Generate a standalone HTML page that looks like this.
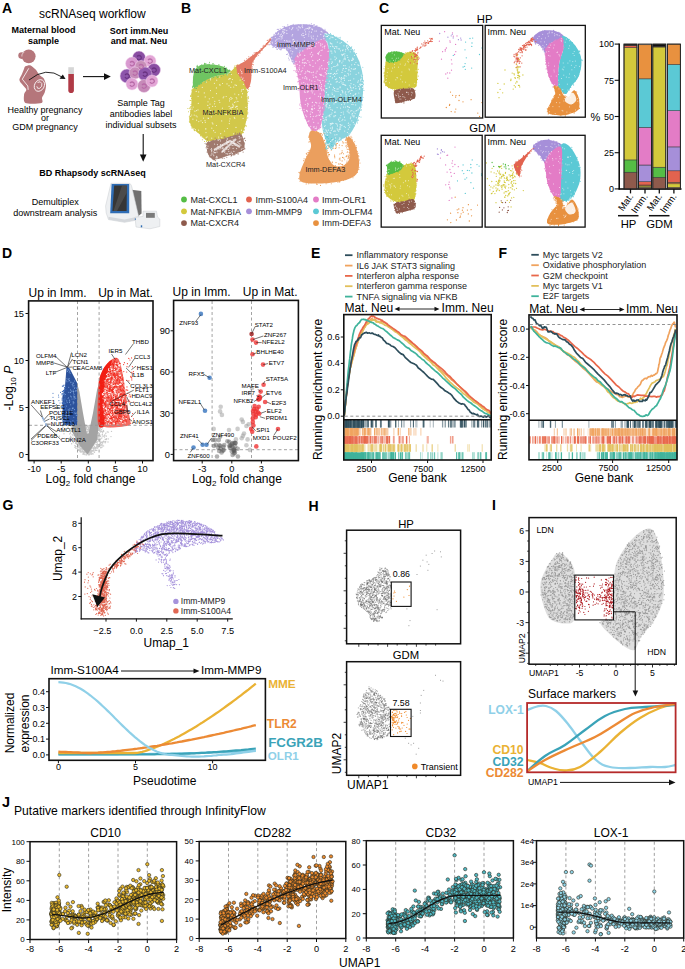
<!DOCTYPE html>
<html><head><meta charset="utf-8"><style>
html,body{margin:0;padding:0;background:#fff;}
svg{display:block;font-family:"Liberation Sans",sans-serif;}
.jc circle{r:1.7px;}
</style></head><body>
<svg width="685" height="969" viewBox="0 0 685 969">
<rect width="685" height="969" fill="#fff"/>

<text x="2" y="13" font-size="14" font-weight="bold" fill="#000">A</text>
<text x="39" y="17.5" font-size="12">scRNAseq workflow</text>
<text x="43.5" y="33" font-size="9" font-weight="bold" text-anchor="middle">Maternal blood</text>
<text x="43.5" y="44" font-size="9" font-weight="bold" text-anchor="middle">sample</text>
<text x="139" y="33.5" font-size="9" font-weight="bold" text-anchor="middle">Sort imm.Neu</text>
<text x="139" y="44" font-size="9" font-weight="bold" text-anchor="middle">and mat. Neu</text>
<circle cx="28.7" cy="56.3" r="6.9" fill="#b5767b"/>
<circle cx="21.6" cy="55.6" r="3.3" fill="#b5767b"/>
<path d="M21.9 56.5 C21.6 54 22.8 52.8 24.2 52.5" stroke="#fff" stroke-width="0.6" fill="none"/>
<path d="M25.4 66.3C26.3 65.8 29.2 64.9 30.6 65.4C32 65.9 34.7 68.5 35.9 69.8C37.1 71.1 38.3 73.8 39.4 75C40.5 76.2 42.9 77.1 43.8 78.5C44.7 79.9 45.9 83.6 46 85.5C46.1 87.4 45.2 90.9 44.7 92.5C44.2 94.1 42.4 96.4 42 97.8C41.6 99.2 43.8 102.3 41.6 103C39.4 103.7 27.7 104.2 25.4 103C23.1 101.8 24 96.1 24.1 94.3C24.2 92.5 26.7 91 26.3 89.5C25.9 88 21.9 84.3 21 83C20.1 81.7 19.3 80.5 19.4 79.4C19.5 78.3 20.9 76.4 21.5 75C22.1 73.6 23.5 70.2 24 69C24.5 67.8 24.5 66.8 25.4 66.3Z" fill="#b5767b"/>
<path d="M28.8 68.3 L22.3 79.2 L27.8 86 L28.2 89.8" stroke="#fff" stroke-width="0.8" fill="none" stroke-linejoin="round"/>
<ellipse cx="39.4" cy="85.5" rx="4.8" ry="6.1" fill="none" stroke="#fff" stroke-width="0.8" transform="rotate(30 39.4 85.5)"/>
<path d="M37.6 82.5 q3 -2 4.2 1 q0.8 3 -2 4.8 q-2.8 1 -3 -2" fill="none" stroke="#fff" stroke-width="0.8"/>
<path d="M29 80 Q46 66 62 77" stroke="#111" stroke-width="0.9" fill="none"/>
<path d="M65.5 79 L59.5 78.8 L62.8 74.4 Z" fill="#111"/>
<rect x="68.3" y="67.2" width="5.6" height="7" fill="#d6d6d6"/>
<path d="M68.3 74 h5.6 v16.3 a2.8 2.8 0 0 1 -5.6 0 Z" fill="#b03a46"/>
<line x1="83" y1="76.6" x2="106" y2="76.6" stroke="#111" stroke-width="1.1"/>
<path d="M110.8 76.6 L104 73.3 L104 79.9 Z" fill="#111"/>
<circle cx="139" cy="57.5" r="6.5" fill="#8a4ea3" stroke="#f3d7ee" stroke-width="0.5"/>
<circle cx="132" cy="63.5" r="6.5" fill="#d99ad0" stroke="#f3d7ee" stroke-width="0.5"/>
<circle cx="150" cy="61" r="6" fill="#e3a6d6" stroke="#f3d7ee" stroke-width="0.5"/>
<circle cx="141" cy="66.5" r="6" fill="#c890b8" stroke="#f3d7ee" stroke-width="0.5"/>
<circle cx="127" cy="76" r="7" fill="#8d55ab" stroke="#f3d7ee" stroke-width="0.5"/>
<circle cx="154" cy="70" r="6.5" fill="#8a4ea3" stroke="#f3d7ee" stroke-width="0.5"/>
<circle cx="135" cy="73" r="6" fill="#c78cb9" stroke="#f3d7ee" stroke-width="0.5"/>
<circle cx="145" cy="74" r="7" fill="#8d55ab" stroke="#f3d7ee" stroke-width="0.5"/>
<circle cx="132" cy="84" r="6" fill="#e0a1d4" stroke="#f3d7ee" stroke-width="0.5"/>
<circle cx="144" cy="86" r="6.5" fill="#c68ab8" stroke="#f3d7ee" stroke-width="0.5"/>
<circle cx="152" cy="81" r="6" fill="#e3a6d6" stroke="#f3d7ee" stroke-width="0.5"/>
<path d="M137 56.5 q2 -2 4 0 q1 2 -1 3 q-2 1 -3 -1" fill="none" stroke="#6b3382" stroke-width="1.2"/>
<path d="M130 62.5 q2 -2 4 0 q1 2 -1 3 q-2 1 -3 -1" fill="none" stroke="#b86aa8" stroke-width="1.2"/>
<path d="M148 60 q2 -2 4 0 q1 2 -1 3 q-2 1 -3 -1" fill="none" stroke="#b86aa8" stroke-width="1.2"/>
<path d="M139 65.5 q2 -2 4 0 q1 2 -1 3 q-2 1 -3 -1" fill="none" stroke="#b86aa8" stroke-width="1.2"/>
<path d="M125 75 q2 -2 4 0 q1 2 -1 3 q-2 1 -3 -1" fill="none" stroke="#6b3382" stroke-width="1.2"/>
<path d="M152 69 q2 -2 4 0 q1 2 -1 3 q-2 1 -3 -1" fill="none" stroke="#6b3382" stroke-width="1.2"/>
<path d="M133 72 q2 -2 4 0 q1 2 -1 3 q-2 1 -3 -1" fill="none" stroke="#b86aa8" stroke-width="1.2"/>
<path d="M143 73 q2 -2 4 0 q1 2 -1 3 q-2 1 -3 -1" fill="none" stroke="#6b3382" stroke-width="1.2"/>
<path d="M130 83 q2 -2 4 0 q1 2 -1 3 q-2 1 -3 -1" fill="none" stroke="#b86aa8" stroke-width="1.2"/>
<path d="M142 85 q2 -2 4 0 q1 2 -1 3 q-2 1 -3 -1" fill="none" stroke="#b86aa8" stroke-width="1.2"/>
<path d="M150 80 q2 -2 4 0 q1 2 -1 3 q-2 1 -3 -1" fill="none" stroke="#b86aa8" stroke-width="1.2"/>
<text x="141" y="106" font-size="9" text-anchor="middle">Sample Tag</text>
<text x="141" y="116.8" font-size="9" text-anchor="middle">antibodies label</text>
<text x="141" y="127.6" font-size="9" text-anchor="middle">individual subsets</text>
<text x="45" y="113" font-size="9" text-anchor="middle">Healthy pregnancy</text>
<text x="45" y="120.8" font-size="9" text-anchor="middle">or</text>
<text x="45" y="129.8" font-size="9" text-anchor="middle">GDM pregnancy</text>
<line x1="143.2" y1="134" x2="143.2" y2="156" stroke="#111" stroke-width="1.1"/>
<path d="M143.2 161.8 L139.9 154.5 L146.5 154.5 Z" fill="#111"/>
<text x="92.5" y="176" font-size="9" font-weight="bold" text-anchor="middle">BD Rhapsody scRNAseq</text>
<text x="55.2" y="205" font-size="9" text-anchor="middle">Demultiplex</text>
<text x="55.2" y="215.5" font-size="9" text-anchor="middle">downstream analysis</text>
<path d="M131.5 189.8 L141.3 191 L141.6 213.5 L137.5 216.8 Z" fill="#707070"/>
<path d="M111 183.3 L129.3 183.3 Q131 183.8 131.6 186 L138.6 216.2 L138.6 219.8 L124.5 222.3 L108.5 219.6 L106.2 213 L105.6 206 Z" fill="#eef0f2" stroke="#c9ccd0" stroke-width="0.5"/>
<path d="M111.6 184 L129.2 184 L129.2 213.3 L110.2 213.3 Z" fill="#2f6db5"/>
<path d="M114.2 185.6 L126.9 185.6 L126.6 211 L112.4 211 Z" fill="#363636"/>
<path d="M122 185.6 L126.9 185.6 L126.6 193 L117 211 L113.5 211 Z" fill="#5a5a5a" opacity="0.6"/>
<path d="M108.5 216.8 L124.5 219.5 L138.6 216.6 L138.6 219.8 L124.5 222.3 L108.5 219.6 Z" fill="#d5d8dc"/>
<path d="M135 217.2 L143 216.5 L143 211.2 L156.5 211.2 L157.5 217 L159.8 219 L159.8 226.5 L150 228.8 L136 227 Z" fill="#eef0f2" stroke="#c9ccd0" stroke-width="0.5"/>
<rect x="146" y="212.9" width="8.8" height="4.9" fill="#7a7a7a"/>
<rect x="140.8" y="225.3" width="1.4" height="2" fill="#2f6db5"/>
<rect x="134.8" y="218.5" width="1.2" height="1.2" fill="#2f6db5"/>
<text x="181" y="12.5" font-size="14" font-weight="bold" fill="#000">B</text>
<path d="M229.5 72.3C232.2 70.8 235.6 65.9 238 66C240.4 66.1 242.6 70 244 73C245.4 76 245.9 79.7 246.5 84C247.1 88.3 247.3 94.3 247.5 99C247.7 103.7 247.9 107.5 247.5 112C247.1 116.5 246.2 121.9 245 126C243.8 130.1 242.8 134.4 240 136.5C237.2 138.6 231.8 138 228 138.5C224.2 139 220.2 139 217 139.5C213.8 140 211.2 142.3 208.5 141.6C205.8 140.9 203.8 137.8 201 135.4C198.2 133 193.9 129.9 192 127C190.1 124.1 189.5 121 189.3 118.1C189.2 115.2 190.7 112.5 191.1 109.4C191.5 106.3 191.3 102.8 191.5 99.5C191.7 96.2 190.7 92.5 192.4 89.6C194.2 86.7 198.7 84.3 202 82.2C205.3 80.1 208.7 78.4 212 77.2C215.3 76 219.1 75.6 222 74.8C224.9 74 226.8 73.8 229.5 72.3Z" fill="#d2c84a" fill-opacity="1"/>
<path d="M201.1 135.9h0M201 80.6h0M244.5 126.5h0M246.6 79.5h0M232.1 137.6h0M216.3 76.2h0M247.8 103.2h0M212 140.3h0M217.5 76.6h0M244.6 78.4h0M205.8 81.3h0M191.3 106.4h0M238.7 137.8h0M202.4 139.8h0M247.5 92.5h0M192.3 95.2h0M208.3 78.7h0M194.7 129.9h0M244.9 83.6h0M241.9 72.3h0M190.1 107.6h0M236.7 67.5h0M191.6 98.4h0M236.2 136.7h0M244.4 117.7h0M190.7 111.6h0M194.3 130.2h0M244.5 75.7h0M192.6 92h0M246.6 105.4h0M246.1 107.8h0M242.4 67.4h0M205.5 80.5h0M192.5 126.7h0M246.9 113.3h0M214.3 77.4h0M230.4 72.8h0M216.6 138.8h0M248.5 96.7h0M192.8 97.7h0M222.3 137.9h0M239.7 135.9h0M211.2 76.8h0M245.7 81.6h0M246.8 118.2h0M195.9 89h0M241.7 133h0M236 137h0M235.6 67.4h0M227 73.2h0M191.9 127.9h0M233.8 138.4h0M226.9 72.9h0M246.8 82.9h0M243.4 132.6h0M209.4 140.5h0M192.8 104.9h0M246.3 126.1h0M192.6 102.9h0M191.3 94h0M248 97.7h0M248 91.5h0M241.1 135.4h0M212.8 139.7h0M207.7 81.7h0M192 126.3h0M197.5 85.9h0M201.5 81.3h0M246.1 120h0M247.3 103.9h0M202.3 137.1h0M248 97.5h0M241.4 71.3h0M244.2 77.1h0M194.1 89.3h0M192 95.7h0M218.4 139h0M191.9 108.8h0M245.1 80.7h0M210.8 140.8h0M201.7 132.4h0M232.8 139.2h0M245.3 125.3h0M190.2 110h0M198.1 132.5h0M206.3 79h0M198 85h0M229 138.9h0M244.1 73.9h0M189.7 108.5h0M192.7 125h0M209.3 141.6h0M190.9 110.5h0M247.7 82.8h0M244.8 76h0M207.4 79.4h0M241.2 70.2h0M247.8 117.8h0M212.8 141.7h0M247.9 112.7h0M238 64.8h0M242.5 132.5h0M188.5 111.8h0M195.5 88h0M240.5 133.4h0M191.2 118h0M230.1 71.1h0M246.9 111.9h0M198.7 85.4h0M216.9 140.3h0M234.3 70h0M207.3 81h0M244.2 129.8h0M191.3 96.1h0M230.5 71.2h0M213.3 77.2h0M240.9 136.2h0M247.1 105.5h0M189.7 119h0M210.7 140.8h0M198.2 83.1h0M247.5 109.5h0M234.7 66h0M240.4 137h0M246.6 89.7h0M234.3 67.3h0M235.5 70.4h0M201.3 81.5h0M192.4 97.4h0M243.2 127.5h0M192.5 125.9h0M241.5 70h0M246.6 102.1h0M226.6 73.4h0M217.9 139.9h0M190.6 96.5h0M192.7 101.8h0M208.9 141.5h0M187.9 108.5h0M225.7 137.7h0M246.2 80.3h0M200.3 133.2h0M247.5 96.7h0M193.2 97.7h0M191.1 104.4h0M191.2 124.1h0M203.9 138h0M236.9 67.6h0M191.2 123.2h0M191.2 110.9h0M242.5 74.1h0M227.5 138.8h0M193.7 128.9h0M190.7 118.4h0M244 72.5h0M247.4 107.7h0M202.4 81.7h0M214.7 138.6h0M189.8 122.4h0M191.4 125.6h0M200.4 82.9h0M200.5 135.6h0M244.4 129.7h0M206.6 141.4h0M235 68.1h0M194.2 89.7h0M192.3 96.6h0M198 83.8h0M244.7 77h0M190.6 106.8h0M229.1 72.3h0M192 89.9h0M201.4 83.1h0M248.3 89.5h0M247.2 96.7h0M191.1 108.5h0M248.8 101.3h0M208 140.6h0M190.8 112.3h0M201.7 83.3h0M218.7 74h0M216.2 137.8h0M191.7 94.2h0M190.5 112.2h0M192 90.4h0M232.6 137.5h0M242 69.9h0M191.9 123.7h0M192.4 89.1h0M244.1 130.1h0M215.1 138.8h0M234.5 137.3h0M222.6 74.9h0M223.4 74.6h0M190.6 122.2h0M248.3 98.6h0M244.8 121h0M210.7 141.6h0M205.5 139.1h0M245.4 76.7h0M243.2 129.1h0M189.3 116.7h0M211.5 78.5h0M190 100.2h0M192.2 126.7h0M239.5 65.7h0M204.5 141.5h0M239.4 67h0M224.5 137.5h0M244.2 74.4h0M190.9 100.5h0M191.6 111.9h0M236.2 65.4h0M247.1 107.7h0M193 128.1h0M190 120.7h0M240.3 69.2h0M191.7 110.4h0M241.9 76.7h0M191.9 108.5h0M231.9 136.8h0M247.1 96.5h0M223.8 138.2h0M237.8 137.7h0M214.6 77h0M234.1 139.3h0M192.4 100.3h0M230.2 138h0M216.3 140.4h0M215 77.3h0M246.3 120h0M229.3 70.8h0M244.7 126.6h0M227.3 136.3h0M235.6 67.7h0M224.9 75.7h0M205.3 80.8h0M202.1 81.1h0M189.4 121.2h0M215 140.9h0M199 132.1h0M194.4 130.6h0M233.5 70h0M245.8 76.7h0M247.7 114h0M191.1 125.5h0M193.7 88.8h0M246.1 125.7h0M243.6 128.9h0M190.7 95.5h0" stroke="#d2c84a" stroke-width="1.1" stroke-linecap="round" fill="none"/>
<path d="M193.6 87.2C192.2 85.5 193.1 75.5 194 72C194.9 68.5 196.8 67.2 199 66C201.2 64.8 203.6 64.6 207 64.5C210.4 64.4 216 64.6 219.6 65.5C223.2 66.4 226.7 68.7 228.3 69.8C230 70.9 230.6 71.5 229.5 72.3C228.4 73.1 224.9 74 222 74.8C219.1 75.6 215.5 76 212.2 77.2C208.9 78.4 205.4 80.5 202.3 82.2C199.2 83.9 195 88.9 193.6 87.2Z" fill="#6fc462" fill-opacity="1"/>
<path d="M197.2 65.3h0M205 63.9h0M195.2 85.9h0M208.1 64.3h0M228.5 71.7h0M206 63.9h0M193.4 77.9h0M216 75.5h0M227.2 74.1h0M228.6 71h0M192.7 87.4h0M194.9 86.3h0M218.9 76.1h0M227.3 70.5h0M195.2 88.2h0M228.9 71.7h0M202.3 80.2h0M195.6 74.1h0M196.1 70.7h0M204.4 64.3h0M229 72.2h0M200.1 83.1h0M201.3 82.2h0M197.8 85h0M201.7 64.8h0M230.2 73.6h0M199.7 68h0M214.7 75.1h0M193.3 70h0M229.9 70.4h0M229.3 71h0M197.6 86.5h0M224.3 66.4h0M229.2 70.9h0M223.9 68.6h0M193.9 86.6h0M192.8 86h0M208.9 80.3h0M199.9 84.3h0M200.8 65.5h0M203.1 65.5h0M223.1 67.4h0M202.3 80.9h0M194.1 86.1h0M192.6 86.3h0M209.4 64.4h0M198 84.8h0M212.6 63.9h0M223.8 75.1h0M226.7 68.1h0M216.9 76.6h0M220.9 74.5h0M195 70h0M225.7 69.8h0M226.7 72.7h0M225.9 68.1h0M212 78h0M218.9 64.6h0M227.2 75.3h0M208.4 78.2h0M193.6 79.3h0M225.4 69.7h0M194.5 86.9h0M198.6 70.6h0M194.5 87.8h0M193.8 76.2h0M196.5 88.4h0M205.2 82.5h0M228.8 73h0M195.4 71.9h0M197.6 66.4h0M195 69.8h0M222.2 67h0M229.3 70h0M228.3 71h0M226 68.4h0M226.5 74.2h0M194.2 81h0M196.6 69.6h0M210.4 75.5h0M195 82.8h0M204.6 63.2h0M210.4 78.2h0M218.9 66h0M197.7 69h0M196.5 69h0M222.8 73.5h0M193.4 82.5h0M205.7 81.1h0M219.8 66.4h0M196.2 86.2h0M204.7 65.1h0M226.9 70.9h0M199.6 84.6h0M213.2 66.7h0M201.4 83.6h0M228.6 71.9h0M213.4 63.9h0M207.5 65.1h0M205.2 63.7h0M209.1 64.2h0M228 73.6h0M222.9 74h0M221.7 76.5h0M194.8 75.4h0M196 83.6h0M194.3 85.2h0M217.7 77.4h0M226.4 73.8h0M200 66.1h0M193.4 86.3h0M206.1 64.8h0M213.7 77.5h0M209.5 62.3h0M209.4 78h0M214.6 65.1h0M226.9 72.4h0M220 66.6h0M196.6 66.7h0M221.9 66.8h0" stroke="#6fc462" stroke-width="1.1" stroke-linecap="round" fill="none"/>
<path d="M208.5 141.6C211.1 140.3 216.8 140.2 222 139C227.2 137.8 235.8 134 239.4 134.2C243 134.4 242.7 137.5 243.5 140C244.3 142.5 245.2 146.8 244 149C242.8 151.2 238.4 152.4 236 153.5C233.6 154.6 233.1 154.3 229.5 155.3C225.9 156.3 218.2 159.6 214.7 159.5C211.2 159.4 209.8 157.2 208.5 155C207.2 152.8 206.6 148.8 206.6 146.6C206.6 144.4 205.9 142.9 208.5 141.6Z" fill="#a07a6e" fill-opacity="1"/>
<path d="M214.9 158.1h0M207.4 146.9h0M209.2 146.7h0M214.6 159.8h0M243.1 144h0M239.7 134.8h0M222.2 158.5h0M240.9 139.1h0M243.1 142.9h0M217.7 158.4h0M240.6 149.9h0M211.1 156.5h0M234.7 154.7h0M237.9 134h0M240.8 138.4h0M212.1 141.4h0M207.2 146.7h0M213.8 159.7h0M209.2 152.7h0M235 134.7h0M242 148.7h0M210.9 156.8h0M226.8 157.2h0M216.3 139.5h0M241.8 144h0M210 142.6h0M211.1 155.7h0M214.4 158.9h0M233.2 154.9h0M231.7 155.6h0M239.3 133h0M234.9 152.9h0M208.1 149.9h0M231.5 153.6h0M240.3 150.6h0M236.6 153.5h0M209.4 156.7h0M243.4 149.5h0M212.9 140.2h0M206.7 146.5h0M242.2 147.7h0M220.3 138.8h0M206.2 144.5h0M225.1 137h0M239.9 135h0M237.4 133.8h0M241.9 138.5h0M242.7 149.9h0M208.1 143.3h0M208.4 142.5h0M221.9 157.2h0M215.1 138.1h0M241 137.2h0M213.5 158.7h0M207.2 139h0M226.6 138.7h0M238.3 153.9h0M242.1 140.8h0M243.6 139.1h0M212.5 157.1h0M218.4 139.7h0M206.1 147.7h0M244 138.6h0M232.7 153.7h0M240.3 134.1h0M241.1 138.3h0M209.1 154h0M240.7 149.3h0M205.1 143.2h0M241.5 138.7h0M243.1 142.1h0M243.9 147.3h0M243.1 152.1h0M213.7 142.5h0M208.6 145.6h0M208 148.8h0M230.4 136.5h0M244.6 143.1h0M243.8 148.3h0M224.2 158.2h0M224.2 136.9h0M207.2 152.3h0M244.3 143.1h0M231.1 155.9h0M241.4 135.1h0M228.1 137.3h0M231.4 155.6h0M210.3 143.3h0M206.8 143.8h0M242.2 150.4h0M208.4 142.1h0M243.8 149.1h0M216.8 139.3h0M235.6 133.1h0M225.2 137.2h0M207.2 151.9h0M244 149.2h0M237.7 153.7h0M221.5 139.9h0M215.4 160.6h0M243.4 147.4h0M229.5 137.5h0M233.2 155h0M244 138.8h0M244.9 148.8h0M239.7 133h0M244.8 138.1h0M216.3 158h0M234 154.6h0M235.1 154.1h0M212.5 158.6h0M240.7 151.1h0M207.9 142.9h0M212.9 159.3h0M245.4 140.6h0M244 144.6h0M243.3 149.1h0M244.6 148.8h0M239.5 133.7h0M213.3 140.4h0" stroke="#a07a6e" stroke-width="1.1" stroke-linecap="round" fill="none"/>
<path d="M237 66.5C238 64.3 241.7 63.4 244.4 61.5C247.1 59.6 250.5 56.8 253 55C255.5 53.2 257.7 52 259.5 50.5C261.3 49 262.2 47.8 264 46C265.8 44.2 268.6 40.8 270 39.5C271.4 38.2 273.3 37.2 272.5 38.5C271.7 39.8 267.8 43.9 265 47C262.2 50.1 258.2 54 256 57C253.8 60 252.8 60.9 252 64.9C251.2 68.9 251.8 77 251 81C250.2 85 248.8 89 247.5 89C246.2 89 244.7 83.4 243.2 81C241.7 78.6 239.5 77.2 238.5 74.8C237.5 72.4 236 68.7 237 66.5Z" fill="#e37a66" fill-opacity="1"/>
<path d="M265.5 46.2h0M256.1 53.6h0M267.8 42.7h0M242.6 80.5h0M237.6 73.5h0M265.8 45.8h0M247.7 87.2h0M248.8 56.8h0M240.5 64.4h0M247.8 87.9h0M241.4 77.6h0M256.9 52.4h0M245.8 86h0M252.6 64.3h0M272.4 37.3h0M272.7 37.9h0M240.2 65.9h0M259.4 51.9h0M239.7 65.9h0M253.7 56h0M238.3 65.8h0M263.3 45.3h0M254.3 59.1h0M251 57h0M259.8 52.5h0M248.6 59.7h0M237.7 72.1h0M272.1 38.2h0M266.4 43.8h0M241.2 64h0M271.7 38h0M237.6 65h0M237.2 71.2h0M259.8 50.4h0M267.9 44.2h0M252.6 55.1h0M238 65.8h0M259.9 51.8h0M236.9 65.8h0M247.8 84.9h0M241.6 64.4h0M271.1 40.6h0M272.4 39.6h0M253.3 64.7h0M254.2 52.9h0M268 44.7h0M245.7 83.7h0M251 69.1h0M270.1 38.7h0M258.3 55.3h0M261 48.9h0M244.9 63.6h0M270.7 39h0M260.9 48.7h0M248.9 58.5h0M253.2 60.5h0M250.1 58h0M255.5 52.7h0M263.1 46.5h0M256.7 56.3h0M261.8 48.9h0M247 87.9h0M241.2 78.1h0M252.2 66.8h0M250.8 75.3h0M262 50.5h0M253.3 61.9h0M240.5 76.3h0M265 45.2h0M251.8 72.4h0M271.7 37.9h0M268.9 40.1h0M237.1 68.1h0M269.7 39h0M267.4 42.8h0M270.2 42.8h0M256 55.6h0M246.8 58.8h0M252.2 68.2h0M267.3 40.4h0M271.7 38.5h0M272.3 39h0M254.9 57.8h0M273.7 38.6h0M266.3 43.6h0M262 48.7h0M249.8 86.2h0M249.6 86.3h0M242.9 80h0M266.5 43.5h0M237.4 65.5h0M270 39.8h0M256.4 52.6h0M256.2 52.7h0M244.4 60.2h0M251.9 70.7h0M247.7 88.3h0M271.8 39.5h0M236.5 66.9h0M259.9 53.3h0" stroke="#e37a66" stroke-width="1.1" stroke-linecap="round" fill="none"/>
<path d="M271.7 37.8C273.3 35.2 277.4 31.2 281.3 29C285.2 26.8 290.1 25.3 295.4 24.6C300.7 23.9 307.9 24 312.9 25C317.9 26 322.3 28.4 325.2 30.5C328.1 32.6 331 36 330.4 37.8C329.8 39.6 325.5 39.2 321.7 41.3C317.9 43.3 311.7 47.8 307.6 50.1C303.5 52.5 299.4 53.1 297.1 55.4C294.8 57.7 295.4 65 293.6 64.1C291.9 63.2 289.2 52.7 286.6 50.1C284 47.5 280.3 49.2 277.8 48.3C275.3 47.4 272.7 46.5 271.7 44.8C270.7 43 270.1 40.4 271.7 37.8Z" fill="#b3a4e0" fill-opacity="1"/>
<path d="M314.7 46.1h0M292.1 61.5h0M286.6 54.5h0M302 49.9h0M299 56h0M280.5 49.8h0M275.1 45.7h0M298.3 24.8h0M326.6 34.2h0M315.2 41.8h0M309.5 49.3h0M317.9 28.6h0M328.3 35.9h0M277.5 49.3h0M269.6 44.7h0M271.1 43.7h0M317.2 44.4h0M302.5 54.1h0M313.5 25h0M300.8 53.9h0M291.4 58.4h0M281.2 48.9h0M273.6 39.8h0M300.4 25h0M309.1 25.7h0M284.1 27.6h0M272.6 43.1h0M316.9 25.5h0M328.6 38.1h0M279.7 49.3h0M275.8 32.8h0M321 40.2h0M316.2 43.8h0M284.5 27.3h0M286.9 50.2h0M323.3 30.8h0M295.5 57.5h0M319.7 27.2h0M309.7 45.9h0M293.2 24.4h0M278.5 29.2h0M322.3 29h0M271.7 37.9h0M274.9 45.7h0M318.8 28.1h0M314.7 46.4h0M271.8 44.4h0M278.7 33.6h0M271.7 43.5h0M272.1 45.1h0M311.4 23.8h0M325.3 31.3h0M283.9 28.7h0M273 46.8h0M274 34.2h0M325.6 41.6h0M288.6 58.1h0M297.3 58.4h0M303.9 25.3h0M314 26.7h0M314.2 24.6h0M290.6 26.1h0M325.6 38.9h0M300.6 56.3h0M271.7 40.3h0M275.4 47.2h0M315 44.6h0M321.4 39.7h0M273.8 46.9h0M309.7 25.1h0M301.3 26.3h0M285.6 47.6h0M272.8 47.3h0M326.6 40h0M323.1 41.1h0M287.8 24.9h0M276.1 47.2h0M315.2 46.5h0M289.8 56h0M303.7 24.7h0M279 30.4h0M331.7 35.8h0M272 41.6h0M275.7 33.8h0M308.2 49.9h0M276.4 49h0M287.6 54.1h0M292.9 59h0M282 48.1h0M293.7 61.2h0M324.6 41.4h0M325.6 38.7h0M324.2 37.9h0M320.8 28.9h0M278.8 48.1h0M324.7 39.2h0M285.3 27.8h0M277.7 47.2h0M283 26.5h0M319.9 29.6h0M293 24.9h0M312.3 46.7h0M294.7 58.2h0M291.5 25.9h0M298.3 55h0M319.9 27.5h0M271.4 40.7h0M271.2 37.2h0M327.6 33.4h0M291.1 25.2h0M273.5 47h0M323.4 40.4h0M324.5 32.8h0M325.7 40.8h0M285.6 28.9h0M280.2 28.8h0M325 29.3h0M307 50.8h0M273.3 45.2h0M281.5 47.5h0M327.2 32.4h0M307.1 50.7h0M297.6 60.1h0M284.6 26.6h0M311.6 48.3h0M304.6 51h0M285.4 27.2h0M306.4 25h0M323.4 41.5h0M327 40.1h0M309.7 26h0M277.7 31.6h0M316.9 43.7h0M289 55.7h0M275.7 47.4h0M321.3 28h0M323.7 39.7h0M271.3 37.3h0M270.2 44.2h0M316 26.5h0M277.3 29.4h0M271.1 42.1h0M325.6 31.1h0M281.1 49.8h0M329.5 36.9h0M275.7 45.7h0M330.8 40.6h0M289.2 59.9h0M321.3 39.4h0M292.8 26h0" stroke="#b3a4e0" stroke-width="1.1" stroke-linecap="round" fill="none"/>
<path d="M325.2 34.3C326.7 32.2 332.8 35.2 337.5 37.8C342.2 40.4 349.1 44.6 353.2 50.1C357.3 55.6 360.4 63.8 362 71.1C363.6 78.4 363.5 86.3 362.9 93.9C362.3 101.5 360.7 110.1 358.5 116.8C356.3 123.5 353.2 130.2 349.7 134.3C346.2 138.4 340.7 139 337.5 141.3C334.3 143.6 332.8 149.8 330.4 148.3C328 146.8 324.8 138.3 323.4 132.5C321.9 126.7 321.5 121.1 321.7 113.2C321.9 105.3 323.1 95.7 324.3 85.2C325.5 74.7 328.6 58.6 328.7 50.1C328.8 41.6 323.7 36.3 325.2 34.3Z" fill="#8ad3de" fill-opacity="1"/>
<path d="M360.6 104.7h0M362.9 88.3h0M362.5 92.8h0M340.3 37.2h0M325.3 132.5h0M323.3 126.5h0M327 138.2h0M326.9 36.8h0M321.3 98.2h0M353.4 51.5h0M323.9 92.5h0M346.4 136.1h0M353.9 126.6h0M322.5 118.2h0M328.4 36.4h0M342.4 43h0M321.6 96.1h0M322.6 123.1h0M328.1 68.8h0M325 91.4h0M360.4 102h0M361.1 94.4h0M326.3 36h0M340.7 139.7h0M353.5 52.4h0M329.1 46.8h0M362.8 67.3h0M330.2 47.9h0M362.9 80.5h0M349.9 133.1h0M327.1 37h0M351.7 46.8h0M356.8 117.4h0M337.6 140.3h0M362.6 93.5h0M356.8 118.6h0M355.6 114.1h0M329.7 45.8h0M359.4 116.5h0M340.2 42.1h0M353.7 54.9h0M363.1 83.8h0M326.3 70.2h0M358.8 61.4h0M324.2 114.6h0M326.4 36.1h0M358.5 120.1h0M342.9 41.5h0M339.2 140.4h0M362 75.5h0M357.8 62h0M351.4 47.5h0M352.3 49.6h0M358.7 61.1h0M329.3 144.6h0M347.4 41.8h0M343.7 45.2h0M362.6 88.5h0M362.5 99.9h0M329.2 35.3h0M330.5 35.8h0M359.2 103.3h0M326.6 60.6h0M346.2 138.6h0M341.3 138.9h0M363.4 84.5h0M324.4 118.3h0M323.2 108.2h0M324.2 82.5h0M322.2 99.7h0M323.3 130.1h0M326.9 142.6h0M324.5 90.2h0M342 42.4h0M325.8 91h0M321.6 106.3h0M330.5 148.6h0M324.7 130.4h0M328.1 143.2h0M357.4 122.9h0M338.5 141.8h0M325.1 89.2h0M348.7 135.9h0M342.5 41h0M361.9 104.9h0M331.3 146.6h0M328 47.3h0M355.6 57.7h0M354.2 125.1h0M328.6 144.9h0M353.3 55.8h0M362.1 99h0M323.5 99.7h0M328.2 42.9h0M325 71.1h0M357.1 116.8h0M360.2 103h0M324.9 128.5h0M358.6 120.2h0M348.3 48.1h0M329.5 146.2h0M345.5 45.4h0M342.1 137.6h0M336 145.6h0M333.4 35.4h0M336.3 38.6h0M340.9 140.3h0M347.9 45h0M325.8 47.3h0M362.2 87.4h0M328 58.4h0M340.2 139.5h0M357.6 120h0M328.4 145h0M359.6 110.3h0M341.1 139.9h0M340.5 139.2h0M362.6 75.8h0M332.7 145.3h0M325.7 45.2h0M321.3 113.1h0M338.2 140.7h0M362.2 91.1h0M324.4 33.9h0M326.6 69.3h0M339.7 140.8h0M350.1 47.8h0M327.2 64.2h0M323.6 90.9h0M326.2 137.2h0M361.7 83h0M350.9 50.4h0M358.6 110.5h0M337 38.1h0M335.6 144.9h0M352.1 128.2h0M361.8 100.8h0M326.8 42.8h0M354.6 122.8h0M325.8 138h0M356.7 58.6h0M361 117.1h0M326.4 141.1h0M328 36.1h0M363.5 80.9h0M325.5 137.6h0M326.1 35.3h0M360.2 92.8h0M357.4 121h0M355.3 57.4h0M327.7 73.9h0M328 48.8h0M330.2 147.5h0M325.1 34.4h0M321.5 94.9h0M343 41.8h0M359.1 64.1h0M323.3 88.8h0M339.2 39.8h0M361.5 107.1h0M359.1 62.3h0M358.9 76.3h0M361.8 87.5h0M339 37.5h0M326.7 40.9h0M349.8 47.8h0M330 35.4h0M323.2 116.1h0M362.4 75.2h0M336.3 37.7h0M336.8 37.1h0M361.9 100.5h0M354.4 49.9h0M349.5 133.9h0M326.3 138.5h0M356.6 53.5h0M330.7 50.9h0M336.2 141.4h0M348.8 46.4h0M321 112.7h0M323.1 93.7h0M332.7 145.4h0M330.1 51.2h0M324.8 36.7h0M324.4 90.5h0M323.1 122h0M325.9 39.9h0M360.9 75.8h0M335.7 144.3h0M330.5 33.6h0M323.1 92.5h0M340.1 38.7h0M324.3 94.7h0M326.6 33.6h0M326.2 43.1h0M356.4 58.2h0M333 146.1h0M363 97.4h0M326.1 136.8h0M330.8 34.9h0M349.5 134.2h0M322.9 115.2h0M346.5 133.4h0M363.9 90.4h0M326.5 36.9h0M332.4 143.6h0M319.7 109.6h0M327.1 139.3h0M361.5 109.9h0M335.3 144.1h0M326 64h0M321.1 110.4h0M330.7 51.7h0M321.3 110.6h0M323.9 132.2h0M336.7 37.6h0M360.9 96.4h0M338.2 39.2h0M360.2 110.3h0M332.1 35.5h0" stroke="#8ad3de" stroke-width="1.1" stroke-linecap="round" fill="none"/>
<path d="M297.1 55.4C301.5 51.3 316.4 40.5 321.7 39.6C327 38.7 327.7 45.4 328.7 50.1C329.7 54.8 328.4 61.7 327.8 67.6C327.2 73.4 325.9 77.9 325.2 85.2C324.5 92.5 324.3 104.5 323.4 111.5C322.5 118.5 321.6 124.1 319.9 127.3C318.1 130.5 315.2 132 312.9 130.8C310.6 129.6 307.9 125 305.9 120.3C303.8 115.6 301.8 109.1 300.6 102.7C299.4 96.3 299.8 88.1 298.9 81.7C298 75.3 295.7 68.5 295.4 64.1C295.1 59.7 292.7 59.5 297.1 55.4Z" fill="#e58ed0" fill-opacity="1"/>
<path d="M294 70.6h0M320.9 123h0M300.9 92.7h0M328.6 53.3h0M324.3 105.4h0M313.3 45.8h0M320.4 127.5h0M311.1 129.7h0M325.9 47.4h0M311.7 130.1h0M308.9 125.9h0M323 113.4h0M296.1 70.4h0M324.3 94.5h0M324.5 108.3h0M298.7 53.6h0M319.5 123.2h0M328.9 49.6h0M313.5 128h0M329.5 61.1h0M294 64.2h0M295.9 57.5h0M323 118.9h0M300 108.5h0M324.8 89h0M320.7 127.6h0M325.2 78.5h0M322.9 104.1h0M327.8 51.3h0M305.2 118.4h0M297.2 76.4h0M297.3 59.8h0M298.2 89.9h0M326.2 74h0M324.1 43h0M321 115.4h0M312 128.3h0M304 110.1h0M312.4 131h0M319.3 126.6h0M302.2 108.2h0M301.4 91.8h0M316.9 43.6h0M298.4 77.1h0M315.7 128.7h0M317.8 42.5h0M324.5 87.2h0M307.1 119.7h0M327.3 74.6h0M325.7 106.2h0M308.4 49.9h0M326.3 82.8h0M326 104.1h0M297.4 58.9h0M320.9 126.1h0M295.7 71.7h0M300.4 89.4h0M314.9 42.7h0M316.4 42.8h0M326.3 50.2h0M307.5 119.5h0M308.5 121.1h0M302.2 110.3h0M324.6 102.2h0M324.6 109.9h0M297.8 59.6h0M319.7 127.8h0M301.5 91.9h0M327 45h0M301.6 103.5h0M299.8 104.9h0M328 68.6h0M324.1 39h0M308.5 125.3h0M297 54.9h0M294.5 63.8h0M297.5 66.4h0M307.5 123.6h0M309.4 124.8h0M326.3 67h0M326.1 78.5h0M328.1 49.2h0M312.7 132.6h0M327 81.6h0M299 84h0M310.5 47.4h0M296.3 64.2h0M301.1 93h0M315.4 130.5h0M303.6 109.5h0M299.7 89.8h0M312.5 44.2h0M298.9 81.3h0M301.1 106.1h0M295 66.2h0M298 81.9h0M322.5 42.6h0M322.2 41.4h0M322.8 87.4h0M328.2 67.9h0M296.9 58.4h0M312.8 130.2h0M296.9 57.7h0M316.2 44.4h0M315.6 130.6h0M324.2 96.1h0M324.6 107.6h0M329.7 57.7h0M309.2 120h0M322.4 116.9h0M304.6 49.8h0M323.5 110.8h0M320.2 124h0M321.7 118.5h0M329.1 50.8h0M296.6 72.3h0M302.7 108.1h0M327.3 69.4h0M295.2 58.9h0M327.7 60.4h0M295.2 62.2h0M300.3 52.9h0M298.1 81.4h0M299.6 80.9h0M322.3 40.3h0M321.6 112.1h0M295.2 63.9h0M312.3 129.4h0M316.4 132.4h0M326.9 48.9h0M328.1 67.5h0M325.3 81h0M318.3 42.2h0M296.3 70.8h0M303 54.8h0M319.2 128.9h0M300.6 54.6h0M327.1 67.5h0M328.8 51.8h0M321.8 112.4h0M327.2 56.3h0M327.4 77.9h0M323.2 114.8h0M297.4 53h0M325.9 72.8h0M324.8 44h0M327 43.7h0M317.1 129.1h0M321.9 119.4h0M299.1 55.9h0M301.9 89.9h0M320.3 127.3h0M325.6 76.7h0M322.1 42.7h0M308.6 123.9h0M298.2 77.5h0M322.8 111.5h0M326.3 90h0M300.2 103.2h0M310.4 48.1h0" stroke="#e58ed0" stroke-width="1.1" stroke-linecap="round" fill="none"/>
<path d="M311 131C312.8 130.4 317.7 131.3 320 133.5C322.3 135.7 323.7 140.1 325 144C326.3 147.9 326.5 153.4 328 157C329.5 160.6 331.3 164.1 334 165.5C336.7 166.9 341.3 166.9 344 165.5C346.7 164.1 349.3 160.2 350 157C350.7 153.8 348.6 149 348 146C347.4 143 346.2 140.4 346.5 139C346.8 137.6 348.5 136.3 350 137.5C351.5 138.7 354 142.1 355.5 146C357 149.9 358.8 156.3 359 161C359.2 165.7 359 170.8 356.5 174C354 177.2 349.8 178.9 344 180.5C338.2 182.1 329 183.2 322 183.5C315 183.8 305.7 183.6 302 182C298.3 180.4 299.2 177.7 299.7 174C300.2 170.3 303.1 164.5 305 160C306.9 155.5 310.3 150.8 311 147C311.7 143.2 309 139.7 309 137C309 134.3 309.2 131.6 311 131Z" fill="#eb9f5e" fill-opacity="1"/>
<path d="M308.5 137.1h0M358.8 156.2h0M349.5 159.7h0M326.9 149h0M342 166.5h0M346.6 147.7h0M313.8 131.9h0M359 167.2h0M349.2 152.4h0M349.6 152.7h0M356.2 147.6h0M316.2 131.5h0M313 129.9h0M300.6 176.9h0M347 143.3h0M344.7 166.3h0M320.4 135.5h0M306.2 183.9h0M347.6 139.7h0M339.9 181.7h0M320.9 134.1h0M347.9 158.8h0M353.6 143.2h0M329.2 160.8h0M357.5 172.5h0M326.8 152.9h0M346.2 139.6h0M350.6 138.9h0M310.6 133.9h0M313.9 133.8h0M345.4 164.4h0M343.5 180.5h0M345.2 179.7h0M356.9 166h0M347.5 141.1h0M299.4 172.8h0M325.4 150.4h0M306.8 154.1h0M348.2 156.9h0M347.6 163.3h0M353.5 143.3h0M309.7 139.3h0M353.8 143.4h0M306.1 181.1h0M347.2 146.4h0M306.7 156.5h0M344.5 165.5h0M344.7 159.8h0M311.7 131.3h0M349 156.6h0M356.5 147.9h0M356.3 147.2h0M328.3 145.9h0M341.8 164.4h0M298.8 178.6h0M324.4 140.3h0M354.2 145.7h0M301.1 180.8h0M306.1 181.5h0M326.2 154.9h0M312.2 131.2h0M317.1 184.4h0M307.8 156h0M312.6 133.2h0M310.4 182.1h0M356 145.6h0M321.4 133.6h0M351.2 140.7h0M309.3 136.1h0M350 143.9h0M320.5 185.4h0M303.8 160.6h0M354.6 144.4h0M353 177.7h0M300.3 172.1h0M326.1 183.8h0M358.7 156.1h0M348.8 136.6h0M304.1 158.7h0M354.7 141.7h0M358.1 153.2h0M332.3 162.8h0M339 164.5h0M307.9 152.6h0M346 179.5h0M331.9 165h0M325.6 144.8h0M352.2 176.6h0M353.5 144.5h0M342.7 164.8h0M301.5 170.2h0M299 172.4h0M310.6 136.8h0M357.7 155.9h0M318.6 133.1h0M351 136.3h0M355.3 151.7h0M357.4 164.1h0M351 141h0M327.6 181.2h0M346.5 140h0M348.9 158.2h0M357.2 151.2h0M309.1 150.4h0M349.6 157.8h0M311.2 152.2h0M312.2 146.8h0M306.9 181.7h0M357.3 151.6h0M320.3 133.4h0M309.1 135.8h0M308.7 183.8h0M350.9 174.1h0M300 181.3h0M358.8 169.4h0M299.9 173.1h0M346.9 145.4h0M330.7 162h0M309.9 141.4h0M325.2 147.8h0M359.2 160.7h0M323.9 133.3h0M340.2 180.6h0M339.2 182.1h0M347 161.1h0M338.4 167.1h0M346.4 163.1h0M331.5 166.5h0M350.9 150.1h0M350.4 150.7h0M335.3 165.6h0M340 166.5h0M339 180.9h0M318.8 132.6h0M347.4 144.4h0M347.8 141.3h0M310.6 140.6h0M310.1 135h0M301.2 172.8h0M328.8 154.4h0M339.2 181.4h0M307.1 154.7h0M350.3 153.7h0M337.8 182.1h0M324.9 145.5h0M349.7 139.2h0M311.3 141.7h0M347.6 151.7h0M346.9 142.5h0M355.1 173.6h0M346.2 178.7h0M306.2 158.3h0M357.3 165.9h0M331.3 183.8h0M320.2 134.3h0M345.1 178.2h0M359.1 159.3h0M347.4 165h0M317 131.3h0M348.7 137.8h0M308.5 152.2h0M328.7 160.9h0M346.7 138.5h0M305.8 159.2h0M301.5 180.5h0M349.5 154h0M352.1 139.8h0M331.1 164.2h0M328.7 155.9h0M324.5 140.4h0M326.7 151.5h0M344.2 165.6h0M327.4 159h0M345.1 165.2h0M310.5 134.6h0M332.8 165.8h0M347.8 138.4h0M346.7 162.8h0M320.4 136.4h0M311.2 182.5h0M303.5 181.5h0M350.3 177.6h0M306.3 153.3h0M350.3 159.7h0M305.3 159.9h0M348.7 149.5h0M301.3 173.6h0M360 163h0M348.9 146.1h0M308.8 142h0M348.5 139.1h0M307.5 156.3h0M326.7 150.1h0M324.9 181.6h0M310 141.8h0M310.2 139.8h0M329.4 163.1h0M345.7 139.2h0M322.3 137.9h0M345.6 140.5h0M303.6 160.7h0M348.9 137.4h0M302 175h0M351.8 137.8h0M338.9 163.6h0M350.7 138.1h0M325.9 142.7h0M347.2 152.3h0M352.6 140.1h0M340.5 163.8h0M302.4 172.6h0M347.5 141.8h0M322.5 134.9h0M324.6 151.7h0M316.6 183.9h0M357.9 155.4h0M311.6 182.6h0M346.4 137.4h0M347.6 178.5h0M300.7 179.2h0" stroke="#eb9f5e" stroke-width="1.1" stroke-linecap="round" fill="none"/>
<path d="M339.3 159h0M347.3 149.2h0M329.4 154.6h0M339.1 147.8h0M329 147.1h0M348.8 157.1h0M341.2 153.6h0M334.6 155.1h0M339.3 145.1h0M346.1 156.7h0M327.2 150.7h0M336 162.6h0M332.4 162h0M342.7 141.7h0M334.7 156.5h0M349.8 155.6h0M343.4 153.8h0M340.1 160h0M339.8 154h0M336.1 145.9h0M345.8 146h0M335.3 148.4h0M342.1 160.9h0M348.2 155.1h0M328 148.3h0M336.2 147.7h0M333.3 148.1h0M336.3 144.1h0M346.3 156.2h0M327.4 152.7h0M343.8 157.9h0M342.1 150.8h0M331.3 150h0M342.5 164.8h0M342.1 145.6h0M336.3 143.9h0M328.4 152.6h0M342.1 152.4h0M337.4 143.5h0M342.5 157.4h0M345.2 142.8h0M340 158.1h0M334.8 157.8h0M346.8 155.9h0M343.2 142.9h0" stroke="#e8913f" stroke-width="1.1" stroke-linecap="round" fill="none"/>
<path d="M327.6 148.2h0M325.6 143.3h0M327.9 143.1h0M326.6 143h0M331.6 138.6h0M333 145.9h0M326.2 149h0M326.8 141.6h0M329.3 146.2h0M327.7 140.3h0M332.5 138.9h0M331.5 145.5h0M326.5 136.9h0M331.7 149.5h0M327.4 137.5h0M329.3 141.2h0M332.3 148.5h0M328.7 141.9h0M325.4 138.2h0M334.1 140.6h0M328.6 138.7h0M328.7 141.6h0M327.9 136.2h0M327.3 145.5h0M330.9 140.1h0M334.8 139.3h0M327.2 136.5h0M330.8 143.1h0M327 141.8h0M326.1 148h0M327.9 136.5h0M326.5 146.9h0M326 144.7h0M330.1 141.4h0M326.4 146.5h0M325.8 136h0M327.8 142.1h0M332.1 143.2h0M329.6 142.9h0M325.7 148.3h0M331 143.9h0M329.9 140.6h0M327.4 141.8h0M328.2 138.3h0M328.8 141.7h0" stroke="#5bc9d5" stroke-width="1.1" stroke-linecap="round" fill="none"/>
<path d="M214 150 L230 141 L240 147 M222 152 L236 139" stroke="#fff" stroke-width="2.2" stroke-opacity="0.7" fill="none"/>
<path d="M340.5 129.1h0M349.5 91h0M328.8 107.9h0M348.3 49.8h0M342.7 70.1h0M341.6 104.6h0M349.7 96.6h0M345.2 59.6h0M345 120.2h0M351.7 64.8h0M355.8 93.7h0M339.8 128.9h0M358.7 72.9h0M347.4 48.1h0M333.2 139.2h0M362.5 84.5h0M351.9 60.3h0M344.4 104.1h0M350.5 87.2h0M329.8 143.3h0M355.9 62.5h0M330.9 59.1h0M342.7 91.4h0M336.4 58.2h0M348.8 80.6h0M359.5 88.1h0M329.9 116.7h0M347.9 89.3h0M330.7 84.2h0M332.2 129h0M347.5 48.6h0M349.6 127.2h0M325.8 81.3h0M330.8 133.1h0M329.2 100.1h0M343.9 84.4h0M329.9 38.7h0M343.9 59.1h0M351.6 60.3h0M337 89h0M350.2 51.8h0M325.9 129.9h0M331.9 43.9h0M341.9 62.8h0M337 124.2h0M335.3 46.6h0M323.2 120.6h0M337.9 69.9h0M342.8 84.5h0M355.9 88.6h0M358.4 80.8h0M340.7 99.8h0M336.9 134.7h0M347.5 106.4h0M327.1 68.5h0M330.1 107.6h0M335.1 102.4h0M349.3 67h0M344.2 126.4h0M322.7 116.8h0M338 91.5h0M343.2 68.5h0M339.6 60.3h0M348.3 129.2h0M333.2 46.8h0M339.8 121.3h0M343.1 82.8h0M331.5 98.2h0M340 138.7h0M334.1 115.9h0M326.9 88.3h0M330.9 43.6h0M343 49.9h0M332.1 61.8h0M360.6 80.8h0M350.3 101.3h0M342.2 55.6h0M345.8 68.4h0M325.2 125.6h0M326.4 92.3h0M337.1 81.3h0M332.3 127.1h0M355.1 97.9h0M328.9 63.8h0M340.8 115.6h0M326 88.5h0M361.3 78.9h0M350.4 118.7h0M345.2 93.1h0M362.6 87.4h0M352.3 115.8h0M357.9 64.8h0M334.6 76.3h0M356.5 110.6h0M345.1 58.5h0M328.1 116h0M335.3 131.1h0M339.6 77.6h0M332.1 37.1h0M345.7 91.8h0M361.7 76.7h0M326.8 131h0M355.1 113.6h0M328.1 95.8h0M329.6 115h0M347.6 102.6h0M345.1 71.5h0M348.3 109.8h0M340.1 86.9h0M326.2 104.9h0M342 72.4h0M340.1 124.7h0M324.8 85.9h0M338.7 131.2h0M331.5 69.1h0M348.3 91.9h0M339.1 129.7h0M356.2 101.1h0M337.5 64.1h0M344 77.1h0M325.9 117.7h0M326.5 102.6h0M357.9 110.1h0M331.9 100.1h0M353.1 104.6h0M359.9 98.9h0M340.7 97.3h0M347.4 88.8h0M348.4 125.5h0M331 114.6h0M335.1 101.2h0M343 78.3h0M328.9 98h0M328.4 130.2h0M335.3 52.1h0M350.6 100.5h0M342.6 50.6h0M330.6 141.4h0M353.3 122.4h0M334.6 112.2h0M345.1 65.7h0M327.3 132.3h0M350.4 111h0M353.3 69.2h0M353.5 87.5h0M326.1 74.1h0M324.7 120.1h0M349 133.9h0M331.7 124.2h0M343.6 114h0M333.8 66.5h0M335.1 66.5h0M341.5 77.6h0M340.2 98.9h0M332.4 46.1h0M328.1 83.6h0M337.5 130h0M326.8 106.9h0M348.9 69.4h0M340.1 87.7h0M359.9 88.8h0M359.6 107.3h0M337.1 128.8h0M341 81.2h0M337.2 81.6h0M336.8 46.5h0M345.7 85.3h0M336.2 82h0M346 96.2h0M334.7 90.6h0M344.9 57.9h0M335.9 123.5h0M353.8 84.6h0M349.2 112.9h0M355.5 68.7h0M348.7 59.9h0M323.1 118.3h0M340.1 60.9h0M355.3 86h0M354.9 102.2h0M344.8 56h0M343.6 107.1h0M331.2 130.4h0M351.3 68.7h0M334 116.7h0M345.3 127.3h0M344.2 78.6h0M330.3 123.7h0M353.5 59.2h0M332.4 110.2h0M340 117.8h0M343.7 102.5h0M334.5 73.4h0M351.8 100.1h0M326.5 119.9h0M332.1 93h0M352.6 113.6h0M334.9 56.9h0M358.8 65.3h0M336.8 47.9h0M345.5 85.2h0M353.6 116.8h0M354.3 98.3h0M327.2 135.3h0M323.1 114.2h0M356.1 74.3h0M329.6 105.7h0M329.4 115.4h0M343.5 54.2h0M347.4 132.5h0M353.2 87.9h0M326.5 131.1h0M346.5 45.7h0M354 116.7h0M338.6 119.9h0M337.5 125.9h0M334.1 96.4h0M325 132.3h0M350.7 117.2h0M359.8 84.3h0M333 37.6h0M330.3 51h0M345.7 49.3h0M356.4 117.7h0M342 90.3h0M357.8 82.2h0M340.6 108.1h0M342.8 92.7h0M334.6 48.4h0M359.6 89.5h0M351.8 120.8h0M330.2 97.6h0M328.6 73.5h0M330.4 46.5h0M348.4 123.2h0M359.6 108.2h0M342 120.6h0M339.2 82.3h0M336.6 78.9h0M322.4 116.5h0M346.1 76.1h0M333.5 87.3h0M331.6 63.3h0M341 78.5h0M326.4 102h0M340.6 50.8h0M324.5 126.5h0M347.1 45.7h0M332 140.2h0M331.1 73.4h0M339.8 127h0M335.3 142h0M346.7 46.9h0M348 73.4h0M344.8 53.8h0M358.8 93h0M333.1 123.5h0M339.8 137.8h0M335.4 79.3h0M341.3 79.5h0M339.2 139.3h0M343.3 112h0M327.3 135.2h0M340.7 94.3h0M335.6 112h0M351 83.7h0M330.4 128.1h0M331.9 67.5h0M354.3 124.2h0M348.6 47.2h0M332.3 94.5h0M339.4 61.9h0M335.8 39.5h0M348.6 74.9h0M348.2 112h0M323.5 104.1h0M331.9 53.1h0M342.7 54.8h0M328.9 61.9h0M344.5 117.2h0M323.4 129h0M327.6 103h0M333.8 131.3h0M350 124.8h0M348.9 70.7h0M338.3 48.8h0M344.4 80.3h0M335.3 140.7h0M353.2 95.4h0M325.7 134.1h0M343.9 45.8h0M334.8 50.9h0M337 73.4h0M340.7 126.9h0M342.8 119.3h0M350.3 80.3h0M344.6 75.6h0M354.7 69.1h0M355.1 94.6h0M338.6 97.8h0M349.4 107.4h0M353.8 51.7h0M328.1 94.4h0M338.1 88.9h0M353.9 111.9h0M341.8 125.3h0M349.9 85.7h0M351.1 90.1h0M335.6 115.7h0M324.8 99.3h0M340.1 43.2h0M344.7 85h0M326.8 73.7h0M330.8 37h0M343.5 68.6h0M346.3 68.5h0M351.1 88h0M347.1 55.5h0M341.8 54.3h0M336.1 102.4h0M335.6 137.9h0M328.9 144.4h0M324.3 96.2h0M332.1 37.2h0M344.8 75.4h0M332.3 127.9h0M336.8 100.6h0M350.4 74h0M340.6 124.9h0M343.6 65.6h0M351.8 110.7h0M344.7 131.1h0M345.4 51h0M329.3 81.2h0M351.1 49.3h0M352.8 102.6h0M339.5 61.3h0M330.3 42.9h0M330.9 84.4h0M334.7 88.5h0M350.6 71.2h0M325.9 105.8h0M326 119.4h0M327 104.1h0M341.2 112.5h0M329.4 87.2h0M335.2 59.7h0M331.9 113h0M360.4 84.1h0M330.1 73.7h0M334.3 88.6h0M347.8 57.4h0M361.2 75.1h0M332.5 123.2h0M334.9 134.9h0M334 103.8h0M353.8 78.8h0M352 114.1h0M355.9 111h0M332.7 139.3h0M335.7 74.1h0M326.3 117h0M343 61h0M362.2 81.6h0M352.6 60.1h0M339.6 48.9h0M350.6 93.6h0M338.7 119.2h0M334.4 131h0M338.5 98.9h0M334.5 48.4h0M351.8 104.5h0M355.7 104.9h0M338 65h0M328.8 64.4h0M334.2 95.9h0M345.5 107h0M330.9 109.3h0M332.4 77.9h0M332.4 62.1h0M336.5 71.2h0M352.1 90.5h0M358.8 86.4h0M342.3 98.3h0M347.2 111.1h0M337.3 42.1h0M324.8 122h0M330 132.3h0M337.4 141h0M349.4 60.9h0M354.5 55.3h0M348.1 106.9h0M352.7 58.2h0M331.7 51.1h0M358.2 109.1h0M346.1 94.7h0M345 102.8h0M331.6 101.5h0M360.7 79.4h0M353.4 95.7h0M353 59h0M331.2 123.4h0M341.9 83h0M354.7 64.4h0M360.4 85.3h0M341.1 95h0M341.6 42.3h0M336 91.3h0M327.2 36.4h0M333.3 74.4h0M342 125h0M330.2 76.4h0M361.5 84.4h0M348.1 102.1h0M343.7 100.7h0M337.1 107.6h0M336.9 65.7h0M332.9 89.8h0M330.4 125h0M354 115.5h0" stroke="#fff" stroke-width="1.2" stroke-linecap="round" fill="none" stroke-opacity="0.75"/>
<path d="M323.9 38.7h0M286.8 30.6h0M280.6 43.6h0M314.2 44.7h0M281.4 34.1h0M305.9 42.8h0M313.9 45.8h0M294.5 42.4h0M277.8 42.6h0M282.6 35.6h0M307.6 28.4h0M326 33.4h0M276.2 40h0M313.8 26h0M277.5 47.5h0M274.8 35h0M316.4 43.3h0M278.6 33.1h0M307.3 48.8h0M278.4 33.4h0M278 34.5h0M305.8 34h0M293.3 41.8h0M309.2 31.8h0M299.5 52.8h0M290.1 48.3h0M308.7 36h0M303 33.4h0M292.6 34.6h0M326.8 34.4h0M311.6 37.9h0M281.1 39h0M306.1 28.7h0M299.2 45h0M271.8 38.6h0M301.6 43.4h0M310 44.4h0M276.8 42.9h0M275.4 46.6h0M305.5 31.8h0M298.9 26.4h0M300.6 27.8h0M290.9 50.8h0M287.9 41.2h0M281 43.7h0M289.6 28h0M300 50.9h0M312.5 29.7h0M305.1 44.8h0M294.2 46.4h0M309.9 48.5h0M286.6 40.8h0M300.5 46.1h0M292.7 51.7h0M286.9 33.4h0M328.7 35.5h0M292.8 27.5h0M316.5 39h0M294.5 41.4h0M310.1 27.5h0M293.1 43.3h0M309 27h0M313.8 46.2h0M282.2 38h0M317.6 36.1h0M275.3 37.5h0M292.8 39.9h0M308.7 42h0M288 45.4h0M280.3 44.6h0M280.3 34.9h0M297.2 41.1h0M282.9 29.8h0M314 26.2h0M326.1 36.5h0M303 35.7h0M313.3 36.1h0M296.9 28h0M282.5 31.8h0M325 33.8h0M305.7 34.5h0M296.9 48.6h0M277.1 39h0M309.2 28.1h0M293.6 39.3h0M284 29.7h0M308.1 41.8h0M303.9 35.5h0M289 47.4h0M304.3 37.5h0M283.6 31.9h0M285.3 49.6h0M313.3 44.2h0M304.4 41.2h0M292.1 35.8h0M321.1 39.5h0M314.9 31h0M302.3 25.1h0M284.4 40.6h0M327.5 36.3h0M291.6 57.1h0M318.8 42.6h0M310.1 45.9h0M272.5 43h0M284.9 29.9h0M295.8 48.2h0M301.5 45.9h0M312.2 29h0M292.4 28.5h0M322.1 32h0M314.4 42.3h0M294.7 41.2h0M313.2 38.9h0M288.6 46.2h0M302.1 26.3h0M281.9 36.7h0M285.4 48.2h0M309.7 28.1h0M282.4 31.9h0M275.4 41.1h0M288 49h0M302.8 50.9h0M281.2 37h0M293.2 62.2h0M316.4 31h0M279 38.7h0M292 53.8h0M321.2 31.4h0M304.9 45.4h0M284.6 32.3h0M308.8 34h0M279.9 36.5h0M308.8 46.1h0M299.7 43.4h0M301.6 34.9h0M283.8 33.7h0M287.5 46.5h0M308.7 29h0M311.1 36h0M323.6 36.6h0M320.8 34.4h0M295.2 44.3h0M312.1 44.7h0M272.1 42.1h0M299.1 27.7h0M293.5 42.4h0M311.7 29h0M311.5 32.2h0M302.6 27.6h0M291.7 29.6h0M304.8 29.9h0M298.1 29.9h0M290.2 46h0M289.9 41.2h0M314.1 44.6h0M275.4 43.5h0M295 42.6h0M324 35.7h0M292.8 60.3h0M275.6 34.5h0" stroke="#fff" stroke-width="1.2" stroke-linecap="round" fill="none" stroke-opacity="0.75"/>
<path d="M303.8 82.7h0M299.5 69.7h0M322.2 116.5h0M322.7 47h0M320.5 43.9h0M317.8 60.7h0M318.4 96.3h0M321.4 86.6h0M320.6 88.2h0M312.7 119h0M312.3 92.8h0M312.4 102.4h0M321.5 101.6h0M305.8 71.9h0M307.8 103.4h0M316.4 127h0M322.2 68.8h0M309.2 71.5h0M320.9 55.6h0M302.1 70.6h0M309.1 62.1h0M320.5 119.7h0M318.6 52.9h0M304.8 78.2h0M315.1 46.7h0M322.5 107.9h0M298.1 56.8h0M321.7 65.7h0M300.1 74.4h0M321.7 89.2h0M319.5 85.8h0M304.7 58.9h0M304 109.3h0M316.7 102.9h0M325.3 72.6h0M312.6 109.7h0M313.6 77.3h0M302.8 68h0M310.6 116.7h0M320.2 110.8h0M317.1 71.2h0M308.9 120.8h0M314.4 108.3h0M314.7 94.1h0M318.9 105.8h0M311.6 109.6h0M313.2 46.4h0M324.3 46.6h0M326.7 70.8h0M302.7 77.8h0M314 126.5h0M322.3 50h0M308.9 48h0M313.8 127.2h0M313.4 72.2h0M315.5 63h0M308 91.1h0M312.2 108.3h0M308.1 104.5h0M301.2 71.7h0M324.6 48h0M315.9 116.3h0M321.4 98.7h0M315.6 102.3h0M327.7 62.7h0M317.8 79.8h0M304.7 55.4h0M324.6 91h0M319.1 80.5h0M305.8 115.2h0M306.7 77.9h0M312.9 91h0M311.6 109.1h0M318.5 89.7h0M297.5 56.1h0M299.9 79.3h0M303 59.4h0M314.8 84h0M307.1 87.3h0M306.7 116.7h0M311.8 85.1h0M311.8 80.9h0M308.9 84.8h0M312.7 54.9h0M301.8 83.1h0M304.3 111.8h0M296 61.3h0M322.2 44.2h0M299.5 61.8h0M299.7 65.7h0M320.5 82.7h0M302.3 62.8h0M315.2 86.9h0M305.9 100.6h0M311.6 52.3h0M323.3 100.7h0M315.2 128.5h0M320.2 93.9h0M320.1 80.8h0M304.2 63.5h0M320.3 114.1h0M309.8 72.2h0M305.3 104.5h0M318.2 110.4h0M319.3 68.9h0M309.9 64.6h0M313 66.4h0M319.3 103h0M312.8 60.4h0M324.9 45.9h0M313.3 116.3h0M318.1 123.1h0M320.6 75.2h0M314.3 105.1h0M319.9 74.4h0M307.7 87.6h0M304.4 65.7h0M312.2 106.2h0M308.2 91.7h0M314.9 81.5h0M306.6 98.8h0M304.4 91.1h0M320.4 96.4h0M311.5 108.8h0M323.7 60.6h0M322.9 80.3h0M307.8 60.6h0M297.2 64.3h0M305.2 92.3h0M328.1 51.4h0M310.2 65.5h0M299.1 67.9h0M307.5 105.9h0M309.4 98.3h0M300.1 54.7h0M320.8 45.7h0M319.9 112.1h0M316.1 73h0M309.6 79.9h0M323.9 76.1h0M318.9 115h0M313.1 75h0M307.4 111.1h0M311.7 47.9h0M311.3 90.9h0M311.2 83.8h0M306.5 110.4h0M308 121.6h0M308.1 71.6h0M319.3 108.3h0M319.4 59.4h0M307.5 84.2h0M316.3 128.6h0M321.1 74.4h0M320 67h0M321.5 84.6h0M316.9 115.3h0M319.6 115.5h0M307.6 70.8h0M321.7 90.6h0M320.9 119.3h0M302.7 62.5h0M310.3 98h0M307.3 92.1h0M306.2 63.5h0M320.1 108h0M323.5 89.9h0M313.7 122.3h0M315.9 76.7h0M316.2 77.2h0M305.7 62.5h0M304.3 87.8h0M305 73.6h0M317.7 53.3h0M319.5 51.8h0M318.4 54.2h0M298.3 71.7h0M320.5 97.7h0M317.2 84.9h0M305.4 76.6h0M306.9 79.1h0M307.2 111.6h0M304.9 92.3h0M311.6 56.7h0M302.8 60.6h0M321.8 75.5h0M310.7 126.3h0M305.4 84h0M312.5 112.6h0M304.2 62.5h0M311.8 72.6h0M321.1 50.3h0M311 111.8h0M324.5 68.9h0M310.4 114.2h0M303.8 85.6h0M310.3 54.1h0M320.1 107.1h0M297.3 70h0M299.9 55.5h0" stroke="#fff" stroke-width="1.2" stroke-linecap="round" fill="none" stroke-opacity="0.75"/>
<path d="M220 85.2h0M198.1 96.3h0M198.8 121.6h0M194.2 115.1h0M241.2 77.1h0M241.5 130.2h0M238.7 94.7h0M243.4 89.4h0M229.5 98.8h0M206.2 137.7h0M241.6 71.7h0M205.8 129.1h0M221.8 137.4h0M229.5 121h0M229.3 123.6h0M193.2 107.1h0M232 98.4h0M224.6 131.1h0M190.7 116.3h0M236 127.4h0M228.1 73.1h0M207.1 136.8h0M218.6 137.1h0M231.4 109h0M232.9 107.2h0M227.2 74.8h0M211.8 128.2h0M215.3 106.5h0M196.1 115.8h0M229.3 78.5h0M235.9 101.8h0M229.8 72.3h0M210.6 78.6h0M231.6 82.1h0M226 114.6h0M221.3 112.5h0M238 112.7h0M240.5 70h0M195.5 129.7h0M194 128.7h0M207.8 105.4h0M197.1 116.8h0M247.3 96.7h0M196.2 91.4h0M234.8 118.5h0M242.6 79.2h0M229.5 100.9h0M194.9 111.2h0M230.9 97.4h0M230.1 108.6h0M203.5 118.1h0M241.9 89.7h0M234.8 94h0M236.2 97.5h0M219.6 77h0M192.1 109.1h0M235.7 107.3h0M198.6 130.2h0M211.3 116.8h0M233.7 87h0M238.5 73.5h0M223.8 96.8h0M231 99.5h0M244.1 80.6h0M214.2 111.3h0M206 132.6h0M212.8 97.5h0M210 104.1h0M232.8 104.1h0M222.5 83.5h0M210.5 79.8h0M242 73.2h0M213.1 113.3h0M240.4 111.3h0M208.1 118.2h0M198.7 91.9h0M216.5 125.5h0M208.5 118.4h0M205 120.7h0M236.4 85.4h0M202.5 122.6h0M236.3 106.4h0M212.6 106.3h0M198 109.9h0M216.4 87.9h0M202.3 87.3h0M241.9 73.6h0M204.3 92.9h0M234.5 102.3h0M236.8 98.8h0M191.7 115h0M213.6 130.7h0M209.4 107.8h0M243.1 118.4h0M216.5 93.6h0M228.9 79.4h0M242.5 93.7h0M209.2 107.7h0M237.3 108.8h0M237.7 114.4h0M233.7 105.9h0M234.3 117.3h0M211.7 138.2h0M214.6 103.8h0M237.7 111h0M203.9 112h0M241.5 97h0M237.9 101.4h0M208 101.8h0M226.9 114.3h0M206.2 82.1h0M205.3 122.3h0M238.8 113.8h0M237.2 106.3h0M216.7 80.2h0M212.9 123.9h0M229.1 106.4h0M230.3 78.6h0M231.4 74.5h0M240.1 80h0M230 118.8h0M214.8 101.3h0M241.4 91.1h0M196.5 110.6h0M201 120.8h0M231 107.4h0M227.4 128.5h0M192.9 119.2h0M219.1 100.4h0M233.6 133.8h0M198.3 103.3h0M235.1 84.9h0M205.8 128.7h0M205.2 96.9h0M243.1 78h0M232.4 107.4h0M229 85.7h0M212.2 122.8h0M220.7 133.7h0M214.4 83.3h0M215.1 132.3h0M246.4 89.2h0M208.8 113.6h0M221.7 120.9h0M210.5 90.6h0M219.8 102.3h0M196.6 120.2h0M218.9 139.1h0M209.3 98.8h0M232.9 104.8h0M223.1 97.8h0M222.4 108.2h0M243.4 84.3h0M230.8 87.3h0M219.8 84.5h0M232.4 79.5h0M226.2 96.5h0M210.7 110.6h0M227 83.9h0M245.9 107.4h0" stroke="#fff" stroke-width="1.2" stroke-linecap="round" fill="none" stroke-opacity="0.75"/>
<path d="M214.6 152.7h0M232.5 153.4h0M215.5 152.7h0M221.9 152.2h0M238.9 143.5h0M220.4 147.9h0M211.5 150.7h0M233.2 139.8h0M211.8 153.8h0M235.1 145.3h0M211.8 151.8h0M220.4 140.9h0M239.3 138.1h0M227.5 153.9h0M222.4 145.3h0M239.2 141.4h0M241 137.8h0M218.2 140.4h0M227.2 139.6h0M213.1 154.1h0M211.5 148.6h0M233.1 148.4h0M219.8 149h0M228.3 141.9h0M227 149.2h0M229.3 153.7h0M241.4 149.2h0M224.6 152.2h0M222.5 147.9h0M213.8 155.7h0M226.1 153.7h0M228.8 151.3h0M226.7 143.1h0M239.6 141.4h0M217.2 157.3h0M213.8 151.9h0M211 149.3h0M239.1 136.4h0M237.7 142h0M240.4 141.1h0M214.6 144.1h0M240.9 145.2h0M216.9 156.3h0M236.6 148.6h0M211 155.2h0M217.1 157.9h0M232 141.4h0M228 142.2h0M207.7 148.3h0M229.7 147.9h0M220.4 148h0M223.5 148h0M239.4 136.6h0M238 142.5h0M243 148.5h0M233.9 151.4h0M233.4 143.1h0M227.3 138.5h0M220.5 144.7h0M227.1 144.3h0M226.1 147.2h0M222.1 148.7h0M223.5 150h0M232 137.3h0M234.5 143.6h0M216 157.8h0M222.8 151.4h0M216.7 149.9h0M216.6 156.7h0M214.7 149.8h0M217.4 144.7h0M232 145.2h0M226.4 149h0M225 151h0M218 146.7h0M227.3 141.9h0M222.5 145.1h0M231.2 152.2h0M208 146.1h0M228.6 149.5h0M233 145.5h0M230.8 153.5h0M217 152.1h0M239.8 144.1h0M209.8 141.4h0M226.5 140.9h0M218.2 148.9h0M231.5 141.8h0M212 150.1h0M220.9 147h0" stroke="#fff" stroke-width="1.2" stroke-linecap="round" fill="none" stroke-opacity="0.75"/>
<text x="189" y="73" font-size="7.3" fill="#222">Mat-CXCL1</text>
<text x="202.5" y="115" font-size="7.3" fill="#222">Mat-NFKBIA</text>
<text x="206" y="167" font-size="7.3" fill="#222">Mat-CXCR4</text>
<text x="244" y="73" font-size="7.3" fill="#222">Imm-S100A4</text>
<text x="277" y="46.5" font-size="7.3" fill="#222">Imm-MMP9</text>
<text x="283" y="90" font-size="7.3" fill="#222">Imm-OLR1</text>
<text x="321" y="101.5" font-size="7.3" fill="#222">Imm-OLFM4</text>
<text x="305.5" y="172" font-size="7.3" fill="#222">Imm-DEFA3</text>
<circle cx="184" cy="199.5" r="2.9" fill="#55bd45"/>
<text x="190.5" y="202.7" font-size="9" fill="#222">Mat-CXCL1</text>
<circle cx="184" cy="211.3" r="2.9" fill="#d3c93c"/>
<text x="190.5" y="214.5" font-size="9" fill="#222">Mat-NFKBIA</text>
<circle cx="184" cy="223.1" r="2.9" fill="#8e5a4c"/>
<text x="190.5" y="226.3" font-size="9" fill="#222">Mat-CXCR4</text>
<circle cx="249" cy="199.5" r="2.9" fill="#e2634f"/>
<text x="255.5" y="202.7" font-size="9" fill="#222">Imm-S100A4</text>
<circle cx="249" cy="211.3" r="2.9" fill="#a68fd9"/>
<text x="255.5" y="214.5" font-size="9" fill="#222">Imm-MMP9</text>
<circle cx="316" cy="199.5" r="2.9" fill="#e37cc6"/>
<text x="322" y="202.7" font-size="9" fill="#222">Imm-OLR1</text>
<circle cx="316" cy="211.3" r="2.9" fill="#5bc9d5"/>
<text x="322" y="214.5" font-size="9" fill="#222">Imm-OLFM4</text>
<circle cx="316" cy="223.1" r="2.9" fill="#e8913f"/>
<text x="322" y="226.3" font-size="9" fill="#222">Imm-DEFA3</text>
<text x="379" y="12.5" font-size="14" font-weight="bold" fill="#000">C</text>
<text x="484.6" y="23.3" font-size="11.3" text-anchor="middle">HP</text>
<text x="482.5" y="131.8" font-size="11.3" text-anchor="middle">GDM</text>
<clipPath id="cc1"><rect x="382" y="26" width="100" height="91"/></clipPath><clipPath id="cc3"><rect x="382" y="136" width="100" height="90.5"/></clipPath>
<g clip-path="url(#cc1)">
<path d="M403.5 54.3C405.6 53 410 51.4 412.3 51.7C414.6 52 416.6 53 417.5 56C418.4 59 417.6 65.3 417.5 70C417.4 74.7 417.3 81.1 416.7 84C416.1 86.9 417.6 86.7 414 87.6C410.4 88.5 399.5 89.6 394.8 89.3C390.1 89 387.8 87.5 386 85.8C384.2 84 384.4 82 384.3 78.8C384.2 75.6 384.7 69.4 385.1 66.5C385.5 63.6 385.6 62 386.9 61.3C388.2 60.6 390.8 62.5 393 62.2C395.2 61.9 398.2 60.8 400 59.5C401.8 58.2 401.4 55.6 403.5 54.3Z" fill="#d3c93c" fill-opacity="1"/>
<path d="M387.6 85.9h0M384.1 82.2h0M417.2 55.2h0M396.5 89.2h0M401.7 59.3h0M384 68.7h0M391.3 62.1h0M409 88.5h0M389.1 62.1h0M387.5 62h0M417.5 72.8h0M412.7 52.8h0M407.3 53.5h0M384 73h0M410.4 88.1h0M415.7 84.4h0M395.4 62.6h0M415.8 83.5h0M398.7 59.3h0M397.8 60.7h0M414.5 86.2h0M388.7 87.7h0M385.2 66.4h0M384 81.1h0M387.3 62.8h0M385.8 68.5h0M384.8 72.9h0M416.7 82.6h0M414.7 87h0M407.6 53.5h0M405.9 52.6h0M389.4 61.9h0M386.2 63h0M416.4 82.3h0M390.3 62.4h0M385.7 81.2h0M415.8 81.3h0M389.3 62h0M394.3 62.5h0M390.3 61.7h0M388.5 87.2h0M392.5 87.9h0M417.5 79.4h0M417 63.7h0M415.9 55.4h0M415.1 53.4h0M389.1 61.2h0M405.5 87.7h0M389 60.9h0M391.2 87.9h0M392.6 88.9h0M397.3 60.8h0M386.3 64.3h0M410.6 52.3h0M406.1 88.7h0M401.8 57.9h0M391.4 88.4h0M384.3 75.9h0M415.7 85.5h0M402.8 56.8h0M408.4 53.3h0M418.2 76.1h0M417.6 72.1h0M384.6 75.5h0M414 87.8h0M390.7 61h0M416.7 69.3h0M385.9 82.7h0M403.3 54h0M393 61h0M407.4 88.2h0M401.8 60h0M386.6 60.6h0M416.1 70h0M394.1 90.6h0M416.1 85.3h0M391.2 62.6h0M409.9 51.8h0M394.7 89.1h0M417.7 60.4h0M415.1 86.5h0M384.7 75.4h0M387.2 60.5h0M390.2 88h0M414.2 87.6h0M386.1 61.6h0M404.6 88.1h0M407.8 53.2h0M385.4 83.3h0M415.4 83.9h0M417.5 55.9h0M386.4 60.8h0M394.8 89.6h0M386.8 64.6h0M398.8 88h0M417.6 59.5h0M410.9 52.8h0M415.6 85h0M397.8 59.8h0M385.6 85.6h0M385.7 62.8h0M389.4 61.1h0M389.1 87h0M384.9 81.8h0M413.1 52.5h0M418.5 57.7h0M415.9 84.6h0M416.7 79.8h0M386.4 63.4h0M389.4 62.4h0M400 59.9h0M385.5 83.5h0M415.9 54.8h0M417.2 63.9h0M407.5 52.8h0M418.2 56.3h0M418.3 69.2h0M416 59.7h0M385.4 81.9h0M396.4 60.7h0" stroke="#d3c93c" stroke-width="1.1" stroke-linecap="round" fill="none"/>
<path d="M409 69h0M402.3 81.9h0M386.4 81.2h0M392.5 68.1h0M407.6 61.2h0M404.9 65.3h0M400.2 64.1h0M401.1 75.6h0M394.5 64.3h0M396.9 77.6h0M394.6 67.2h0M415.8 58.9h0M414.6 60.9h0M395.8 79.8h0M413.8 63.8h0M405.7 82.2h0M415.8 62.2h0M389.4 82.8h0M400.7 79.2h0M416.1 70.8h0M401.9 72h0M385.5 81.7h0M387.3 72.4h0M416.2 60.4h0M387 75.9h0M412.8 56.2h0M398.6 67.2h0M388.1 68.6h0M408.5 62h0M391.7 71.2h0M412.5 52.2h0M408.4 59.4h0M409.6 69.9h0M415.1 57.8h0M405.5 64h0M414.8 83.4h0M395.2 61.5h0M386.3 78.5h0M397.6 77.9h0M409.2 85h0" stroke="#fff" stroke-width="1" stroke-linecap="round" fill="none" stroke-opacity="0.7"/>
<path d="M386 56C386.4 54.5 387.4 53.2 389.5 52.5C391.6 51.8 396 51.4 398.3 51.7C400.6 52 403.2 53 403.5 54.3C403.8 55.6 401.8 58.2 400 59.5C398.2 60.8 395.2 61.9 393 62.2C390.8 62.5 388.1 62.3 386.9 61.3C385.7 60.3 385.6 57.5 386 56Z" fill="#55bd45" fill-opacity="1"/>
<path d="M395.4 53.2h0M401.2 52.8h0M396.3 60.8h0M387.1 54.5h0M388.9 52.5h0M388.3 53.4h0M398.9 52.6h0M399.1 52.6h0M388.1 61h0M396.4 51.7h0M399 60.2h0M387 55.5h0M388.4 53h0M404.1 53.9h0M386.3 59h0M386.8 55.6h0M402.3 53.6h0M388 53.8h0M395.9 52.7h0M393.7 61.9h0M393.4 62.6h0M386.9 60.4h0M389.1 62.4h0M402.2 53.6h0M386.9 60.9h0M385.5 57.7h0M386.8 55.2h0M401.9 52.8h0M398.7 52.5h0M394.1 51.6h0M386.3 60h0M389.7 62.2h0M402.1 53.5h0M391.8 51.9h0M397.1 61.2h0M386.9 59h0M399 52h0M387.2 54.4h0M403.8 53.5h0M386.5 58h0M392.4 52.8h0M399.8 59.8h0M391.8 61.9h0M396.3 61.5h0M396.4 60.1h0M397 52.3h0M386.1 56.4h0M402.8 53.7h0M401.3 56.9h0M395.1 60.9h0" stroke="#55bd45" stroke-width="1.1" stroke-linecap="round" fill="none"/>
<path d="M392.2 53.1h0M395.7 60.1h0M389.9 61.1h0M393.4 60.4h0M394.4 54.9h0M392.1 58.3h0M398.3 58.1h0M396.3 58.3h0" stroke="#fff" stroke-width="1" stroke-linecap="round" fill="none" stroke-opacity="0.7"/>
<path d="M394.8 90.2C397.1 88.3 405.6 88.6 408.8 88.4C412 88.2 413 87.7 414 89.3C415 90.9 416.6 96 414.9 98C413.1 100 406.6 100.7 403.5 101.6C400.4 102.5 397.9 103.6 396.5 103.3C395.1 103 395.1 102 394.8 99.8C394.5 97.6 392.5 92.1 394.8 90.2Z" fill="#8e5a4c" fill-opacity="1"/>
<path d="M394.8 91.7h0M394.5 92.1h0M398.6 90h0M415 90.2h0M412.4 89.2h0M410.6 88.3h0M413.7 90.4h0M402.1 101.6h0M411 89.2h0M413.6 96.6h0M403.4 88.4h0M403.9 102.9h0M410.5 100.5h0M400.7 102h0M404 101.6h0M400 89.1h0M395.5 91.3h0M394.7 94.4h0M395.3 100.5h0M395.8 102.6h0M399.4 90.6h0M395.1 90.6h0M394.9 91h0M409.6 89h0M395.2 95.5h0M402 102.1h0M408.4 100h0M408.8 100.1h0M414.6 96.9h0M394.8 94.1h0M398.9 102.2h0M403.2 101.3h0M406.2 100.6h0M413.8 98.3h0M402 89.2h0M395.5 100.6h0M401.2 102h0M414.5 95.4h0M412.6 89h0M408.9 87.7h0M410.4 88.4h0M410.7 88.7h0M411.4 88.6h0M414.2 98.2h0M411.6 99.1h0M399 89.7h0M413 89.9h0M398.5 102.3h0M401.5 102.2h0M411.1 89.1h0" stroke="#8e5a4c" stroke-width="1.1" stroke-linecap="round" fill="none"/>
<path d="M396.6 95.6h0M406.5 92.5h0M398 93.8h0M398.8 97.3h0M395.7 95h0M410.6 88.9h0M400.3 89.7h0M408 92.6h0M399 96.4h0M410.8 98.4h0M406.8 92.1h0M411.5 95h0M405.7 99.7h0M398.4 95.2h0M399.2 91.7h0M400.9 99.1h0M404.9 97.7h0M399.8 99h0M408.7 94.2h0M400.3 96.5h0M411.3 92.3h0M402.4 94.4h0M412.7 92.9h0M402.8 96.7h0M403.9 96.8h0" stroke="#fff" stroke-width="1" stroke-linecap="round" fill="none" stroke-opacity="0.7"/>
<path d="M415.5 50.5h0M412.2 51.4h0M431.8 39.1h0M429.5 41.5h0M420.3 47.7h0M425.5 43.5h0M430 38.4h0M429 41.8h0M430.6 39.9h0M414.3 50.5h0M424.8 41h0M432.3 41.5h0M426.2 45h0M426.7 42.7h0M428.6 42.3h0M432.1 38.3h0M420.5 47h0M431.2 41.6h0M415.3 51.6h0M417.3 47.2h0M415.5 48.9h0M417 48.1h0M429.7 41.5h0M416.3 50.4h0M425.1 44.8h0M425.8 42.6h0M412.4 50.7h0M432.4 39.1h0M424.1 43.1h0M427.7 40.8h0M419.8 48.3h0M431.1 41.2h0M421.2 47h0M424 42.6h0M428.4 43.5h0M423.2 44.8h0M421.8 43.9h0M422.9 45.9h0M428.6 43.3h0M416.8 49.4h0M425.2 45.8h0M430.4 41.3h0M417.6 49.9h0M415.9 49.2h0M431.5 38.5h0M424.6 46h0M417.3 49.7h0M417.7 49h0M413.7 53.4h0M427.2 42.9h0" stroke="#e2634f" stroke-width="1.2" stroke-linecap="round" fill="none"/>
<path d="M417.9 52.3h0M415 62h0M414.8 54.7h0M414.6 56.5h0M419.1 58.1h0M414.2 53.1h0M417.7 53.8h0M413.8 59.7h0M410.4 62.9h0M418.2 59.3h0M417.5 57.8h0M416.4 54.8h0M410.5 52.4h0M411.8 58.1h0M411.6 56.7h0M416 55.8h0M417.2 63.7h0M414.6 57.1h0M415.5 56.4h0M415.9 56.6h0M416.1 59.9h0M414.9 59.6h0M416 54.5h0M417 55.4h0M415.8 55.3h0" stroke="#e2634f" stroke-width="1.3" stroke-linecap="round" fill="none"/>
<path d="M455.6 44.4h0M445.3 49.5h0M452.5 32.9h0M450.2 42.2h0M444.6 31.7h0M439.4 41.2h0M455.8 51.7h0M454.6 54.5h0M442.6 51.7h0M457 35.9h0M449.9 40.8h0M446.4 48h0M453.3 36.2h0M441.5 59.2h0" stroke="#e37cc6" stroke-width="1.3" stroke-linecap="round" fill="none"/>
<path d="M465.6 42.1h0M470 38.5h0M471.7 68.1h0M493.3 65.6h0M465.3 69.3h0M471.8 46.4h0M463.1 67h0M453.3 55.4h0M472 43h0M464.6 66.3h0M472.7 38.1h0M483.4 47.3h0M479.5 54.5h0M465 49.8h0M482 48h0M465.1 63.6h0M485.3 58.1h0M466.3 57.8h0" stroke="#5bc9d5" stroke-width="1.3" stroke-linecap="round" fill="none"/>
<path d="M451.4 59.8h0M447.8 78.2h0M451.5 70.2h0M445.8 74h0M449.8 73h0M445.2 51h0M447.4 72.8h0M451.9 63.9h0" stroke="#e37cc6" stroke-width="1.3" stroke-linecap="round" fill="none"/>
<path d="M459.3 95.5h0M455.8 109.1h0M463 101.8h0M446.3 107.5h0M456 95.6h0M449.7 104.5h0M451.2 111.6h0M459 100.5h0M452.6 95.3h0M449.5 105.4h0M455.6 97.1h0M459.8 119.3h0M450.5 92.1h0M455 112h0" stroke="#e8913f" stroke-width="1.3" stroke-linecap="round" fill="none"/>
<path d="M481.9 102.6h0M471.1 99.7h0M473.1 118.4h0M488.3 108.3h0M479.6 116.5h0M477.8 113.1h0" stroke="#e8913f" stroke-width="1.3" stroke-linecap="round" fill="none"/>
<path d="M447.9 37.2h0M452.2 34.3h0M460.7 38.1h0M451.2 35.8h0M461.1 40h0M458.4 39.7h0M453.2 37.9h0M439.7 33.5h0" stroke="#a68fd9" stroke-width="1.3" stroke-linecap="round" fill="none"/>
</g>
<path d="M533 37.8C533.6 36 536.6 33.2 538.9 32C541.2 30.8 544.1 30.4 547 30.3C549.9 30.2 553.7 30.5 556.4 31.4C559.1 32.3 562.6 34 563.4 35.5C564.2 37 563 39 561 40.2C559 41.4 554 41.1 551.7 42.5C549.4 43.9 548.1 46.6 547 48.4C545.9 50.1 546.3 53.4 545.3 53C544.3 52.6 542.9 47.8 541.2 46C539.6 44.2 536.8 43.9 535.4 42.5C534 41.1 532.4 39.5 533 37.8Z" fill="#a68fd9" fill-opacity="1"/>
<path d="M542.8 48.4h0M534.8 42.2h0M544.7 30.5h0M555.9 42h0M534 40.6h0M534.2 41.5h0M539.2 33h0M562.2 38.6h0M549 45.7h0M553.7 30.7h0M559.5 34.6h0M547 47.6h0M544.3 50.2h0M553.5 30.4h0M534.3 39.3h0M533.6 39.5h0M542.5 49.7h0M545.3 52.9h0M538.8 45.5h0M539.9 32.4h0M551.6 31.7h0M547.7 48.2h0M561.8 39.5h0M536.2 35.3h0M540.8 45.6h0M535.7 44.1h0M556.3 41.7h0M542.7 31.2h0M546.5 51.1h0M534.9 41.9h0M546.4 31.8h0M558.3 32.3h0M534.1 39.3h0M544.7 30.8h0M546.5 49.8h0M541.7 47.2h0M532.3 37.3h0M549.8 43.4h0M541.3 46.7h0M535.4 42.8h0M545.9 30.9h0M544.8 30.5h0M548.1 45.6h0M541.1 46h0M548.2 46.9h0M535.3 43.2h0M535.7 35.1h0M558 40.3h0M563 37.3h0M544.2 51.8h0M535 35.5h0M539.8 44.4h0M559.8 32.7h0M542.9 30.8h0M546.7 48.6h0M537 42.4h0M552.5 31.2h0M550.8 44h0M556.9 32.3h0M533.8 39.3h0" stroke="#a68fd9" stroke-width="1.1" stroke-linecap="round" fill="none"/>
<path d="M552.1 32.8h0M548.3 36.2h0M540.9 41.8h0M545.6 38h0M547.8 33.8h0M544.1 47.1h0M556.2 34.7h0M541.7 38.7h0M547.1 48h0M559.2 35.7h0M554.4 33.8h0M554.7 35.7h0M542.9 45.4h0M557.6 34.9h0M549.1 33h0M555.2 40.7h0M546.6 44.6h0M539.1 36.4h0M542.7 34.4h0M543 48.6h0M537.7 38.5h0M549.3 32h0M560.6 39.7h0M552.1 32.3h0M544.5 41.9h0" stroke="#fff" stroke-width="1" stroke-linecap="round" fill="none" stroke-opacity="0.7"/>
<path d="M562.2 36.1C563.4 34.7 567.7 37.8 570.4 40.2C573.1 42.6 576.8 47 578.6 50.7C580.5 54.4 581.5 58.1 581.5 62.4C581.5 66.7 580.2 72.5 578.6 76.4C577 80.3 573.8 82.8 571.6 85.7C569.5 88.6 567.5 93.1 565.7 93.9C564 94.7 562.5 91.8 561.1 90.4C559.8 89 558.1 88.8 557.6 85.7C557.1 82.6 557.8 76 558.2 71.7C558.6 67.4 559 63.9 559.9 60C560.8 56.1 563 52.4 563.4 48.4C563.8 44.4 561 37.5 562.2 36.1Z" fill="#5bc9d5" fill-opacity="1"/>
<path d="M560.5 90.5h0M562.4 41.2h0M556.5 73.8h0M582.1 60.6h0M580.1 63.6h0M578.9 51.1h0M562.2 41.7h0M579.8 51.1h0M574.9 81h0M563.1 92.7h0M569.1 39.3h0M578.7 75.1h0M579.8 69h0M563.6 92.5h0M567.8 90.6h0M581.8 59.9h0M565.2 92.8h0M573.6 84.9h0M578.2 71.8h0M564.9 92.7h0M578.3 55.4h0M579.4 58.6h0M559 87.8h0M562.5 40.1h0M579.1 51.6h0M560.8 89.6h0M563.1 49.6h0M580.2 68.9h0M561.2 89.2h0M558.2 87.6h0M566.5 93.1h0M562.7 37.8h0M575.3 46.2h0M567.2 91h0M570.7 87.4h0M579.8 56.8h0M557.7 76h0M569.3 88.8h0M566.9 92.1h0M577.7 75.6h0M557.8 72.8h0M559.5 89.8h0M580.4 66.1h0M569.4 40.2h0M556.9 72.3h0M566.1 38.2h0M575.1 81.5h0M557.9 69h0M567.6 39.6h0M573.4 44.5h0M563.3 47.7h0M557.4 84.2h0M569.3 90h0M562.7 91.8h0M571.4 44.2h0M572.6 83.4h0M579.1 54.9h0M578 76.3h0M562.3 91.2h0M566.9 38.7h0M561.9 54.6h0M558.6 76.5h0M576.2 78.9h0M574.1 81.8h0M558.2 84.9h0M560.4 67.6h0M575.5 80.3h0M563.6 48h0M572.5 44.3h0M578.1 73h0M562.6 38.7h0M566.4 37.9h0M557.7 81.4h0M578.8 74.3h0M557.8 79.6h0M558.3 75.6h0M560.6 57.1h0M572.5 42.6h0M558.2 76.2h0M562.8 46.4h0" stroke="#5bc9d5" stroke-width="1.1" stroke-linecap="round" fill="none"/>
<path d="M571.9 69.8h0M569.5 40.7h0M566.3 77.1h0M574.7 67.4h0M558.1 80.2h0M575.3 61.1h0M579.2 53.3h0M575.2 76.9h0M569.4 45.8h0M574.5 75.6h0M576 65.7h0M562.3 69.1h0M563.3 69.8h0M567.3 84.2h0M571.3 65.3h0M562.8 89.6h0M572.8 61.6h0M565.2 42.2h0M558.6 74.5h0M573 53.5h0M574.2 55.5h0M561.5 78.5h0M567.9 63.1h0M569 77.6h0M579.6 66.4h0M563.2 63h0M563.8 75.2h0M559.2 84.3h0M566.3 39.1h0M567.9 90.1h0M564 67.1h0M569.9 60.9h0M574.2 51.5h0M568.8 48.4h0M569.4 74h0" stroke="#fff" stroke-width="1" stroke-linecap="round" fill="none" stroke-opacity="0.7"/>
<path d="M545.3 53C545.6 49.5 546.4 47 548.2 44.9C550.1 42.8 554.1 41.4 556.4 40.2C558.7 39 561 36.4 562.2 37.8C563.4 39.2 563.8 44.7 563.4 48.4C563 52.1 560.8 56.1 559.9 60C559 63.9 558.6 67.4 558.2 71.7C557.8 76 558.3 83.4 557.6 85.7C556.9 88 555.4 86.9 554 85.7C552.6 84.5 550.6 82 549.4 78.7C548.1 75.4 547.2 70.2 546.5 65.9C545.8 61.6 545 56.5 545.3 53Z" fill="#e37cc6" fill-opacity="1"/>
<path d="M559.5 39.1h0M546.2 54h0M562.3 50.6h0M545.8 47.9h0M558.2 72.9h0M547.2 66.4h0M562.4 45.8h0M560.6 58.4h0M557.4 84.4h0M562.3 47.1h0M549.1 76.6h0M554.2 86.1h0M556.2 86.7h0M549.3 43.8h0M563.7 40.9h0M563.1 44.2h0M557.9 39.7h0M545.8 49.7h0M555.9 39.6h0M557 84h0M547.2 52.1h0M546.2 68.9h0M547.2 67.9h0M545.8 61.3h0M546.7 54.9h0M545.2 50.4h0M557.4 76.4h0M545.6 64.1h0M549.9 43.4h0M559 66.8h0M557 82.1h0M546.3 57.6h0M556.7 86.5h0M547.7 72.6h0M555.6 40h0M554.3 41.1h0M548.9 75.6h0M563.4 44.2h0M562.4 40.2h0M558.7 82.8h0M545 53.9h0M561 38.1h0M564.3 47.2h0M553.1 86.5h0M546 52.5h0M548.1 46.6h0M546 59.3h0M552 83.2h0M549.8 44.2h0M545.3 55.1h0M547 63.7h0M563.3 49.7h0M553.8 41.4h0M555.2 40.5h0M547.6 50.9h0M551.4 81.5h0M557.9 75.2h0M557.5 67.6h0M562.7 38.4h0M545.6 49.3h0" stroke="#e37cc6" stroke-width="1.1" stroke-linecap="round" fill="none"/>
<path d="M556.3 76.1h0M557.4 52.1h0M554.7 84.7h0M554 70.1h0M548.5 55.4h0M548.2 47.3h0M561.3 38.7h0M559 54.7h0M548.8 51.5h0M557 52.6h0M559.7 55.9h0M554.2 45h0M548.7 63.1h0M561.1 40.6h0M546.3 52h0M550 56h0M553.4 48h0M549.6 78.6h0M549.7 47.5h0M551.1 76.2h0M554.6 66.1h0M554.2 71.9h0M550.7 45.1h0M548.7 65.7h0M561.6 41.2h0" stroke="#fff" stroke-width="1" stroke-linecap="round" fill="none" stroke-opacity="0.7"/>
<path d="M554 85.7C554.8 84.7 558.3 86.5 559.9 88.1C561.5 89.7 562 93.5 563.4 95.1C564.8 96.6 566.4 98.2 568.1 97.4C569.9 96.6 572.1 90.4 573.9 90.4C575.6 90.4 577.8 94.3 578.6 97.4C579.4 100.5 580 106.4 578.6 109.1C577.2 111.8 573.3 112.7 570.4 113.8C567.5 114.9 564.6 115.5 561.1 115.5C557.6 115.5 551.6 114.9 549.4 113.8C547.1 112.7 547.2 111.2 547.6 109.1C548 106.9 550.4 103.4 551.7 100.9C553 98.4 554.8 96.4 555.2 93.9C555.6 91.4 553.2 86.7 554 85.7Z" fill="#e8913f" fill-opacity="1"/>
<path d="M552.1 99.9h0M548.4 109.7h0M570.3 94.3h0M578.4 106.1h0M554.6 88.5h0M579.4 108.4h0M578.8 99.3h0M560.8 114.6h0M578.4 108.9h0M548.5 110.9h0M573.5 91.4h0M563 117.6h0M576.7 92.1h0M552.7 98.7h0M555.7 86.6h0M566.3 96.6h0M556 114.3h0M563.6 93.1h0M547.3 111.7h0M554.3 96.9h0M567.5 97.5h0M565.2 116.3h0M555.2 90.9h0M578.8 107.4h0M554.4 95.4h0M551.7 100.6h0M557 114.4h0M565.6 115h0M549.3 111.6h0M547.9 109.2h0M548.2 113.9h0M568 96.8h0M574.9 91.8h0M548.7 113.3h0M578 99h0M554.5 86.7h0M560.1 89h0M578.9 104h0M554.9 86.7h0M551.2 103.5h0M561.5 93.5h0M553.2 87.2h0M570.8 112.6h0M578.1 102.1h0M560.9 115.8h0M574.7 111.8h0M565 114.7h0M552.6 113.9h0M568 97.1h0M563.5 96.7h0M547.3 108.8h0M552.4 100.9h0M577.8 101.4h0M575.8 91.7h0M555.1 90.7h0M573.6 111.1h0M554.5 86.7h0M551.7 101.2h0M560.1 88.7h0M574.1 113.1h0M558.2 88.1h0M553.7 96.7h0M567.1 97.1h0M558.1 86.3h0M568.3 97.3h0M574.2 111.6h0M565 95.9h0M574.4 90.8h0M574.8 91.3h0M572.3 92.3h0" stroke="#e8913f" stroke-width="1.1" stroke-linecap="round" fill="none"/>
<path d="M556.5 102.6h0M570.2 97.4h0M564.8 98.5h0M555.2 113.6h0M567.7 98.8h0M560 95h0M549.6 111.8h0M559.2 106.7h0M577.6 98.6h0M562.1 110.4h0M572.4 103.3h0M577.8 101.3h0M558.3 97.4h0M559 88.9h0M559.5 94.7h0M563.9 101h0M556.2 86.8h0M562.9 111h0M566.9 112.1h0M549.2 106.6h0M575.4 110h0M559.8 102.8h0M552.9 106.6h0M570.1 113h0M569.6 106.9h0" stroke="#fff" stroke-width="1" stroke-linecap="round" fill="none" stroke-opacity="0.7"/>
<path d="M565.7 97.4C566.9 95.9 571 92.4 572.8 92.8C574.6 93.2 576.5 97.9 576.3 99.8C576.1 101.7 573.4 104 571.6 104.4C569.8 104.8 566.7 103.3 565.7 102.1C564.7 100.9 564.5 99 565.7 97.4Z" fill="#fff" fill-opacity="0.85"/>
<path d="M522.2 52.7h0M531.5 44.5h0M524.8 47.1h0M528.8 41.4h0M532.6 37.9h0M526.9 42.7h0M521.5 48.2h0M523.1 49.4h0M528.3 41.9h0M526.7 44.7h0M531.9 40.9h0M526.7 44.4h0M529.6 42.4h0M523.2 49.6h0M527.5 42.8h0M525.4 45.4h0M521.6 49.2h0M532.3 39.7h0M527 47.1h0M522.2 48.3h0M526.3 45.3h0M528.5 44.1h0M530.5 44.3h0M530.8 39.2h0M524.3 46.4h0M525.6 43.3h0M521 50.1h0M521.9 52.1h0M530.3 40.7h0M532.3 41.4h0M530.2 40.8h0M520.2 52.6h0M528.8 42.3h0M522.5 45.6h0M530.8 40.9h0M532.8 39.9h0M521.4 50.4h0M522.2 51.8h0M523.6 45.1h0M529 41.3h0M520.1 48.3h0M518.8 49.7h0M525.9 50.1h0M520.4 48.9h0M532 38.9h0M528.3 44.9h0M520.8 50h0M522.1 51.4h0M531.6 45.6h0M529.3 44.2h0M527.1 44.5h0M529.6 44.9h0M525.3 47.6h0M524 46.2h0M531.4 40.2h0M523.6 47.9h0M520.2 47.7h0M524.5 44.8h0M525.4 50h0M518.8 49.3h0M535.8 41.6h0M530.5 43.1h0M526 50h0M524.8 45.7h0M521.6 48.7h0M524.9 46.7h0M531.6 38.4h0M519.7 50.1h0M533.9 39.3h0M523.5 47h0" stroke="#e2634f" stroke-width="1.3" stroke-linecap="round" fill="none"/>
<path d="M514.1 54.3h0M518.2 59.6h0M516.7 54.9h0M519.4 61.8h0M513.9 56.2h0M518.9 60.3h0M515 61.3h0M517 61.4h0M518.4 58.2h0M516.3 64.1h0M517.2 58h0M516.6 67.7h0M517.7 54.6h0M516.1 55h0M518.6 51.8h0M517 62h0M520.3 57.8h0M516.1 53.5h0M518.4 59.6h0M515.9 54.7h0M517 57.7h0M520.2 66.8h0M519.3 63.3h0M524.1 48.9h0M520.1 61.6h0M514.9 56.9h0M517.6 60h0M518.7 51.7h0M517.4 53h0M522.1 55.8h0M517.2 66.2h0M516.1 59.9h0M516.8 55.9h0M521.8 63.1h0M517.4 59.5h0M514.3 62.7h0M518.1 61.6h0M518.1 58.7h0M517.7 61.2h0M516.2 58.5h0" stroke="#e2634f" stroke-width="1.3" stroke-linecap="round" fill="none"/>
<path d="M517.1 69.9h0M517.8 68.9h0M515.4 78.2h0M518.3 73.6h0M519.2 59.4h0M517.8 75.4h0M517.9 72.5h0M517 82h0M515.9 67.6h0M518.3 75.3h0M517.4 67.2h0M519.7 76.5h0M518.9 77.1h0M516.8 81.3h0M519.7 86.9h0M517.6 71h0M519.2 85.4h0M519.2 78.8h0M518.6 72.1h0M515.7 83.1h0M517.4 55.2h0M519.5 72.2h0M518.9 75.7h0M519.2 66.9h0M514.3 74.8h0M515.4 87h0M516.6 64.2h0M514 73.7h0M514.2 85.6h0M517.6 77.7h0" stroke="#d3c93c" stroke-width="1.3" stroke-linecap="round" fill="none"/>
<path d="M512.2 73.1h0M510.8 80.5h0M511 79.2h0M514.9 77.7h0M502.7 92.8h0M497.9 83.4h0M518.6 67h0M505 70h0M500.1 89.4h0M499 97.7h0M504.2 84h0M513.2 89.1h0M522.9 75h0M518.1 73h0M518.5 85.4h0M497.9 92.5h0" stroke="#d3c93c" stroke-width="1.3" stroke-linecap="round" fill="none"/>
<rect x="381.3" y="25.4" width="101.4" height="92.6" fill="none" stroke="#111" stroke-width="1.3"/>
<text x="384.3" y="34.7" font-size="8.9">Mat. Neu</text>
<rect x="485.2" y="25.4" width="100.1" height="91.8" fill="none" stroke="#111" stroke-width="1.3"/>
<text x="487.6" y="34.5" font-size="8.9">Imm. Neu</text>
<g clip-path="url(#cc3)">
<path d="M402.8 165.9C404.6 164.8 408.4 163.6 410.4 163.6C412.4 163.6 413.9 163.2 414.9 165.9C415.9 168.6 416.3 175.2 416.4 179.5C416.5 183.8 416.2 188.1 415.7 191.7C415.2 195.2 415.5 198.9 413.4 200.8C411.2 202.7 406.1 203.1 402.8 203.1C399.5 203.1 396.5 202.2 393.7 200.8C390.9 199.4 387.6 197.5 386.1 194.7C384.6 191.9 384.5 187.4 384.6 184.1C384.7 180.8 386.1 176.7 386.8 175C387.6 173.3 387 175 389.1 174.2C391.2 173.4 397.4 171.8 399.7 170.4C402 169 401 167 402.8 165.9Z" fill="#d3c93c" fill-opacity="1"/>
<path d="M412.5 164.1h0M386.5 195.9h0M405.1 165.3h0M412.5 198.8h0M387.4 175.3h0M392.6 200h0M393.4 201.5h0M397.3 170.4h0M414 165.2h0M386.7 175.8h0M408.6 202.1h0M416.3 171.6h0M390.4 198.7h0M403.9 203.5h0M415 175.1h0M392.7 173.1h0M413.6 164.8h0M385.9 181.7h0M415.7 171.3h0M387.4 173.7h0M406.9 164.8h0M404.8 202.7h0M415.4 188.3h0M387.1 196.3h0M413.7 199.5h0M402.2 167.7h0M414.5 196.3h0M399.3 169.5h0M387 176.8h0M385.9 180.8h0M401.5 167.8h0M415.7 174.3h0M406.5 163.9h0M415.9 193.8h0M385.6 193.7h0M411.2 162.7h0M383.6 186h0M414.1 198.5h0M383.7 184.8h0M384.8 192.5h0M402.1 165.3h0M385.7 186.4h0M398.8 203.1h0M399.7 169.6h0M416 175.8h0M386.7 174.6h0M415.8 190h0M416.2 181h0M415.1 195.9h0M408.9 200.7h0M416.7 183.7h0M416 190.7h0M397.3 171.8h0M384.3 189.9h0M415.2 165.3h0M394.5 172.9h0M415.3 169h0M410.6 164.4h0M388.1 175h0M415.6 180.9h0M405.6 202h0M408.7 164.6h0M414.7 167.5h0M416.1 171.6h0M388.8 174h0M390.3 173.6h0M389.3 174.1h0M387.4 175.1h0M412.2 200.7h0M400.3 168.4h0M398.8 169.9h0M410.2 201.9h0M413.7 196.4h0M416.2 178.9h0M385.1 176.2h0M387 189.5h0M392.9 172.1h0M410.8 163.9h0M399.1 170.5h0M385.6 181.5h0M400.3 169.7h0M409.5 201.8h0M411.2 201.6h0M407.1 203.2h0M395.4 171.7h0M385.4 191.7h0M389.7 174h0M399.4 170.4h0M396.8 201.8h0M410.8 164.2h0M386.7 174.9h0M416.2 186.9h0M414.8 196.2h0M414.5 189h0M415.2 194.5h0M415.9 187.3h0M416 185.1h0M406.2 201.7h0M403.2 165.4h0M387.5 174.2h0M415.2 193h0M416.2 185.5h0M385.7 188h0M401.2 169.1h0M415 191.8h0M405.4 165.2h0M407 164.9h0M417.2 179.7h0M391.5 174h0M404.6 203.3h0M415.3 182.4h0M391 172.6h0M402.5 202.6h0M385.7 180.9h0M407.1 203.1h0M390.9 200.9h0M395.2 172.3h0M410.1 200.8h0M385.1 190.5h0M414.3 165.8h0" stroke="#d3c93c" stroke-width="1.1" stroke-linecap="round" fill="none"/>
<path d="M399.5 198.2h0M390.9 186.3h0M387 175.3h0M406.5 193.6h0M408.6 195h0M402.9 196.2h0M388.2 181.2h0M412.8 176.6h0M403.3 182.7h0M390.6 185h0M391.5 194.8h0M394.4 178.3h0M400.2 188.3h0M394.3 186.2h0M386.9 186.2h0M415.2 192.5h0M409.1 197.2h0M393.3 178.4h0M391.8 183.7h0M402 195.3h0M407.6 185.7h0M405.8 180.9h0M408.5 180.7h0M394 185.8h0M389.3 184.7h0M386.6 177.7h0M397.1 200.8h0M406.5 166h0M390.5 187.9h0M389.3 194.8h0M395.5 187.3h0M405.5 181h0M385.6 189.3h0M399.7 174.6h0M386 180.5h0M387.6 191.4h0M410.2 165.4h0M399.9 177.5h0M409.7 186.8h0M400.5 186.1h0" stroke="#fff" stroke-width="1" stroke-linecap="round" fill="none" stroke-opacity="0.7"/>
<path d="M387.6 164.4C388.4 163 390.1 162.5 392.1 162.1C394.1 161.7 397.9 161.5 399.7 162.1C401.5 162.7 402.8 164.5 402.8 165.9C402.8 167.3 402 169 399.7 170.4C397.4 171.8 391.2 174.2 389.1 174.2C387 174.2 387.6 172 387.3 170.4C387.1 168.8 386.8 165.8 387.6 164.4Z" fill="#55bd45" fill-opacity="1"/>
<path d="M398.6 171.7h0M401 168.7h0M387.3 171.5h0M400.7 167.7h0M393.2 161.8h0M395.6 162.3h0M400.8 164.2h0M387.5 166.6h0M401.7 167.7h0M387.2 164.3h0M403.3 166.1h0M388.2 170.8h0M397.7 171.1h0M390.9 162.4h0M392.8 172.6h0M387.9 172.7h0M389.3 169.6h0M390.3 163h0M397.3 171.6h0M397.5 162.3h0M386.4 165.4h0M402.2 164.8h0M388.9 174.2h0M387.2 165.6h0M391.3 161.3h0M395.8 161.6h0M399.8 161.4h0M387.1 171.2h0M403.4 166.2h0M396.2 171.1h0M395 162.2h0M401.9 164.5h0M396.6 161.2h0M391.6 172.7h0M387.4 171.8h0M387.1 166.1h0M391 163.5h0M389.5 174.2h0M395.1 160.6h0M402.9 164.8h0M400 163.7h0M394.5 171.9h0M388.3 169.9h0M400.4 168.3h0M401.2 168.3h0M388.6 173h0M392.6 172.9h0M399.9 169.9h0M397 170.8h0M388.1 173.9h0" stroke="#55bd45" stroke-width="1.1" stroke-linecap="round" fill="none"/>
<path d="M395.7 168.9h0M398.7 168.3h0M388.4 172.4h0M400.8 167.9h0M395.6 167.9h0M397.3 169.2h0M389 169.5h0M395.4 170.2h0" stroke="#fff" stroke-width="1" stroke-linecap="round" fill="none" stroke-opacity="0.7"/>
<path d="M394.4 203.8C396.2 202.3 402.6 201.6 405.8 200.8C409 200.1 411.8 198.3 413.4 199.3C415 200.3 416.2 205.1 415.7 206.9C415.2 208.7 413.5 208.9 410.4 209.9C407.3 210.9 399.7 212.9 397.2 212.9C394.7 212.9 395.7 211.4 395.2 209.9C394.7 208.4 392.6 205.3 394.4 203.8Z" fill="#8e5a4c" fill-opacity="1"/>
<path d="M415.6 203.6h0M406.8 210h0M410.6 200.3h0M409.9 201h0M409.1 199.4h0M414.3 201.3h0M403.4 210.9h0M414.3 202.4h0M394.9 205.4h0M395.5 210.3h0M394.9 205.6h0M399.5 213.5h0M411.7 199.8h0M411 209.1h0M413.6 201.5h0M393.9 204.2h0M410.7 209.8h0M412.8 207.6h0M414.7 204.6h0M404.8 201.5h0M394.9 208.4h0M412.1 209.1h0M398.6 202.2h0M395 210.4h0M395.1 205.9h0M397 213.2h0M409.4 200.8h0M402.2 212.6h0M401.1 201.2h0M397.1 202.3h0M412.6 199.7h0M407.3 200.7h0M397.2 202.5h0M414 209h0M396.2 209.6h0M397.9 212.9h0M413.1 207.6h0M395.7 203.6h0M411.1 209h0M398.6 202.6h0M396.4 209.8h0M401.9 211.1h0M410.3 209.9h0M397.4 202.2h0M396.1 203.7h0M405.3 210.6h0M414.1 207.2h0M395.6 204.6h0M396.7 202.5h0M412.7 208.9h0" stroke="#8e5a4c" stroke-width="1.1" stroke-linecap="round" fill="none"/>
<path d="M409.1 201.4h0M395.6 205.9h0M404.2 201.6h0M411.4 201.2h0M402.1 204.5h0M396.6 207.8h0M399.9 202.4h0M414.3 206.3h0M407.5 207.5h0M408.6 204.6h0M414.3 202.5h0M399.6 209h0M408.8 208.6h0M404 207.3h0M397.1 210.4h0M409.3 202.3h0M395 206.5h0M397.8 210.1h0M403.9 203.5h0M397.1 208.3h0" stroke="#fff" stroke-width="1" stroke-linecap="round" fill="none" stroke-opacity="0.7"/>
<path d="M419.2 162.4h0M415.6 165.4h0M423.4 158.1h0M424.2 156.2h0M415.4 163.3h0M414.1 162.7h0M413.4 163.2h0M420.3 157.8h0M415.5 163.6h0M416.7 162.1h0M418 160.3h0M419.6 160.4h0M421.6 157.7h0M418.3 161.5h0M420.6 156.7h0M417.1 161.4h0M419.3 159h0M421.3 156.2h0M417.5 160.1h0M420.3 159.7h0M419.7 161.8h0M417.2 160.8h0M422.5 157.9h0M415.2 164.9h0M418.2 160.5h0M420.9 157.2h0M417.9 161.6h0M414.4 162.4h0M418.3 161.5h0M420.2 158.7h0" stroke="#e2634f" stroke-width="1.2" stroke-linecap="round" fill="none"/>
<path d="M413.9 165.3h0M416 163.9h0M415.9 166.4h0M411.9 170.3h0M412.6 177.6h0M412.8 172.3h0M417.4 171.5h0M412.5 169.2h0M417 181h0M413.2 176.3h0M413.2 173.9h0M413 163.6h0M416.7 165.6h0M414.9 170.7h0M417.3 179.3h0M415.8 170.6h0M414.9 166.6h0M411.6 176.8h0M415.5 173.8h0M412.5 175.2h0" stroke="#e2634f" stroke-width="1.3" stroke-linecap="round" fill="none"/>
<path d="M447.1 172.1h0M447 155.4h0M450.8 172.5h0M452.9 166.6h0M455 147.1h0M449.9 169.5h0M451.4 176.2h0M445.6 164.9h0M452.5 160.8h0M447.7 155.1h0M454.9 164.5h0M452 163.2h0M440.4 158.1h0M454.3 173.4h0M458.3 166.7h0M449.2 182.1h0" stroke="#e37cc6" stroke-width="1.3" stroke-linecap="round" fill="none"/>
<path d="M465.3 193.4h0M471.9 173h0M481.5 174h0M463.8 173.6h0M462.3 170.7h0M481.7 175.6h0M473.5 188.2h0M465 179.2h0M467.4 170.4h0M477 164.6h0M479.1 166.1h0M457.5 180.9h0M469.3 170.6h0M470.9 167.7h0M490.4 175.6h0M472.2 159.9h0M470.9 182.7h0M463.1 164.9h0M466.7 177.8h0M470.8 164.5h0" stroke="#5bc9d5" stroke-width="1.3" stroke-linecap="round" fill="none"/>
<path d="M451.9 198h0M450 188.8h0M448.8 184.4h0M449.7 187.2h0M445.7 184.8h0M449.2 200.4h0" stroke="#e37cc6" stroke-width="1.3" stroke-linecap="round" fill="none"/>
<path d="M457.2 209.8h0M456.4 220h0M463.2 212.2h0M460.4 216.1h0M471.1 209.7h0M468.4 204.7h0M460 217.4h0M455.2 197.2h0M447.4 219.8h0M461.1 213.8h0M463 207.7h0M469.3 221h0M458.8 209h0M450.6 213.2h0M450.8 222.6h0M457.9 212.7h0" stroke="#e8913f" stroke-width="1.3" stroke-linecap="round" fill="none"/>
<path d="M467.4 210.1h0M468.3 213.9h0M462.4 210.2h0M471.6 215.8h0M477.5 205.1h0" stroke="#e8913f" stroke-width="1.3" stroke-linecap="round" fill="none"/>
<path d="M441.4 149.6h0M442.6 151.7h0M440.7 152.9h0M441.3 150.6h0M444.3 152.1h0M438.2 154.4h0M437.4 148.9h0M437.4 154.1h0" stroke="#a68fd9" stroke-width="1.3" stroke-linecap="round" fill="none"/>
</g>
<path d="M533.1 145.9C534.1 144.3 537.9 141.7 540.6 140.7C543.3 139.7 546 139.4 549.5 140C553 140.6 559.9 142.7 561.4 144.4C562.9 146.1 560.5 148.9 558.5 150.4C556.5 151.9 551.8 151.4 549.5 153.4C547.2 155.4 546.5 161.8 545 162.3C543.5 162.8 542.3 158.3 540.6 156.3C538.9 154.3 535.9 152.1 534.6 150.4C533.4 148.7 532.1 147.5 533.1 145.9Z" fill="#a68fd9" fill-opacity="1"/>
<path d="M556.4 142.3h0M549.1 139.7h0M538.7 154h0M559.6 143.6h0M557.5 149.4h0M533.8 149.4h0M548.9 140.2h0M541.4 140.9h0M533.8 148.3h0M538.7 154.9h0M560.9 145h0M539.2 155h0M534.1 146.2h0M558.6 143.6h0M547.5 155.5h0M534.3 147.9h0M544.5 162.5h0M542 158.5h0M540.8 158h0M547.4 156.2h0M556.7 143h0M535 151h0M541.1 157.4h0M545.7 160.3h0M558.7 148.2h0M542.4 157.9h0M540.2 141.2h0M533 149.6h0M550.4 153.7h0M533.7 145.1h0M551.5 152.3h0M536.2 143.7h0M551.9 151.3h0M552.9 152h0M548.3 139.3h0M553.2 151.9h0M540.8 141.1h0M551.1 154.3h0M533.6 148.6h0M551.9 151.5h0M538 141.2h0M556.8 141.6h0M560 149.7h0M537.7 153.8h0M542.6 159.3h0M534 146h0M558 149.4h0M560 144.8h0M533.7 146.6h0M545.2 141h0M557.8 150.8h0M552.3 150.5h0M534.3 147h0M553.8 140.8h0M555.1 141.9h0M550.5 152.2h0M542.1 160.3h0M551.8 152.4h0M537.8 153.5h0M535.9 143.7h0" stroke="#a68fd9" stroke-width="1.1" stroke-linecap="round" fill="none"/>
<path d="M545.4 159.6h0M552 143.9h0M545.8 146.6h0M552.1 147.6h0M546.2 156.9h0M546.9 146.6h0M558.7 147.3h0M556.2 146.9h0M545.5 160.9h0M550.9 146.5h0M535.2 145.3h0M548.7 151.8h0M544.4 159.6h0M541 150.8h0M545.9 151.7h0M540.2 145.3h0M554.9 144.1h0M549.2 153.5h0M558.6 144.9h0M542.6 152.7h0M543.3 151.4h0M551.6 151.5h0M538.6 148.3h0M545 159.8h0M559.9 145.4h0" stroke="#fff" stroke-width="1" stroke-linecap="round" fill="none" stroke-opacity="0.7"/>
<path d="M561.4 145.2C562.9 141.2 567.4 144.3 570.4 147.4C573.4 150.5 577.7 158.3 579.3 163.8C580.9 169.3 580.8 175.2 580 180.2C579.2 185.2 576.6 190.4 574.8 193.6C572.9 196.8 571.1 198.3 568.9 199.5C566.7 200.7 562.9 201.5 561.4 201C559.9 200.5 559.9 201.5 559.9 196.5C559.9 191.5 561.1 179.8 561.4 171.2C561.6 162.6 559.9 149.2 561.4 145.2Z" fill="#5bc9d5" fill-opacity="1"/>
<path d="M569.7 197h0M572.5 151.6h0M561 182.1h0M568.5 200.1h0M561.6 144.8h0M565.2 145.3h0M561.8 147.2h0M560.9 198.8h0M575.3 157.7h0M562.9 145h0M561.3 199.1h0M560.4 195.4h0M567.8 146.1h0M574.5 192.4h0M562.1 167.5h0M567.9 200.1h0M566.5 201.5h0M573.2 196.7h0M562.9 145h0M568.8 146.7h0M560.4 145.2h0M563.1 145.8h0M568 199.9h0M560.8 161.8h0M570 200.2h0M578.7 164.9h0M569.8 199h0M562.7 201.3h0M569.8 147.8h0M560.6 201.3h0M580.1 167.3h0M565.9 200h0M559.4 191.7h0M563.8 199.6h0M566.7 145.8h0M579.6 169.4h0M561.3 198.8h0M579.4 169.2h0M566 201.1h0M570.5 148.2h0M561 176.3h0M580.1 181.4h0M566.9 147.3h0M560.3 198.6h0M561.3 151.3h0M574.3 194.5h0M565.8 146.9h0M561 176.1h0M561.1 175.2h0M559.8 145.1h0M565.7 146.4h0M577.1 157.6h0M579.7 178.3h0M579.6 169.1h0M561.7 184.7h0M571 198.1h0M561.8 179.6h0M578 161.5h0M560.2 182.5h0M571.8 147.3h0M576.7 158h0M560.3 153.5h0M560.9 192.4h0M574.2 194.7h0M574.4 193.3h0M560.9 196.8h0M574.3 193.5h0M579.5 179.1h0M573.2 196h0M566.7 200.4h0M560.1 198.6h0M560.9 156.6h0M571.9 149.7h0M565.9 200.7h0M578.2 172.2h0M561.5 149.8h0M566.3 200.5h0M561.3 199.4h0M559.6 200.4h0M559.1 196.9h0" stroke="#5bc9d5" stroke-width="1.1" stroke-linecap="round" fill="none"/>
<path d="M571.1 194h0M568.6 157.2h0M572.7 171.5h0M573.3 182.6h0M562.7 147.8h0M570.6 197.1h0M561.1 193.9h0M565.9 182.1h0M573.7 170.6h0M563.9 193.8h0M565.8 164h0M569 164.8h0M560.8 194.6h0M578.9 166.4h0M578.9 175h0M566.2 170.5h0M574.7 192h0M561.9 163.1h0M563.8 189.9h0M562.8 188.4h0M567.7 157.3h0M577.2 160.7h0M571.7 162.8h0M567.2 164.9h0M569.8 198.3h0M567.9 157h0M569.7 172.5h0M567.9 188.1h0M572.8 173.5h0M570.3 156.5h0M564.3 148.8h0M570.4 190.7h0M566.6 170.3h0M579.3 166.7h0M562 159.6h0" stroke="#fff" stroke-width="1" stroke-linecap="round" fill="none" stroke-opacity="0.7"/>
<path d="M545 162.3C545.9 159.1 548.3 154.4 551 151.9C553.7 149.4 559.7 144.2 561.4 147.4C563.1 150.6 561.6 163 561.4 171.2C561.1 179.4 561.1 192.3 559.9 196.5C558.7 200.7 556 198.5 554 196.5C552 194.5 549.4 188.8 548 184.6C546.6 180.4 546.3 174.9 545.8 171.2C545.3 167.5 544.1 165.5 545 162.3Z" fill="#e37cc6" fill-opacity="1"/>
<path d="M556.8 148.6h0M555 197.4h0M546.7 169.2h0M544.8 163.3h0M560 147.8h0M550.1 189.1h0M560.2 189.9h0M556.8 195.9h0M560.6 187h0M560.1 188.6h0M561.8 175.2h0M556.9 150.1h0M554.8 196.2h0M547.6 183.1h0M561.9 166.7h0M546.2 167.3h0M548.5 185h0M560.6 197.1h0M550.8 191.6h0M554.4 197.4h0M553.5 151.6h0M560.7 151.1h0M547.8 158.3h0M544.4 168.8h0M552.7 151.6h0M551.6 191.9h0M561.9 159.8h0M547.9 181.4h0M550.6 191.7h0M544.8 162.1h0M555.3 149h0M546.4 173.7h0M562.7 165h0M558.4 148.2h0M562.1 178.6h0M561.8 171.5h0M545.8 171h0M559.2 188.4h0M547.4 183.4h0M547.9 178.1h0M548.4 185.2h0M557.3 196.2h0M546.5 177.4h0M553.6 195.8h0M546.4 175.9h0M559.6 196.6h0M560.3 185.2h0M561 168.7h0M559.6 194.8h0M545.9 170.4h0M550.4 152.3h0M544.8 162.6h0M546.9 176.5h0M557 196.4h0M546.5 169h0M560.8 157.1h0M545.5 170.9h0M550.6 153.1h0M560.3 192.4h0M559.4 191.7h0" stroke="#e37cc6" stroke-width="1.1" stroke-linecap="round" fill="none"/>
<path d="M553.2 192.8h0M556.1 194.1h0M551.5 151.8h0M553.3 165.4h0M560 158.8h0M552.5 158.5h0M553.6 184h0M559.7 156.4h0M552.9 160h0M550.8 173.7h0M558.4 151.7h0M548.4 158h0M548.9 179.3h0M559.7 172.4h0M559.7 173.1h0M558.8 194.6h0M559.9 162.9h0M556 158.8h0M549.4 173h0M550.2 154.1h0M559.3 170h0M559.6 187.5h0M549.6 166.7h0M558.5 161.4h0M546.8 162.1h0" stroke="#fff" stroke-width="1" stroke-linecap="round" fill="none" stroke-opacity="0.7"/>
<path d="M554 196.5C554.7 195.8 559.7 197.5 561.4 199.5C563.1 201.5 562.7 208.4 564.4 208.4C566.1 208.4 569.6 199.5 571.8 199.5C574 199.5 576.8 205.2 577.8 208.4C578.8 211.6 579.5 216.4 577.8 218.9C576.1 221.4 571.1 222.3 567.4 223.3C563.7 224.3 558.9 224.8 555.5 224.8C552.1 224.8 548.3 225 547.3 223.3C546.3 221.6 547.9 217.6 549.5 214.4C551.1 211.2 556.2 207 557 204C557.8 201 553.3 197.2 554 196.5Z" fill="#e8913f" fill-opacity="1"/>
<path d="M558.5 225.8h0M567.4 203h0M557.3 198h0M555.1 197.5h0M549.3 216.1h0M577.7 209.7h0M558.6 224.2h0M567.4 204.3h0M562.7 200.1h0M552 209.7h0M556 203h0M548.3 218.7h0M565.6 223.5h0M560.4 200.3h0M556 198.3h0M547.9 219.2h0M573.3 221.7h0M578.2 216.6h0M578.2 218h0M559.6 198.4h0M577.9 208.9h0M576.9 218.6h0M552.2 212.3h0M578.3 216.2h0M564.2 225h0M554.2 199.8h0M560.6 199.2h0M551.3 224.2h0M574.1 203.2h0M558.6 197.8h0M564.2 205.5h0M555.9 201.7h0M549.5 216.3h0M564.6 207.3h0M577.1 213.8h0M565.2 207.7h0M550 225.3h0M563.5 205.2h0M555 223.5h0M558.6 224.9h0M556.6 205.5h0M556.8 201.7h0M562.7 203.8h0M577.2 219.5h0M554.2 224.9h0M555.3 200.4h0M547.5 220.8h0M577.5 211.7h0M575.3 220.5h0M576.7 220.2h0M553.4 198h0M563 201.6h0M569.9 203h0M557.1 203.4h0M557.5 198.7h0M577.9 212.2h0M548.6 221.7h0M567.3 205.5h0M548 219.8h0M574.3 220.8h0M552.5 223.3h0M573.9 203.9h0M569.7 221.8h0M550.7 213.5h0M577 220h0M576.2 219h0M575.4 219.1h0M555.4 196.7h0M565.1 208.8h0M568.6 204.2h0" stroke="#e8913f" stroke-width="1.1" stroke-linecap="round" fill="none"/>
<path d="M562.6 208h0M573.7 213.2h0M557.9 218.3h0M577.3 209h0M556.4 209.3h0M556.6 218.4h0M566 215.2h0M562.5 207.1h0M563 208.4h0M555 197.2h0M557.9 204.9h0M565.4 216.6h0M564.3 217.4h0M574.9 210.3h0M555.9 201.2h0M554.8 213.6h0M572.5 209.3h0M556.1 206.4h0M550.1 221.1h0M556.4 200.1h0M563.8 215.3h0M573 202.8h0M551.2 219.4h0M565.1 216.2h0M561.1 199.7h0" stroke="#fff" stroke-width="1" stroke-linecap="round" fill="none" stroke-opacity="0.7"/>
<path d="M565.1 208.4C565.5 206.4 570 202 571.8 202.5C573.5 203 576 209.4 575.6 211.4C575.2 213.4 571.4 214.9 569.6 214.4C567.9 213.9 564.7 210.4 565.1 208.4Z" fill="#fff" fill-opacity="0.85"/>
<path d="M533.1 148.1C532.9 147.8 528.2 152.7 525.7 154.8C523.2 156.9 520.2 159.1 518.2 160.8C516.2 162.6 514 163.3 513.8 165.3C513.6 167.3 515.8 171 516.8 172.7C517.8 174.4 519 176.7 519.7 175.7C520.4 174.7 520 170 521.2 166.8C522.5 163.6 525.2 159.4 527.2 156.3C529.2 153.2 533.4 148.3 533.1 148.1Z" fill="#e2634f" fill-opacity="1"/>
<path d="M520.9 169.2h0M520 168.1h0M519.4 176.7h0M523.3 156.4h0M518.8 162.2h0M517.1 173.6h0M521.8 170.2h0M522.5 163.9h0M530 153h0M518.8 160.1h0M523.7 156.5h0M515.4 162.1h0M527.3 156.3h0M516.3 168.8h0M515.8 169.3h0M515.4 170.1h0M519 175.5h0M520.3 169h0M514.8 167h0M517.6 174h0M519.1 174.6h0M516.3 173.1h0M523.5 155.5h0M526.3 154.6h0M531.4 151h0M518.4 175.1h0M516.7 161.8h0M521 167.7h0M529.2 153.1h0M527.7 152.8h0M516.6 171.9h0M518.4 174h0M519.9 160.5h0M533.7 148.5h0M514.1 164.7h0M520 173.6h0M516.6 162.2h0M529.2 152.9h0M521.1 176h0M520.6 171.9h0" stroke="#e2634f" stroke-width="1.1" stroke-linecap="round" fill="none"/>
<path d="M512.1 175.4h0M498.5 183.7h0M498.6 180.3h0M497.6 183.1h0M500 174.7h0M510.3 176.7h0M499.8 178h0M508.5 194h0M498.7 185.6h0M510.5 170.6h0M492.1 168.3h0M496.3 181.4h0M502.1 189.2h0M502 176.5h0M490 189.8h0M508.7 187.8h0M497.5 171h0M498.6 166.3h0M511.8 181.4h0M512.3 184.7h0M515.7 183.5h0M508.9 194.8h0M492.9 187.9h0M490.9 186.9h0M501.2 186.2h0M499.1 184.8h0M501.2 178h0M496.4 191h0M511.1 175.3h0M513.3 172.3h0M504.3 182.1h0M513.1 186.1h0M501.3 185.6h0M509.2 174.9h0M506.8 177.4h0M487.4 178.7h0M505.9 186.1h0M505.2 182.6h0M491.1 171.9h0M499.4 182.1h0M498.8 180.9h0M503.1 185.2h0M517.7 166.6h0M512.8 173.7h0M489.4 185.3h0M500.7 174.1h0M516.8 174h0M509.5 202.3h0M498.9 173h0M507.7 195.9h0M516.5 188.3h0M515 180.6h0M504.4 178h0M501.6 176.5h0M515.1 176.8h0M509.5 193.6h0M511.2 183.3h0M513.4 172.1h0M495.9 184.9h0M504.7 187h0M511.8 170.9h0M512.2 186h0M500.6 166.5h0M507.5 179.5h0M505.4 173.3h0M504.6 184.9h0M504.9 197h0M513.8 183.2h0M507.1 177.4h0M504.8 197.4h0M504.1 193h0M504 175.5h0M523.3 190.6h0M498.3 182h0M507.2 200.4h0M513.5 180.6h0M505.5 188h0M497.4 185.1h0M494 186.2h0M497.8 189h0M506.7 180.3h0M514.3 189.8h0M513.8 197.3h0M512.3 189h0M505.7 195.4h0M501.8 187.5h0M514.5 176.1h0M510.8 175.3h0M501.6 202.4h0M511.1 206.9h0M506.3 178.5h0M503.8 184.9h0M512.4 175.9h0M512.8 175h0M510.2 179.6h0M506.7 191.7h0M496.9 190.1h0M507.1 178.1h0M492.2 193.1h0M494.1 172.8h0M496 202.7h0M502.8 186h0M500.1 180.8h0M499.3 190.5h0M486.5 162.9h0M508.3 190.7h0M512.1 165.8h0M510 192.4h0M499.6 167.5h0M504.2 180.8h0M499.2 180h0M491.8 181.5h0M510.8 187.7h0M511.2 182.3h0M511.6 197.9h0M504.9 197h0M501.7 168.3h0M496 188h0M507.4 180h0M512.7 168.8h0M507 177h0M505.3 191.7h0M505.5 172.4h0M508.8 184.5h0M503.2 184.6h0M504.5 182.3h0M493.3 191.4h0M501.6 165.8h0M513.3 177.7h0M503.1 174.4h0M494.9 193.6h0M496.3 176.3h0M503 174.9h0M499.4 171.1h0M503.3 175.8h0M499.6 173.1h0M491.4 193.7h0M512.4 178h0M508.8 180.7h0M496.2 173.8h0" stroke="#d3c93c" stroke-width="1.3" stroke-linecap="round" fill="none"/>
<path d="M499.7 166.7h0M504.2 166.8h0M506 168.7h0M505.8 166.9h0M498.7 166.7h0M509 169h0M503.3 163.9h0M493.7 166.4h0M505.5 165h0M508.3 165.6h0M505.4 164.5h0M492.1 162.5h0" stroke="#55bd45" stroke-width="1.3" stroke-linecap="round" fill="none"/>
<path d="M501.2 200.8h0M503.9 207.8h0M502.4 209.9h0M507.3 212.5h0M505.5 202.5h0M502.6 202.6h0M507.8 210.6h0M508.2 206.8h0M510.7 200.3h0M508.4 210.4h0M499.6 207.4h0M499.2 212.2h0" stroke="#8e5a4c" stroke-width="1.3" stroke-linecap="round" fill="none"/>
<rect x="381.2" y="135.3" width="101" height="91.8" fill="none" stroke="#111" stroke-width="1.3"/>
<text x="384.3" y="144.5" font-size="8.9">Mat. Neu</text>
<rect x="485.1" y="135.3" width="100" height="91.8" fill="none" stroke="#111" stroke-width="1.3"/>
<text x="487.6" y="144.5" font-size="8.9">Imm. Neu</text>
<line x1="619.2" y1="43.6" x2="619.2" y2="189.5" stroke="#000" stroke-width="1.5"/>
<line x1="618.6" y1="188.9" x2="681.5" y2="188.9" stroke="#000" stroke-width="1.5"/>
<line x1="614.7" y1="188.9" x2="619.2" y2="188.9" stroke="#111" stroke-width="1.1"/>
<text x="614" y="192.1" font-size="9" text-anchor="end">0</text>
<line x1="614.7" y1="152.7" x2="619.2" y2="152.7" stroke="#111" stroke-width="1.1"/>
<text x="614" y="155.9" font-size="9" text-anchor="end">25</text>
<line x1="614.7" y1="116.5" x2="619.2" y2="116.5" stroke="#111" stroke-width="1.1"/>
<text x="614" y="119.7" font-size="9" text-anchor="end">50</text>
<line x1="614.7" y1="80.3" x2="619.2" y2="80.3" stroke="#111" stroke-width="1.1"/>
<text x="614" y="83.5" font-size="9" text-anchor="end">75</text>
<line x1="614.7" y1="44.1" x2="619.2" y2="44.1" stroke="#111" stroke-width="1.1"/>
<text x="614" y="47.3" font-size="9" text-anchor="end">100</text>
<text x="595.5" y="121" font-size="11" text-anchor="middle">%</text>
<rect x="624" y="172.2" width="13" height="16.7" fill="#8e5a4c" stroke="#333" stroke-width="0.5"/>
<rect x="624" y="159.9" width="13" height="12.3" fill="#55bd45" stroke="#333" stroke-width="0.5"/>
<rect x="624" y="47.7" width="13" height="112.2" fill="#d3c93c" stroke="#333" stroke-width="0.5"/>
<rect x="624" y="45.5" width="13" height="2.2" fill="#e2634f" stroke="#333" stroke-width="0.5"/>
<rect x="624" y="44.1" width="13" height="1.4" fill="#111" stroke="#333" stroke-width="0.5"/>
<rect x="624" y="44.1" width="13" height="144.8" fill="none" stroke="#222" stroke-width="1"/>
<rect x="638.5" y="187.5" width="13" height="1.4" fill="#8e5a4c" stroke="#333" stroke-width="0.5"/>
<rect x="638.5" y="186" width="13" height="1.4" fill="#d3c93c" stroke="#333" stroke-width="0.5"/>
<rect x="638.5" y="185" width="13" height="1" fill="#e8913f" stroke="#333" stroke-width="0.5"/>
<rect x="638.5" y="181.7" width="13" height="3.3" fill="#e2634f" stroke="#333" stroke-width="0.5"/>
<rect x="638.5" y="165" width="13" height="16.7" fill="#a68fd9" stroke="#333" stroke-width="0.5"/>
<rect x="638.5" y="127.4" width="13" height="37.6" fill="#e37cc6" stroke="#333" stroke-width="0.5"/>
<rect x="638.5" y="78.9" width="13" height="48.5" fill="#5bc9d5" stroke="#333" stroke-width="0.5"/>
<rect x="638.5" y="44.8" width="13" height="34" fill="#e8913f" stroke="#333" stroke-width="0.5"/>
<rect x="638.5" y="44.1" width="13" height="144.8" fill="none" stroke="#222" stroke-width="1"/>
<rect x="652.8" y="177.3" width="13" height="11.6" fill="#8e5a4c" stroke="#333" stroke-width="0.5"/>
<rect x="652.8" y="167.2" width="13" height="10.1" fill="#55bd45" stroke="#333" stroke-width="0.5"/>
<rect x="652.8" y="47" width="13" height="120.2" fill="#d3c93c" stroke="#333" stroke-width="0.5"/>
<rect x="652.8" y="46.4" width="13" height="0.6" fill="#e2634f" stroke="#333" stroke-width="0.5"/>
<rect x="652.8" y="44.1" width="13" height="2.3" fill="#111" stroke="#333" stroke-width="0.5"/>
<rect x="652.8" y="44.1" width="13" height="144.8" fill="none" stroke="#222" stroke-width="1"/>
<rect x="667.4" y="187.5" width="13" height="1.4" fill="#8e5a4c" stroke="#333" stroke-width="0.5"/>
<rect x="667.4" y="183.8" width="13" height="3.6" fill="#d3c93c" stroke="#333" stroke-width="0.5"/>
<rect x="667.4" y="182.4" width="13" height="1.4" fill="#e8913f" stroke="#333" stroke-width="0.5"/>
<rect x="667.4" y="170.8" width="13" height="11.6" fill="#e2634f" stroke="#333" stroke-width="0.5"/>
<rect x="667.4" y="146.9" width="13" height="23.9" fill="#a68fd9" stroke="#333" stroke-width="0.5"/>
<rect x="667.4" y="110.7" width="13" height="36.2" fill="#e37cc6" stroke="#333" stroke-width="0.5"/>
<rect x="667.4" y="64.4" width="13" height="46.3" fill="#5bc9d5" stroke="#333" stroke-width="0.5"/>
<rect x="667.4" y="44.1" width="13" height="20.3" fill="#e8913f" stroke="#333" stroke-width="0.5"/>
<rect x="667.4" y="44.1" width="13" height="144.8" fill="none" stroke="#222" stroke-width="1"/>
<line x1="630.5" y1="188.9" x2="630.5" y2="193.4" stroke="#111" stroke-width="1.3"/>
<text x="633.7" y="196.4" font-size="9.6" text-anchor="end" transform="rotate(-55 633.7 196.4)">Mat.</text>
<line x1="645" y1="188.9" x2="645" y2="193.4" stroke="#111" stroke-width="1.3"/>
<text x="648.2" y="196.4" font-size="9.6" text-anchor="end" transform="rotate(-55 648.2 196.4)">Imm.</text>
<line x1="659.3" y1="188.9" x2="659.3" y2="193.4" stroke="#111" stroke-width="1.3"/>
<text x="662.5" y="196.4" font-size="9.6" text-anchor="end" transform="rotate(-55 662.5 196.4)">Mat.</text>
<line x1="673.9" y1="188.9" x2="673.9" y2="193.4" stroke="#111" stroke-width="1.3"/>
<text x="677.1" y="196.4" font-size="9.6" text-anchor="end" transform="rotate(-55 677.1 196.4)">Imm.</text>
<line x1="618" y1="215.7" x2="638.5" y2="215.7" stroke="#111" stroke-width="1.5"/>
<line x1="649" y1="215.7" x2="669.5" y2="215.7" stroke="#111" stroke-width="1.5"/>
<text x="628.5" y="227.5" font-size="11.3" text-anchor="middle">HP</text>
<text x="659.5" y="227.5" font-size="11.3" text-anchor="middle">GDM</text>
<text x="2" y="257.5" font-size="14" font-weight="bold" fill="#000">D</text>
<text x="28.5" y="296.8" font-size="12">Up in Imm.</text>
<text x="98.2" y="296.8" font-size="12">Up in Mat.</text>
<clipPath id="cv1"><rect x="28.6" y="300.9" width="124" height="159.3"/></clipPath>
<g clip-path="url(#cv1)">
<path d="M103.6 445.9h0M72.8 431.3h0M78 425.7h0M87 445.7h0M72.7 440.1h0M86.3 443.8h0M77.1 444.1h0M77.6 427.6h0M84.8 432.8h0M91.1 436.4h0M92.8 451.1h0M75.8 431.4h0M80.2 434.4h0M77.8 444h0M85.2 444.6h0M84.6 451h0M87.9 438.8h0M97 437.1h0M87.3 444.1h0M77.1 435.3h0M102 427h0M88.2 450.8h0M73.3 442.6h0M96.1 432.7h0M93.8 432.4h0M78.1 436.2h0M79.6 426.6h0M85.1 426.8h0M71.3 437.6h0M90.2 448.7h0M91.4 438.8h0M79 444.7h0M82.2 449.2h0M89.6 427.1h0M83.8 440.1h0M98.7 432.5h0M83.9 453.8h0M78.2 449.4h0M86.9 446.4h0M85.6 427h0M91.9 441.7h0M94.1 429.7h0M95.9 442.3h0M88.5 430h0M85.3 435.7h0M77.8 445.7h0M82.2 450.1h0M92.2 446h0M83.6 453.4h0M85.2 450.3h0M90.8 451.3h0M93.2 428.7h0M89.5 425.9h0M76.2 443.4h0M59.5 436.1h0M80.6 446h0M93.9 438.3h0M94.3 437.2h0M97.7 444.7h0M93.7 448.2h0M90.1 439h0M84.4 450.6h0M96.7 446.3h0M91.7 427.7h0M93.9 446.9h0M91.3 451.6h0M87.9 435.3h0M97.4 445.2h0M86.5 454.9h0M96 450.2h0M82 426.2h0M104.2 435.5h0M85.9 454.8h0M92.8 439.8h0M90.4 444.6h0M80.7 446.1h0M100.2 430.5h0M87 450.6h0M73.6 428.4h0M81.8 448.6h0M98.6 426.7h0M90.1 451.7h0M89.9 451.3h0M77.1 438.9h0M85.7 437.9h0M88.4 431.1h0M90.5 426.5h0M88.9 442.9h0M90.2 428.1h0M73.3 440.4h0M88.6 430.7h0M78.2 444h0M90.7 452.2h0M86.9 429.8h0M72 431.4h0M91.4 447.6h0M84.7 452.6h0M91.1 447.6h0M81.5 438.4h0M74.5 432.5h0M93.6 439.3h0M97.9 437.3h0M85.6 431.4h0M95 447.6h0M102.6 443.9h0M99.1 437h0M82.2 433.8h0M78.3 450.3h0M75.1 429.8h0M86.1 425.5h0M83.7 453.2h0M74.3 425.4h0M106.2 436h0M76.8 437.1h0M79.4 442.9h0M92.3 453.9h0M89 446.3h0M87.9 449.7h0M78.6 436.4h0M90.8 441.5h0M88.7 445.2h0M98.3 439.2h0M92.2 450.9h0M90.4 448.2h0M91.8 442.3h0M96.8 445.1h0M86.1 443.6h0M88.9 442.6h0M85.8 444.6h0M94.2 452h0M87.9 434h0M92.1 440.2h0M97.2 433.5h0M102.5 432.8h0M83.2 431.6h0M95.8 429.9h0M91.8 433.4h0M92.9 453.7h0M84.2 426.9h0M93.7 436.2h0M84.6 432.6h0M91 452.6h0M97.1 432.7h0M84 430h0M97.5 429.2h0M80.2 430h0M93.7 445.4h0M86.5 433.8h0M93.7 425h0M86.8 438.8h0M70.8 436.3h0M91.4 447.8h0M87.7 451.2h0M76.6 434.2h0M102.6 427.7h0M98.3 430.2h0M89.9 452.3h0M94.4 442.1h0M83.2 428.7h0M93.3 443.3h0M86.7 436.3h0M92.9 453.6h0M77.1 446.6h0M69.7 433.9h0M97.1 442.3h0M92.9 431.3h0M95.5 448.2h0M88.9 429.2h0M97.5 426h0M87.1 452.1h0M92.2 446.5h0M81.1 452.3h0M80.3 451h0M87.2 442.7h0M92.3 442.3h0M99.9 439.4h0M83 454.2h0M88.7 428.5h0M108 442h0M71.6 443.7h0M102.1 447h0M95.4 447.5h0M96.8 450.4h0M98.2 444.7h0M99.7 427h0M93.2 442h0M102.3 436h0M93.3 436.1h0M79.2 445.6h0M85.2 434.3h0M88.9 446.2h0M94.1 446.9h0M101.4 431.4h0M87.8 426.2h0M92 441h0M87.1 426.4h0M103.5 430.4h0M86.8 439.4h0M89.8 429.8h0M100 431.2h0M91.7 450.2h0M92.1 428.2h0M86.1 436.5h0M88.8 440.5h0M74 426.9h0M82.2 431.4h0M87.6 431.1h0M94.6 432.1h0M82.2 447.8h0M80.6 427.2h0M96.8 438.7h0M85.7 431.6h0M106.4 439.6h0M75 432.4h0M83 433.7h0M106.6 438.8h0M91.5 426.8h0M82.4 442.6h0M73.7 439.4h0M85.9 448.4h0M98.1 430.3h0M96.5 444.8h0M64 433.7h0M95.7 441.4h0M85.1 433.6h0M97.7 448.6h0M96.5 425h0M87.2 445.6h0M83.8 444.1h0M97.8 444.8h0M96 431.3h0M83.4 443.8h0M90.9 444.9h0M83.7 444.2h0M90 453.3h0M90.3 433.6h0M83.4 451.7h0M102.8 431.4h0M107.3 431.9h0M82.8 437.6h0M79.6 432.3h0M73.5 431.7h0M100.3 436.5h0M75.9 448.2h0M82.2 447.7h0M95.3 435.1h0M86 440.4h0M74.6 434.6h0M102.3 434.4h0M89.8 430.7h0M88.6 438h0M91.1 429.6h0M99.2 441.5h0M81 425.4h0M102.1 445.5h0M88.2 452.4h0M78.3 443.1h0M77.2 428.4h0M74.9 447.3h0M80.2 444.1h0M97.7 430.1h0M90.7 444.3h0M85.5 426.9h0M83.8 448.6h0M77.1 425.9h0M85.6 425.6h0M101.6 429.8h0M92.2 443.5h0M95.8 426.3h0M85.5 439.3h0M91.3 447.9h0M85.9 428.8h0M88.8 425.8h0M105.5 441.5h0M101.9 437.9h0M84.4 432.9h0M91.9 446.4h0M91.8 428.5h0M88.4 437.4h0M85.9 452h0M85.9 443.3h0M93.2 430.9h0M74.8 431.8h0M83.9 449.2h0M84.9 430.6h0M103.2 441.5h0M99.1 440.5h0M81 446.5h0M79.5 442.8h0M83.8 449.2h0M81.5 439.2h0M86.3 428.4h0M85 449.3h0M94.4 446.7h0M83.6 452.3h0M75.3 441.6h0M91.9 435.7h0M78.8 445.5h0M76.1 429.5h0M110.8 425.1h0M85.2 451.2h0M87.1 448.6h0M89.1 436.1h0M88.5 447.9h0M93 426.3h0M85.1 449.1h0M79.7 447.3h0M100.4 445.8h0M85.5 444.2h0M86.4 447h0M81.6 428.3h0M80.3 450.8h0M95.2 429.3h0M92.3 443.7h0M94.3 425.4h0M80.4 440.5h0M78.2 447.2h0M99.8 446h0M99.6 444h0M89.6 429.4h0M105.7 441.8h0M83.3 446.9h0M82.5 426.2h0M83.3 443.8h0M82.3 431.2h0M80.8 450.1h0M86.6 438.7h0M78.1 439.5h0M89.8 444.4h0M72.1 425.1h0M90.4 431.7h0M93.8 437.1h0M102.5 442.3h0M93.8 450.1h0M90.1 444.6h0M81.7 436.2h0M92.2 425.9h0M97.7 438.8h0M85.7 452.7h0M85.4 439.8h0M95.5 448.6h0M82.9 449.9h0M87.1 443.9h0M101.2 425.5h0M93.1 427.1h0M86.4 437.7h0M97.5 443.9h0M84.9 430.1h0M87.5 453.4h0M74.4 425.9h0M96.2 430.9h0M83.2 443.9h0M103.8 441.2h0M87.6 426.9h0M88.6 427.4h0M85.9 449.6h0M95.3 450.1h0M85.5 442.6h0M88 442.1h0M76.5 439.2h0M78.4 445.1h0M75.7 442.9h0M87.9 453.3h0M78.5 434.4h0M83.7 434.5h0M79.5 438.6h0M80.3 433.6h0M90.6 437.5h0M105.6 426h0M98.6 426.1h0M89.1 437.4h0M86.5 427.9h0M91.6 425.6h0M87.2 443.8h0M95.2 450.6h0M104.9 434.9h0M89.1 449.7h0M83.5 443h0M83.9 451.5h0M98.4 447h0M92.3 440.6h0M83 448.1h0M78.8 443.9h0M72.5 439.5h0M93.9 433.8h0M94.4 441.7h0M72.2 434.6h0M62.9 427.5h0M89.2 434.5h0M83.7 426.2h0M75.5 443.3h0M78 447.8h0M94.3 430.3h0M84.2 452.1h0M93.7 441.1h0M82.6 437h0M85.8 434.8h0M96.3 428.5h0M84.9 442.3h0M83.3 453.2h0M80.2 451.8h0M90.8 429.3h0M76.6 443.1h0M60.7 429.3h0M86.5 436.4h0M88.7 429.3h0M100.6 443.2h0M87.3 425.4h0M105.2 442.7h0M88.4 454.7h0M98.7 435.3h0M79.5 434.6h0M94.2 438.5h0M79.9 447.5h0M94 442.8h0M96.7 435.8h0M82.7 446.9h0M83.5 444.8h0M89.4 439.2h0M82.1 442.3h0M70.6 431.6h0M76.6 427.2h0M86.5 435.2h0M93.1 440.4h0M71.1 426.6h0M91.6 454h0M78.9 431.8h0M91 451.2h0M79.6 450.1h0M89.6 454.5h0M91.9 425.6h0M90.2 430.1h0M97 433.3h0M74.8 427.6h0M89.9 448h0M79.4 450.8h0M70.5 430.7h0M82.3 436.2h0M92.4 450.8h0M99.4 439.2h0M91.4 430.3h0M97.1 435.7h0M69.9 438.8h0M94.9 448.7h0M79.8 444.5h0M92 448.1h0M88.9 430.1h0M82.9 432.5h0M87.8 444h0M87.5 438.7h0M78.7 439.3h0M81 427.8h0M75.3 435.3h0M85.2 436.8h0M99.9 430.4h0M99.5 426.6h0M83 438.6h0M84.5 449.3h0M81.8 443.1h0M92.9 427.5h0M82 440.3h0M97.6 439.5h0M91.5 450.8h0M93.7 428h0M94.2 444.1h0M84.4 440.1h0M101.2 444.2h0M88.1 444.5h0M91.4 453.9h0M94.3 441h0M62.1 428.8h0M95 449h0M95.5 440.7h0M95.4 442.6h0M88.4 442.8h0M77.9 433.3h0M90.4 427.6h0M92.8 432.1h0M100.6 428.8h0M70.2 437.4h0M82.4 451.2h0M88.9 453.3h0M76.1 441.6h0M81 425.6h0M99.6 441.1h0M86.6 431.7h0M80.1 429h0M86.2 447.6h0M86.4 445.6h0M100.3 439.7h0M92.5 442.5h0M88.7 429.7h0M92 427.8h0M100.6 442.8h0M96.1 448.3h0M94.2 441.6h0M92.7 426.8h0M101.2 444.9h0M97.9 446.4h0M100.9 438.8h0M82.9 438.1h0M80.2 434.4h0M80.9 434.7h0M100.8 442h0M79.7 436.8h0M88.5 454.5h0M82.6 447.8h0M97.4 446.2h0M93.7 425.5h0M87.7 434.4h0M80.7 427.9h0M91.1 446.5h0M84.1 430.4h0M88.9 436h0M93.5 436.9h0M89.8 435.2h0M78.3 428.9h0M87.5 434.3h0M93.7 431.7h0M81.1 451.5h0M85.5 437.3h0M89.9 427.8h0M84.4 454.6h0M87 444.8h0M87.5 442.2h0M62.8 425.7h0M81.3 443.9h0M90.8 448.8h0M94.5 432.2h0M86.4 427.6h0M79.8 449h0M73.9 429.3h0M87.2 451.3h0M96.7 438.5h0M97.7 428.4h0M96.4 426.1h0M68 427.3h0M82.4 449h0M76.8 441.4h0M97.7 433.2h0M80.9 428.6h0M87 443.2h0M87.7 429.3h0M97 442.6h0M87.2 448.1h0M90 445.3h0M93.2 453.9h0M81.2 442.2h0M85.3 428.1h0M88.7 446.6h0M79.9 446.7h0M96.4 439.7h0M88 451.4h0M87.4 434h0M88.8 446.1h0M84.2 450.1h0M79.5 433.6h0M92.6 447.8h0M87.1 451.7h0M91.7 452h0M84.2 425.4h0M84.6 438.2h0M96.8 427.2h0M79.4 439.9h0M106.2 436.3h0M89 433.8h0M91.4 426.5h0M96.2 447.4h0M81 430.9h0M85 448.7h0M104.1 441.7h0M80.9 439.1h0M85.4 426.6h0M77.1 436.6h0M91.8 446.5h0M100.9 444.6h0M84.4 448.5h0M84.5 450.3h0M83.8 439.7h0M87.4 441.3h0M86.9 453h0M88.6 451.5h0M85.5 436.8h0M100 426.3h0M85.7 425.3h0M81.6 425.1h0M108.3 438.9h0M95.5 436.2h0M74.9 433.6h0M93.4 434.4h0M91.1 448h0M77.2 437.5h0M77.2 448.1h0M93.3 425.3h0M62.8 438.4h0M73.2 438h0M94.8 430.6h0M95.7 437.9h0M87.3 436.3h0M91.1 454.3h0M95.4 435.4h0M83.2 426.9h0M81.9 434.4h0M92.2 447.7h0M82.8 442.4h0M89.1 444.3h0M85.1 425.5h0M103.4 426.2h0M84.9 429.8h0M86.8 433.2h0M89.4 444.3h0M103.7 431.6h0M75.9 440.5h0M81.4 436.4h0M88.1 438.1h0M95.2 431.2h0M70.7 433h0M82.9 447.8h0M77.3 444.6h0M97.3 435.1h0M102.7 442.5h0M86.7 453.2h0M83.9 425.5h0M83.4 433.9h0M94.5 446.9h0M98.2 436h0M68.4 441.3h0M87.8 441.4h0M76.7 444h0M99.7 441h0M75.6 446.4h0M87 445.5h0M85.3 439.9h0M100.4 447.8h0M90.7 437.8h0M95.5 439.9h0M97.7 445.6h0M110.3 426.8h0M75.9 434h0M108.3 432.1h0M105.8 433.2h0M85.8 428h0M111 436.6h0M81.5 448.9h0M80.5 435.4h0M88.1 440.6h0M81 438.2h0M85.5 450h0M87.5 448h0M79.4 427.9h0M87.4 436.2h0M89.5 440.3h0M98 445.1h0M83.5 433.1h0M88.1 441.4h0M87.4 451h0M84 436.7h0M85.6 443.1h0M94.2 440.7h0M90.7 429.5h0M75.2 431.9h0M92.7 440.2h0M84.3 445.7h0M87.4 448.3h0M79 450.1h0M77.4 426h0M82 429.9h0M84.3 439.1h0M89.6 440.9h0M96.1 438h0M106.6 426.5h0M92.4 439.6h0M90.8 442.1h0M95.1 441.3h0M110.8 425.3h0M87 427h0M82.9 452.8h0M80.5 433.4h0M89.1 425.4h0M100.1 435.3h0M88.4 450.7h0M90.2 446.3h0M88.4 449.2h0M81.6 445.1h0M94.5 439h0M87.2 453.6h0M89.3 452.4h0M85.9 432.6h0M87.3 453.8h0M81.7 448.8h0M90.8 442.7h0M97.2 447.6h0M85.6 425.5h0M77.9 450.1h0M83.7 442.8h0M91.3 450.2h0M94.8 432.9h0M103.9 436.4h0M91.5 445.4h0M90.2 446.3h0M85.6 442.9h0M78.3 441.1h0M111.5 431.4h0M97.2 441.4h0M85.3 441.8h0M89.4 437.1h0M99.1 436.6h0M93.4 448.9h0M78.3 446.1h0M95.9 444.1h0M101.8 442.2h0M93.6 431.4h0M79.3 450.6h0M93.2 428h0M95 433.6h0M105.2 439.4h0M100.7 432.1h0M94.3 434h0M96.7 429.8h0M90.4 449.8h0M89.5 448.4h0M89.6 441.1h0M78.8 433.6h0M90.8 452.7h0M86.2 445.2h0M92.8 428.5h0M93.4 434.2h0M92.9 430.7h0M79.5 445.8h0M90.3 447.6h0M86.3 445.9h0M80.7 448.7h0M73 435.7h0M91.5 429.3h0M86.9 451.3h0M89.4 429.3h0M91.9 430.3h0M93.4 450.8h0M71.9 427.7h0M88 431.6h0M84.3 432h0M82.8 437.2h0M79.9 430.8h0M91.2 440.5h0M82 439.1h0M82.9 425.3h0M89.7 431.1h0M78.4 441.5h0M105.2 439.1h0M89.8 451.4h0M79.8 428.2h0M104.5 437.1h0M83.6 446.5h0M90.1 440.7h0M92.9 443.4h0M84.2 439h0M77.3 442h0M81.9 433h0M83.4 431.9h0M99.4 441.8h0M85.7 431.2h0M90.7 450.7h0M95.2 430.2h0M86.6 445.4h0M91.7 435h0M85.8 452.6h0M94.9 438.9h0M84.2 445.9h0M95.3 430.8h0M94.5 426.6h0M71.5 429.6h0M94.2 432.2h0M87.7 432h0M81.7 448.5h0M77.4 438.6h0M91.5 451h0M84.8 445.2h0M89.4 454.8h0M91.7 450.5h0M80.8 433.3h0M77.7 428.1h0M76.7 441.7h0M94.5 452.2h0M86.2 450.1h0M87.1 440.5h0M85.8 428.9h0M74.9 445.4h0M87.9 438.3h0M77.3 437.7h0M91.6 448.3h0M92.7 438.1h0M93.8 439.3h0M101.5 447.6h0" stroke="#c9c9c9" stroke-width="1.4" stroke-linecap="round" fill="none"/>
<path d="M77.1 383.2 L74.5 405 L71.8 431.6 L80.3 446.3 L87.6 454.3 L97.1 440 L98.7 425.3 L98.7 384.2 L97.1 389.5 L93 413 L88.5 433.7 L86.8 433.7 L83 413 L79.4 391.6Z" fill="#a3a3a3"/>
<path d="M66.6 366.5 L69.7 368.4 L77.3 383.2 L77.3 425.3 L62.9 425.3 L62.4 396.8 L65 386.3Z" fill="#2c529c"/>
<path d="M64.3 398.8h0M62.2 393.5h0M64.2 400.8h0M64.2 394.6h0M64 385.2h0M62.2 398.2h0M62.6 403.2h0M63.9 394.5h0M63.2 386.1h0M65.9 389.4h0M62.4 386.1h0M63.3 403.6h0M65.6 408h0M65.2 424.2h0M65.1 398.7h0M64.9 405.4h0M65.6 387.4h0M64.4 403.4h0M63.2 424.9h0M65.6 386.5h0M63.9 391.6h0M64.7 396h0M62.3 416h0M62.9 421h0M63.9 399.5h0M64.9 422.3h0M64.2 402.2h0M65.6 403.4h0M62.1 394.7h0M62.4 403.5h0M64.5 399.1h0M62.7 413.5h0M65.6 409.2h0M64.3 391.3h0M64.6 387.7h0M63.6 390.4h0M63.1 420.8h0M66 399.8h0M65.1 397.1h0M65.8 418.1h0M62.6 414.9h0M62.3 402.7h0M62.6 407.4h0M64.6 406.6h0M64 423h0M62.5 417.3h0M64.1 399.9h0M62.4 391.4h0M62.5 407.1h0M64.1 390.7h0M64.7 393.5h0M63 424.6h0M65 405.4h0M63.8 405.3h0M63.7 402.5h0M65.9 416.9h0M64.7 390.8h0M62.1 400h0M64.8 423.9h0M65.5 423.2h0" stroke="#3d69b5" stroke-width="1.3" stroke-linecap="round" fill="none"/>
<path d="M53.7 417.1h0M59.7 422.8h0M53 397.3h0M58.9 400.6h0M60.5 392.4h0M56.9 420.4h0M54.6 419.4h0M54.4 417.7h0M60 403h0M62 419h0M58.5 395.1h0M60.7 411.4h0M53 393.3h0M60.7 419.5h0M62.2 417h0M52.5 406.2h0M52.4 418.3h0M56.8 408.3h0M58.7 397.1h0M55 411.8h0M56.4 404.6h0M57 407.7h0" stroke="#5a85c8" stroke-width="1.2" stroke-linecap="round" fill="none"/>
<path d="M67.9 416.8h0M66.9 378.7h0M74.3 422.3h0M73.2 390h0M69.3 400.1h0M67 415.9h0M67.4 371.4h0M70.5 389.9h0M69.5 402.4h0M69.1 410.8h0M66.4 412.4h0M73.1 386.8h0M72.2 412.1h0M70.3 392.6h0M73.8 391.5h0M74.1 394.3h0M74.2 396.3h0M70.5 396h0M74.9 396.9h0M68.3 409.7h0M77.2 387.5h0M68.3 379.3h0M72.7 385.1h0M73.8 417.2h0M65.4 394.5h0M76.5 413h0M76.7 388.3h0M66.2 380.8h0M70.6 392.4h0M65.9 423.9h0M74 385.3h0M73.1 391.4h0M69.7 371.2h0M75.5 390.9h0M63 394.3h0M63 410.8h0M74.8 387.3h0M68.9 414.9h0M69.7 409h0M72.8 383.1h0M69.3 415.2h0M73.3 408.1h0M71.1 411.3h0M69.2 372.3h0M74.1 397.5h0M76.5 390.7h0M72.4 408h0M68.7 387.2h0M65.4 415.7h0M68.7 392.3h0M73.1 401.9h0M69.3 412.5h0M70.8 424.2h0M68.2 417.7h0M69.6 380.3h0M66.2 415.6h0M65.8 418.4h0M73.2 403.7h0M68.9 370h0M70.9 382.1h0M77.2 420.6h0M70.2 373.3h0M70.7 404.7h0M73.5 392.9h0M64.9 420.7h0M69.8 401h0M63.5 423.4h0M65 421.1h0M73.7 396.1h0M67.2 402.6h0M66.8 411.3h0M74 402.8h0M74.6 409.6h0M69.9 408.8h0M74.9 412.9h0M71.3 396.9h0M69.1 378.6h0M75.7 398.2h0M66.8 400.9h0M76.9 415.3h0M72.9 420.7h0M72.2 384.6h0M71.9 410.3h0M68.5 397.7h0M74.1 398.9h0M63.8 416.3h0M68.1 398.2h0M72 399h0M63 420.4h0M72.4 408.6h0M74.6 381h0M68 369.9h0M70.9 382.6h0M67 381.8h0M66.8 414.3h0M73.2 424.4h0M73.6 383.1h0M69 380.9h0M74.5 388.5h0M75.5 425.1h0M64 393.8h0M69.2 412.4h0M76.3 415.2h0M71.6 391.1h0M70.7 421.9h0M75.4 413.6h0M66.4 406.1h0M66.5 424.9h0M73.6 402h0M68.4 415.5h0" stroke="#7a9fd6" stroke-width="1.1" stroke-linecap="round" fill="none"/>
<path d="M98.7 425.3C95.6 421.2 98.5 389 98.7 384C98.9 379 100 377.1 100.5 375.5C101 373.9 103.2 369.4 104 368C104.8 366.6 107.9 362.5 109 361.5C110.1 360.5 114 358.1 115 357.8C116 357.6 117.9 358.2 118.5 359C119.1 359.8 120.5 364.1 121 366C121.5 367.9 123 375.1 123.5 378C124 380.9 125.5 391.8 126 395C126.5 398.2 127.7 407 128 410C128.3 413 132.4 423.8 129.5 425.3C126.6 426.8 101.8 429.4 98.7 425.3Z" fill="#f46a60"/>
<path d="M98.7 425.3C98.2 421.2 98.5 388.9 98.7 384C98.9 379.1 99.8 377.4 100.3 375.8C100.8 374.2 102.8 369.8 103.5 368.5C104.2 367.2 106.8 364.1 107.6 363.2C108.4 362.3 111.8 359.5 112 360C112.2 360.5 110.7 366 110 368C109.3 370 105.7 376.8 105 380C104.3 383.2 103.6 395.5 103.5 400C103.4 404.5 104.5 422.8 104 425.3C103.5 427.8 99.2 429.4 98.7 425.3Z" fill="#f21d12"/>
<path d="M114.7 384.9h0M114.1 411h0M113.1 380.2h0M115.3 366.1h0M107.9 373.5h0M112.6 395.7h0M119 393.4h0M109.9 413.9h0M116.8 423.8h0M111 386.5h0M122.4 380.9h0M106.5 377.9h0M109.4 385.9h0M105.2 419.1h0M118.3 407.7h0M127.2 413.8h0M108.6 386.4h0M121.2 403.8h0M106.7 411.3h0M117.1 419h0M105.2 417.1h0M120.2 401.6h0M105.7 400.1h0M119.3 413h0M104.5 405.1h0M107.9 382h0M120.6 397.2h0M105.7 407.2h0M118.4 365.1h0M116.9 376.8h0M115.3 407.4h0M113.5 407.3h0M102.3 394.8h0M106.9 390h0M105.2 390.1h0M110.8 403.2h0M121.2 407.1h0M106.4 406.7h0M114.3 398.1h0M105.2 399.8h0M107 391.3h0M114.7 411.1h0M115.1 414.8h0M109.6 416.8h0M120.2 402.8h0M117.6 402.4h0M104.1 400.1h0M118.2 369.2h0M110.3 391.3h0M126.3 404.2h0M124.4 390.3h0M108.6 409.3h0M122.7 399.9h0M115.1 395.6h0M110.3 423.9h0M121.1 417.5h0M115.4 391.9h0M116.9 388.4h0M107.2 420.3h0M121 392.7h0M106.7 374.4h0M108.4 415.8h0M113.1 385.5h0M117.8 395h0M112.2 369.6h0M122.1 382.7h0M116.5 409.9h0M116.8 370.2h0M108.9 381.4h0M108.6 368.9h0M107.6 402.7h0M117 367.8h0M112.3 381.5h0M120.7 413.2h0M104.2 414.2h0M120.1 407.5h0M113.5 409.3h0M106.1 396h0M111.6 388.6h0M109.4 374.2h0M112.2 394h0M125.1 410.2h0M125.5 413.6h0M123.8 408.2h0M122.5 388h0M124 390.9h0M111.7 382.7h0M123.3 416.4h0M121.1 384.6h0M120.4 384.4h0M125.1 409h0M119.5 398.8h0M103.6 394.6h0M105.1 383.3h0M122.3 395.7h0M117.4 402.9h0M109.2 423.3h0M114.5 390.8h0M111.5 369.1h0M108.8 386.1h0M113.5 418.9h0M122.2 398.7h0M121.3 412.6h0M103.7 392.5h0M116.6 401.5h0M116.7 409.8h0M115.3 412.2h0M108.3 415.5h0M118.9 375.5h0M107.7 402.2h0M107.3 402.1h0M116.8 363.7h0M107.8 411.3h0M111.1 392.7h0M102.5 394.4h0M108.6 392.4h0M108.3 376.9h0M116.6 390.9h0M114.3 371.6h0M103.5 409.9h0M123.3 384.2h0M120.8 422h0M116.4 368.9h0M114.8 365.5h0M106.7 389h0M114.4 406.6h0M114 423.9h0M114.5 369.4h0M124.4 411.9h0M121.4 377.5h0M113.3 418h0M116 392.8h0M116.8 384.8h0M118.5 403.9h0M119 371.8h0M109.6 380.7h0M104.9 413.5h0M107.6 394.1h0M103.2 406.1h0M108.5 418.5h0M118.9 393.8h0M111.5 412.4h0M103.9 407.7h0M117.3 385.3h0M121.1 401.9h0M115 414.2h0M120 399.8h0M107.2 417h0M115.2 421.5h0M121.1 379.4h0M114.1 390.9h0M118.8 395h0M109.8 407.6h0M116.2 403.2h0M118 423.7h0M119.3 375.4h0M119.5 398.6h0M109.1 419.2h0M112 394.1h0M115.1 393.2h0M110.6 366.9h0M117.2 417.2h0M110.4 414.1h0M126.4 404.6h0M102.4 394.2h0M105.2 391.2h0M121.3 407.5h0M120 381h0M117.1 414.8h0M114.1 378.4h0M123.9 396.7h0M118.8 406.7h0M126.2 412.9h0M110.1 405.6h0M122.9 415.2h0M120.4 375.3h0M104.6 381.1h0M109.1 408.1h0M124.9 414.3h0M109.9 412h0M107.4 387.2h0M103.5 407.4h0M107.9 420.1h0M115.3 410h0M116.1 392.3h0M116.8 423.7h0M122.5 382.4h0M106.3 409.6h0M109.5 394.5h0M109.4 383.9h0M107.8 385.3h0M111.6 421.8h0M113.2 376h0M108.6 370.3h0M122.4 401.3h0M106.9 400.1h0M113.1 386.8h0M114 397.1h0M103 398.5h0M123.1 404.8h0M120.1 422.6h0M119.5 364.6h0M107.8 372.4h0M119.9 367.4h0M105.5 408.5h0M117.6 385.7h0M116 406.3h0M119.2 365.9h0M117.5 414.7h0M114.1 402.9h0M116.1 389.2h0M119.3 372.4h0M120.2 367.4h0M121.9 404.5h0M111.9 384h0M119.3 380.8h0M110.1 404h0M106.5 389.4h0M114.5 397.9h0M124.1 386h0M120.6 420.5h0M120.2 383.6h0M125.3 422.2h0M109.9 392.2h0M104.3 414h0M123.7 411.6h0M118.4 368h0M114.8 423.4h0M114.6 408.5h0M113.7 376h0M105.6 389.9h0M118.2 396h0M110.2 420.9h0M104.9 401.6h0M115.5 371.9h0M116.2 393.8h0M104.5 407.7h0M113.4 406.5h0M114.6 389.5h0M109.2 377.6h0M106.7 378.5h0M120 408.4h0M113.5 416h0M108.6 423.9h0M107.9 377.6h0M105 380.8h0M117.5 369.8h0M110.3 368h0M111.3 402.8h0M109.3 388.7h0M119.9 419.7h0M109 370.6h0M110 396.8h0M121.6 382.3h0M120.6 369.4h0M121.6 407.2h0M113.8 385.5h0M109.6 391.9h0M114.8 390.2h0M116.7 395.4h0M106.6 408.9h0M110.7 366.6h0M111.6 421.8h0M104.4 396.4h0M115 379.2h0M113.1 412.4h0M103.1 404.3h0M107.7 413.1h0M121.6 409h0M109.5 405.9h0M126 414.7h0M108.5 377.7h0M103.8 394.9h0M110.5 376.7h0M115.4 373.6h0M115.7 393.3h0M109.8 411.1h0M110.1 381.3h0M121 381.1h0M106 397.6h0M110.9 414.7h0M108.8 410.7h0M113 416.8h0M122.6 417.9h0M124.2 416.6h0M116 378.7h0M114.8 417.7h0M113.4 423h0M111.6 415h0M123.7 419.3h0M119.7 384.5h0M126.5 413.9h0M105.2 406.8h0M104.8 412.5h0M110.8 370h0M108.2 392.3h0M113 390.4h0M122.8 423.4h0M115.9 388.7h0M118.7 401.7h0M119 398.4h0M105.2 392.6h0M110.8 384.7h0M117.4 401.9h0M114.1 398.9h0M110.6 420.1h0M114.9 365.8h0M123.2 398.7h0M105 388.5h0M106.2 419.6h0M126.2 418.4h0M108.5 386.7h0M115.2 363.5h0M108.3 374.8h0M119.4 418.3h0M108.4 374.5h0M104.7 406.5h0M110.1 417.5h0M122.5 378.5h0M118.7 401.3h0M124 417.4h0M119.8 368.6h0M111.5 372.1h0M119.7 378.5h0M117.9 392.1h0M123.2 382h0M114.1 367.2h0M116.6 418.3h0M113.5 401.7h0M107.2 408.6h0M118.3 385.5h0M106 418.9h0M104 394.2h0M103.8 399.2h0M106.2 422.1h0M114.8 420.3h0M118.8 390.9h0M114.9 385.7h0M117.6 370.1h0M105.9 395h0M116.8 366.5h0M121.6 405.5h0M103.9 389.5h0M112.8 416.7h0M119.7 372.8h0M125.2 422.9h0M106.9 403.2h0M113.7 411.2h0M125.3 410.7h0M122.8 401.7h0M111.8 409.6h0M111.1 391.1h0M102.4 393.8h0M106.8 416.9h0M104.3 404.7h0M121.7 420.7h0M105.7 421.9h0M113.8 396.7h0M118.7 379.5h0M113.9 377.6h0M124.5 402.6h0M102.6 402.8h0M108.2 403.1h0M116.6 395.4h0M119.7 365.2h0M118.5 363.2h0M114 403.8h0M107.8 403.5h0M107.7 375.9h0M123.5 407.8h0M114.2 381.6h0M114.5 391.8h0M106.4 423.9h0M111.6 368.9h0M108.6 394.9h0M105.7 402.8h0M113.4 397.2h0M118.4 394.6h0M117.7 387.1h0M107.7 377.2h0" stroke="#fff" stroke-width="1.4" stroke-linecap="round" fill="none" stroke-opacity="0.9"/>
<path d="M117.9 376.7h0M120.4 421.9h0M124.2 406.8h0M109.9 404.6h0M113.8 399.7h0M113.7 366.2h0M116 409.9h0M113.2 391.7h0M100.4 407.6h0M102.8 381.4h0M107 381.2h0M110.7 388h0M111.4 422.4h0M117.4 387.9h0M121.6 408.9h0M108 364.2h0M118.6 375.8h0M119.3 382.8h0M101.9 388h0M102.8 403.4h0M114.4 401h0M122.2 378.3h0M115.2 399.7h0M101.1 421.3h0M106.4 376.4h0M102.8 421.1h0M113 375.1h0M113.8 381.3h0M113.5 417.6h0M111.6 377.3h0M103.3 387.7h0M104.3 423.7h0M113.4 365h0M103.8 395.5h0M123.1 390.1h0M105.4 402.9h0M101.7 397.7h0M114 362.4h0M120.7 377.6h0M110.5 399.8h0M105.7 375.7h0M116.3 407.8h0M104.6 383h0M100.1 412.1h0M115.7 405h0M106.2 419.9h0M104.8 416h0M120.6 389.8h0M115.7 423.7h0M105.3 376h0M121.6 412.4h0M116.9 362h0M118 399.7h0M100.2 398h0M104 385.5h0M118.2 402.4h0M112.2 408h0M116.3 423.7h0M116.3 369.7h0M113.7 373.9h0M119 414.7h0M113.1 421.9h0M118.2 379h0M104.1 382.9h0M102.5 418.2h0M116.4 402.6h0M112.5 412.6h0M107.4 372.3h0M125.9 414.1h0M121.6 403.3h0M108.9 384.4h0M108.9 408.7h0M109.6 363.2h0M123.1 404.3h0M106 418.4h0M117.8 421.3h0M119.4 399.8h0M106.8 376h0M119.3 415.7h0M105.7 410.5h0M109 388.6h0M104.5 417.4h0M124.2 393.7h0M107.6 394.3h0M105.9 370h0M113.6 397.4h0M116 412h0M122.9 380h0M111.1 416.9h0M122.1 410.1h0M111.6 390.9h0M117.8 411.3h0M123.7 383.6h0M122.5 396.7h0M104.5 403.3h0M119.4 413.3h0M126.3 420.8h0M110.7 378h0M104.3 394.1h0M113.7 416.3h0M112.6 364.5h0M104.1 404.4h0M111.8 406.5h0M123.7 410.8h0M118.8 389.9h0M100.1 392.7h0M115.8 384h0M115.5 378.2h0M122.4 379.1h0M115.5 412.8h0M100.7 384.7h0M108.3 382.5h0M111.9 410.4h0M112.7 363.4h0M106.3 403.1h0M123.4 386.9h0M124 408h0M112.8 412h0M122.9 415.2h0M111.3 397.5h0M124.2 394.5h0M107.6 388h0M126 421.5h0M118 423.4h0M122.8 421.8h0M103.8 388.9h0M107.8 401.7h0M120.8 409.4h0M112.4 392.2h0M105.8 416.9h0M108.9 374.2h0M116.5 364.3h0M109.8 418.7h0M117.5 407.8h0M121.9 390.9h0M107.4 386h0M121.1 383h0M115.2 405.8h0M115.5 403.4h0M107.6 386.5h0M108.7 421.8h0M117.5 419.9h0M111.5 401.3h0M108.1 367h0M116 368.4h0M114.5 417.8h0M120.4 419.1h0M108.9 376.1h0M121.8 405.5h0M106 422.9h0M113.3 407.6h0M124.1 390.7h0M123.6 390.5h0M114.8 412.2h0M110 390.9h0M114.2 368.3h0M116.3 368.5h0M100.9 409.8h0M120.8 370.3h0M119.1 379.4h0M101.6 396.8h0M123.6 390.9h0M117.7 366.9h0M109.6 367.1h0M121.5 397.4h0M117.8 398.4h0M110.2 408.8h0M101.4 390.7h0M100.8 423.2h0M123 395.3h0M112.8 405.9h0M109.8 384.4h0M119.3 380.4h0M103.6 416h0M111.9 391.1h0M105.7 401.6h0M120.9 400.3h0M110.5 371.4h0M115.2 361.1h0M101 401h0M115 383.8h0M110.7 381.2h0M103 389.6h0M116.7 380.8h0M115 379.2h0M110.9 373.4h0M118 378.4h0M116.9 379.6h0M125.3 419.9h0M122.7 407.5h0M107.4 379.6h0M114.3 363.1h0M116.7 421.5h0M121 408.9h0M111.5 390.4h0M118.4 417.6h0M105.8 383.3h0M120.3 389h0M120.4 396.7h0M124.8 417h0M113.7 416.8h0M104.2 379.8h0M113.6 384.3h0M123.2 387.3h0M125.5 405h0M108.4 397.9h0M121.2 370.3h0M105.2 404.2h0M115.5 422.8h0M106.3 370.6h0M113.4 395.5h0M110.3 381.8h0M102.4 402.9h0M109.2 413.3h0M103.9 398.6h0M101.2 394.7h0M106.5 400.1h0M107.7 414.4h0M112.1 403.1h0M124.7 405.3h0M116.7 391.1h0M114.4 377.2h0M110.9 373.2h0M119.4 418.4h0M105.9 377.4h0M108.9 374.6h0M125.3 402.7h0M112.8 412.5h0M115.4 409.9h0M104.9 405.6h0M115.2 383.7h0M115.9 412.6h0M124.3 391.5h0M119 417.9h0M109 391.4h0M115 417.7h0M100.7 386.9h0M102.8 401.4h0M120.4 394.5h0M115.2 407h0M121.3 394.8h0M102 381.8h0M105.3 409.8h0M102.7 409h0M111.1 399.8h0M124.2 411.8h0M118.8 416.6h0M105 389.5h0M123.9 420.3h0M102 420.5h0M117.9 369.1h0M105.1 411h0M123.2 394.4h0M100.4 420.5h0M111.7 378.8h0M105.9 420h0M104.7 377.8h0M120.1 368.2h0M123.9 417.3h0M116 395.6h0M119.7 371.7h0M119.9 387.2h0M121.8 401.8h0M123.2 410.6h0M112.3 388.8h0M116.7 387.8h0M102.1 411.8h0M104.6 407.9h0M123.7 401.3h0M113.6 367.3h0M116.5 405.9h0M122.9 410.2h0M120.2 416.4h0M103.8 421.5h0M105.2 406.2h0M117.5 365.4h0M111.2 397.9h0M104.2 418.4h0M109 411h0M115.8 396.5h0M122.8 422.6h0M115.3 373.8h0M121.1 412.5h0M107.8 397.7h0M118.3 404.5h0M123.6 410.7h0M109.8 388.5h0M112.2 404.5h0M116.3 400.1h0M113.3 400.4h0M121.6 400.9h0M115.9 413.8h0M120.2 414.4h0M112.6 390.4h0M104.9 422.6h0M113.8 375.4h0M122.7 410.2h0M114.3 386.7h0M118.2 392.2h0M116.8 373.9h0M120.2 413h0M114 387.7h0M111.2 390.8h0M113.9 404.7h0M118.8 371.7h0M101.6 410.8h0M114.9 386.4h0M121.5 413.4h0M101.8 401.8h0M100.2 390.4h0M110.7 401h0M109.5 369.6h0M113.8 395.7h0M111.9 403.2h0M107.6 394.1h0M109.5 369.6h0M119.1 367.5h0M117.2 374.1h0M103.6 399.9h0M119.5 382.9h0M100.6 415.7h0M117.9 386.5h0M102.3 408.9h0M104.6 413.2h0M112.5 410.1h0M102.5 384.3h0M115.1 375.8h0M110.9 400h0M115.1 416.1h0M114.3 361.5h0M100.6 394h0M114.9 374.7h0M105.9 405h0M115.3 386.6h0M117.7 374h0M103.6 383.4h0M111.6 418.5h0M117.8 380.2h0M114.4 406h0M108.4 414.3h0M116.6 403.1h0M107.3 400.3h0M112.3 413h0M110.2 391.1h0M111.1 373.2h0M108 411.4h0M121 417.4h0M107.3 390.8h0M105 416h0M111.3 423.6h0M111.2 373.6h0M112.6 415.4h0M106 387.1h0M123.9 409.6h0M110.3 400.2h0M113.3 389.5h0M118.8 400.6h0M113.7 365.6h0M103.5 379.6h0M125.1 414h0M114.3 421h0M107.4 379.3h0M117.6 406.3h0M108 381.6h0M120.2 414.8h0M112.6 370.3h0M121.9 380.2h0M109.5 389.7h0M111.4 418h0M121.2 393.3h0M122.3 395.1h0M110.9 396.3h0M120.1 378.7h0M113.4 365.8h0M110.5 423h0M117.2 395.5h0M124 415.8h0M109.4 372h0M109.6 389.6h0M102.7 389.8h0M101.1 406.1h0M120 369.7h0M122 398.9h0M107.8 408.4h0M117.8 419.2h0M126.5 417.2h0M102.7 410.7h0M108 403.8h0M123.2 382h0M103.4 400.6h0M122.6 388.8h0M116.5 362.3h0M104.6 418.9h0M100.3 409.3h0M110.1 391.3h0M119.9 377.4h0M121.8 416.9h0M106.1 406.4h0M114.1 406.1h0M117.6 400.5h0M109.5 388.7h0M112 398.8h0M109.7 382.1h0M100.5 392.8h0M112.3 378h0M102.5 421.5h0M121.6 409.4h0M116.3 418.6h0M119.3 408.9h0M112.6 415.7h0M110.1 369.6h0M121.1 416h0M120.3 403.4h0M121.1 390.4h0M107.3 387.5h0M120.2 399.5h0M119.3 381.6h0M109.4 386.9h0M104.5 377.5h0M119.4 363.6h0M117.2 375.3h0M107.7 385.5h0M105.9 414.3h0M110 410.8h0M107.2 414.2h0M110.9 389.7h0M105.9 377.5h0M111 379.8h0M114.1 365.2h0M116.7 403.4h0M101.8 413.7h0M120.4 377.6h0M103.9 377.3h0M107.1 392.4h0M119.4 380.7h0M120.2 404.3h0M116.2 397.9h0M110.2 412.5h0M103 416.5h0M118.5 398.7h0M109.6 409.6h0M108.8 396.2h0M112.6 390.3h0M112.6 419.1h0M124.1 408h0M116.4 400h0M101 393.5h0M103.6 402.2h0M109.5 366.2h0M115.6 421.5h0M106.6 369.6h0M100.1 389.2h0M115.6 397.9h0M121.8 379.1h0M100.4 402.8h0M100.1 411.3h0M115.7 403.1h0M101.4 395.3h0M104.1 381.6h0M116.2 358.5h0M106.7 380h0M122 385.3h0M102.5 402.2h0M103.4 410.1h0M114.5 373.3h0M109.2 397.5h0M111.8 407.3h0M103.5 416.9h0M118.9 416.6h0M119.7 418.8h0M100.4 423.4h0M112.7 417.5h0M110.4 369.9h0M111.2 382.7h0M120.5 409.4h0M110.9 418.2h0M105.4 402.1h0M106.5 390.2h0M116.3 417.2h0M109.8 423.3h0M116.4 364.2h0M102.2 421.7h0M105.6 407.1h0M101.9 392.3h0M122.6 382h0M111.5 418.3h0M101 408.6h0M111.3 364.5h0M116.8 382.9h0M114.2 360.8h0M113.7 374.8h0M106.3 397.5h0M108.1 376.2h0M115.6 422.5h0M124.5 417h0M116 412.8h0M121 393.8h0M108 374.5h0M115.6 369.6h0M120.2 369.5h0M113.3 387.1h0M112.5 390.2h0M113.9 399.5h0M124.4 404.2h0M102.6 400.3h0M110.7 412.2h0M111.2 387h0M116.9 380.9h0M122 385.6h0M100.8 392.9h0M103.5 380.4h0M117.3 380.1h0M109.6 414.6h0M118.2 412.1h0M107.1 421.5h0M117.7 367h0M119.4 420.9h0M116.7 386.5h0M116.3 392.7h0M104.5 386.4h0M102.5 397.9h0M103.1 421.5h0M117.3 407.4h0M100.9 421.3h0M120.8 386.6h0M110.2 386.7h0M112.1 392.6h0M115.5 398.4h0M110.3 367.8h0M105.8 407h0M105.8 417.9h0M124 394.9h0M115.6 396.3h0M112.2 389.9h0M123.7 391h0M109 365.4h0M116.3 418.2h0M108.4 371.4h0M120.5 367.8h0M119.9 414.3h0M100.6 405.4h0M114.8 420.2h0M100.3 423.6h0M113.4 364.3h0M108.4 379.2h0M110.8 418.4h0M107.2 366.5h0M114.1 376h0M122.6 384.5h0M110.1 385.3h0" stroke="#f2281d" stroke-width="1.2" stroke-linecap="round" fill="none"/>
<path d="M118.1 408.8h0M116.2 375.5h0M116.8 409.2h0M131.7 416.3h0M120.6 404h0M127.4 363.7h0M115.3 376.3h0M131.6 357.9h0M130.8 376.4h0M130.8 396.1h0M119.8 415.6h0M119.5 396.2h0M115.6 424.6h0M131.8 372.4h0M117.8 414.8h0M133.7 402h0M121 377.2h0M117.5 411.4h0M126.7 372h0M126.4 413h0M116.8 364.8h0M130.1 411.8h0M123.6 401h0M132.4 366.7h0M127 386.9h0M115.2 385.1h0M126 422h0M133.4 371.5h0M126.1 389.8h0M117.1 414h0M123.8 400.1h0M122.4 379h0M117.3 418.4h0M131.8 379.9h0M127.4 410.9h0M123.1 384.9h0M125.6 395.8h0M124.4 362.7h0M126.7 380.3h0M124.1 401.9h0M128.9 380.8h0M127 366.7h0M115.5 359.4h0M118.8 391.8h0M116.4 364.8h0M122.8 377.9h0M116.8 390.7h0M133.5 387.6h0M117.3 394.9h0M129.1 396h0M128.8 358.4h0M120.2 363.4h0M120.3 406.5h0M122.7 396.1h0M120 409.8h0M124.7 416.2h0M121.2 414.9h0M122.4 375.1h0M131.1 377.4h0M123.6 364.6h0M130.3 397h0M119.1 413h0M118.5 412.3h0M132.5 413.5h0M120.1 386.2h0M129.9 360h0M118.3 403.1h0M124.1 408.8h0M120.5 380.8h0M127.9 393.3h0M128.8 400.2h0M117.8 383.8h0M118.1 408.2h0M121.2 400.2h0M130.7 423.3h0M129.7 401.3h0M127.1 401.5h0M124.6 416.4h0M123.4 403.5h0M131.8 378.1h0M129.8 394.3h0M126.6 390h0M126.4 395.4h0M118.1 384h0M123.8 371.6h0M115.4 402.9h0M123.1 395.3h0M133.6 373.3h0M127.7 390.2h0M133.5 418.8h0" stroke="#f33a2e" stroke-width="1.2" stroke-linecap="round" fill="none"/>
</g>
<line x1="77.5" y1="301" x2="77.5" y2="460" stroke="#999" stroke-width="0.9" stroke-dasharray="3 2.5"/>
<line x1="99.1" y1="301" x2="99.1" y2="460" stroke="#999" stroke-width="0.9" stroke-dasharray="3 2.5"/>
<line x1="29" y1="425.3" x2="152" y2="425.3" stroke="#999" stroke-width="0.9" stroke-dasharray="3 2.5"/>
<rect x="28.6" y="300.9" width="124.4" height="159.7" fill="none" stroke="#111" stroke-width="1.6"/>
<line x1="25.5" y1="454.5" x2="28.6" y2="454.5" stroke="#111" stroke-width="1"/>
<text x="24" y="457.8" font-size="9.3" text-anchor="end">0</text>
<line x1="25.5" y1="407.5" x2="28.6" y2="407.5" stroke="#111" stroke-width="1"/>
<text x="24" y="410.8" font-size="9.3" text-anchor="end">5</text>
<line x1="25.5" y1="360.5" x2="28.6" y2="360.5" stroke="#111" stroke-width="1"/>
<text x="24" y="363.8" font-size="9.3" text-anchor="end">10</text>
<line x1="25.5" y1="313.5" x2="28.6" y2="313.5" stroke="#111" stroke-width="1"/>
<text x="24" y="316.8" font-size="9.3" text-anchor="end">15</text>
<line x1="34.1" y1="460.5" x2="34.1" y2="463.5" stroke="#111" stroke-width="1"/>
<text x="34.1" y="471.6" font-size="9.3" text-anchor="middle">-10</text>
<line x1="61.2" y1="460.5" x2="61.2" y2="463.5" stroke="#111" stroke-width="1"/>
<text x="61.2" y="471.6" font-size="9.3" text-anchor="middle">-5</text>
<line x1="88.3" y1="460.5" x2="88.3" y2="463.5" stroke="#111" stroke-width="1"/>
<text x="88.3" y="471.6" font-size="9.3" text-anchor="middle">0</text>
<line x1="115.4" y1="460.5" x2="115.4" y2="463.5" stroke="#111" stroke-width="1"/>
<text x="115.4" y="471.6" font-size="9.3" text-anchor="middle">5</text>
<line x1="142.5" y1="460.5" x2="142.5" y2="463.5" stroke="#111" stroke-width="1"/>
<text x="142.5" y="471.6" font-size="9.3" text-anchor="middle">10</text>
<text x="12.5" y="410.5" font-size="12.2" transform="rotate(-90 12.5 410.5)">-Log<tspan font-size="8" dy="3">10</tspan><tspan dy="-3"> </tspan><tspan font-style="italic">P</tspan></text>
<text x="45.6" y="483.3" font-size="12">Log<tspan font-size="8" dy="3">2</tspan><tspan dy="-3"> fold change</tspan></text>
<text x="35.9" y="358.2" font-size="6.2">OLFM4</text>
<text x="35.9" y="364.9" font-size="6.2">MMP8</text>
<text x="45.8" y="374.6" font-size="6.2">LTF</text>
<text x="71.2" y="357.2" font-size="6.2">LCN2</text>
<text x="72.4" y="363.8" font-size="6.2">TCN1</text>
<text x="72.4" y="369.7" font-size="6.2">CEACAM8</text>
<text x="31" y="404.3" font-size="6.2">ANKEF1</text>
<text x="40.2" y="409.3" font-size="6.2">EEFSEC</text>
<text x="48.9" y="415.4" font-size="6.2">POLR1E</text>
<text x="49.5" y="420.4" font-size="6.2">TUSC1</text>
<text x="50.8" y="426" font-size="6.2">NUDT13</text>
<text x="56.3" y="432.2" font-size="6.2">AMOTL1</text>
<text x="37.2" y="437.7" font-size="6.2">PDE6B</text>
<text x="31" y="444.5" font-size="6.2">C3ORF33</text>
<text x="60.7" y="441.5" font-size="6.2">CDKN2A</text>
<text x="132" y="343.8" font-size="6.2">THBD</text>
<text x="108.6" y="352.8" font-size="6.2">IER5</text>
<text x="134.3" y="358.6" font-size="6.2">CCL3</text>
<text x="136.7" y="369.7" font-size="6.2">HES1</text>
<text x="131.4" y="377.3" font-size="6.2">IL1B</text>
<text x="130.2" y="387.8" font-size="6.2">CCL3L3</text>
<text x="134.9" y="391.9" font-size="6.2">FLT1</text>
<text x="131.4" y="397.8" font-size="6.2">HDAC9</text>
<text x="109.2" y="405.9" font-size="6.2">CCL4</text>
<text x="129.6" y="405.9" font-size="6.2">CCL4L2</text>
<text x="113.9" y="414.1" font-size="6.2">GBP5</text>
<text x="136.7" y="414.1" font-size="6.2">IL1A</text>
<text x="132" y="423.5" font-size="6.2">ANOS1</text>
<line x1="55.7" y1="356.5" x2="66.9" y2="367" stroke="#1a1a1a" stroke-width="0.6"/>
<line x1="53.5" y1="362.8" x2="66.9" y2="367" stroke="#1a1a1a" stroke-width="0.6"/>
<line x1="54.5" y1="372.5" x2="66.9" y2="367.5" stroke="#1a1a1a" stroke-width="0.6"/>
<line x1="71.5" y1="352.5" x2="67.5" y2="367" stroke="#1a1a1a" stroke-width="0.6"/>
<line x1="72.5" y1="359" x2="67.5" y2="367" stroke="#1a1a1a" stroke-width="0.6"/>
<line x1="72.5" y1="367" x2="67.5" y2="367.3" stroke="#1a1a1a" stroke-width="0.6"/>
<line x1="31" y1="404.8" x2="42.7" y2="417.9" stroke="#1a1a1a" stroke-width="0.6"/>
<line x1="40.4" y1="410.5" x2="42.9" y2="418.5" stroke="#1a1a1a" stroke-width="0.6"/>
<line x1="48.9" y1="414.2" x2="43.3" y2="420.4" stroke="#1a1a1a" stroke-width="0.6"/>
<line x1="49.5" y1="419" x2="44" y2="421.6" stroke="#1a1a1a" stroke-width="0.6"/>
<line x1="50.5" y1="424.2" x2="45.8" y2="424.1" stroke="#1a1a1a" stroke-width="0.6"/>
<line x1="56.3" y1="431.5" x2="46.4" y2="425.4" stroke="#1a1a1a" stroke-width="0.6"/>
<line x1="31" y1="439" x2="45.8" y2="425.4" stroke="#1a1a1a" stroke-width="0.6"/>
<line x1="31" y1="440.5" x2="46" y2="425.8" stroke="#1a1a1a" stroke-width="0.6"/>
<line x1="60.7" y1="439.5" x2="46.4" y2="425.4" stroke="#1a1a1a" stroke-width="0.6"/>
<line x1="133.2" y1="344" x2="125.5" y2="354.5" stroke="#1a1a1a" stroke-width="0.6"/>
<line x1="111.5" y1="354" x2="115" y2="359.2" stroke="#1a1a1a" stroke-width="0.6"/>
<line x1="134.9" y1="358" x2="128.5" y2="367.4" stroke="#1a1a1a" stroke-width="0.6"/>
<line x1="136" y1="366.2" x2="131.4" y2="369.7" stroke="#1a1a1a" stroke-width="0.6"/>
<line x1="131.4" y1="373.2" x2="126.1" y2="368" stroke="#1a1a1a" stroke-width="0.6"/>
<line x1="130.2" y1="384.3" x2="126.7" y2="380.2" stroke="#1a1a1a" stroke-width="0.6"/>
<line x1="133.7" y1="390.2" x2="111.5" y2="401.3" stroke="#1a1a1a" stroke-width="0.6"/>
<line x1="129" y1="402.4" x2="126.7" y2="396.6" stroke="#1a1a1a" stroke-width="0.6"/>
<line x1="126.7" y1="404.8" x2="127.9" y2="414.1" stroke="#1a1a1a" stroke-width="0.6"/>
<line x1="136" y1="411.8" x2="131.4" y2="416.4" stroke="#1a1a1a" stroke-width="0.6"/>
<line x1="132" y1="421.1" x2="129" y2="418.8" stroke="#1a1a1a" stroke-width="0.6"/>
<path d="M42.7 418h0M43.5 419.5h0M44.5 421.5h0M45.8 424.1h0M46.4 425.5h0" stroke="#8fb0dc" stroke-width="1.8" stroke-linecap="round" fill="none"/>
<text x="172.6" y="295.6" font-size="12">Up in Imm.</text>
<text x="242.8" y="295.6" font-size="12">Up in Mat.</text>
<line x1="212.1" y1="301" x2="212.1" y2="460" stroke="#999" stroke-width="0.9" stroke-dasharray="3 2.5"/>
<line x1="251.5" y1="301" x2="251.5" y2="460" stroke="#999" stroke-width="0.9" stroke-dasharray="3 2.5"/>
<line x1="174" y1="449.7" x2="298" y2="449.7" stroke="#999" stroke-width="0.9" stroke-dasharray="3 2.5"/>
<circle cx="220.7" cy="406.7" r="2.3" fill="#9a9a9a" fill-opacity="0.5"/>
<circle cx="220.1" cy="411.4" r="2.3" fill="#9a9a9a" fill-opacity="0.5"/>
<circle cx="221.9" cy="414.9" r="2.3" fill="#9a9a9a" fill-opacity="0.5"/>
<circle cx="241.7" cy="419.5" r="2.3" fill="#9a9a9a" fill-opacity="0.5"/>
<circle cx="242.9" cy="421.9" r="2.3" fill="#9a9a9a" fill-opacity="0.5"/>
<circle cx="248.7" cy="424.2" r="2.3" fill="#9a9a9a" fill-opacity="0.5"/>
<circle cx="246.4" cy="426" r="2.3" fill="#9a9a9a" fill-opacity="0.5"/>
<circle cx="237.6" cy="428.9" r="2.3" fill="#9a9a9a" fill-opacity="0.5"/>
<circle cx="213.7" cy="428.9" r="2.3" fill="#9a9a9a" fill-opacity="0.5"/>
<circle cx="244" cy="433.5" r="2.3" fill="#9a9a9a" fill-opacity="0.5"/>
<circle cx="242.9" cy="435.9" r="2.3" fill="#9a9a9a" fill-opacity="0.5"/>
<circle cx="241.7" cy="438.2" r="2.3" fill="#9a9a9a" fill-opacity="0.5"/>
<circle cx="247.6" cy="439.4" r="2.3" fill="#9a9a9a" fill-opacity="0.5"/>
<circle cx="246.4" cy="445.2" r="2.3" fill="#9a9a9a" fill-opacity="0.5"/>
<circle cx="235.9" cy="439.4" r="2.3" fill="#9a9a9a" fill-opacity="0.5"/>
<circle cx="249.9" cy="449.9" r="2.3" fill="#9a9a9a" fill-opacity="0.5"/>
<circle cx="252" cy="388" r="2.3" fill="#9a9a9a" fill-opacity="0.5"/>
<circle cx="250" cy="393" r="2.3" fill="#9a9a9a" fill-opacity="0.5"/>
<circle cx="229" cy="430" r="2.3" fill="#9a9a9a" fill-opacity="0.5"/>
<circle cx="234.3" cy="442.7" r="2.3" fill="#555" fill-opacity="0.45"/>
<circle cx="220.3" cy="445.7" r="2.3" fill="#555" fill-opacity="0.45"/>
<circle cx="215.8" cy="444.7" r="2.3" fill="#555" fill-opacity="0.45"/>
<circle cx="230" cy="448" r="2.3" fill="#555" fill-opacity="0.45"/>
<circle cx="234" cy="450.1" r="2.3" fill="#555" fill-opacity="0.45"/>
<circle cx="229.5" cy="446.2" r="2.3" fill="#555" fill-opacity="0.45"/>
<circle cx="234.9" cy="452.6" r="2.3" fill="#555" fill-opacity="0.45"/>
<circle cx="231.1" cy="445.5" r="2.3" fill="#555" fill-opacity="0.45"/>
<circle cx="232.5" cy="443" r="2.3" fill="#555" fill-opacity="0.45"/>
<circle cx="214" cy="446" r="2.3" fill="#555" fill-opacity="0.45"/>
<circle cx="220.8" cy="448.5" r="2.3" fill="#555" fill-opacity="0.45"/>
<circle cx="217" cy="456.5" r="2.3" fill="#555" fill-opacity="0.45"/>
<circle cx="232.4" cy="446.7" r="2.3" fill="#555" fill-opacity="0.45"/>
<circle cx="229.2" cy="441.7" r="2.3" fill="#555" fill-opacity="0.45"/>
<circle cx="233.9" cy="448.8" r="2.3" fill="#555" fill-opacity="0.45"/>
<circle cx="235.1" cy="446.3" r="2.3" fill="#555" fill-opacity="0.45"/>
<circle cx="231.8" cy="451.5" r="2.3" fill="#555" fill-opacity="0.45"/>
<circle cx="218.8" cy="440.1" r="2.3" fill="#555" fill-opacity="0.45"/>
<circle cx="218.2" cy="447.8" r="2.3" fill="#555" fill-opacity="0.45"/>
<circle cx="219.1" cy="450.9" r="2.3" fill="#555" fill-opacity="0.45"/>
<circle cx="223.7" cy="450.1" r="2.3" fill="#555" fill-opacity="0.45"/>
<circle cx="215" cy="439.9" r="2.3" fill="#555" fill-opacity="0.45"/>
<circle cx="235.4" cy="443.1" r="2.3" fill="#555" fill-opacity="0.45"/>
<circle cx="221.6" cy="452.4" r="2.3" fill="#555" fill-opacity="0.45"/>
<circle cx="229.8" cy="445.3" r="2.3" fill="#555" fill-opacity="0.45"/>
<circle cx="232" cy="444.1" r="2.3" fill="#555" fill-opacity="0.45"/>
<circle cx="235.5" cy="443" r="2.3" fill="#555" fill-opacity="0.45"/>
<circle cx="237.9" cy="456.5" r="2.3" fill="#555" fill-opacity="0.45"/>
<circle cx="234.2" cy="453.4" r="2.3" fill="#555" fill-opacity="0.45"/>
<circle cx="233.5" cy="450.4" r="2.3" fill="#555" fill-opacity="0.45"/>
<circle cx="227.4" cy="441.2" r="2.3" fill="#555" fill-opacity="0.45"/>
<circle cx="237.7" cy="448.8" r="2.3" fill="#555" fill-opacity="0.45"/>
<circle cx="219.3" cy="445.2" r="2.3" fill="#555" fill-opacity="0.45"/>
<circle cx="222.7" cy="450.7" r="2.3" fill="#555" fill-opacity="0.45"/>
<circle cx="234.4" cy="450.9" r="2.3" fill="#555" fill-opacity="0.45"/>
<circle cx="232.6" cy="455" r="2.3" fill="#555" fill-opacity="0.45"/>
<circle cx="212.8" cy="439.9" r="2.3" fill="#555" fill-opacity="0.45"/>
<circle cx="224.2" cy="445.1" r="2.3" fill="#555" fill-opacity="0.45"/>
<circle cx="220.2" cy="436.5" r="2.3" fill="#555" fill-opacity="0.45"/>
<circle cx="223.4" cy="446.9" r="2.3" fill="#555" fill-opacity="0.45"/>
<circle cx="200.9" cy="313.9" r="2.3" fill="#5d8fcb"/>
<circle cx="209.6" cy="377.7" r="2.3" fill="#5d8fcb"/>
<circle cx="205" cy="410.7" r="2.3" fill="#5d8fcb"/>
<circle cx="202.6" cy="444.7" r="2.3" fill="#5d8fcb"/>
<circle cx="206.5" cy="444.7" r="2.3" fill="#5d8fcb"/>
<circle cx="193.5" cy="447.5" r="2.3" fill="#5d8fcb"/>
<circle cx="252.5" cy="339.6" r="2.3" fill="#ef3535" fill-opacity="0.8"/>
<circle cx="256" cy="342.6" r="2.3" fill="#ef3535" fill-opacity="0.8"/>
<circle cx="252.5" cy="354.3" r="2.3" fill="#ef3535" fill-opacity="0.8"/>
<circle cx="263" cy="364.6" r="2.3" fill="#ef3535" fill-opacity="0.8"/>
<circle cx="263.6" cy="384.8" r="2.3" fill="#ef3535" fill-opacity="0.8"/>
<circle cx="260.7" cy="391.6" r="2.3" fill="#ef3535" fill-opacity="0.8"/>
<circle cx="259.3" cy="396.5" r="2.3" fill="#ef3535" fill-opacity="0.8"/>
<circle cx="259.8" cy="398.5" r="2.3" fill="#ef3535" fill-opacity="0.8"/>
<circle cx="258.5" cy="399.5" r="2.3" fill="#ef3535" fill-opacity="0.8"/>
<circle cx="259.8" cy="397.3" r="2.3" fill="#ef3535" fill-opacity="0.8"/>
<circle cx="258.7" cy="399.1" r="2.3" fill="#ef3535" fill-opacity="0.8"/>
<circle cx="265.1" cy="402" r="2.3" fill="#ef3535" fill-opacity="0.8"/>
<circle cx="254.6" cy="406.1" r="2.3" fill="#ef3535" fill-opacity="0.8"/>
<circle cx="258.7" cy="406.7" r="2.3" fill="#ef3535" fill-opacity="0.8"/>
<circle cx="255.7" cy="411.4" r="2.3" fill="#ef3535" fill-opacity="0.8"/>
<circle cx="258" cy="412.5" r="2.3" fill="#ef3535" fill-opacity="0.8"/>
<circle cx="253.4" cy="414.3" r="2.3" fill="#ef3535" fill-opacity="0.8"/>
<circle cx="259.2" cy="413.7" r="2.3" fill="#ef3535" fill-opacity="0.8"/>
<circle cx="252.8" cy="418.4" r="2.3" fill="#ef3535" fill-opacity="0.8"/>
<circle cx="255.7" cy="417.2" r="2.3" fill="#ef3535" fill-opacity="0.8"/>
<circle cx="252.8" cy="421.9" r="2.3" fill="#ef3535" fill-opacity="0.8"/>
<circle cx="253.4" cy="425.4" r="2.3" fill="#ef3535" fill-opacity="0.8"/>
<circle cx="251.1" cy="428.9" r="2.3" fill="#ef3535" fill-opacity="0.8"/>
<circle cx="252.2" cy="431.8" r="2.3" fill="#ef3535" fill-opacity="0.8"/>
<circle cx="256.3" cy="446.4" r="2.3" fill="#ef3535" fill-opacity="0.8"/>
<circle cx="278" cy="429" r="2.3" fill="#ef3535" fill-opacity="0.8"/>
<circle cx="254" cy="409" r="2.3" fill="#ef3535" fill-opacity="0.8"/>
<circle cx="256" cy="415" r="2.3" fill="#ef3535" fill-opacity="0.8"/>
<circle cx="257" cy="409" r="2.3" fill="#ef3535" fill-opacity="0.8"/>
<circle cx="253" cy="411" r="2.3" fill="#ef3535" fill-opacity="0.8"/>
<circle cx="251.6" cy="334" r="2.3" fill="#b04040"/>
<rect x="173.6" y="300.4" width="124.8" height="160.2" fill="none" stroke="#111" stroke-width="1.6"/>
<line x1="170.6" y1="454.4" x2="173.6" y2="454.4" stroke="#111" stroke-width="1"/>
<text x="170" y="457.7" font-size="9.3" text-anchor="end">0</text>
<line x1="170.6" y1="413.2" x2="173.6" y2="413.2" stroke="#111" stroke-width="1"/>
<text x="170" y="416.5" font-size="9.3" text-anchor="end">30</text>
<line x1="170.6" y1="372" x2="173.6" y2="372" stroke="#111" stroke-width="1"/>
<text x="170" y="375.3" font-size="9.3" text-anchor="end">60</text>
<line x1="170.6" y1="330.8" x2="173.6" y2="330.8" stroke="#111" stroke-width="1"/>
<text x="170" y="334.1" font-size="9.3" text-anchor="end">90</text>
<line x1="202.2" y1="460.5" x2="202.2" y2="463.5" stroke="#111" stroke-width="1"/>
<text x="202.2" y="471.6" font-size="9.3" text-anchor="middle">-3</text>
<line x1="231.8" y1="460.5" x2="231.8" y2="463.5" stroke="#111" stroke-width="1"/>
<text x="231.8" y="471.6" font-size="9.3" text-anchor="middle">0</text>
<line x1="261.4" y1="460.5" x2="261.4" y2="463.5" stroke="#111" stroke-width="1"/>
<text x="261.4" y="471.6" font-size="9.3" text-anchor="middle">3</text>
<text x="192" y="482.8" font-size="12">Log<tspan font-size="8" dy="3">2</tspan><tspan dy="-3"> fold change</tspan></text>
<text x="179.2" y="324.9" font-size="6.2">ZNF93</text>
<text x="254.7" y="326.7" font-size="6.2">STAT2</text>
<text x="264" y="336.8" font-size="6.2">ZNF267</text>
<text x="262.1" y="344.3" font-size="6.2">NFE2L2</text>
<text x="256.3" y="353.6" font-size="6.2">BHLHE40</text>
<text x="268.7" y="364.6" font-size="6.2">ETV7</text>
<text x="188.6" y="375.8" font-size="6.2">RFX5</text>
<text x="265.7" y="380.5" font-size="6.2">STAT5A</text>
<text x="241.6" y="388.4" font-size="6.2">MAFE</text>
<text x="241.6" y="395" font-size="6.2">IRF7</text>
<text x="266.1" y="395.2" font-size="6.2">ETV6</text>
<text x="233.6" y="403.1" font-size="6.2">NFKB2</text>
<text x="271.5" y="404.5" font-size="6.2">E2F3</text>
<text x="178.5" y="404.3" font-size="6.2">NFE2L1</text>
<text x="266.8" y="412.7" font-size="6.2">ELF2</text>
<text x="265.7" y="419.5" font-size="6.2">PRDM1</text>
<text x="256.3" y="431.9" font-size="6.2">SPI1</text>
<text x="252.8" y="439.6" font-size="6.2">MXD1</text>
<text x="272.7" y="439.6" font-size="6.2">POU2F2</text>
<text x="179.9" y="437.9" font-size="6.2">ZNF41</text>
<text x="211.9" y="436.5" font-size="6.2">ZNF490</text>
<text x="187.4" y="457.6" font-size="6.2">ZNF600</text>
<line x1="195.6" y1="321.6" x2="200.9" y2="314.6" stroke="#1a1a1a" stroke-width="0.6"/>
<line x1="255.1" y1="326.7" x2="251.6" y2="333.7" stroke="#1a1a1a" stroke-width="0.6"/>
<line x1="263.3" y1="336" x2="252.8" y2="339.6" stroke="#1a1a1a" stroke-width="0.6"/>
<line x1="261.7" y1="342.6" x2="256.3" y2="342.6" stroke="#1a1a1a" stroke-width="0.6"/>
<line x1="256.3" y1="352.9" x2="252.8" y2="354.3" stroke="#1a1a1a" stroke-width="0.6"/>
<line x1="268" y1="363.6" x2="263.3" y2="364.6" stroke="#1a1a1a" stroke-width="0.6"/>
<line x1="204.2" y1="374.6" x2="209.6" y2="377.7" stroke="#1a1a1a" stroke-width="0.6"/>
<line x1="265" y1="381" x2="263.3" y2="384" stroke="#1a1a1a" stroke-width="0.6"/>
<line x1="258" y1="389.3" x2="260.3" y2="391.7" stroke="#1a1a1a" stroke-width="0.6"/>
<line x1="256.3" y1="395.7" x2="259.3" y2="396.8" stroke="#1a1a1a" stroke-width="0.6"/>
<line x1="265.7" y1="394.5" x2="261.7" y2="397.5" stroke="#1a1a1a" stroke-width="0.6"/>
<line x1="254" y1="401.5" x2="258.6" y2="398.7" stroke="#1a1a1a" stroke-width="0.6"/>
<line x1="271" y1="403.8" x2="266.8" y2="402" stroke="#1a1a1a" stroke-width="0.6"/>
<line x1="199.8" y1="402.7" x2="204.2" y2="409.7" stroke="#1a1a1a" stroke-width="0.6"/>
<line x1="266.1" y1="411.3" x2="261" y2="413.2" stroke="#1a1a1a" stroke-width="0.6"/>
<line x1="265" y1="418.3" x2="259.8" y2="416.7" stroke="#1a1a1a" stroke-width="0.6"/>
<line x1="255.6" y1="430.9" x2="252.1" y2="426.7" stroke="#1a1a1a" stroke-width="0.6"/>
<line x1="273.8" y1="435.4" x2="278" y2="429" stroke="#1a1a1a" stroke-width="0.6"/>
<line x1="197.9" y1="439.6" x2="202.6" y2="444.3" stroke="#1a1a1a" stroke-width="0.6"/>
<line x1="211.2" y1="438.4" x2="207.2" y2="444.3" stroke="#1a1a1a" stroke-width="0.6"/>
<line x1="190.2" y1="452.4" x2="193.2" y2="448.2" stroke="#1a1a1a" stroke-width="0.6"/>
<rect x="344.5" y="452.3" width="20" height="7.7" fill="#3fb39b"/>
<rect x="344.5" y="428.3" width="12" height="7.9" fill="#f0a35e" fill-opacity="0.7"/>
<rect x="344.5" y="436.3" width="14" height="7.9" fill="#e8674a" fill-opacity="0.7"/>
<rect x="344.5" y="444.3" width="18" height="7.9" fill="#e2c05c" fill-opacity="0.75"/>
<rect x="344.5" y="420.3" width="18" height="7.9" fill="#2d4d5b" fill-opacity="0.75"/>
<text x="311" y="257.5" font-size="14" font-weight="bold" fill="#000">E</text>
<line x1="345" y1="255.2" x2="352.5" y2="255.2" stroke="#2d4d5b" stroke-width="1.8"/>
<text x="356.4" y="258.4" font-size="9" fill="#222">Inflammatory response</text>
<line x1="345" y1="265.6" x2="352.5" y2="265.6" stroke="#f0a35e" stroke-width="1.8"/>
<text x="356.4" y="268.8" font-size="9" fill="#222">IL6 JAK STAT3 signaling</text>
<line x1="345" y1="275.9" x2="352.5" y2="275.9" stroke="#e8674a" stroke-width="1.8"/>
<text x="356.4" y="279.1" font-size="9" fill="#222">Interferon alpha response</text>
<line x1="345" y1="286.2" x2="352.5" y2="286.2" stroke="#e2c05c" stroke-width="1.8"/>
<text x="356.4" y="289.4" font-size="9" fill="#222">Interferon gamma response</text>
<line x1="345" y1="296.6" x2="352.5" y2="296.6" stroke="#3fb39b" stroke-width="1.8"/>
<text x="356.4" y="299.8" font-size="9" fill="#222">TNFA signaling via NFKB</text>
<path d="M344.2 415.5 L344.4 414.5 L344.7 411.9 L345 408.7 L345.3 405 L345.7 401.5 L346 397.5 L346.5 393.3 L346.9 389.7 L347.3 386.1 L347.8 382.8 L348.2 379.2 L348.7 376.4 L349.2 373.6 L349.7 370.5 L350.2 368.2 L350.8 365.9 L351.3 364.3 L351.9 362 L352.5 359.5 L353.1 357.7 L353.7 355.5 L354.3 353.6 L354.8 351.3 L355.4 349.4 L356 347.8 L356.5 346.2 L357 344.4 L357.6 342.4 L358.1 341 L358.6 339.5 L359.2 338.3 L359.7 337 L360.3 336 L360.9 334.6 L361.5 333.3 L362.1 332.2 L362.7 330.5 L363.4 329.1 L364.1 327.6 L364.8 327.1 L365.5 325.8 L366.2 324.8 L367 323.9 L367.7 322.7 L368.4 321.2 L369.2 320.8 L369.9 320 L370.6 319.7 L371.3 318.9 L372 318.7 L372.7 319.2 L373.4 319.8 L374.1 319.6 L374.8 319.4 L375.5 319.9 L376.1 320.6 L376.8 321.1 L377.5 321.6 L378.2 321.5 L378.9 322.1 L379.5 322.6 L380 322.5 L380.5 322 L381 321.8 L381.4 322.2 L381.9 321.7 L382.4 321.9 L383 321.8 L383.7 322.2 L384.5 322.6 L385.5 323.3 L386.7 324.7 L388 325.7 L389.6 327.3 L391.2 328.4 L393 329.5 L395 331.1 L396.9 331.6 L399 333.3 L401 335.1 L403.1 336.4 L405.1 338.3 L407.1 339.8 L409 340.6 L410.9 342.3 L412.7 343.7 L414.6 345.3 L416.5 347.1 L418.3 349.3 L420.2 351.1 L422 352.7 L423.9 354.6 L425.8 355.6 L427.6 357.8 L429.5 359.2 L431.3 361.1 L433.2 362.4 L435.1 363.9 L436.9 365.6 L438.8 368.1 L440.7 370.1 L442.5 371.6 L444.4 373.3 L446.2 374.7 L448.1 376.5 L450 378.1 L451.8 380.1 L453.7 381.4 L455.6 383.1 L457.5 384.7 L459.4 386.4 L461.4 388.5 L463.4 390.5 L465.3 392.5 L467.2 394.7 L469.1 396.7 L470.9 397.8 L472.7 399.5 L474.4 400.3 L476 401.8 L477.6 403.8 L479.1 404.9 L480.7 406 L482.2 407.2 L483.6 408.3 L485 409.4 L486.3 410.1 L487.5 411.4 L488.6 412.5 L489.6 413.1 L490.5 413.8 L491.2 413.9" stroke="#f0a35e" stroke-width="1.7" fill="none" stroke-linejoin="round"/>
<path d="M344.2 415.5 L344.4 414.1 L344.7 411.9 L345 409.1 L345.3 406.2 L345.7 402.2 L346 398.5 L346.5 394.6 L346.9 390.6 L347.3 386.9 L347.8 383.4 L348.2 380.2 L348.7 377.1 L349.2 374.7 L349.7 372 L350.2 368.4 L350.8 366.6 L351.3 364.1 L351.9 361.7 L352.5 359.6 L353.1 357.6 L353.7 355.5 L354.3 353.2 L354.8 351.4 L355.4 349 L356 347.9 L356.5 345.7 L357 344.1 L357.6 342.6 L358.1 341.3 L358.6 339.9 L359.2 338.7 L359.7 336.2 L360.3 335 L360.9 333.9 L361.5 332.7 L362.1 332.2 L362.8 330.7 L363.5 329.6 L364.2 327.9 L365 327 L365.7 325.6 L366.5 324.2 L367.3 324.4 L368.1 323.9 L368.8 323.2 L369.6 322.6 L370.3 321.6 L371 320.8 L371.7 320.8 L372.4 320 L373.1 320.2 L373.7 319.8 L374.4 320.2 L375 320.2 L375.7 321.2 L376.3 322 L376.9 322.1 L377.6 321.7 L378.2 321.8 L378.9 322.2 L379.5 322.1 L380 322.4 L380.5 322.9 L380.9 323 L381.4 322.9 L381.9 323.3 L382.4 323.3 L383 323.9 L383.7 324 L384.5 325 L385.5 325.4 L386.7 325.7 L388 326.7 L389.6 327.5 L391.2 328.5 L393 329.9 L395 331.7 L396.9 332.5 L399 334.3 L401 336 L403.1 337.7 L405.1 339.7 L407.1 340.9 L409 342.8 L410.9 344.2 L412.7 345.8 L414.6 347.3 L416.5 348.8 L418.3 350.2 L420.2 351.9 L422 354.3 L423.9 356.1 L425.8 357.9 L427.6 359.6 L429.5 360.9 L431.3 362.6 L433.2 365 L435.1 366 L436.9 368 L438.8 370 L440.7 371.7 L442.5 373.7 L444.4 375.8 L446.2 378.2 L448.1 380.2 L450 382.2 L451.8 383.7 L453.7 385.4 L455.6 386.9 L457.5 388.4 L459.4 389.7 L461.4 391.5 L463.4 393.6 L465.3 394.9 L467.2 396.5 L469.1 398.1 L470.9 399.5 L472.7 401.2 L474.4 402.5 L476 403.2 L477.6 404.1 L479.1 405.5 L480.7 406.9 L482.2 408.3 L483.6 409.4 L485 410.3 L486.3 410.6 L487.5 412 L488.6 412.4 L489.6 413.4 L490.5 413.6 L491.2 414.2" stroke="#e2c05c" stroke-width="1.7" fill="none" stroke-linejoin="round"/>
<path d="M344.2 415.5 L344.4 413.9 L344.7 411.1 L345 408.4 L345.3 404.9 L345.7 401.2 L346 397.9 L346.5 393.9 L346.9 389.9 L347.3 386.2 L347.8 382.8 L348.2 379.2 L348.7 376.3 L349.2 373.1 L349.7 370.2 L350.2 367.4 L350.8 364.5 L351.3 361.6 L351.9 358.9 L352.5 356.7 L353.1 354.6 L353.7 352.5 L354.3 350.6 L354.8 348.3 L355.4 346.5 L356 344.9 L356.5 343.5 L357.1 341.6 L357.6 340 L358.1 338 L358.7 336.6 L359.2 334.8 L359.8 333.3 L360.3 332.6 L360.9 330.9 L361.5 330.1 L362.1 329.2 L362.7 328 L363.3 327 L364 326 L364.6 325.2 L365.3 323.9 L365.9 322.7 L366.6 321.5 L367.3 320.3 L367.9 319.5 L368.6 318.5 L369.3 318.3 L369.9 317.3 L370.6 316.7 L371.2 316.3 L371.8 315.8 L372.5 316.6 L373.1 316.1 L373.8 316.4 L374.4 316.7 L375 317.7 L375.7 317.5 L376.4 318.3 L377 318.4 L377.7 318.7 L378.4 318.8 L379 319.3 L379.6 319.2 L380.1 319.4 L380.7 319.7 L381.3 320.6 L381.9 320.1 L382.7 320.9 L383.5 321.6 L384.4 322 L385.5 322.7 L386.7 323.4 L388.1 324.8 L389.6 326 L391.3 327.1 L393.1 328.4 L395 329.7 L397 331.2 L399 332.5 L401.1 334.8 L403.1 335.8 L405.1 336.4 L407.1 338.1 L409 339.8 L410.9 341.5 L412.7 343.1 L414.6 344.6 L416.5 346.3 L418.3 348.2 L420.2 349.6 L422 351.1 L423.9 353.3 L425.8 355 L427.6 356.2 L429.5 358.5 L431.3 360.3 L433.2 361.7 L435.1 363 L436.9 364.8 L438.8 366.3 L440.7 367.8 L442.5 369.3 L444.4 371.1 L446.2 373.3 L448.1 375.1 L450 376.5 L451.8 378.6 L453.7 380.4 L455.6 382.5 L457.5 384.7 L459.4 386.4 L461.4 388.1 L463.4 389.9 L465.3 391.4 L467.2 393.4 L469.1 395.5 L470.9 397.2 L472.7 398.7 L474.4 400.1 L476 401.2 L477.6 402.4 L479.1 403.6 L480.7 404.7 L482.2 405.9 L483.6 406.7 L485 408 L486.3 409.2 L487.5 409.9 L488.6 410.2 L489.6 411.2 L490.5 412.4 L491.2 413.6" stroke="#e8674a" stroke-width="1.7" fill="none" stroke-linejoin="round"/>
<path d="M344.2 415.5 L344.4 413.3 L344.7 410.1 L345 406.6 L345.4 402.9 L345.8 398.6 L346.2 394.4 L346.6 389.3 L347 384.5 L347.5 379.7 L347.9 375 L348.3 370.9 L348.7 367.4 L349.1 364.1 L349.4 361 L349.8 358.4 L350.1 355.4 L350.5 351.7 L350.9 348.8 L351.2 345.7 L351.6 342.9 L352 340.8 L352.4 338.4 L352.8 335.6 L353.2 333.8 L353.6 332.1 L354 330.3 L354.5 328.9 L354.9 327.7 L355.4 326.9 L355.9 326.1 L356.4 325.6 L356.8 325.6 L357.3 324.8 L357.8 324.1 L358.3 323.5 L358.8 323.3 L359.2 322.5 L359.6 322.5 L360.1 321.5 L360.5 320.8 L360.9 320.4 L361.3 319.8 L361.8 319.4 L362.2 319.4 L362.7 319.5 L363.2 319.4 L363.8 319.2 L364.3 319.6 L364.9 319.7 L365.6 319.7 L366.2 320.3 L366.9 320.2 L367.6 320.5 L368.3 321 L369.1 321.3 L369.8 321.6 L370.6 322.1 L371.5 322.4 L372.4 322.7 L373.3 322.9 L374.2 323.9 L375.1 324.2 L376.1 325.1 L377.1 325.7 L378.1 326.1 L379.1 326.9 L380.2 327.6 L381.4 328.2 L382.6 328.5 L383.9 329.4 L385.2 330.6 L386.7 331.7 L388.2 333.1 L389.9 334.7 L391.6 336 L393.5 337.8 L395.3 338.6 L397.3 339.9 L399.2 340.6 L401.2 342.5 L403.2 344.1 L405.2 346.2 L407.1 347.6 L409 348.4 L410.9 350.4 L412.7 351.5 L414.6 352.7 L416.5 354.2 L418.3 356.1 L420.2 357.5 L422 359.2 L423.9 360.2 L425.8 362.5 L427.6 364.1 L429.5 365.7 L431.3 367.5 L433.2 369.2 L435.1 370.9 L436.9 372.2 L438.8 373.9 L440.7 375.8 L442.5 377.8 L444.4 379.4 L446.2 381.1 L448.1 382.8 L450 384.6 L451.8 386.3 L453.7 387.7 L455.6 389.2 L457.5 391.2 L459.4 392.9 L461.4 394.5 L463.4 397.2 L465.3 398.9 L467.2 400.6 L469.1 402 L470.9 403 L472.7 404.6 L474.4 405.8 L476 406.9 L477.6 408.2 L479.1 409.5 L480.7 410.4 L482.2 411.2 L483.6 412.5 L485 413.3 L486.3 413.6 L487.5 414.3 L488.6 414.9 L489.6 415.3 L490.5 415.9 L491.2 415.5" stroke="#3fb39b" stroke-width="1.7" fill="none" stroke-linejoin="round"/>
<path d="M344.2 415.5 L344.4 412.8 L344.7 411 L345 407.5 L345.4 404.7 L345.7 400.8 L346.1 398.2 L346.5 395.1 L347 392.3 L347.4 388.7 L347.8 385.5 L348.3 382.2 L348.7 378.9 L349.1 376.1 L349.6 372.5 L350 369.4 L350.5 366.7 L350.9 363.7 L351.4 360.6 L351.9 358.7 L352.4 355.8 L352.9 352.8 L353.3 350.4 L353.8 347.9 L354.3 345.8 L354.7 344.1 L355.2 343.7 L355.6 342.5 L356.1 341.5 L356.5 341 L356.9 341.2 L357.4 340.3 L357.8 339.4 L358.3 339.9 L358.8 338.6 L359.3 337.8 L359.9 337.5 L360.4 337.8 L361 336.6 L361.6 334.8 L362.2 334.6 L362.9 333.9 L363.5 333.3 L364.2 333.1 L364.8 332.9 L365.5 332.7 L366.2 332.3 L367 332.7 L367.7 333.2 L368.4 333 L369.2 332.8 L370.1 333.2 L370.9 333.5 L371.8 333.1 L372.6 333.2 L373.5 334 L374.4 334.3 L375.3 334.4 L376.1 334.9 L376.9 335.2 L377.7 335.6 L378.5 335 L379.1 336.2 L379.7 336.5 L380.3 336.3 L380.9 337.1 L381.4 337.5 L382.1 337.8 L382.7 338.6 L383.5 340.1 L384.4 340.7 L385.5 341.9 L386.7 343.5 L388.1 343.7 L389.6 344.4 L391.3 346 L393.1 346.5 L395 347.8 L397 350 L399 352.1 L401.1 353.9 L403.1 354.6 L405.1 357.3 L407.1 359.1 L409 360.9 L410.9 362.5 L412.7 363.2 L414.6 364.1 L416.5 365.3 L418.3 368 L420.2 369.3 L422 370.9 L423.9 372.5 L425.8 374.5 L427.6 376.4 L429.5 378.1 L431.3 379.1 L433.2 379.4 L435.2 381.4 L437.1 383.4 L439.1 385.8 L441.1 387.5 L443.1 388.9 L445 390.8 L446.9 391.7 L448.7 392.9 L450.5 394 L452.1 395.7 L453.7 398.1 L455.1 399.6 L456.5 401.1 L457.8 402.1 L459 403 L460.1 403.5 L461.2 404.1 L462.3 403.7 L463.3 404 L464.3 404.3 L465.2 405.6 L466.2 406.8 L467.1 408 L468 409.4 L468.8 409.8 L469.6 410.9 L470.4 412.3 L471.1 412.6 L471.8 413.5 L472.5 413.7 L473.2 413.3 L473.9 413.8 L474.6 413.9 L475.3 414.3 L476 414.5 L476.8 415 L477.5 414.4 L478.3 415.7 L479.1 416.5 L479.9 416.4 L480.7 416.1 L481.4 416.2 L482.2 416.6 L482.9 416.9 L483.6 417.1 L484.3 416.3 L485 416 L485.6 416.8 L486.2 417.1 L486.9 416.6 L487.5 416.4 L488.1 416 L488.6 415.9 L489.2 416.8 L489.7 417 L490.1 417.7 L490.6 417.9 L490.9 417.3 L491.2 418.2" stroke="#2d4d5b" stroke-width="1.7" fill="none" stroke-linejoin="round"/>
<line x1="344.8" y1="416.2" x2="490.2" y2="416.2" stroke="#888" stroke-width="0.9" stroke-dasharray="3 2.5"/>
<path d="M358 420v7.5M355.2 420v7.5M345.9 420v7.5M364.2 420v7.5M489.1 420v7.5M348.1 420v7.5M487.5 420v7.5" stroke="#2d4d5b" stroke-width="0.6" stroke-opacity="0.95"/>
<path d="M350.6 420v7.5M348.9 420v7.5M483.6 420v7.5M346.6 420v7.5M361.5 420v7.5M423.8 420v7.5M363.2 420v7.5M474 420v7.5M460.9 420v7.5M388.5 420v7.5M371.3 420v7.5M375.9 420v7.5" stroke="#2d4d5b" stroke-width="1.3" stroke-opacity="0.95"/>
<path d="M353.5 420v7.5M381 420v7.5M460.3 420v7.5M445.2 420v7.5M478.3 420v7.5M367 420v7.5M372.2 420v7.5M478.8 420v7.5M401.7 420v7.5" stroke="#2d4d5b" stroke-width="0.8" stroke-opacity="0.95"/>
<path d="M354.8 420v7.5M442.6 420v7.5M361.3 420v7.5M451.1 420v7.5M348 420v7.5M358.5 420v7.5M481.6 420v7.5M367.5 420v7.5" stroke="#2d4d5b" stroke-width="1.3" stroke-opacity="0.55"/>
<path d="M344.2 420v7.5M380.4 420v7.5M362.7 420v7.5M390.1 420v7.5M356.6 420v7.5M465.5 420v7.5M415.9 420v7.5M390.9 420v7.5M451.2 420v7.5M433.3 420v7.5M463.4 420v7.5" stroke="#2d4d5b" stroke-width="0.6" stroke-opacity="0.75"/>
<path d="M346.3 420v7.5M430.2 420v7.5M389.8 420v7.5M358.7 420v7.5M363.2 420v7.5M359.2 420v7.5M417 420v7.5" stroke="#2d4d5b" stroke-width="0.6" stroke-opacity="0.55"/>
<path d="M461.7 420v7.5M359 420v7.5M471.9 420v7.5M365.3 420v7.5M410.6 420v7.5M423 420v7.5M347.6 420v7.5" stroke="#2d4d5b" stroke-width="0.8" stroke-opacity="0.75"/>
<path d="M490.2 420v7.5M359.6 420v7.5M404 420v7.5M395.5 420v7.5M351.7 420v7.5" stroke="#2d4d5b" stroke-width="1.0" stroke-opacity="0.55"/>
<path d="M355 420v7.5M354.1 420v7.5M353.7 420v7.5M398.5 420v7.5M491.1 420v7.5M376.4 420v7.5M475 420v7.5M372.1 420v7.5M346.2 420v7.5" stroke="#2d4d5b" stroke-width="0.8" stroke-opacity="0.55"/>
<path d="M454.9 420v7.5M358 420v7.5M485.6 420v7.5M395.8 420v7.5M354.2 420v7.5M462 420v7.5M448.6 420v7.5" stroke="#2d4d5b" stroke-width="1.3" stroke-opacity="0.75"/>
<path d="M381 420v7.5M453 420v7.5M345.3 420v7.5M357.2 420v7.5M368.5 420v7.5M372.9 420v7.5M450.8 420v7.5M345.9 420v7.5M350.1 420v7.5" stroke="#2d4d5b" stroke-width="1.0" stroke-opacity="0.75"/>
<path d="M462.2 420v7.5M389.2 420v7.5M487 420v7.5M413.4 420v7.5M477.4 420v7.5M361.7 420v7.5M464.5 420v7.5M363.3 420v7.5M466.1 420v7.5" stroke="#2d4d5b" stroke-width="1.0" stroke-opacity="0.95"/>
<path d="M345.9 428.1v7.5M347.8 428.1v7.5M374.5 428.1v7.5M347.5 428.1v7.5M351.9 428.1v7.5" stroke="#f0a35e" stroke-width="1.0" stroke-opacity="0.95"/>
<path d="M346.9 428.1v7.5M379.3 428.1v7.5M350.5 428.1v7.5M354.1 428.1v7.5M353.6 428.1v7.5M357.2 428.1v7.5M364.2 428.1v7.5M351.8 428.1v7.5" stroke="#f0a35e" stroke-width="0.8" stroke-opacity="0.55"/>
<path d="M356.8 428.1v7.5M364.3 428.1v7.5M383.2 428.1v7.5M346.3 428.1v7.5M408.7 428.1v7.5M381.6 428.1v7.5M362.5 428.1v7.5M358.7 428.1v7.5" stroke="#f0a35e" stroke-width="1.3" stroke-opacity="0.75"/>
<path d="M370.9 428.1v7.5M386 428.1v7.5M364.8 428.1v7.5M345.6 428.1v7.5M369.3 428.1v7.5M410.9 428.1v7.5M354.6 428.1v7.5" stroke="#f0a35e" stroke-width="1.3" stroke-opacity="0.55"/>
<path d="M384.9 428.1v7.5M420.9 428.1v7.5M348.7 428.1v7.5M352.9 428.1v7.5" stroke="#f0a35e" stroke-width="0.6" stroke-opacity="0.95"/>
<path d="M345.4 428.1v7.5M363.2 428.1v7.5M356 428.1v7.5M350 428.1v7.5M375.5 428.1v7.5M345.7 428.1v7.5" stroke="#f0a35e" stroke-width="0.6" stroke-opacity="0.75"/>
<path d="M351.2 428.1v7.5M398.3 428.1v7.5M351.7 428.1v7.5M367.8 428.1v7.5M355.9 428.1v7.5M376.9 428.1v7.5M365.8 428.1v7.5M368.6 428.1v7.5M350.8 428.1v7.5M357.4 428.1v7.5" stroke="#f0a35e" stroke-width="1.3" stroke-opacity="0.95"/>
<path d="M348.3 428.1v7.5M352 428.1v7.5M369.8 428.1v7.5M364.4 428.1v7.5M347.9 428.1v7.5" stroke="#f0a35e" stroke-width="1.0" stroke-opacity="0.75"/>
<path d="M346.6 428.1v7.5M356.5 428.1v7.5M385.2 428.1v7.5M370.5 428.1v7.5M386.4 428.1v7.5M344.7 428.1v7.5M409.7 428.1v7.5" stroke="#f0a35e" stroke-width="0.6" stroke-opacity="0.55"/>
<path d="M400.2 428.1v7.5M379.9 428.1v7.5M415.9 428.1v7.5M351.7 428.1v7.5M345.2 428.1v7.5M360.2 428.1v7.5" stroke="#f0a35e" stroke-width="1.0" stroke-opacity="0.55"/>
<path d="M357.5 428.1v7.5M387.8 428.1v7.5M378.2 428.1v7.5M384.6 428.1v7.5M357.1 428.1v7.5" stroke="#f0a35e" stroke-width="0.8" stroke-opacity="0.95"/>
<path d="M358.7 428.1v7.5M354.7 428.1v7.5M393.9 428.1v7.5M414 428.1v7.5" stroke="#f0a35e" stroke-width="0.8" stroke-opacity="0.75"/>
<path d="M382.4 436.1v7.5M378.2 436.1v7.5M406.8 436.1v7.5M362.7 436.1v7.5M375.7 436.1v7.5M370 436.1v7.5M347.2 436.1v7.5M356.7 436.1v7.5" stroke="#e8674a" stroke-width="0.8" stroke-opacity="0.95"/>
<path d="M387.5 436.1v7.5M368.8 436.1v7.5M344.9 436.1v7.5M366.4 436.1v7.5M368.9 436.1v7.5M363.6 436.1v7.5M427.1 436.1v7.5M354.5 436.1v7.5M367 436.1v7.5M345.3 436.1v7.5" stroke="#e8674a" stroke-width="0.6" stroke-opacity="0.75"/>
<path d="M383.1 436.1v7.5M393.5 436.1v7.5M383 436.1v7.5M352.6 436.1v7.5M359.8 436.1v7.5M372.2 436.1v7.5M428.1 436.1v7.5M406.7 436.1v7.5M364.8 436.1v7.5M386.5 436.1v7.5M350.1 436.1v7.5M367.1 436.1v7.5M388.6 436.1v7.5" stroke="#e8674a" stroke-width="1.3" stroke-opacity="0.55"/>
<path d="M361.6 436.1v7.5M374.2 436.1v7.5M364.5 436.1v7.5M406.4 436.1v7.5" stroke="#e8674a" stroke-width="1.0" stroke-opacity="0.95"/>
<path d="M387.5 436.1v7.5M399 436.1v7.5M381.7 436.1v7.5M386.7 436.1v7.5M349.2 436.1v7.5M402.8 436.1v7.5M344.8 436.1v7.5M380.8 436.1v7.5M359.2 436.1v7.5M347.3 436.1v7.5" stroke="#e8674a" stroke-width="1.0" stroke-opacity="0.75"/>
<path d="M363.8 436.1v7.5M376.6 436.1v7.5M367.5 436.1v7.5M359.2 436.1v7.5M452.8 436.1v7.5M399.8 436.1v7.5M348.3 436.1v7.5M350.7 436.1v7.5" stroke="#e8674a" stroke-width="1.3" stroke-opacity="0.75"/>
<path d="M344.4 436.1v7.5M387.6 436.1v7.5M349.7 436.1v7.5M356.9 436.1v7.5M386.9 436.1v7.5M363.8 436.1v7.5M353.1 436.1v7.5M367.7 436.1v7.5" stroke="#e8674a" stroke-width="0.6" stroke-opacity="0.55"/>
<path d="M365.3 436.1v7.5M375 436.1v7.5M370.7 436.1v7.5M389.5 436.1v7.5M350.2 436.1v7.5M350.6 436.1v7.5" stroke="#e8674a" stroke-width="1.3" stroke-opacity="0.95"/>
<path d="M349.5 436.1v7.5M365.8 436.1v7.5M344.8 436.1v7.5M403.2 436.1v7.5M450.9 436.1v7.5M355.6 436.1v7.5M409.4 436.1v7.5M355.7 436.1v7.5" stroke="#e8674a" stroke-width="0.8" stroke-opacity="0.75"/>
<path d="M366.2 436.1v7.5M366.4 436.1v7.5M352.2 436.1v7.5M351.2 436.1v7.5M346.8 436.1v7.5M362.3 436.1v7.5" stroke="#e8674a" stroke-width="1.0" stroke-opacity="0.55"/>
<path d="M372.9 436.1v7.5M380 436.1v7.5M394.2 436.1v7.5M345.8 436.1v7.5M360.7 436.1v7.5M344.4 436.1v7.5M346.4 436.1v7.5M384.7 436.1v7.5" stroke="#e8674a" stroke-width="0.6" stroke-opacity="0.95"/>
<path d="M401.2 436.1v7.5M356.1 436.1v7.5M352.2 436.1v7.5M385.9 436.1v7.5M353 436.1v7.5M450.4 436.1v7.5" stroke="#e8674a" stroke-width="0.8" stroke-opacity="0.55"/>
<path d="M359.9 444.2v7.5M352.2 444.2v7.5M398.5 444.2v7.5M482.2 444.2v7.5M388.5 444.2v7.5M371.6 444.2v7.5M392.7 444.2v7.5M391.4 444.2v7.5M370.7 444.2v7.5" stroke="#e2c05c" stroke-width="0.8" stroke-opacity="0.75"/>
<path d="M355.2 444.2v7.5M398.1 444.2v7.5M344.9 444.2v7.5M393.7 444.2v7.5" stroke="#e2c05c" stroke-width="1.3" stroke-opacity="0.95"/>
<path d="M368 444.2v7.5M345.9 444.2v7.5M344.6 444.2v7.5M391.9 444.2v7.5M347.2 444.2v7.5M362.3 444.2v7.5M345.8 444.2v7.5M354.5 444.2v7.5M398.2 444.2v7.5M386.1 444.2v7.5M401.7 444.2v7.5M387.6 444.2v7.5M410.5 444.2v7.5" stroke="#e2c05c" stroke-width="1.0" stroke-opacity="0.55"/>
<path d="M356.7 444.2v7.5M432.2 444.2v7.5M383.8 444.2v7.5M380.9 444.2v7.5M394.6 444.2v7.5M380.8 444.2v7.5M409.9 444.2v7.5M381.3 444.2v7.5M371.2 444.2v7.5M362.4 444.2v7.5M388.6 444.2v7.5M404.7 444.2v7.5M372 444.2v7.5" stroke="#e2c05c" stroke-width="1.3" stroke-opacity="0.75"/>
<path d="M385.6 444.2v7.5M381.8 444.2v7.5M401.3 444.2v7.5M349.9 444.2v7.5M368.5 444.2v7.5M359.8 444.2v7.5M389.3 444.2v7.5M401.3 444.2v7.5" stroke="#e2c05c" stroke-width="0.6" stroke-opacity="0.55"/>
<path d="M385.3 444.2v7.5M348.8 444.2v7.5M354.3 444.2v7.5M363.6 444.2v7.5M380.2 444.2v7.5M358 444.2v7.5M405 444.2v7.5M372.7 444.2v7.5" stroke="#e2c05c" stroke-width="0.8" stroke-opacity="0.95"/>
<path d="M404.8 444.2v7.5M409.4 444.2v7.5M405.8 444.2v7.5M469.4 444.2v7.5M409.2 444.2v7.5M362.4 444.2v7.5M344.6 444.2v7.5M375.1 444.2v7.5M426.8 444.2v7.5M437.9 444.2v7.5" stroke="#e2c05c" stroke-width="0.6" stroke-opacity="0.75"/>
<path d="M379.3 444.2v7.5M416.2 444.2v7.5M399.4 444.2v7.5M390.2 444.2v7.5M353.2 444.2v7.5M423 444.2v7.5M351.7 444.2v7.5M374 444.2v7.5M405.6 444.2v7.5M356.4 444.2v7.5M400.7 444.2v7.5" stroke="#e2c05c" stroke-width="1.3" stroke-opacity="0.55"/>
<path d="M347.4 444.2v7.5M380.9 444.2v7.5M401.5 444.2v7.5M351.1 444.2v7.5M348.4 444.2v7.5M389.5 444.2v7.5M380.6 444.2v7.5M408 444.2v7.5M455.2 444.2v7.5M410.3 444.2v7.5M407.6 444.2v7.5" stroke="#e2c05c" stroke-width="1.0" stroke-opacity="0.75"/>
<path d="M383 444.2v7.5M381.3 444.2v7.5M357.4 444.2v7.5M377 444.2v7.5M364.1 444.2v7.5M369.5 444.2v7.5M380 444.2v7.5M375.7 444.2v7.5M376.6 444.2v7.5M392.2 444.2v7.5M372.5 444.2v7.5M351.6 444.2v7.5M365.1 444.2v7.5M363.4 444.2v7.5" stroke="#e2c05c" stroke-width="0.8" stroke-opacity="0.55"/>
<path d="M390.4 444.2v7.5M346.8 444.2v7.5M402.9 444.2v7.5M406.8 444.2v7.5M352.6 444.2v7.5" stroke="#e2c05c" stroke-width="1.0" stroke-opacity="0.95"/>
<path d="M467.9 444.2v7.5M385.6 444.2v7.5M351.1 444.2v7.5M356 444.2v7.5" stroke="#e2c05c" stroke-width="0.6" stroke-opacity="0.95"/>
<path d="M486.4 452.2v7.5M353.8 452.2v7.5M422.2 452.2v7.5M428.4 452.2v7.5M364.4 452.2v7.5M366.7 452.2v7.5M486.7 452.2v7.5M369.1 452.2v7.5M346.5 452.2v7.5M391.2 452.2v7.5M376.4 452.2v7.5M370 452.2v7.5M390.8 452.2v7.5" stroke="#3fb39b" stroke-width="0.6" stroke-opacity="0.55"/>
<path d="M478.7 452.2v7.5M350.4 452.2v7.5M398.5 452.2v7.5M354 452.2v7.5M379.2 452.2v7.5M371.7 452.2v7.5" stroke="#3fb39b" stroke-width="0.6" stroke-opacity="0.95"/>
<path d="M366 452.2v7.5M480.3 452.2v7.5M486.1 452.2v7.5M368.4 452.2v7.5M360.9 452.2v7.5M378.7 452.2v7.5M409.1 452.2v7.5" stroke="#3fb39b" stroke-width="1.0" stroke-opacity="0.55"/>
<path d="M361.6 452.2v7.5M402.6 452.2v7.5M379 452.2v7.5M393.1 452.2v7.5M441.1 452.2v7.5M430.8 452.2v7.5M368.8 452.2v7.5M378.2 452.2v7.5" stroke="#3fb39b" stroke-width="1.0" stroke-opacity="0.75"/>
<path d="M402 452.2v7.5M391.2 452.2v7.5M409.7 452.2v7.5M389 452.2v7.5M442.2 452.2v7.5M405.7 452.2v7.5M362 452.2v7.5M346 452.2v7.5M376.6 452.2v7.5M351.7 452.2v7.5M427.8 452.2v7.5M383.4 452.2v7.5M364.5 452.2v7.5" stroke="#3fb39b" stroke-width="0.8" stroke-opacity="0.75"/>
<path d="M462 452.2v7.5M477.8 452.2v7.5M349 452.2v7.5M459.9 452.2v7.5M370.4 452.2v7.5M376.2 452.2v7.5M345.6 452.2v7.5M385.9 452.2v7.5M362.5 452.2v7.5M373.9 452.2v7.5M432.4 452.2v7.5M402.1 452.2v7.5M352.3 452.2v7.5" stroke="#3fb39b" stroke-width="1.3" stroke-opacity="0.55"/>
<path d="M390.9 452.2v7.5M384.6 452.2v7.5M367.8 452.2v7.5M434.5 452.2v7.5M368.9 452.2v7.5M392.1 452.2v7.5M458.5 452.2v7.5M377.2 452.2v7.5M379.8 452.2v7.5M384.7 452.2v7.5M480.8 452.2v7.5M407 452.2v7.5" stroke="#3fb39b" stroke-width="1.3" stroke-opacity="0.75"/>
<path d="M364.8 452.2v7.5M386.4 452.2v7.5M367.2 452.2v7.5M380.5 452.2v7.5M385.9 452.2v7.5M364.1 452.2v7.5M352.2 452.2v7.5M355.5 452.2v7.5M405.4 452.2v7.5M472.5 452.2v7.5M437.9 452.2v7.5" stroke="#3fb39b" stroke-width="0.6" stroke-opacity="0.75"/>
<path d="M486 452.2v7.5M344.9 452.2v7.5M393.9 452.2v7.5M348.9 452.2v7.5M393.1 452.2v7.5M400.6 452.2v7.5M391.6 452.2v7.5M382.9 452.2v7.5" stroke="#3fb39b" stroke-width="1.3" stroke-opacity="0.95"/>
<path d="M395.5 452.2v7.5M376 452.2v7.5M352.3 452.2v7.5M347.4 452.2v7.5M459.7 452.2v7.5M456.6 452.2v7.5M365.7 452.2v7.5M373.4 452.2v7.5M408.9 452.2v7.5M367.9 452.2v7.5M462.9 452.2v7.5" stroke="#3fb39b" stroke-width="1.0" stroke-opacity="0.95"/>
<path d="M371.7 452.2v7.5M393.2 452.2v7.5M420.5 452.2v7.5M387.9 452.2v7.5M390.6 452.2v7.5M389.2 452.2v7.5M345.4 452.2v7.5M399.1 452.2v7.5M345.2 452.2v7.5" stroke="#3fb39b" stroke-width="0.8" stroke-opacity="0.55"/>
<path d="M356.7 452.2v7.5M377.5 452.2v7.5M474 452.2v7.5M365.5 452.2v7.5M356.2 452.2v7.5M351.4 452.2v7.5M370 452.2v7.5M372.5 452.2v7.5M363.1 452.2v7.5" stroke="#3fb39b" stroke-width="0.8" stroke-opacity="0.95"/>
<rect x="343.8" y="314.6" width="147.4" height="145.4" fill="none" stroke="#111" stroke-width="1.6"/>
<line x1="343.8" y1="419.7" x2="491.2" y2="419.7" stroke="#111" stroke-width="1.4"/>
<line x1="340.8" y1="416.2" x2="343.8" y2="416.2" stroke="#111" stroke-width="1"/>
<text x="339.8" y="419.2" font-size="9" text-anchor="end">0.0</text>
<line x1="340.8" y1="389.8" x2="343.8" y2="389.8" stroke="#111" stroke-width="1"/>
<text x="339.8" y="392.8" font-size="9" text-anchor="end">0.2</text>
<line x1="340.8" y1="363.4" x2="343.8" y2="363.4" stroke="#111" stroke-width="1"/>
<text x="339.8" y="366.4" font-size="9" text-anchor="end">0.4</text>
<line x1="340.8" y1="337" x2="343.8" y2="337" stroke="#111" stroke-width="1"/>
<text x="339.8" y="340" font-size="9" text-anchor="end">0.6</text>
<text x="344.4" y="312" font-size="12">Mat. Neu</text>
<text x="441.6" y="312" font-size="12">Imm. Neu</text>
<line x1="398" y1="309" x2="436" y2="309" stroke="#111" stroke-width="0.9"/>
<path d="M394.5 309 L399.5 306.8 L399.5 311.2Z M439.5 309 L434.5 306.8 L434.5 311.2Z" fill="#111"/>
<line x1="371.5" y1="460" x2="371.5" y2="463" stroke="#111" stroke-width="1"/>
<text x="366.6" y="471.5" font-size="9" text-anchor="middle">2500</text>
<line x1="427.6" y1="460" x2="427.6" y2="463" stroke="#111" stroke-width="1"/>
<text x="423.2" y="471.5" font-size="9" text-anchor="middle">7500</text>
<line x1="483" y1="460" x2="483" y2="463" stroke="#111" stroke-width="1"/>
<text x="473" y="471.5" font-size="9" text-anchor="middle">12500</text>
<text x="417.5" y="481.6" font-size="12" text-anchor="middle">Gene bank</text>
<text x="322" y="389.3" font-size="12.1" text-anchor="middle" transform="rotate(-90 322 389.3)">Running enrichment score</text>
<rect x="600" y="428.3" width="76" height="7.9" fill="#f0a35e" fill-opacity="0.35"/>
<rect x="650" y="436.3" width="26" height="7.9" fill="#e8674a" fill-opacity="0.7"/>
<rect x="640" y="444.3" width="36" height="7.9" fill="#e2c05c" fill-opacity="0.6"/>
<rect x="658" y="452.3" width="18" height="7.9" fill="#3fb39b" fill-opacity="0.9"/>
<text x="498.5" y="257.5" font-size="14" font-weight="bold" fill="#000">F</text>
<line x1="531.3" y1="254.8" x2="538.8" y2="254.8" stroke="#2d4d5b" stroke-width="1.8"/>
<text x="542.7" y="258" font-size="9" fill="#222">Myc targets V2</text>
<line x1="531.3" y1="265.2" x2="538.8" y2="265.2" stroke="#f0a35e" stroke-width="1.8"/>
<text x="542.7" y="268.4" font-size="9" fill="#222">Oxidative phosphorylation</text>
<line x1="531.3" y1="275.5" x2="538.8" y2="275.5" stroke="#e8674a" stroke-width="1.8"/>
<text x="542.7" y="278.7" font-size="9" fill="#222">G2M checkpoint</text>
<line x1="531.3" y1="285.9" x2="538.8" y2="285.9" stroke="#e2c05c" stroke-width="1.8"/>
<text x="542.7" y="289.1" font-size="9" fill="#222">Myc targets V1</text>
<line x1="531.3" y1="296.2" x2="538.8" y2="296.2" stroke="#3fb39b" stroke-width="1.8"/>
<text x="542.7" y="299.4" font-size="9" fill="#222">E2F targets</text>
<path d="M530.4 326.8 L531.5 328.8 L533 329.3 L534.7 330 L536.6 331.6 L538.7 334.2 L540.9 335.9 L543.1 336.7 L545.3 337.8 L547.4 339.3 L549.3 341.3 L551.1 342.5 L552.8 343.4 L554.5 344.4 L556.1 345.6 L557.8 346.2 L559.5 347.4 L561.2 348.9 L563.1 351.2 L565.1 352.5 L567.2 354.7 L569.5 355.8 L572.1 358.4 L574.7 360.7 L577.5 362.8 L580.3 365.2 L583.2 368.3 L586 370.5 L588.8 373.5 L591.5 376.5 L594 379.3 L596.5 381.9 L598.9 382.7 L601.3 384.6 L603.7 385.8 L606 388 L608.3 389.5 L610.4 391 L612.5 392.5 L614.5 393.3 L616.3 394.3 L618.1 394.7 L619.7 396.7 L621.2 396.9 L622.6 397.4 L623.9 396.6 L625.1 396.1 L626.3 395.9 L627.5 396.6 L628.6 397 L629.7 396.9 L630.8 396 L631.8 396.3 L632.8 394.5 L633.6 392.8 L634.5 391.8 L635.3 389.9 L636.1 388.8 L637 388.1 L637.8 386.9 L638.7 386.1 L639.6 385.2 L640.5 384 L641.4 381.5 L642.3 380.4 L643.1 380.1 L644 378.9 L644.9 378.4 L645.8 378.3 L646.7 378.8 L647.6 377.5 L648.5 376.8 L649.5 376.6 L650.4 376.6 L651.4 375.4 L652.4 376.2 L653.3 375.2 L654.2 375.2 L655.1 374.4 L655.8 373.7 L656.6 373.6 L657.2 372.6 L657.7 371.2 L658.1 368.9 L658.6 366.9 L658.9 364.4 L659.3 364 L659.7 361.2 L660.1 358 L660.5 357.5 L661 356.5 L661.6 354.4 L662.2 353 L662.9 350.4 L663.6 348.1 L664.3 346.4 L665 344.6 L665.7 342.2 L666.4 341.2 L667.1 339.7 L667.7 337.8 L668.3 335.2 L669 333.5 L669.6 331.4 L670.2 329.6 L670.8 328.4 L671.4 326.4 L671.9 325.2 L672.4 324.4 L672.9 323.6 L673.3 324.2 L673.7 322.6 L674 322.5 L674.3 322.1 L674.5 322.7 L674.8 324.9 L675 324.6 L675.1 325.2 L675.3 326.3 L675.4 326.9 L675.5 326.8" stroke="#f0a35e" stroke-width="1.7" fill="none" stroke-linejoin="round"/>
<path d="M530.4 326.8 L532.2 328.2 L534.5 331.6 L537.2 333.5 L540.3 335.5 L543.6 337.8 L547.1 339.7 L550.7 341.7 L554.3 344.5 L557.8 346.7 L561.2 349.6 L564.4 351.8 L567.2 353 L569.8 354.5 L572.3 356.3 L574.7 357.6 L577.1 360 L579.3 362.2 L581.5 365 L583.7 366.8 L585.8 368.9 L587.9 371.4 L589.9 373.8 L592 375.3 L594 378.1 L596 379.6 L598.1 382.2 L600.1 383.9 L602 385.6 L604 386.8 L605.9 388.7 L607.7 391.8 L609.6 393.1 L611.3 395.4 L613.1 397.4 L614.7 398.2 L616.3 399.8 L617.9 401.2 L619.4 401.5 L620.8 401.7 L622.2 402.6 L623.6 403 L624.9 404.3 L626.1 404.4 L627.3 403.6 L628.5 403.5 L629.7 402.7 L630.9 403.1 L632 403.3 L633.1 402.9 L634.1 402.1 L635.1 402.4 L636.1 401.8 L637.1 402 L638 400.9 L638.9 400.2 L639.8 399.3 L640.6 398.2 L641.5 399.1 L642.3 399.1 L643.1 397.8 L644 397.2 L644.7 395.1 L645.5 394.6 L646.2 393.9 L646.9 392.3 L647.6 390.8 L648.3 389.6 L649 388.5 L649.7 387 L650.5 385.4 L651.3 384.2 L652.1 383.1 L653 382.9 L653.9 382.3 L654.8 382 L655.8 380.8 L656.8 380.4 L657.8 380 L658.8 379.5 L659.8 379.2 L660.7 378.7 L661.6 377.3 L662.5 377.1 L663.3 376.6 L664 374.9 L664.6 373.6 L665.3 371.3 L665.9 368.7 L666.4 366.6 L667 365.4 L667.5 363 L668 359.9 L668.5 357.9 L669 355.4 L669.4 353 L670 351.3 L670.5 348.4 L671 345.6 L671.6 342.9 L672.1 341.6 L672.6 339.7 L673.2 337.4 L673.7 335.2 L674.1 333.8 L674.6 332.8 L674.9 330.8 L675.3 329.6 L675.5 328.8" stroke="#e2c05c" stroke-width="1.7" fill="none" stroke-linejoin="round"/>
<path d="M530.4 326.8 L530.8 327.2 L531.4 327.4 L532.1 327.3 L532.8 327 L533.7 327 L534.5 327 L535.5 327.2 L536.4 327.6 L537.4 328.2 L538.4 328.5 L539.4 329.1 L540.4 329.5 L541.4 329.7 L542.4 329.8 L543.5 329.6 L544.6 329.3 L545.7 329.7 L546.9 330 L548 330.6 L549.2 331.2 L550.4 331.1 L551.5 331.4 L552.7 331.5 L553.8 332.5 L554.9 333.1 L555.9 333.6 L556.8 333.7 L557.8 333.7 L558.7 334.1 L559.7 334.7 L560.7 335.6 L561.7 335.7 L562.9 336.7 L564.2 337.4 L565.6 338.3 L567.2 339.5 L569 340.8 L570.8 342.7 L572.9 344.7 L575 346.6 L577.2 348.2 L579.5 350.3 L581.8 352.4 L584.2 354.8 L586.7 357 L589.1 358.4 L591.6 360.3 L594 362.4 L596.5 365.2 L599.2 367.7 L602 370.9 L604.9 373.8 L607.9 376.2 L610.8 379.2 L613.6 382.2 L616.3 385.1 L618.9 387 L621.3 389.5 L623.4 391.3 L625.3 392.1 L626.8 393.3 L627.9 393.6 L628.8 394 L629.4 395.3 L629.9 396.7 L630.3 397.2 L630.7 397.3 L631.1 397.9 L631.6 397.8 L632.2 397.1 L633.1 396.1 L634.2 396.6 L635.7 395.8 L637.3 394.9 L639.2 395.1 L641.2 395.4 L643.4 395.4 L645.5 396.1 L647.7 396.2 L649.8 396.4 L651.8 396.6 L653.6 396.3 L655.2 396.4 L656.6 397.2 L657.7 396.6 L658.6 396.6 L659.3 396.7 L659.9 396.4 L660.5 396.3 L660.9 395.5 L661.3 395.2 L661.6 394.9 L661.9 395 L662.3 394.7 L662.7 393.6 L663.3 392 L663.8 391.5 L664.4 390.3 L665 387.7 L665.5 385.7 L666.1 383.4 L666.7 381.1 L667.2 378.3 L667.8 376 L668.4 373.5 L668.9 371.1 L669.4 369.2 L670 366.8 L670.5 363.7 L671 360 L671.6 356.7 L672.1 353.9 L672.6 350.8 L673.2 347 L673.7 344.1 L674.1 341 L674.6 337.6 L674.9 335.1 L675.3 332.8 L675.5 331" stroke="#e8674a" stroke-width="1.7" fill="none" stroke-linejoin="round"/>
<path d="M530.4 326.8 L531.3 326.7 L532.4 328.5 L533.8 331.1 L535.3 332.5 L537 334.4 L538.7 336.3 L540.5 338 L542.4 339.7 L544.2 341.5 L546 342.6 L547.7 343 L549.3 343.3 L550.8 344.6 L552.3 345.6 L553.7 346.3 L555 346 L556.4 346.6 L557.8 347.3 L559.2 347.6 L560.6 348.1 L562.1 350 L563.7 351.6 L565.4 352.9 L567.2 354.2 L569.1 355.4 L571.2 356.8 L573.4 358.9 L575.6 360.3 L578 362.2 L580.3 365 L582.7 366.5 L585.1 368.3 L587.4 371.2 L589.7 373.4 L591.9 375.4 L594 376.9 L596.1 378.2 L598.1 380.8 L600.1 381.7 L602.1 384.1 L604.1 386 L606 388.1 L607.9 389.2 L609.7 391.7 L611.5 393.9 L613.2 395.8 L614.8 397.6 L616.3 398.4 L617.8 399.8 L619.1 401.1 L620.4 402 L621.5 401.5 L622.6 402.3 L623.7 403.2 L624.7 403.5 L625.7 404.3 L626.7 405.6 L627.7 406.2 L628.7 407.5 L629.7 407.9 L630.8 408.4 L631.9 409.5 L632.9 410 L634 410.3 L635.1 411.6 L636.1 412.7 L637.1 414 L638.1 414.4 L639.1 415 L640.1 415.9 L641.1 416.2 L642 416.3 L643 416.5 L643.8 416.1 L644.7 416.1 L645.6 415.1 L646.4 414.9 L647.3 415.6 L648.1 415.1 L648.9 414.1 L649.7 412.5 L650.5 411.2 L651.3 410.3 L652.1 409.2 L652.9 408.8 L653.6 408.1 L654.4 407.6 L655.1 406.6 L655.9 406 L656.6 405.5 L657.4 403.9 L658.1 402.7 L658.8 401.3 L659.5 399.9 L660.3 398.9 L661 397.1 L661.8 395 L662.5 392.6 L663.3 390.1 L664.1 388.2 L664.9 386.7 L665.7 384.6 L666.5 382.1 L667.2 379.7 L668 377 L668.7 375.1 L669.3 372.6 L670 370.6 L670.6 367.9 L671.1 364.9 L671.7 360.9 L672.3 357.4 L672.8 353.4 L673.3 349.4 L673.8 345.8 L674.2 343.1 L674.6 340 L675 337.9 L675.3 335.5 L675.5 332" stroke="#3fb39b" stroke-width="1.7" fill="none" stroke-linejoin="round"/>
<path d="M530.4 316.4 L531 317.1 L531.8 318 L532.8 318.3 L533.9 319.9 L535 319.9 L536.2 322.8 L537.4 324 L538.5 324.5 L539.5 325.7 L540.4 325.1 L541.1 326 L541.8 327.1 L542.3 328 L542.8 328.4 L543.3 327.4 L543.8 327.8 L544.3 326.8 L544.8 327.3 L545.4 327.1 L546 327 L546.7 328.2 L547.4 330.4 L548.1 332 L548.8 331.8 L549.5 331.8 L550.3 331.4 L551.1 331.5 L552 332.3 L552.9 333.3 L553.8 333.5 L554.8 334.1 L555.7 333.7 L556.7 333.9 L557.7 335.6 L558.8 337.2 L559.9 338.1 L561 338.6 L562.3 339.4 L563.6 339.6 L565 339.8 L566.4 341.6 L567.9 342.2 L569.5 344.3 L571.1 345.1 L572.8 347.1 L574.6 350.6 L576.4 353.1 L578.4 355.1 L580.6 357.5 L582.8 358.6 L585.4 362.1 L588.2 364.5 L591.3 367.2 L594.5 370.2 L597.8 373.9 L601 376.9 L604.1 379.9 L607 383.5 L609.6 386.3 L611.9 389.5 L613.7 391.6 L615.3 393.5 L616.6 393.1 L617.7 393.5 L618.7 394.1 L619.6 394.8 L620.4 394.4 L621.2 394.8 L622.1 395.7 L623 395.1 L624 394.8 L625 394.7 L625.9 395.6 L626.8 395.4 L627.7 396.2 L628.5 396.5 L629.4 396.5 L630.2 395.8 L631.1 398.6 L632 400.1 L632.9 401.2 L633.8 400.1 L634.7 401.1 L635.7 401 L636.6 400.2 L637.5 400 L638.4 399.9 L639.3 401.4 L640.1 401.5 L640.9 401.2 L641.6 401.4 L642.3 401.4 L642.9 400 L643.4 400.6 L644 400.3 L644.6 400.5 L645.2 400.9 L645.9 399.5 L646.7 400.1 L647.6 398.2 L648.7 396.3 L650 392.6 L651.4 392.1 L652.8 389.9 L654.3 387.3 L655.8 384.8 L657.3 383.3 L658.7 382 L659.9 380.4 L661 377.9 L662 375.3 L662.8 371.8 L663.5 369.5 L664.1 368.1 L664.7 366 L665.3 365.7 L665.8 364.3 L666.4 361.7 L667 359.8 L667.7 357.4 L668.5 354.1 L669.3 351 L670.2 346.7 L671.1 343.6 L672 341.5 L672.9 338.2 L673.7 336.8 L674.5 334 L675.1 332.5 L675.5 329.6" stroke="#2d4d5b" stroke-width="1.7" fill="none" stroke-linejoin="round"/>
<line x1="530" y1="324.5" x2="676" y2="324.5" stroke="#888" stroke-width="0.9" stroke-dasharray="3 2.5"/>
<path d="M627.7 420.5v7.3M676 420.5v7.3M649.4 420.5v7.3M656.1 420.5v7.3M668 420.5v7.3M612 420.5v7.3M634.6 420.5v7.3M661 420.5v7.3" stroke="#2d4d5b" stroke-width="1.3" stroke-opacity="0.95"/>
<path d="M543.4 420.5v7.3M635.8 420.5v7.3M673.1 420.5v7.3M550.6 420.5v7.3M656.8 420.5v7.3M658.5 420.5v7.3M634.5 420.5v7.3M659.4 420.5v7.3M670.9 420.5v7.3M635.6 420.5v7.3M669.3 420.5v7.3" stroke="#2d4d5b" stroke-width="1.3" stroke-opacity="0.75"/>
<path d="M670.7 420.5v7.3M640.4 420.5v7.3M550.3 420.5v7.3M628.2 420.5v7.3M662.3 420.5v7.3M639.1 420.5v7.3M648.2 420.5v7.3" stroke="#2d4d5b" stroke-width="1.0" stroke-opacity="0.55"/>
<path d="M650.7 420.5v7.3M652.6 420.5v7.3M661.1 420.5v7.3M668.8 420.5v7.3M650.4 420.5v7.3M671.5 420.5v7.3M613.4 420.5v7.3M627.2 420.5v7.3M667.6 420.5v7.3M670.1 420.5v7.3M622.1 420.5v7.3M651 420.5v7.3M638 420.5v7.3M666.4 420.5v7.3" stroke="#2d4d5b" stroke-width="1.0" stroke-opacity="0.75"/>
<path d="M653.5 420.5v7.3M657.4 420.5v7.3M650.4 420.5v7.3M632.7 420.5v7.3M643.1 420.5v7.3M621 420.5v7.3M658 420.5v7.3" stroke="#2d4d5b" stroke-width="0.8" stroke-opacity="0.55"/>
<path d="M628.6 420.5v7.3M646.2 420.5v7.3M645.4 420.5v7.3M660.1 420.5v7.3M543 420.5v7.3M672.6 420.5v7.3M660.1 420.5v7.3M659.9 420.5v7.3M639.7 420.5v7.3M634.1 420.5v7.3M664.3 420.5v7.3" stroke="#2d4d5b" stroke-width="1.0" stroke-opacity="0.95"/>
<path d="M653.5 420.5v7.3M588.9 420.5v7.3M626.7 420.5v7.3M655.4 420.5v7.3M538.9 420.5v7.3M642.9 420.5v7.3M675.3 420.5v7.3" stroke="#2d4d5b" stroke-width="0.6" stroke-opacity="0.75"/>
<path d="M656.1 420.5v7.3M650.1 420.5v7.3M659.5 420.5v7.3M650.3 420.5v7.3" stroke="#2d4d5b" stroke-width="1.3" stroke-opacity="0.55"/>
<path d="M675.1 420.5v7.3M649.6 420.5v7.3M671.8 420.5v7.3M642.9 420.5v7.3M660.8 420.5v7.3M636.2 420.5v7.3M638.4 420.5v7.3" stroke="#2d4d5b" stroke-width="0.6" stroke-opacity="0.55"/>
<path d="M555.4 420.5v7.3M660.5 420.5v7.3M630.5 420.5v7.3M656.2 420.5v7.3M668.8 420.5v7.3M670 420.5v7.3M664.1 420.5v7.3" stroke="#2d4d5b" stroke-width="0.6" stroke-opacity="0.95"/>
<path d="M669.5 420.5v7.3M661.7 420.5v7.3M646.5 420.5v7.3M658.2 420.5v7.3M666.1 420.5v7.3M643 420.5v7.3M676.8 420.5v7.3M562.3 420.5v7.3M647.2 420.5v7.3" stroke="#2d4d5b" stroke-width="0.8" stroke-opacity="0.95"/>
<path d="M637.8 420.5v7.3M651.9 420.5v7.3M660.3 420.5v7.3M625 420.5v7.3M671.5 420.5v7.3M541.3 420.5v7.3M615.4 420.5v7.3M630.5 420.5v7.3" stroke="#2d4d5b" stroke-width="0.8" stroke-opacity="0.75"/>
<path d="M602.7 428.4v7.3M653.8 428.4v7.3M665.8 428.4v7.3M629.6 428.4v7.3M583.9 428.4v7.3M664.2 428.4v7.3M655.7 428.4v7.3M654.5 428.4v7.3M622.8 428.4v7.3M590.2 428.4v7.3M606.1 428.4v7.3M625.9 428.4v7.3M627 428.4v7.3M602.2 428.4v7.3M628.2 428.4v7.3" stroke="#f0a35e" stroke-width="0.6" stroke-opacity="0.75"/>
<path d="M605 428.4v7.3M661.8 428.4v7.3M676.9 428.4v7.3M577.7 428.4v7.3M574.1 428.4v7.3M605.9 428.4v7.3M674.4 428.4v7.3M592.8 428.4v7.3M640.5 428.4v7.3M673.2 428.4v7.3" stroke="#f0a35e" stroke-width="1.3" stroke-opacity="0.75"/>
<path d="M618.4 428.4v7.3M602.2 428.4v7.3M615.3 428.4v7.3M635.2 428.4v7.3M649.4 428.4v7.3M655.7 428.4v7.3M670.2 428.4v7.3M619 428.4v7.3M623.3 428.4v7.3M591.3 428.4v7.3M644.1 428.4v7.3M664.5 428.4v7.3M632 428.4v7.3M656.3 428.4v7.3M625.5 428.4v7.3M648.8 428.4v7.3M610.1 428.4v7.3M669.5 428.4v7.3M619.8 428.4v7.3M608.5 428.4v7.3M571.2 428.4v7.3" stroke="#f0a35e" stroke-width="0.8" stroke-opacity="0.95"/>
<path d="M654.1 428.4v7.3M674.1 428.4v7.3M599.4 428.4v7.3M570.1 428.4v7.3M656.8 428.4v7.3M621.4 428.4v7.3M598.1 428.4v7.3M598.7 428.4v7.3M597.1 428.4v7.3M599.5 428.4v7.3M629.3 428.4v7.3M619.3 428.4v7.3M656.5 428.4v7.3M625.9 428.4v7.3M564 428.4v7.3M660.4 428.4v7.3" stroke="#f0a35e" stroke-width="0.8" stroke-opacity="0.75"/>
<path d="M667 428.4v7.3M674.5 428.4v7.3M597.9 428.4v7.3M627.6 428.4v7.3M661.3 428.4v7.3M577.6 428.4v7.3M668.6 428.4v7.3M642.5 428.4v7.3M597.1 428.4v7.3M619.2 428.4v7.3M607.9 428.4v7.3M672.3 428.4v7.3M603.2 428.4v7.3M653.6 428.4v7.3" stroke="#f0a35e" stroke-width="1.0" stroke-opacity="0.95"/>
<path d="M614.5 428.4v7.3M663.6 428.4v7.3M640.6 428.4v7.3M591.6 428.4v7.3M601.8 428.4v7.3M618.3 428.4v7.3M653.8 428.4v7.3M622.1 428.4v7.3M634.1 428.4v7.3M595.4 428.4v7.3M617.7 428.4v7.3M620.8 428.4v7.3M676.6 428.4v7.3M658.4 428.4v7.3M593 428.4v7.3M604.6 428.4v7.3M666.7 428.4v7.3M619.4 428.4v7.3M635.3 428.4v7.3M592.6 428.4v7.3M554.3 428.4v7.3M641.3 428.4v7.3" stroke="#f0a35e" stroke-width="0.6" stroke-opacity="0.95"/>
<path d="M657.3 428.4v7.3M630.8 428.4v7.3M593.7 428.4v7.3M675.2 428.4v7.3M630.7 428.4v7.3M638.5 428.4v7.3M633.5 428.4v7.3M668.7 428.4v7.3M615.2 428.4v7.3M603.5 428.4v7.3M622.1 428.4v7.3M672.4 428.4v7.3" stroke="#f0a35e" stroke-width="1.0" stroke-opacity="0.55"/>
<path d="M611 428.4v7.3M672.2 428.4v7.3M654.5 428.4v7.3M616.5 428.4v7.3M571.6 428.4v7.3M591.2 428.4v7.3M632.8 428.4v7.3M628.4 428.4v7.3M639.8 428.4v7.3M659.8 428.4v7.3M588.1 428.4v7.3M592.4 428.4v7.3M650.1 428.4v7.3M656.1 428.4v7.3M590.7 428.4v7.3M639.6 428.4v7.3" stroke="#f0a35e" stroke-width="0.6" stroke-opacity="0.55"/>
<path d="M616.7 428.4v7.3M656 428.4v7.3M659.9 428.4v7.3M674.1 428.4v7.3M668.9 428.4v7.3M581.2 428.4v7.3M615.3 428.4v7.3M649.3 428.4v7.3M642 428.4v7.3M663.9 428.4v7.3M624.4 428.4v7.3M628.8 428.4v7.3M566 428.4v7.3M668.9 428.4v7.3M638.8 428.4v7.3M652.5 428.4v7.3M656.5 428.4v7.3M642.7 428.4v7.3M557.3 428.4v7.3" stroke="#f0a35e" stroke-width="1.0" stroke-opacity="0.75"/>
<path d="M621.6 428.4v7.3M632.8 428.4v7.3M665.5 428.4v7.3M669.9 428.4v7.3M579.3 428.4v7.3M593.7 428.4v7.3M626.3 428.4v7.3M663.1 428.4v7.3M595.3 428.4v7.3M636.4 428.4v7.3M643.4 428.4v7.3M613.1 428.4v7.3M617.1 428.4v7.3M598.9 428.4v7.3M674.4 428.4v7.3" stroke="#f0a35e" stroke-width="1.3" stroke-opacity="0.55"/>
<path d="M665.1 428.4v7.3M673.5 428.4v7.3M595.5 428.4v7.3M618.7 428.4v7.3M597 428.4v7.3M636.3 428.4v7.3M602.7 428.4v7.3M606.7 428.4v7.3M624.3 428.4v7.3M658.2 428.4v7.3M656.1 428.4v7.3M620.2 428.4v7.3" stroke="#f0a35e" stroke-width="0.8" stroke-opacity="0.55"/>
<path d="M645.1 428.4v7.3M636.8 428.4v7.3M593.1 428.4v7.3M590.1 428.4v7.3M612.3 428.4v7.3M622.1 428.4v7.3M656.7 428.4v7.3M595.2 428.4v7.3" stroke="#f0a35e" stroke-width="1.3" stroke-opacity="0.95"/>
<path d="M613.9 436.3v7.3M626.2 436.3v7.3M616.8 436.3v7.3M667.2 436.3v7.3M603.1 436.3v7.3M624 436.3v7.3M672.7 436.3v7.3M652.9 436.3v7.3M595.9 436.3v7.3M649.4 436.3v7.3M602.6 436.3v7.3M610.6 436.3v7.3M658.3 436.3v7.3M645 436.3v7.3M652.8 436.3v7.3M568.8 436.3v7.3M639.3 436.3v7.3M554.6 436.3v7.3M590.4 436.3v7.3M596.8 436.3v7.3M632.8 436.3v7.3" stroke="#e8674a" stroke-width="1.0" stroke-opacity="0.75"/>
<path d="M625.9 436.3v7.3M574.4 436.3v7.3M535.3 436.3v7.3M580.6 436.3v7.3M535.5 436.3v7.3M663.7 436.3v7.3M639.4 436.3v7.3M542.5 436.3v7.3M649.1 436.3v7.3M672.5 436.3v7.3M644.3 436.3v7.3M585.4 436.3v7.3M614.4 436.3v7.3M651.7 436.3v7.3M549.4 436.3v7.3" stroke="#e8674a" stroke-width="0.8" stroke-opacity="0.95"/>
<path d="M663.5 436.3v7.3M664.9 436.3v7.3M581.8 436.3v7.3M583 436.3v7.3M610.5 436.3v7.3M557.8 436.3v7.3M674 436.3v7.3M663.4 436.3v7.3M609.6 436.3v7.3M613.1 436.3v7.3M543.2 436.3v7.3M535.2 436.3v7.3M561.6 436.3v7.3M574.4 436.3v7.3M647.9 436.3v7.3M675.2 436.3v7.3M676.2 436.3v7.3M603.5 436.3v7.3M561.6 436.3v7.3" stroke="#e8674a" stroke-width="1.0" stroke-opacity="0.95"/>
<path d="M607.5 436.3v7.3M671.6 436.3v7.3M607 436.3v7.3M665.1 436.3v7.3M606 436.3v7.3M610.7 436.3v7.3M529.5 436.3v7.3M627 436.3v7.3M616.4 436.3v7.3M667.6 436.3v7.3M570.5 436.3v7.3M632.1 436.3v7.3M640.5 436.3v7.3M622.4 436.3v7.3M620.4 436.3v7.3M544.4 436.3v7.3M604.3 436.3v7.3M615 436.3v7.3" stroke="#e8674a" stroke-width="0.6" stroke-opacity="0.75"/>
<path d="M590.5 436.3v7.3M637.2 436.3v7.3M657.9 436.3v7.3M542.9 436.3v7.3M646 436.3v7.3M565.3 436.3v7.3M628 436.3v7.3M599 436.3v7.3M643.7 436.3v7.3M583.6 436.3v7.3M660.4 436.3v7.3M578.8 436.3v7.3M664.4 436.3v7.3M552.2 436.3v7.3M602.8 436.3v7.3M640.6 436.3v7.3M575.2 436.3v7.3M599.8 436.3v7.3M537.1 436.3v7.3M616.7 436.3v7.3M651.2 436.3v7.3" stroke="#e8674a" stroke-width="0.6" stroke-opacity="0.95"/>
<path d="M619.6 436.3v7.3M629.8 436.3v7.3M540 436.3v7.3M628.6 436.3v7.3M676.6 436.3v7.3M530.2 436.3v7.3M567.2 436.3v7.3M650 436.3v7.3M544.6 436.3v7.3M608.3 436.3v7.3M669.5 436.3v7.3M588.9 436.3v7.3M644.1 436.3v7.3M610.3 436.3v7.3M626.3 436.3v7.3M643.5 436.3v7.3M584.8 436.3v7.3M578.5 436.3v7.3M575.5 436.3v7.3M577.9 436.3v7.3" stroke="#e8674a" stroke-width="1.3" stroke-opacity="0.75"/>
<path d="M666.7 436.3v7.3M537.9 436.3v7.3M610 436.3v7.3M652.9 436.3v7.3M664 436.3v7.3M652.5 436.3v7.3M641.7 436.3v7.3M645.5 436.3v7.3M590.7 436.3v7.3M608.7 436.3v7.3M647.7 436.3v7.3M572.9 436.3v7.3M547.9 436.3v7.3M670.8 436.3v7.3M540.9 436.3v7.3M578.6 436.3v7.3M552.9 436.3v7.3M674.1 436.3v7.3" stroke="#e8674a" stroke-width="0.8" stroke-opacity="0.55"/>
<path d="M657.5 436.3v7.3M676.1 436.3v7.3M551.5 436.3v7.3M563.2 436.3v7.3M647.8 436.3v7.3M607.6 436.3v7.3M533 436.3v7.3M586.2 436.3v7.3M608.7 436.3v7.3M559.2 436.3v7.3M547.2 436.3v7.3M592.6 436.3v7.3M665.6 436.3v7.3M543.8 436.3v7.3M618.4 436.3v7.3M627.8 436.3v7.3M640.1 436.3v7.3M594 436.3v7.3M561.7 436.3v7.3M670.1 436.3v7.3M628.2 436.3v7.3M636.9 436.3v7.3M620 436.3v7.3M602.1 436.3v7.3" stroke="#e8674a" stroke-width="1.0" stroke-opacity="0.55"/>
<path d="M545.6 436.3v7.3M641 436.3v7.3M552.7 436.3v7.3M667.5 436.3v7.3M568.1 436.3v7.3M585.2 436.3v7.3M645.1 436.3v7.3M669.3 436.3v7.3M659.9 436.3v7.3M596.5 436.3v7.3M667.9 436.3v7.3M667 436.3v7.3M674.9 436.3v7.3M650.3 436.3v7.3" stroke="#e8674a" stroke-width="0.6" stroke-opacity="0.55"/>
<path d="M595.1 436.3v7.3M621.9 436.3v7.3M607.6 436.3v7.3M532.8 436.3v7.3M555.1 436.3v7.3M669.6 436.3v7.3M593.4 436.3v7.3M635.2 436.3v7.3M657.8 436.3v7.3M629.4 436.3v7.3M539.6 436.3v7.3M640.2 436.3v7.3M597.8 436.3v7.3M633.4 436.3v7.3M548.6 436.3v7.3M585.9 436.3v7.3M598.3 436.3v7.3M601.3 436.3v7.3M660 436.3v7.3M638.6 436.3v7.3M636.6 436.3v7.3M641.6 436.3v7.3M589.9 436.3v7.3" stroke="#e8674a" stroke-width="0.8" stroke-opacity="0.75"/>
<path d="M669.8 436.3v7.3M653 436.3v7.3M645 436.3v7.3M651.5 436.3v7.3M658.1 436.3v7.3M673.6 436.3v7.3M674.5 436.3v7.3M649.8 436.3v7.3M554 436.3v7.3M622.6 436.3v7.3M577.8 436.3v7.3M667 436.3v7.3M545.7 436.3v7.3M645.6 436.3v7.3" stroke="#e8674a" stroke-width="1.3" stroke-opacity="0.95"/>
<path d="M642.5 436.3v7.3M620.9 436.3v7.3M553.9 436.3v7.3M647.6 436.3v7.3M648.7 436.3v7.3M619.8 436.3v7.3M661.1 436.3v7.3M658.7 436.3v7.3M570.7 436.3v7.3M649 436.3v7.3M614.9 436.3v7.3M603.8 436.3v7.3M556.3 436.3v7.3" stroke="#e8674a" stroke-width="1.3" stroke-opacity="0.55"/>
<path d="M607.7 444.3v7.3M670.8 444.3v7.3M602.4 444.3v7.3M634.5 444.3v7.3M598.7 444.3v7.3M648 444.3v7.3M676.8 444.3v7.3M668.4 444.3v7.3M631.3 444.3v7.3M675 444.3v7.3M643.7 444.3v7.3M650.6 444.3v7.3M597.5 444.3v7.3M597.9 444.3v7.3M605.5 444.3v7.3M609.9 444.3v7.3M630.8 444.3v7.3" stroke="#e2c05c" stroke-width="0.8" stroke-opacity="0.55"/>
<path d="M659.9 444.3v7.3M649.9 444.3v7.3M644 444.3v7.3M631.3 444.3v7.3M639.9 444.3v7.3M635.2 444.3v7.3M602.7 444.3v7.3M602.9 444.3v7.3M623.6 444.3v7.3M638.5 444.3v7.3M661.2 444.3v7.3M634.5 444.3v7.3M576.5 444.3v7.3" stroke="#e2c05c" stroke-width="0.6" stroke-opacity="0.75"/>
<path d="M644.2 444.3v7.3M619.5 444.3v7.3M641.1 444.3v7.3M654.7 444.3v7.3M636.5 444.3v7.3M610.5 444.3v7.3M612.6 444.3v7.3M666.1 444.3v7.3M602.9 444.3v7.3M667.3 444.3v7.3M668.3 444.3v7.3M612.4 444.3v7.3M643.6 444.3v7.3M613.5 444.3v7.3M654.6 444.3v7.3M623.7 444.3v7.3M635.2 444.3v7.3" stroke="#e2c05c" stroke-width="0.6" stroke-opacity="0.55"/>
<path d="M634 444.3v7.3M603.9 444.3v7.3M640.9 444.3v7.3M615.1 444.3v7.3M572.2 444.3v7.3M650.8 444.3v7.3M670.6 444.3v7.3M619.2 444.3v7.3M602.3 444.3v7.3M567.5 444.3v7.3M674.2 444.3v7.3M546.8 444.3v7.3" stroke="#e2c05c" stroke-width="1.3" stroke-opacity="0.55"/>
<path d="M616.6 444.3v7.3M646.7 444.3v7.3M664.9 444.3v7.3M643.4 444.3v7.3M659.6 444.3v7.3M668.2 444.3v7.3M635.1 444.3v7.3M641.4 444.3v7.3M647.7 444.3v7.3M604.5 444.3v7.3M641 444.3v7.3M545.1 444.3v7.3M608 444.3v7.3M676 444.3v7.3M657 444.3v7.3" stroke="#e2c05c" stroke-width="1.0" stroke-opacity="0.75"/>
<path d="M608.9 444.3v7.3M669.3 444.3v7.3M671.1 444.3v7.3M546.8 444.3v7.3M611 444.3v7.3M664.4 444.3v7.3M666.7 444.3v7.3M551.2 444.3v7.3M674.5 444.3v7.3M617.3 444.3v7.3M589.2 444.3v7.3M609.4 444.3v7.3M655.6 444.3v7.3M623.4 444.3v7.3M661.3 444.3v7.3" stroke="#e2c05c" stroke-width="1.3" stroke-opacity="0.95"/>
<path d="M571.1 444.3v7.3M550.2 444.3v7.3M638.1 444.3v7.3M608.3 444.3v7.3M623.5 444.3v7.3M656 444.3v7.3M630.4 444.3v7.3M631.1 444.3v7.3M640.7 444.3v7.3M646.3 444.3v7.3M599.9 444.3v7.3M667 444.3v7.3M638.3 444.3v7.3M635.9 444.3v7.3M670.1 444.3v7.3M643.2 444.3v7.3M615.2 444.3v7.3M627.6 444.3v7.3" stroke="#e2c05c" stroke-width="1.0" stroke-opacity="0.55"/>
<path d="M657.7 444.3v7.3M657.7 444.3v7.3M676 444.3v7.3M659.9 444.3v7.3M665.5 444.3v7.3M627 444.3v7.3M599.5 444.3v7.3M674.4 444.3v7.3M603 444.3v7.3M654.5 444.3v7.3M609.1 444.3v7.3M612.7 444.3v7.3M664.2 444.3v7.3M571.2 444.3v7.3" stroke="#e2c05c" stroke-width="1.3" stroke-opacity="0.75"/>
<path d="M667.6 444.3v7.3M665.4 444.3v7.3M667.7 444.3v7.3M617.4 444.3v7.3M624.5 444.3v7.3M656.9 444.3v7.3M658 444.3v7.3M671.5 444.3v7.3M671.8 444.3v7.3M603.3 444.3v7.3M600.2 444.3v7.3M654.1 444.3v7.3M596.1 444.3v7.3M632.6 444.3v7.3M643.4 444.3v7.3M560.9 444.3v7.3M658.8 444.3v7.3M671.5 444.3v7.3M625.5 444.3v7.3" stroke="#e2c05c" stroke-width="1.0" stroke-opacity="0.95"/>
<path d="M676.8 444.3v7.3M673.5 444.3v7.3M556.8 444.3v7.3M626.7 444.3v7.3M610.1 444.3v7.3M613.8 444.3v7.3M611.1 444.3v7.3M657.4 444.3v7.3M621.2 444.3v7.3M632.4 444.3v7.3M647.5 444.3v7.3M612.3 444.3v7.3M627.6 444.3v7.3M674.1 444.3v7.3" stroke="#e2c05c" stroke-width="0.8" stroke-opacity="0.95"/>
<path d="M652.6 444.3v7.3M653.1 444.3v7.3M612.6 444.3v7.3M630.5 444.3v7.3M620.7 444.3v7.3M677.3 444.3v7.3M655.3 444.3v7.3M670.3 444.3v7.3M666.8 444.3v7.3M671.2 444.3v7.3M668.1 444.3v7.3M649.7 444.3v7.3" stroke="#e2c05c" stroke-width="0.8" stroke-opacity="0.75"/>
<path d="M628.3 444.3v7.3M619.4 444.3v7.3M600.9 444.3v7.3M600.4 444.3v7.3M637.3 444.3v7.3M581.1 444.3v7.3M570.3 444.3v7.3M647.4 444.3v7.3M622.5 444.3v7.3M669.1 444.3v7.3M661.1 444.3v7.3M590.7 444.3v7.3M662.5 444.3v7.3M670.6 444.3v7.3" stroke="#e2c05c" stroke-width="0.6" stroke-opacity="0.95"/>
<path d="M610.7 452.2v7.3M616.1 452.2v7.3M613.1 452.2v7.3M660.6 452.2v7.3M638.6 452.2v7.3M670.1 452.2v7.3M620.9 452.2v7.3M631 452.2v7.3M640.1 452.2v7.3M599.4 452.2v7.3M542.1 452.2v7.3M664.5 452.2v7.3M644.1 452.2v7.3M607 452.2v7.3M645.3 452.2v7.3" stroke="#3fb39b" stroke-width="1.0" stroke-opacity="0.55"/>
<path d="M613.4 452.2v7.3M652.2 452.2v7.3M644.4 452.2v7.3M676.7 452.2v7.3M639.8 452.2v7.3M646.8 452.2v7.3M603.5 452.2v7.3M603.7 452.2v7.3M645.8 452.2v7.3M631.1 452.2v7.3M625 452.2v7.3M675.4 452.2v7.3M674.5 452.2v7.3M555.7 452.2v7.3M661 452.2v7.3M635.1 452.2v7.3" stroke="#3fb39b" stroke-width="1.0" stroke-opacity="0.95"/>
<path d="M671 452.2v7.3M629.4 452.2v7.3M637.2 452.2v7.3M576.9 452.2v7.3M555.9 452.2v7.3M626.9 452.2v7.3M543.5 452.2v7.3M662.4 452.2v7.3M667.5 452.2v7.3M657 452.2v7.3M619 452.2v7.3M614.1 452.2v7.3M629.3 452.2v7.3M631 452.2v7.3M661.6 452.2v7.3M620 452.2v7.3M655.2 452.2v7.3M636.1 452.2v7.3M632.1 452.2v7.3" stroke="#3fb39b" stroke-width="1.3" stroke-opacity="0.75"/>
<path d="M637.8 452.2v7.3M647.8 452.2v7.3M635.9 452.2v7.3M642 452.2v7.3M658 452.2v7.3M550.5 452.2v7.3M656.7 452.2v7.3M676.2 452.2v7.3M603.1 452.2v7.3M584.8 452.2v7.3M655.3 452.2v7.3M613.3 452.2v7.3M646.7 452.2v7.3M611.1 452.2v7.3M629.3 452.2v7.3" stroke="#3fb39b" stroke-width="1.3" stroke-opacity="0.55"/>
<path d="M643.2 452.2v7.3M628.6 452.2v7.3M649.7 452.2v7.3M643.2 452.2v7.3M597.2 452.2v7.3M622 452.2v7.3M604.2 452.2v7.3M604 452.2v7.3M660.5 452.2v7.3M626.3 452.2v7.3M613.2 452.2v7.3M677.1 452.2v7.3M552 452.2v7.3M582.1 452.2v7.3M546.6 452.2v7.3" stroke="#3fb39b" stroke-width="0.6" stroke-opacity="0.55"/>
<path d="M601.5 452.2v7.3M672.8 452.2v7.3M676.3 452.2v7.3M572.4 452.2v7.3M549 452.2v7.3M561.4 452.2v7.3M606.9 452.2v7.3M669.1 452.2v7.3M652.9 452.2v7.3M614.3 452.2v7.3M623.5 452.2v7.3M601.6 452.2v7.3" stroke="#3fb39b" stroke-width="1.3" stroke-opacity="0.95"/>
<path d="M606.7 452.2v7.3M651.8 452.2v7.3M641.9 452.2v7.3M643.3 452.2v7.3M652 452.2v7.3M669.1 452.2v7.3M613.9 452.2v7.3M640.2 452.2v7.3M620.9 452.2v7.3M658.3 452.2v7.3M611.9 452.2v7.3M676.3 452.2v7.3M638 452.2v7.3M542.8 452.2v7.3M580.7 452.2v7.3" stroke="#3fb39b" stroke-width="0.8" stroke-opacity="0.75"/>
<path d="M618.9 452.2v7.3M633.1 452.2v7.3M655.2 452.2v7.3M616.4 452.2v7.3M597.7 452.2v7.3M614.2 452.2v7.3M630.7 452.2v7.3M646.7 452.2v7.3M638.4 452.2v7.3M650.5 452.2v7.3M659.9 452.2v7.3M657.2 452.2v7.3" stroke="#3fb39b" stroke-width="0.6" stroke-opacity="0.75"/>
<path d="M605.5 452.2v7.3M644 452.2v7.3M625.3 452.2v7.3M539 452.2v7.3M617.7 452.2v7.3M602.5 452.2v7.3M605.4 452.2v7.3M620 452.2v7.3M644.2 452.2v7.3M659.9 452.2v7.3M650.6 452.2v7.3M666.8 452.2v7.3M580.2 452.2v7.3M630.7 452.2v7.3" stroke="#3fb39b" stroke-width="0.8" stroke-opacity="0.95"/>
<path d="M629.5 452.2v7.3M663.8 452.2v7.3M654.9 452.2v7.3M640.5 452.2v7.3M625.7 452.2v7.3M640.3 452.2v7.3M556.9 452.2v7.3M599.1 452.2v7.3M628.3 452.2v7.3M647.8 452.2v7.3M646.2 452.2v7.3M607.3 452.2v7.3" stroke="#3fb39b" stroke-width="0.8" stroke-opacity="0.55"/>
<path d="M657.8 452.2v7.3M641 452.2v7.3M644.4 452.2v7.3M633.2 452.2v7.3M650.6 452.2v7.3M613.4 452.2v7.3M666 452.2v7.3M656.8 452.2v7.3M663.2 452.2v7.3M628.2 452.2v7.3M558.7 452.2v7.3M583.1 452.2v7.3M607.3 452.2v7.3" stroke="#3fb39b" stroke-width="0.6" stroke-opacity="0.95"/>
<path d="M610.2 452.2v7.3M654.2 452.2v7.3M661.9 452.2v7.3M612.1 452.2v7.3M569.1 452.2v7.3M675.5 452.2v7.3M649.3 452.2v7.3M549.3 452.2v7.3M664.1 452.2v7.3M655.8 452.2v7.3M599.2 452.2v7.3M674.6 452.2v7.3" stroke="#3fb39b" stroke-width="1.0" stroke-opacity="0.75"/>
<rect x="529" y="314.9" width="148" height="144.9" fill="none" stroke="#111" stroke-width="1.6"/>
<line x1="529" y1="420.2" x2="677" y2="420.2" stroke="#111" stroke-width="1.4"/>
<line x1="526" y1="329.1" x2="529" y2="329.1" stroke="#111" stroke-width="1"/>
<text x="525" y="332.1" font-size="9" text-anchor="end">0.0</text>
<line x1="526" y1="357.3" x2="529" y2="357.3" stroke="#111" stroke-width="1"/>
<text x="525" y="360.3" font-size="9" text-anchor="end">-0.2</text>
<line x1="526" y1="385.5" x2="529" y2="385.5" stroke="#111" stroke-width="1"/>
<text x="525" y="388.5" font-size="9" text-anchor="end">-0.4</text>
<line x1="526" y1="413.7" x2="529" y2="413.7" stroke="#111" stroke-width="1"/>
<text x="525" y="416.7" font-size="9" text-anchor="end">-0.6</text>
<text x="529.3" y="312.6" font-size="12">Mat. Neu</text>
<text x="626" y="312.6" font-size="12">Imm. Neu</text>
<line x1="583" y1="309.5" x2="621" y2="309.5" stroke="#111" stroke-width="0.9"/>
<path d="M579.5 309.5 L584.5 307.3 L584.5 311.7Z M624.5 309.5 L619.5 307.3 L619.5 311.7Z" fill="#111"/>
<line x1="557.7" y1="460" x2="557.7" y2="463" stroke="#111" stroke-width="1"/>
<text x="552.1" y="471.3" font-size="9" text-anchor="middle">2500</text>
<line x1="612.6" y1="460" x2="612.6" y2="463" stroke="#111" stroke-width="1"/>
<text x="608.4" y="471.3" font-size="9" text-anchor="middle">7500</text>
<line x1="668.7" y1="460" x2="668.7" y2="463" stroke="#111" stroke-width="1"/>
<text x="658.6" y="471.3" font-size="9" text-anchor="middle">12500</text>
<text x="604" y="482" font-size="12" text-anchor="middle">Gene bank</text>
<text x="507.5" y="389.3" font-size="12.1" text-anchor="middle" transform="rotate(-90 507.5 389.3)">Running enrichment score</text>
<text x="2.5" y="510.3" font-size="14" font-weight="bold" fill="#000">G</text>
<path d="M177.6 529.1h0M205.2 525.5h0M146.9 544.3h0M167.6 525.8h0M197 532.9h0M210.1 538.7h0M178.8 547.9h0M135.7 551.3h0M184.7 531.8h0M171.7 528.7h0M210.8 537.7h0M143.9 536.8h0M212.6 531.1h0M161.1 535.6h0M180.4 532.9h0M194.4 542.8h0M184.9 529.3h0M182.2 540.7h0M201.9 526h0M188 546.3h0M175 545.7h0M146.4 532h0M177.3 534.6h0M159.9 535.8h0M211.3 534.3h0M191.1 522.9h0M193.7 534.1h0M166.7 555.6h0M169 536.7h0M180.2 536h0M160.6 538.6h0M191.8 537.2h0M206.7 529.1h0M145 550.2h0M183.6 532.8h0M183.3 538h0M203.3 543.2h0M216.6 541.4h0M206.4 536.5h0M198.6 536.7h0M147.3 538.6h0M180.3 532.6h0M200.3 524.5h0M190.8 536h0M144.1 534.5h0M174.1 531.9h0M168.8 521.3h0M158.5 541.6h0M203.8 540.2h0M141.9 546.4h0M145.6 543.4h0M215.6 538.7h0M197.3 528.1h0M192.1 533.5h0M165 544.2h0M169.9 524.6h0M202.8 535.2h0M173.9 538.1h0M159.8 525.6h0M155.9 538.8h0M145 546.4h0M163 538.2h0M206.5 535.8h0M182.3 533.4h0M171.9 531.5h0M150.7 539.9h0M183.4 522.5h0M184.2 538.9h0M163.1 524.3h0M173.9 542.7h0M139.7 547.7h0M152.6 530.7h0M143.2 536.2h0M158.9 552.3h0M149.8 529.8h0M205 541.8h0M190.9 528.5h0M167.7 532.5h0M183.3 526h0M176.9 536.8h0M189.4 523.2h0M137.1 542.7h0M216 535.1h0M159.8 527.2h0M167.2 549.8h0M191.5 535.4h0M211.3 539.1h0M152.5 551.7h0M181.6 543.1h0M170.2 532h0M163 534.7h0M182.6 530.7h0M159.5 548.4h0M202.7 544.1h0M184.6 535.1h0M170.3 526.3h0M191.1 534.9h0M153.8 531.5h0M172.8 536.4h0M178.3 523.1h0M148.1 544.2h0M153.2 534.4h0M184.5 534.4h0M189.5 534.4h0M161.5 523.8h0M169.5 530.9h0M187.5 531.1h0M212.9 540.3h0M173.1 528.8h0M205.2 533.8h0M157.3 537.8h0M182.1 521.2h0M177.9 522.5h0M181.2 521.2h0M206.4 536.8h0M136.2 550.6h0M173.2 530.1h0M160.6 546.3h0M149.7 537.8h0M173.9 529.9h0M168.7 550.8h0M144.3 545.4h0M168.3 538.6h0M186.9 529.8h0M202 524.5h0M205.7 536.2h0M139.2 539.5h0M169.9 533.2h0M146.8 533.4h0M186.6 527.5h0M192.2 534.9h0M137.7 543.1h0M197.6 522.8h0M145.2 549.9h0M177.3 525.4h0M166.8 522.2h0M179.7 547.2h0M185.6 546.2h0M161.3 523.4h0M167.3 555.5h0M144.8 550.6h0M188.2 521h0M158.2 535.7h0M181.1 523.3h0M186.5 530.9h0M222 538.1h0M184.5 536.9h0M173.8 527.6h0M221.3 538.1h0M180.5 530.6h0M190.3 524.5h0M199 523.3h0M157.4 533.6h0M201 524h0M165 555h0M183.8 538.6h0M169.8 545.4h0M180.9 536.8h0M202.4 534.3h0M178.3 540.4h0M161.9 548.9h0M154.2 535.5h0M175.2 526.8h0M168 522.9h0M167.7 524.9h0M173.6 523.3h0M190.5 541h0M140.6 541h0M195.9 543.4h0M201.9 535.7h0M162.8 546.8h0M182.3 522.4h0M177.7 537.2h0M159.9 537.4h0M196.7 529h0M165.8 527.6h0M176.9 523h0M155.2 530.7h0M210.4 539.6h0M191.2 535.6h0M162.5 534h0M188.9 526.2h0M192.3 530.7h0M149 532.6h0M178.1 532.1h0M176.6 530.4h0M171.4 529.5h0M174.7 544.2h0M206.4 531.6h0M159.4 540.6h0M207.3 528.1h0M163 529.2h0M157.7 525.9h0M200.9 539.1h0M218.8 541.8h0M187.3 530.6h0M158.2 537.8h0M203.2 543.3h0M170.5 532h0M161.5 525.1h0M188.4 528.4h0M162.1 528.4h0M195.8 543h0M177.3 541.4h0M203 533.2h0M195 531.8h0M146.4 537.3h0M180.4 531.1h0M159.1 525.6h0M160.1 555.7h0M158 538.7h0M195.6 532.6h0M199.5 528.5h0M191.7 521.5h0M155.1 539.2h0M163.6 539.5h0M217.4 538.5h0M158.1 533.9h0M166.9 529.2h0M192.5 538.6h0M182.7 530h0M173.7 540.3h0M156.7 536.3h0M196.5 540.4h0M145.2 535.6h0M196.7 532.8h0M163.2 539.2h0M213.3 538.8h0M187.8 530.9h0M153.4 528.6h0M182.5 526.4h0M166.3 533.1h0M154.9 540.2h0M173.8 527h0M166.4 535.9h0M206.7 539.2h0M154.6 545.2h0M161.7 531.4h0M200.2 526.9h0M197.9 532.5h0M196.5 533.7h0M200 524.7h0M164 529.9h0M180.2 536.3h0M202 533.3h0M205 534.9h0M204.6 527.8h0M198.8 530.2h0M155.2 549h0M188 531.4h0M192.4 535.7h0M197.5 534.9h0M149.8 533.7h0M170.2 524.1h0M166.1 528.9h0M197.3 529.9h0M188.9 525.1h0M157.9 539.2h0M186 546.7h0M169 523.7h0M200 538.3h0M152.3 548.9h0M178.1 547h0M189.3 527.4h0M158.4 533.1h0M198.7 526.6h0M165.2 525.8h0M182.6 530.9h0M174.8 522.1h0M157.7 550.7h0M177.2 541.2h0M199.8 536.6h0M159 536.1h0M207.5 537.9h0M147.4 549.5h0M149.5 544.4h0M201.9 530h0M155.7 529.2h0M190.6 530.4h0M181.2 525.6h0M150.4 541.2h0M193.7 532.5h0M192.6 541.7h0M177.8 535.7h0M215.7 534.3h0M186.3 546.4h0M147.5 546.9h0M179.7 537.5h0M202.7 534.2h0M153.3 548h0M194.5 521.6h0M220.2 539.5h0M197.5 536.6h0M201.5 536.6h0M170.8 538.1h0M140.6 544.6h0M157.1 551.7h0M198.9 529.9h0M191.2 534.1h0M169 551h0M210.6 531.2h0M164.6 524.2h0M162.4 539.4h0M153.6 535.3h0M147.4 543.8h0M196.3 530.3h0M165.5 554.7h0M165.8 525.2h0M160.2 531.7h0M194.1 540h0M203.9 525h0M156.8 527.1h0M203.9 540.8h0M183 520.3h0M152.4 539.1h0M167 543.6h0M171.8 522h0M166 547.5h0M161.3 548.6h0M184.8 533.2h0M174.5 528.7h0M164.8 524.1h0M217.1 536.2h0M173.9 539.8h0M163.3 523.8h0M214.5 533.1h0M152.4 538.7h0M181.2 526.9h0M159.2 527.7h0M179.1 520.3h0M223.4 539.9h0M171.7 542.8h0M166.4 545.2h0M179.1 539.2h0M146.9 551.5h0M153.5 528.7h0M177.8 520.1h0M178 540.8h0M177.1 528.7h0M141.4 537h0M173.8 526.6h0M211.5 536.6h0M171.2 526.7h0M161.2 529.9h0M165 525.2h0M136.5 549h0M158.5 529.8h0M157.7 532.9h0M199.5 542.2h0M170.9 521.5h0M210.7 534.9h0M149.6 548.2h0M169.8 550.7h0M216.4 539.9h0M171.9 521.8h0M149.5 531.4h0M140.6 539.2h0M215.4 540.9h0M156.3 539.1h0M199.1 532.9h0M152.4 540.4h0M207.1 526.8h0M184.3 528.4h0M184.7 532.7h0M161.1 542h0M221.1 540h0M163.4 530.4h0M154.8 526.5h0M184.9 539.8h0M200.5 527.7h0M193.7 532h0M174.6 548.2h0M186.2 526.7h0M150.8 533h0M163 549.2h0M207.4 540.4h0M215.3 539.7h0M190.9 524.5h0M215.1 542.2h0M207.8 537.2h0M185.4 541.1h0M142.8 544.8h0M177.4 529.7h0M191.3 527.1h0M154.3 527h0M211.5 542.7h0M199 528.7h0M192.7 531h0M171.5 542.6h0M143.3 539.6h0M211.6 529.5h0M176.7 539.9h0M188 543.7h0M166.6 531.3h0M164.9 544.2h0M195.4 538.5h0M181.2 539.4h0M173.2 525.3h0M192.4 541.4h0M198.1 536h0M155.8 543.9h0M188.6 522.5h0M169.6 543.8h0M184 529.9h0M151.6 534.5h0M181.1 523.1h0M197.6 544.5h0M150 544.4h0M167.5 550.1h0M167.7 528.8h0M163.9 524.6h0M164.9 543.9h0M179.2 538.6h0M169.2 526.3h0M187.1 543.3h0M216.9 535.3h0M202.6 534.3h0M152.5 546.8h0M164.5 545.2h0M163.4 540.4h0M172.4 534.7h0M194.1 533.5h0M172.7 523.8h0M168.1 540.4h0M188.6 539.1h0M175.8 540.3h0M199.3 528.5h0M170.2 543.9h0M158.2 552.8h0M188.4 540.9h0M155.9 551h0M157.5 539.7h0M195.6 530.8h0M146.6 532.1h0M185.5 539.3h0M217.9 538.4h0M150.2 548.5h0M208.3 535h0M184.3 527h0M165 532.9h0M220.9 537h0M182.1 523.3h0M200.3 538.5h0M206.6 533.2h0M194.6 523h0M176.5 520.8h0M137.4 542.1h0M193.3 533.4h0M186.8 540.9h0M197.6 523.1h0M196 527h0M182.5 530.1h0M181.6 544.4h0M166.1 544h0M182.6 530.8h0M192.1 534.4h0M190.1 544.6h0M153.5 528.6h0M198.3 537.3h0M146.9 547.3h0M174.9 525.5h0M203.3 529.2h0M183.1 522h0M158.1 526.9h0M205.2 530.2h0M210.6 531.9h0M186.6 534h0M176.6 541.2h0M153.6 536.2h0M175.9 533h0M153.7 533.7h0M180.2 522.8h0M178.8 523.5h0M177.5 522h0M146.9 531.5h0M143.2 550.4h0M163.1 527.4h0M141 542.6h0M196.1 523.3h0M149.5 532.3h0M164.5 525.5h0M203.4 526.5h0M165.6 543.4h0M198.6 533.4h0M200.6 527.9h0M174.6 529h0M170.9 546.4h0M165.1 532.3h0M173.5 549.6h0M195 527.6h0M175.8 528.5h0M154.5 533.8h0M202.8 538.8h0M199.4 529.9h0M185.6 522.8h0M197.2 523.6h0M202.8 530.4h0M147.6 540h0M205.1 543.2h0M203.6 537.5h0M169.3 525.8h0M192.6 526.2h0M162.9 531.8h0M174.1 523.8h0M141 543.5h0M188.6 525.8h0M159.3 544.2h0M181.9 532.3h0M207.2 539.1h0M181.8 520.7h0M174.7 545.8h0M208.1 529.3h0M181.1 525.8h0M171.3 540.7h0M180.2 538.8h0M201.9 539.9h0M203.4 537.2h0M162 548.1h0M193 526.1h0M176.4 539.3h0M181.2 543.8h0M207 532.5h0M214.6 531.9h0M192.9 533h0M210.5 529h0M196.3 528.7h0M189.6 520.7h0M189.6 523.2h0M172 524.7h0M158.6 527.8h0M173.8 525.3h0M149.7 537h0M160.3 537.9h0M164.8 527.1h0M177.9 536.4h0M147.8 530.8h0M154.3 529.3h0M193.5 523.2h0M217.6 536.1h0M178.1 549.3h0M161.7 529.7h0M168.7 541.4h0M217.9 537.7h0M164.5 542.2h0M167.5 542.1h0M208.8 530.6h0M163.7 529.8h0M150.1 529.7h0M177.4 523.4h0M158.2 533.4h0M192.3 525.8h0M188.7 537.3h0M189.1 541.4h0M158.6 532.2h0M172.8 527.5h0M146.1 548.7h0M165.9 533.1h0M194.5 538.6h0M167.2 534h0M148.8 538.6h0M181.4 539.3h0M163.3 551.8h0M180.7 538.4h0M193.3 526.9h0M156.8 536.9h0M191.5 531.9h0M186.6 546.4h0M169.3 529.7h0M203.2 541.1h0M137.6 542.2h0M198.9 526.1h0M179.6 528.3h0M186.5 531.4h0M157.1 544.6h0M147 535.1h0M170.2 521.3h0M178.8 530.8h0M162 528.6h0M171.6 529.2h0M180.1 530h0M146.3 544.8h0M167.4 534.5h0M196.8 532.8h0M194.8 539.3h0M175 526h0M200.8 532.3h0M175 536h0M167.7 523.5h0M200.6 533.9h0M174.9 539h0M169.8 524.3h0M184 534.2h0M197.6 536.8h0M153.6 530.1h0M154.6 544.1h0M162.8 533h0M167.2 527.7h0M204.5 541.3h0M176.5 529.4h0M183.6 538.2h0M178.1 524.4h0M197.7 543.8h0M197.3 524.6h0M141.3 537.3h0M191.9 531.7h0M178.5 538.8h0M191.3 538.6h0M155.2 537.2h0M186.6 534.9h0M191 530.1h0M178.2 524.3h0M180.4 548.6h0M198 532.1h0M181.6 521.7h0M184.3 545.9h0M219.7 535.7h0M152 529.2h0M211.8 531.4h0M178.9 541.3h0M145.3 551.9h0M166.3 541.2h0M203.3 532.9h0M162.4 538.3h0M201.2 524.2h0M210 539.9h0M191.1 538.9h0M152.8 536.6h0M139.5 549.4h0M158.1 537.5h0M153.9 537.4h0M189.8 522.3h0M151.5 532.4h0M165.8 549.4h0M188.2 541.5h0M185.1 539.4h0M204.2 532.5h0M168.7 536.1h0M185.2 545.2h0M144.8 533.3h0M177.5 550h0M198.7 523.4h0M154 546.3h0M174.9 521h0M192.7 523.4h0M165.6 531.7h0M188.7 532.4h0M173.6 526h0M188.9 534.1h0M209.1 528.2h0M206.1 539.7h0M190.8 521.2h0M203.4 525.4h0M211.9 539.8h0M187.8 523.3h0M203.5 531.9h0M169.8 528h0M185.7 532.8h0M169.4 543.8h0M174.1 525.6h0M190.6 533h0M182.9 525h0M166.9 542.9h0M217.9 534.7h0M168.9 542.5h0M164.8 524.8h0M181.3 528.9h0M181.2 537.2h0M209.4 534.9h0M181.1 522.7h0M184.6 540h0M181 521.3h0M163.5 531.6h0M193.1 535.4h0M168.7 526.3h0M146.5 537.6h0M214.6 536h0M174.2 539h0M156.5 534.1h0M153.4 541.5h0M148.5 546.2h0M170.6 530.1h0M167.1 526.4h0M217.1 535.1h0M214.5 537.9h0M184.6 545.6h0M188.2 521.1h0M202.8 532h0M212.1 537.2h0M173.5 534.3h0M155.9 537.1h0M162.1 537.4h0M164.8 529.2h0M148.7 531h0M193.7 538.4h0M181.9 545.8h0M169.3 552.3h0M194 545.3h0M136.1 546.8h0M171.6 550.9h0M198.4 532.3h0M190.8 526.1h0M162.9 525h0M200.3 524.3h0M168.6 541.3h0M199.3 533.1h0M149.8 550.3h0M168 550.1h0M196.3 525.3h0M161.7 551.2h0M184.1 532.3h0M191.2 537.4h0M165.6 535.7h0M206 528.6h0M165 554.3h0M195.5 524.6h0M148.8 552.9h0M167 535h0M198.3 531.6h0M219.3 541.8h0M153.9 529.6h0M195 539.7h0M161.4 529.4h0M186.4 529.8h0M221 537.6h0M183 529.9h0M179.7 547.7h0M173.9 545.7h0M219.1 535.2h0M140.5 546.2h0M196.8 525.1h0M177.8 520.8h0M157.1 540.1h0M198.2 539.8h0M201.8 533.3h0M168.3 523.3h0M159.7 527h0M157.3 551.9h0M156.8 548.1h0M186.8 528.2h0M205.1 533.3h0M166.9 549.4h0M196 533.6h0M212 530.7h0M157 552.1h0M195.5 522h0M142 540.7h0M192.9 525.2h0M210.6 542.5h0M215.7 536.8h0M198.1 532h0M153.2 537.5h0M184.5 531h0M179.6 527.2h0M176 548.1h0M213.8 542.6h0M148.9 542.1h0M185.9 524.1h0M184.7 546.2h0M213.9 538.5h0M176.1 540.4h0M214.5 537.6h0M172.4 526.9h0M152.6 544.4h0M151.4 535.1h0M167.7 537.2h0M176.4 522.7h0M212 529.5h0M163 553.7h0M143.3 537.1h0M168.8 538.5h0M181.3 530.4h0M169.8 522.6h0M169.1 539.2h0M157.2 544.6h0M178.8 523.7h0M135.8 548.6h0M217 538.2h0M142.2 542h0M192.7 544.9h0M220.5 540.8h0M173 520.7h0M161.4 528.2h0M187.5 522.1h0M146.9 532.3h0M161.9 527.4h0M193 534.5h0M181.9 534.7h0M190.8 532.9h0M188.4 530h0M190.3 524.9h0M158.6 537.6h0M156.6 537.2h0M172.8 523h0M214.9 534.8h0M172.1 540.8h0M181.5 526.6h0M178 539h0M153.3 550.1h0M186.8 526h0M182.1 526.9h0M214.7 540.2h0M208.2 534.1h0M170.8 534.3h0M184.6 524.5h0M180.3 539.9h0M137 550.5h0M209.2 531h0M134.7 546.8h0M163.2 547.7h0M199.6 536.8h0M181.3 525.2h0M205.7 538.3h0M166 550.7h0M187.1 529.6h0M150 535.6h0M191.2 522.3h0M143.6 545.7h0M172.8 533.1h0M193.1 530h0M146.4 536.4h0M161.7 526.4h0M213.4 530.3h0M148.8 541h0M188.9 522.4h0M222.1 538.4h0M173 524.3h0M170.7 522.7h0M179.4 525.5h0M201.6 532.9h0M173.8 531.3h0M146 534.9h0M164.9 549.6h0M136.3 549.3h0M175.9 534.4h0M202.9 528.8h0M163.4 554h0M174.7 526.2h0M141.2 549.3h0M140.9 549.1h0M206.8 533.9h0M208 542.2h0M206.7 535.1h0M179.7 545.4h0M147 551.6h0M189.8 539h0M188.4 543.1h0M171.3 530.8h0M158 526.5h0M185.9 530.3h0M137.9 548.2h0M153 540.2h0M193.2 525.9h0M149.7 541.4h0M149.8 545.3h0M184.4 532.6h0M140.2 546.1h0M159 528.3h0M185.7 544h0M209 539.5h0M166.1 525.6h0M194.7 532.7h0M161.4 536.3h0M206.5 531.2h0M174.1 529.2h0M153.3 530.2h0M154.6 536.3h0M204.5 529.6h0M159 542.8h0M147.5 546.5h0M213.8 532.2h0M168.2 525.6h0M148.7 547.7h0M190.1 539.9h0M162.9 525.3h0M183.5 526.5h0M189.7 541.4h0M159.3 554.6h0M176 541.8h0M150.5 537.3h0M186.8 527.5h0M183.6 533.6h0M214.1 537.3h0M179.8 547.4h0M140.2 544.3h0M180.2 535.4h0M175.8 528.6h0M189.7 545.6h0M156.4 553.8h0M197.5 529.1h0M172.3 541.7h0M180.5 523h0M193.6 542.8h0M145.2 538.8h0M179.3 520.5h0M201.6 531.7h0M207.8 538.4h0M143.1 540.8h0M195.1 532.8h0M192 544.2h0M194.6 533.7h0M202.5 526.8h0M151.9 550.7h0M183.5 538.8h0M174.1 532.9h0M198.1 537.7h0M172.7 547.9h0M181.2 529.7h0M186.6 542.8h0M199.4 539.2h0M182.2 536.2h0M151.4 529h0M207.4 530.1h0M166.2 530.3h0M201.7 542.5h0M182.3 543.9h0M191.3 531.5h0M210.9 534h0M182.6 537.1h0M163.6 552.3h0M200 535h0M182.3 528.2h0M188.8 542.6h0M216.6 535.3h0M157.8 554.6h0M169.3 550.9h0M184.7 536h0M183.1 530.9h0M184.5 525.8h0M168.2 522.8h0M201.7 535.4h0M169 553.3h0M160.4 554.3h0M181.2 530.3h0M156 532.6h0M183.8 521.5h0M141.4 546.7h0M175.9 541.6h0M195.7 535.6h0M166 538.4h0M186.5 538h0M200.5 530h0M208 528.1h0M208.9 541.5h0M174.1 529.4h0M186.3 525h0M201 531.7h0M150.4 535.8h0M177.8 528.1h0M179.3 531.2h0M163.6 545.9h0M195.4 527.1h0M163.6 525.5h0M209.9 535.7h0M158.3 534.2h0M168.5 548.3h0M178.1 522.8h0M210.9 531.8h0M202.1 532.4h0M149.5 538.5h0M173.5 523.9h0M201.2 525.4h0M154.1 529.5h0M189.5 545.1h0M179.9 522.5h0M205.7 541.6h0M181.4 542.1h0M168.5 537h0M200.1 532.1h0M204.7 528.8h0M155.8 532.1h0M211.4 541.7h0M206.8 530.3h0M185 521.8h0M179.6 534.3h0M159 528.4h0M152.2 538.1h0M149.6 533.8h0M192.8 544.4h0M181.8 544.8h0M204.6 532.1h0M140.2 550.2h0M175.8 524.7h0M172.8 548.8h0M199.8 524.8h0M170.8 537.2h0M153.9 545h0M144.1 544.4h0M141.2 537.7h0M158.2 528.5h0M182.6 527.9h0M199 532.9h0M204.7 532h0M198 532.3h0M188.3 530.6h0M171.5 535.6h0M185.1 532.8h0M174.7 535.9h0M176.9 533.1h0M206.1 527.8h0M176.7 531.1h0M166.2 545.6h0M144.7 548h0M189.2 520.8h0M157.3 548.3h0M171.1 529.7h0M146 532.6h0M202.2 531.5h0M205.8 525.9h0M156.1 534.8h0M178.3 545.2h0M168.8 530.6h0M209.1 535.3h0M145.4 551.3h0M172.9 552.6h0M147.7 537.8h0M160.3 524h0M166.3 534.1h0M164.7 537h0M161.5 533.4h0M178.7 541.5h0M195 525.5h0M154.8 527.4h0M184.5 534.6h0M179.8 533.3h0M189.1 531.4h0M161.9 556h0M188.1 523h0M169.7 531.1h0M217.5 541.7h0M164.1 529.4h0M204.7 537.6h0M181.8 526.6h0M177.3 525.3h0M181.3 533.8h0M172.3 534.6h0M217.7 541.8h0M173.3 529.4h0M162.9 545.3h0M195.2 528.4h0M210.7 535.7h0M182.1 537.7h0M184.1 526.6h0M189.6 523.4h0M142.3 538.1h0M182.2 545.1h0M166.3 548.8h0M214.8 531.8h0M205.2 534.3h0M160.7 528.4h0M169.5 532.7h0M136.8 551.7h0M186.8 535h0M152.1 536.2h0M192.5 526.6h0M168.6 526.7h0M199.6 523.3h0M184.9 545.8h0M146.4 534.2h0M152.1 550.5h0M140.6 540.8h0M146.5 546.2h0M155.5 533h0M169.4 545h0M172.6 527.4h0M153.3 536.4h0M171.2 537.7h0M172.2 549.3h0M137.9 544.1h0M164.4 549.6h0M200.2 529.7h0M147.3 541.6h0M214.3 537.3h0M189.7 530.5h0M213 531.9h0M193.7 523.1h0M184.9 543.8h0M155.6 544h0M170.1 543.1h0M198 537.4h0M214.3 532.4h0M163.3 525.9h0M207.5 531.4h0M154.3 542.1h0M147 548.3h0M196.2 536.9h0M177 527.9h0M166.4 525.5h0M160.6 534.6h0M216.1 537.3h0M170.9 524.2h0M155.2 548.8h0M163.8 542.9h0M193 532.7h0M145.5 544.3h0M173.4 525.8h0M164.1 548.3h0M159.6 543.1h0M135 550.3h0M163.7 526h0M201.6 539.8h0M206.1 531.1h0M217.5 536.1h0M169.9 528.4h0M152 536.9h0M167.1 527.3h0M161.1 528h0M147.6 536.1h0M207 537.2h0M192.6 542h0M210 530.7h0M149.1 541.1h0M186.7 521.3h0M154.2 547.6h0M196.1 533.5h0M166.4 550.1h0M194.6 534.9h0M167.9 522.5h0M184.4 532.3h0M146 538.8h0M216.8 541h0M180.4 542.6h0M181.8 524.7h0M206.1 528.4h0M212.6 542.3h0M165.4 533h0M167.7 541.4h0M157 549.2h0M200.8 543.4h0M189 536.8h0M211.2 537.3h0M137.9 544.3h0M203.2 536.9h0M188.5 537.2h0M136.3 547.7h0M155.8 547.6h0M136.1 549.7h0M183.8 545h0M179.9 545.2h0M154.8 552.5h0M187.4 531.9h0M181.3 540.9h0M163.5 544.1h0M212.6 540.3h0M209.4 535.7h0M155.6 534.1h0M206 536h0M155.5 536.3h0M160.2 545.4h0M150.3 546.7h0M167.2 543h0M164.5 548.3h0M208.8 535.7h0M183.3 533.8h0M153.9 545.5h0M197.4 536.6h0M166.6 533.4h0M146.2 540h0M168.8 532.6h0M215.8 536.7h0M184 546.4h0M205 535.3h0M199.1 542.5h0M149.6 534.8h0M199.1 535.9h0M214.2 542.1h0M158.5 527.7h0M185.2 522.1h0M194.2 535.2h0M160.8 534.1h0M189.4 525.8h0M181.4 540.2h0M191.8 536.4h0M189.3 531.1h0M159.8 537.7h0M170.7 544.6h0M180.2 525.9h0M175.4 522.3h0M175.4 527.7h0M204.8 538.7h0M182.1 531.3h0M156.2 526.8h0M203.8 525.1h0M160.2 537.8h0M141.3 537.9h0M175.9 542.7h0M162.4 547h0M195.6 539.2h0M166.8 525h0M193.9 531.2h0M183.1 522.8h0M203.5 525.3h0M192.4 524.7h0M186 523h0M208.1 536.7h0M153.9 553.3h0M148 546.8h0M150.7 545.3h0M193.9 530.7h0M177.9 520.3h0M197.1 537.1h0M184.6 525.8h0M172 522.6h0M199 523.4h0M161.8 528.3h0M170.6 544.2h0M160.6 524.8h0M219.7 538.7h0M182.3 531.8h0M163.5 533.9h0M202.5 531.6h0M162.4 530.9h0M179.4 527h0M184.7 524.1h0M177.8 550.3h0M183.4 534.6h0M137.4 551.3h0M146.5 550.2h0M163.3 533.5h0M185.8 530h0M153 529.1h0M158.3 534.9h0M172 538.4h0M156.9 542.1h0M207.8 541.2h0M198.3 526.6h0M167.9 530.6h0M174.4 531h0M216.3 536.6h0M142.2 540.7h0M149.6 548.3h0M172.8 546.2h0M174.2 533.1h0M160.5 529.8h0M195.6 528.9h0M159.4 552.3h0M180.6 534.8h0M160.4 528.5h0M148.5 544.3h0M187.4 530.8h0M163.2 537.1h0M164.6 541.4h0M158.4 536.7h0M151.6 534.8h0M196.9 531.3h0M200.7 534.4h0M164.9 535.7h0M156 545.8h0M143.1 548.7h0M154.1 552.3h0M180.3 528h0M158 529.6h0M141.9 536.4h0M186.1 530.3h0M199.1 527.3h0M199.2 523.8h0M178.9 529.2h0M162.6 528.6h0M156.3 532h0M177.4 524h0M205.1 542.7h0M188.3 535h0M190.1 528.3h0M177 542.1h0M207.1 540.5h0M188.2 522.3h0M168.5 532.7h0M169.4 537.7h0M155.2 549h0M168.3 544.4h0M141.2 541.8h0M158.8 551.9h0M172.3 550.9h0M209.7 529.5h0M141 543.4h0M166.1 523.5h0M153.8 530.7h0M162.6 527.8h0M196.3 537.6h0M175.4 542.7h0M188.2 522.4h0M157.4 531.2h0M150.4 533.6h0M203.6 525.3h0M178.1 532.3h0M157.9 526h0M193.3 532.2h0M159 550.3h0M150.3 539.9h0M135.1 548.1h0M177.4 525.2h0M208.3 528.9h0M183.1 532.7h0M174.1 526h0M143.1 547.1h0M172.7 526h0M148 552.7h0M209.3 533.2h0M200 525h0M171.6 529h0M177.5 535.6h0M166.5 523.9h0M194.5 531.4h0M183.3 531.3h0M157.8 527.9h0M139.6 551h0M149.2 538.9h0M164.8 523.5h0M205 532.8h0M176.7 534h0M208 535.1h0M211.4 533.2h0M164.5 527.5h0M167.6 529.7h0M159.3 529.4h0M194.8 533.7h0M167.7 554.8h0M168.2 542.5h0M177.9 537.8h0M214.5 536h0M205 533.5h0M169.7 539.1h0M170.6 550.2h0M168.3 549.1h0M183.3 523.2h0M169 537h0M185.5 525.1h0M180.2 530.5h0M149.5 544h0M212.9 538.8h0M181.3 520.3h0M171.6 527.7h0M176.1 523.8h0M194.8 541.8h0M139.4 551.2h0M150.6 532.6h0M195 525.5h0M173.2 538h0M206.5 535h0M136.1 551.7h0M178.7 523.9h0M161.8 550.1h0M190.4 536.1h0M150 548.3h0M134.1 553h0M175.1 527.5h0M193.1 526.9h0M169.4 548.5h0M174.9 522.6h0M172.9 529.4h0M194.5 525.7h0M134.9 550.8h0M213.9 531.8h0M188.1 524.8h0M161.4 533.1h0M195 532.4h0M161.7 552.3h0M151.4 547.6h0M185.4 537.7h0M179.5 549h0M206.3 528.1h0M180.5 543.5h0M172.4 522.2h0M179.4 522.3h0M207.3 540.8h0M160.5 546.7h0M185.4 523.2h0M186.3 530.9h0M181.9 526.5h0M167.1 533.1h0M176.7 529.6h0M191.8 539.3h0M178.4 539.8h0M144.7 546.8h0M135.6 552h0M174 534.7h0M138.2 542.7h0M174.1 528.2h0M166.5 534.5h0M164.5 546.7h0M175.9 549.3h0M183.4 523.7h0M191.3 535.3h0M199.8 528.1h0M138.9 543.7h0M167.2 539.7h0M162.7 553h0M189 527.6h0M170.5 524h0M222.2 538.9h0M149.4 540.9h0M160.6 534.8h0M162.2 539.8h0M187.2 530.6h0M201.8 539.3h0M206.1 527h0M143.6 537.1h0M208.7 528.7h0M190.2 521.5h0M180.7 527.4h0M178.2 520.4h0M195 523.9h0M164.7 526.2h0M198.4 534.9h0M200.4 533.1h0M186.3 546.6h0M169.4 543.5h0M191 539.5h0M168.1 533.5h0M175.4 531.2h0M174.7 524.1h0M172.8 530.3h0M153.6 545.4h0M196.6 523.6h0M191.8 534.3h0M149.6 534.8h0M206.9 540.8h0M211.5 541.9h0M192.4 527.1h0M151.3 532.6h0M214.1 535.8h0M190.1 522.8h0M164.2 541.8h0M164.2 528.9h0M196.3 536.4h0M160.4 554.8h0M209 531.7h0M191.4 532.5h0M171.9 547.7h0M159.5 534.3h0M212.5 532.1h0M164.5 528.2h0M217.2 541.4h0M161.9 523.6h0M175.3 551.6h0M158.4 551.7h0M182.3 522.5h0M160.4 551.5h0M155.7 539.9h0M134.2 549.5h0M184.5 544.1h0M210 542.7h0M163.2 525.6h0M157.6 532.6h0M171.3 541h0M180.5 529.6h0M200.8 529.2h0M182.5 528.6h0M152 550.5h0M144.5 545.3h0M143.5 535.8h0M170 544.2h0M142.9 544.4h0M198.3 536.2h0M165 532.6h0M175.5 522h0M172.6 542.8h0M186.7 535.2h0M210 530h0M190.7 522.2h0M212.5 536.8h0M170.5 526.9h0M177 549.9h0M142.9 549.7h0M169.5 529.4h0M152.8 545.4h0M211 528.8h0M181.7 524.8h0M171.9 541.8h0M157.9 553.2h0M175.2 527.5h0M182.7 530.4h0M175.4 551.1h0M188.7 531.6h0M185.8 521.9h0M176.6 526.7h0M176.6 537.6h0M191.4 521.2h0M192 529.4h0M136.9 543.4h0M167.9 539h0M144.5 534.2h0M194.5 525h0M188.4 537.5h0M214.7 535.7h0M206.4 532.5h0M142.5 537.6h0M152.9 552h0M155 532.7h0M159.5 527.5h0M195.8 540.2h0M141 539.6h0M186.9 530.3h0M209 531h0M181 528.2h0M136.7 546.8h0M136.7 548.2h0M179 546.7h0M154.1 549.3h0M176.9 525.8h0M168.1 529.6h0M161.6 562.6h0M174.6 582.2h0M169.2 579.4h0M162 573.6h0M171.9 574.6h0M169.4 570.7h0M164.5 564h0M165.7 563.2h0M163.5 559.9h0M169.8 570h0M173 583h0M173.3 587.8h0M167.5 567.3h0M174.7 582.1h0M179.4 584.7h0M170.2 559.1h0M166.3 560.2h0M170.9 570.3h0M167.8 566h0M173.1 578.8h0M170.9 580.7h0M178.9 579.5h0M172 574.3h0M165.8 559.2h0M170 571.4h0M168 568.4h0M168 569.2h0M169.9 560.3h0M166.7 553.9h0M163.7 570.4h0M167.7 568.3h0M171.9 577.4h0M166.4 556.2h0M163.5 575.7h0M158.2 556h0M176 580.5h0M170.1 570h0M168 576h0M168.5 567.6h0M161.5 560h0M162.1 557.2h0M169.7 574.9h0M170.9 577.6h0M164.8 566.8h0M167.4 567.7h0M171.5 579.9h0M173.1 578.5h0M175 577h0M171.2 575.9h0M168.3 568.8h0M161.1 561.2h0M165.4 557.9h0M173.2 574h0M170.9 587.5h0M165.5 573.6h0M169.1 576.5h0M162.2 552.9h0M169.3 565.7h0M172.6 575.6h0M174.7 588.4h0M171.4 575h0M172.1 576.7h0M170.1 567.3h0M164.4 555.1h0M162.9 573.8h0M159 558.6h0M169 580.5h0M173.2 582.2h0M170.7 578.3h0M166.4 556.1h0M167.2 585.6h0M166.7 563.6h0M167.2 567.8h0M166.4 562.2h0M161.2 559.4h0M173.2 579h0M165.9 568.4h0M172.6 582.4h0M165.7 563h0M166.5 573.3h0M161.2 557h0M170 575.8h0M164.8 564.4h0M170.4 581.2h0M169.3 578.1h0M171.3 578.9h0M164.6 559.6h0M174.4 584.6h0M168 564.4h0M168.1 572.5h0M166.4 561.5h0M160 555.4h0M156.1 559.9h0M172 581.8h0M164.9 565h0M163.4 562.2h0M165.3 558h0M165.2 571.3h0M175 575.7h0M173.2 570.8h0M158.5 562.1h0M173.6 587.5h0M166.7 575.6h0M162.1 557.4h0M169.4 568.3h0M165 568.3h0M173.4 572.9h0M166.5 566.9h0M177.2 580.5h0M168.7 576.3h0M172.1 581.8h0M170.5 578.2h0M166.5 560h0M169.9 585.5h0M163.9 560.3h0M166.3 559.8h0M176.6 584.6h0M174.8 581.7h0M173.5 584.6h0M169.9 566.1h0M171.3 577.5h0M174.2 580.5h0M175.1 584.2h0M161.7 559.4h0M172.8 585.5h0M172 584.5h0M172.7 577.6h0M171 583.1h0M159.2 559.6h0M166.8 570.1h0" stroke="#a693dc" stroke-width="1.2" stroke-linecap="round" fill="none"/>
<path d="M103.8 580.2h0M99.8 594.7h0M102.1 588.4h0M104.5 583.9h0M104.9 591h0M101.3 578h0M98.3 613.3h0M100.4 581.9h0M101.9 600.8h0M106.7 608.3h0M103.4 598.3h0M95.2 601.1h0M104 568.7h0M100.3 599.3h0M106.1 586.3h0M109.2 590.7h0M101.6 581.9h0M102.5 614h0M100 609.7h0M106.5 582.2h0M97.8 593.8h0M105.9 607.8h0M105.3 582.5h0M106.5 579.7h0M105.1 583h0M103.6 598.1h0M97.8 590.1h0M104.8 600.4h0M104.6 576.9h0M102.6 590.1h0M99.9 595.1h0M98.8 581.7h0M96.8 606.1h0M103.6 579.4h0M100.9 607.7h0M104.3 604.7h0M104.1 575.9h0M100.2 591.4h0M104 608h0M102.7 591.2h0M106.7 604.4h0M102.3 609.6h0M109.1 589.9h0M101.3 582.7h0M100.9 595.9h0M100.6 575.1h0M99.1 608.4h0M102.3 586.4h0M107.5 602.1h0M102.6 578.5h0M102.9 609.1h0M105 573.5h0M102.3 598.9h0M100.8 585.2h0M98.2 604.2h0M104.8 584.1h0M100.6 593.2h0M103.1 594.3h0M101.7 614.5h0M101.2 596.3h0M101.7 610.4h0M101 591.3h0M104.5 577.1h0M102.9 597.6h0M105 594.8h0M104.1 588.3h0M102.9 578.5h0M98.8 584.7h0M105.5 579.5h0M106.3 573.2h0M102.1 593.5h0M107 590.2h0M108.1 601.4h0M104.6 601.5h0M104.6 584h0M106.5 594.9h0M104.9 584.4h0M101.7 592.9h0M100.1 589h0M101.4 614.2h0M98.2 602.6h0M100.9 568.4h0M105.7 586h0M102.6 590.6h0M106.1 582.4h0M96.7 600.2h0M102.1 592.3h0M102.2 577.9h0M102.3 608.2h0M106.2 572h0M103.8 597.5h0M105.1 578.2h0M104.7 600h0M102.1 611h0M102.9 587.4h0M105.7 572.8h0M102.7 600.6h0M103.8 581.5h0M101.4 608.4h0M102.4 583.2h0M98.9 574.8h0M92.2 606.1h0M97.2 608h0M102.5 578.4h0M109.1 577.6h0M102.5 602.5h0M104.6 596h0M106.9 569.2h0M101.9 580.5h0M107.6 613h0M105 573.1h0M105.7 588.4h0M101 578h0M101.3 601.9h0M103.6 602.4h0M99 601.1h0M104 583h0M98.7 608.6h0M108.3 614.2h0M103.1 589.4h0M104.5 595h0M103.8 589.1h0M100.9 585.7h0M102.6 598.3h0M103.6 611.7h0M103.8 585h0M103.3 573.7h0M104.3 577.3h0M107.7 584.2h0M100.9 591.5h0M103.2 588.7h0M110.4 601.9h0M101.1 598.4h0M104.7 596.9h0M105.1 599h0M107.1 585.6h0M100.5 578.3h0M103.3 573.9h0M106.5 573h0M103.7 581.2h0M107.1 581.4h0M106.1 567.8h0M99.6 580.5h0M96.9 604.5h0M102.7 594.4h0M97.3 610.1h0M101.2 601.7h0M105.1 577.9h0M98.9 584.9h0M101.3 585.8h0M95.9 609.9h0M97.9 601.9h0M105.9 596.9h0M93.9 604.8h0M105.6 580.6h0M102.9 601.9h0M101.1 586.1h0M99.7 589.5h0M104.6 583.1h0M98.1 608.1h0M99.5 605.6h0M104 579.3h0M98.9 591.2h0M105.3 615.3h0M102 601.1h0M102.2 586h0M101.9 576.3h0M99.2 600.9h0M101.7 582.9h0M105.4 604h0M107.8 587.4h0M98.9 595.9h0M106.3 600.3h0M103 607.1h0M103 593.8h0M102.3 612h0M104.1 611h0M98.3 595.8h0M101.2 583.7h0M105.7 588.7h0M99.1 579h0M101.8 601.8h0M105.7 575.9h0M103 590.2h0M99.9 592.5h0M102.8 594.3h0M104.4 571.5h0M98.3 602.8h0M104 584.6h0M102.8 599.6h0M103.8 590.4h0M104.6 582.3h0M103.8 580.8h0M104.7 594.7h0M110.3 606.1h0M104.8 582.6h0M101.5 598.4h0M101 595.8h0M108.4 596h0M102.9 614.9h0M99.4 593.3h0M101.8 586.5h0M104.2 580.4h0M106.9 577.6h0M102.1 583.6h0M102.6 578.3h0M102.5 609.3h0M102.8 597.7h0M98 575.1h0M102.1 583.6h0M103.7 578.8h0M106.5 609.5h0M102.7 579.9h0M103.8 599.4h0M103.4 595.8h0M108.5 578.3h0M102.6 582.8h0M104.9 596.1h0M101.8 581.1h0M103.8 594.2h0M103.6 598.8h0M100.9 615.4h0M107.7 587.4h0M105.9 573.1h0M104.1 573.4h0M97.1 597.2h0M105.7 583.6h0M103.2 608.2h0M101 602.7h0M100.8 603.2h0M106.2 567.9h0M104.7 584.8h0M102.1 584.1h0M104.7 579.5h0M99.2 577.4h0M99.3 579.8h0M104.4 606.1h0M103.6 586.9h0M103.4 587.9h0M105.2 607.2h0M108.5 592.8h0M103.4 607.2h0M103.6 598.9h0M106 575h0M106.9 583.5h0M99.4 604h0M102.4 573.2h0M105.9 599.7h0M103.2 579h0M102 569.6h0M104.4 588.1h0M102.3 582.1h0M98.2 615h0M103.5 589.1h0M101.6 611.6h0M99.3 601.2h0M103.6 616h0M104.5 577.1h0M107.4 581.1h0M105.3 592.5h0M107.1 594.9h0M102.2 580.8h0M106.3 592.7h0M104.8 582.9h0M100.9 590.1h0M103.5 590.6h0M110.6 594.2h0M100.6 600.6h0M103 581.3h0M103.8 580.3h0M101.9 580.7h0M101 599.5h0M96 609.2h0M103.8 576h0M106.4 595.9h0M102.6 580.7h0M104.1 580.3h0M103.6 600.3h0M102.7 579.2h0M104.4 586.8h0M105.9 597.7h0M105.2 604.2h0M109.7 577.7h0M101.8 589.6h0M102.8 600.5h0M105.7 607.5h0M105.2 573.5h0M105.3 582.9h0M109.9 598h0M102.4 579h0M97.4 605.3h0M104.8 580.3h0M101.5 577.3h0M102.8 610.2h0M98.9 609.3h0M103.1 576.7h0M104.1 601h0M98.6 582.3h0M103.5 588.7h0M99.9 605.4h0M102.7 595.9h0M102.6 604.1h0M99.8 584.7h0M103.7 602.5h0M106.8 603h0M102.5 576.6h0M107.7 586h0M98.5 603h0M107.1 589.6h0M100.6 587.7h0M110 607.1h0M105.4 609.4h0M93.8 609.8h0M107.6 592.7h0M99 609.1h0M102.7 598.4h0M100 611.9h0M103.6 578.8h0M102.1 592.2h0M100.8 590.9h0M100.1 577.2h0M100.1 586.9h0M101.1 604h0M105.6 571.9h0M104.5 577.3h0M106.1 593.1h0M101 597.7h0M106.4 600.5h0M104.3 610.9h0M101.3 603.6h0M98.8 612.6h0M100.9 574.9h0M104.3 589.2h0M101.4 584.2h0M100.8 613.5h0M103.9 586.2h0M105.5 573.7h0M91.3 606.1h0M107.4 575.5h0M109.5 603.5h0M104.8 571.3h0M106.8 604h0M100.6 606.6h0M104.3 575.5h0M104.9 608.3h0M105.6 580.9h0M100.3 588.8h0M101.7 589.5h0M101 585.2h0M103.6 587.8h0M100.2 597.5h0M99.8 597.1h0M105.7 576.8h0M103.7 586.4h0M103.7 586h0M104 612.4h0M106.1 591.8h0M105.1 576.5h0M99.8 591.2h0M100.9 584.9h0M107.3 594.6h0M100.9 601.9h0M105.7 574.1h0M107.1 589h0M105.7 608h0M95.1 590.2h0M103.2 576.8h0M100.3 592.4h0M95.5 608.4h0M102.1 575.3h0M100.5 604.9h0M99.7 595.4h0M101.2 595.2h0M103.9 591.7h0M104.6 571.8h0M105.9 589.4h0M106.2 571.5h0M105.4 571.3h0M106.3 577.9h0M98.9 592.8h0M102.1 589.2h0M106.3 583.5h0M106.7 607.7h0M102.3 593.9h0M99.8 602.1h0M99.6 589.6h0M103 595.1h0M103.4 587.3h0M100.5 586.8h0M103.2 582.3h0M104.4 605.3h0M101.4 608.6h0M108.8 581h0M104.2 577.9h0M105.4 587.4h0M95.8 614.5h0M108 572.5h0M101.1 595.2h0M102.5 586.6h0M101.4 578.3h0M101.5 599.4h0M100.9 589.4h0M105.9 586.5h0M102.5 590.3h0M101 596h0M99.6 610h0M104.4 578.6h0M105.7 578.8h0M102.1 608.7h0M95.6 605.4h0M103.1 572.3h0M102.1 582.4h0M103 572.9h0M102.2 588.9h0M103.3 610.9h0M104.8 592h0M103.4 590.4h0M103 606.2h0M104.3 599.1h0M110.9 603h0M99.2 586.9h0M98.8 612.1h0M103.7 586.9h0M101.7 585.6h0M96.8 609.3h0M99.4 590.8h0M101 598.8h0M103.2 589.1h0M102 598.3h0M105.4 595h0M101.5 591.5h0M100.4 599.6h0M99.9 595.7h0M96.5 605.1h0M103.1 596.9h0M103.7 595.5h0M109 585.3h0M104.1 570.8h0M100.4 592.9h0M102.5 613h0M109.4 607.8h0M101.1 583.9h0M104.8 583.1h0M97.8 603.2h0M96.6 608h0M99.2 603.5h0M103 599.9h0M104.8 601h0M102.4 587.9h0M102.3 572h0M104.6 574.9h0M106.1 587.2h0M106 584.8h0M108.8 583.3h0M102 587h0M102.1 601.6h0M103.6 587.6h0M101.2 573.4h0M108.3 608.2h0M104.8 593.1h0M103 586.1h0M100.1 595.5h0M110 608.3h0M101.3 602.6h0M103.8 573.6h0M103.9 574.1h0M100.5 595.9h0M99 601.9h0M101.3 608.5h0M106.9 582.9h0M104.6 580.6h0M102.6 574h0M105.1 599.1h0M109 603.9h0M105 590.3h0M106.1 596.6h0M96.6 613.6h0M105.9 583.3h0M105.2 582.4h0M100.7 577.1h0M106.7 598.1h0M103.2 588h0M101 582.4h0M106.3 588.4h0M103.7 579.5h0M104.7 583.4h0M99.7 609.3h0M102.2 569.5h0M104.9 599.7h0M99.5 595.7h0M106.4 594.3h0M102.8 593.4h0M102.4 591.2h0M103.3 583.4h0M105.6 581.9h0M101.7 600.7h0M102.7 589h0M101.9 594.3h0M100.1 592.7h0M102.8 596.5h0M104.1 577.3h0M106.4 592.9h0M97.5 598.3h0M104.2 574.8h0M106.6 577.9h0M102.7 608.1h0M105 600.3h0M106.5 593.2h0M101.7 601.5h0M99.9 600.1h0M103.2 609.1h0M99.4 585.8h0M105.2 585.6h0M95.8 595.8h0M100 594.8h0M100.8 591.8h0M99.5 602.7h0M105.5 581.1h0M99.2 613.5h0M100.4 602.3h0M104.9 612.7h0M105 581.4h0M103.9 600.3h0M102.2 605.5h0M103.9 606.3h0M101 613.4h0M105.3 604.8h0M95.6 609.3h0M101.7 584h0M100.4 600.3h0M103.6 584.2h0M101.2 575.8h0M99.7 578.4h0M104.3 601.7h0M94.6 606.8h0M106.9 583.4h0M103.8 576.2h0M100.9 573.1h0M107.2 607.1h0M96.4 588.5h0M100.5 598.8h0M106.8 587.6h0M97.5 606.4h0M103.5 584.6h0M103.4 571.4h0M103.9 604h0M101.7 587.6h0M97.1 604.1h0M104.4 575.8h0M106.4 599.1h0M102.8 578h0M104.8 593h0M102.6 609.8h0M104.9 598.1h0M103.7 588.8h0M96 601.4h0M103 601.3h0M103.1 609h0M102.7 583.4h0M104.5 613h0M102.8 593.4h0M104.1 592.8h0M101.1 594.9h0M99.7 612.4h0M102 604.7h0M103.2 584.9h0M101.3 594.7h0M100.8 584.6h0M108 580.8h0M104.1 601.3h0M101.1 592.6h0M103.5 584h0M100.7 607.8h0M94.6 589.4h0M102.4 592.8h0M100.7 595.5h0M105.3 571.4h0M102.8 613.7h0M103.1 569h0M97.7 595.7h0M104.6 590.2h0M100.2 598.2h0M107.4 609.5h0M109.5 589.5h0M106.6 577.8h0M106.3 606.4h0M101 577.3h0M99.3 602h0M97.5 590.9h0M104.9 605.9h0M107.8 606.1h0M106.3 581.5h0M99.6 613h0M100.5 583.9h0M105.2 587.3h0M99 580.6h0M102 570.7h0M102.4 589.8h0M104.5 602.3h0M102.3 599.8h0M104 582.1h0M98.3 603.7h0M101.7 599.3h0M104.7 581h0M100.9 610.9h0M103 575.1h0M100.8 582.3h0M108.9 593.7h0M106 601.5h0M106.6 582.2h0M105 602.4h0M102.4 599h0M100.4 571.2h0M100.2 595.8h0M101.4 600.3h0M101.7 604.1h0M107 601.8h0M96.9 597.9h0M104.1 586.5h0M106.3 598.5h0M102.7 582.7h0M98.8 608.6h0M106.2 592h0M99.6 579.3h0M101.8 608.9h0M93.3 607.5h0M103.6 606.4h0M103.7 572.4h0M101.6 593.6h0M101.9 575.6h0M102.7 593.3h0M103.2 602.5h0M105.6 591.5h0M105.8 582.9h0M104.3 570.9h0M99.8 609.3h0M109.2 600.6h0M105.5 573.7h0M105.5 607.6h0M100.5 595.6h0M103.8 610.7h0M103.6 597.2h0M104.2 600.7h0M98.7 594.3h0M106.2 594.9h0M106.4 586h0M99.7 607.6h0M105.7 599.4h0M106.5 581.6h0M103 585.6h0M105.1 575.9h0M104.7 590.5h0M106.8 610.7h0M103.2 582.7h0M104 600h0M102.1 573.6h0M100.5 585.6h0M107 575.8h0M99.4 595.5h0M105.1 580.8h0M100.9 586.7h0M101.6 573.6h0M107.1 586.4h0M102.8 605.6h0M101.8 610.9h0M99.3 602.6h0M99.9 585.3h0M103.6 590.4h0M106.9 570.9h0M104.5 596.2h0M103.5 607.8h0M101.8 571.2h0M105.8 569.6h0M105.2 592.8h0M107.3 594.3h0M101.7 599.6h0M101.3 602.3h0M101.1 609.9h0M101.4 588.5h0M103.8 571.5h0M105.7 604.8h0M102.1 590.5h0M96 606.9h0M103.3 610.5h0M97.2 600.8h0M100.7 586.5h0M98.1 598h0M95.5 608.3h0M104.8 581h0M100.3 606.8h0M105 584.6h0M104.7 577.5h0M102 573.5h0M104.1 585.4h0M101.2 596h0M103.5 587.3h0M101.5 597.2h0M106.6 567.9h0M103.4 605.3h0M97.8 603.3h0M123.8 556.4h0M123.2 561.2h0M142.2 543.8h0M117.6 562.2h0M121.9 562h0M137.9 546.9h0M129.8 556.7h0M130.2 555h0M136.3 545.8h0M128.2 554.6h0M128.4 556.6h0M122.3 560.4h0M120.5 558.8h0M110.1 573.5h0M111.5 571.8h0M127.4 557h0M121.4 561.6h0M121.8 560.7h0M138.5 546.3h0M129.9 556.7h0M130.9 553.1h0M121.9 563.8h0M137.6 553.5h0M134.3 549h0M116.2 565.5h0M120.9 562.7h0M123.6 558.9h0M110.1 567.7h0M132.1 549.6h0M141.3 541.3h0M133.9 547.7h0M126.1 555.6h0M143.3 544.6h0M121.6 561.8h0M108.5 568.8h0M120.8 565.2h0M129.5 550.7h0M116.2 567.2h0M137 546.3h0M124.9 555.9h0M125.7 557.7h0M136.8 547.3h0M127.6 556.3h0M135.7 544.9h0M125.6 557.6h0M133.1 545.1h0M113.2 570.6h0M113.6 571.9h0M140 542.8h0M139.2 543.3h0M116.9 564.1h0M112.7 569.2h0M120 560.8h0M126.4 552.7h0M123.2 556.3h0M118 564.8h0M120.5 565.9h0M140.2 548.4h0M116.3 566.7h0M124.9 563.7h0M115.9 561.6h0M138.6 544.5h0M123.5 561.6h0M118.6 562.4h0M125.9 564.1h0M117.2 566.7h0M119.1 562.3h0M121.7 558h0M132.6 553.6h0M114.4 565.8h0M118.5 565.5h0M133.9 550.2h0M135.8 547.3h0M131 553.2h0M110.9 567.1h0M122.4 557.5h0M135.1 550.8h0M128.1 554.3h0M135.7 552.1h0M120.3 561.9h0M124.3 551.3h0M126.5 555h0M138.9 543h0M140.7 547.1h0M116.2 560.4h0M119.5 560.7h0M120.8 562.3h0M125.9 557h0M135.9 550.1h0M121.6 558.9h0M116.7 564.9h0M121 563.6h0M113.7 565.2h0M121.5 554.4h0M117.4 565.9h0M121.9 561.3h0M124.8 553.9h0M123.5 558.8h0M109.1 565.2h0M136.9 541.1h0M109.9 569.1h0M114.5 567.1h0M123.2 557.1h0M128.5 558.1h0M124.9 556.4h0M140.1 544.6h0M127.8 551.7h0M132.9 549h0M117.2 564.8h0M128.4 552.9h0M124.4 558.1h0M139.5 544.5h0M126.8 554.4h0M124.5 558.1h0M124.7 557.6h0M117.7 563.3h0M132.7 553.1h0M112.7 568.2h0M134.6 544.4h0M116.1 564.2h0M127.5 554.8h0M135.1 547.9h0M122.1 560.5h0M112.5 567h0M116.5 568.1h0M116.6 567.6h0M121.6 559.4h0M120.8 565h0M113.6 568.9h0M123.3 561.7h0M136 545.3h0M136.1 550h0M115.5 566.2h0M135.5 546.4h0M132 554.4h0M117.1 563.1h0M136.8 542.3h0M130.5 553.9h0M120.1 563.5h0M110.2 564.2h0M114.6 568.2h0M115.3 564.7h0M119.4 560.8h0M131.3 555h0M129.4 552.1h0M130.7 550.1h0M125.7 558.2h0M112.2 566.8h0M120.8 561.9h0M135.7 547.2h0M124.7 559.8h0M124.4 558.3h0M109 569h0M121.1 560.4h0M115.9 563.8h0M114.3 564.8h0M137.3 545.5h0M126.9 555.8h0M124.4 561.6h0M129.1 555.4h0M92.6 574.2h0M91.4 604.4h0M87.3 593.6h0M90.2 599.6h0M87.8 588.3h0M91.7 591.2h0M93.2 576.8h0M84.9 594.1h0M84.5 582.2h0M85.2 586.9h0M88.3 577.1h0M93.2 572.6h0M92.1 595.8h0M88.5 580.7h0M89 596.6h0M90 585.9h0M86.9 574.2h0M90.8 587.1h0M91.9 575h0M90.4 597.8h0M91.4 589.1h0M90.3 602.4h0M88 582.8h0M91.6 600.8h0M88.2 572.6h0M92.5 601.7h0M85 579.7h0M90.6 592.5h0M90.3 573.8h0M89.8 603.4h0" stroke="#e06753" stroke-width="1.2" stroke-linecap="round" fill="none"/>
<path d="M222.5 535.7C214.3 535.3 185.5 533 173.4 533.4C161.3 533.8 157.8 534.9 150 538C142.2 541.1 133.3 546.9 126.7 552C120.1 557.1 114.5 562.6 110.4 568.4C106.3 574.2 104 582.1 102.2 587C100.4 591.9 100 596.2 99.6 598" stroke="#111" stroke-width="1.7" fill="none"/>
<path d="M97.3 607 L92.3 594.3 L105 597.6 Z" fill="#111"/>
<line x1="81.2" y1="517.3" x2="81.2" y2="619.4" stroke="#111" stroke-width="1.2"/>
<line x1="80.7" y1="618.8" x2="232.8" y2="618.8" stroke="#111" stroke-width="1.2"/>
<line x1="78.3" y1="596.5" x2="81.3" y2="596.5" stroke="#111" stroke-width="1"/>
<text x="77" y="599.8" font-size="9" text-anchor="end">2</text>
<line x1="78.3" y1="572.1" x2="81.3" y2="572.1" stroke="#111" stroke-width="1"/>
<text x="77" y="575.4" font-size="9" text-anchor="end">4</text>
<line x1="78.3" y1="547.7" x2="81.3" y2="547.7" stroke="#111" stroke-width="1"/>
<text x="77" y="551" font-size="9" text-anchor="end">6</text>
<line x1="78.3" y1="523.3" x2="81.3" y2="523.3" stroke="#111" stroke-width="1"/>
<text x="77" y="526.6" font-size="9" text-anchor="end">8</text>
<line x1="106" y1="618.6" x2="106" y2="621.6" stroke="#111" stroke-width="1"/>
<text x="102.4" y="634.4" font-size="9.2" text-anchor="middle">−2.5</text>
<line x1="136.4" y1="618.6" x2="136.4" y2="621.6" stroke="#111" stroke-width="1"/>
<text x="136.4" y="634.4" font-size="9.2" text-anchor="middle">0.0</text>
<line x1="166.8" y1="618.6" x2="166.8" y2="621.6" stroke="#111" stroke-width="1"/>
<text x="166.8" y="634.4" font-size="9.2" text-anchor="middle">2.5</text>
<line x1="197.2" y1="618.6" x2="197.2" y2="621.6" stroke="#111" stroke-width="1"/>
<text x="197.2" y="634.4" font-size="9.2" text-anchor="middle">5.0</text>
<line x1="227.7" y1="618.6" x2="227.7" y2="621.6" stroke="#111" stroke-width="1"/>
<text x="227.7" y="634.4" font-size="9.2" text-anchor="middle">7.5</text>
<text x="166.3" y="646.5" font-size="12" text-anchor="middle">Umap_1</text>
<text x="62.5" y="558.4" font-size="12" text-anchor="middle" transform="rotate(-90 62.5 558.4)">Umap_2</text>
<circle cx="175.9" cy="601.4" r="2.7" fill="#a693dc"/><circle cx="175.9" cy="610.9" r="2.7" fill="#e06753"/>
<text x="180.8" y="604.4" font-size="8.6" fill="#222">Imm-MMP9</text>
<text x="180.8" y="613.9" font-size="8.6" fill="#222">Imm-S100A4</text>
<text x="50.5" y="674" font-size="11.7">Imm-S100A4</text>
<line x1="121" y1="671" x2="196" y2="671" stroke="#111" stroke-width="1"/>
<path d="M199.5 671 L193.5 668.5 L193.5 673.5Z" fill="#111"/>
<text x="201" y="674" font-size="11.7">Imm-MMP9</text>
<path d="M58.4 754.4 L60.9 754.4 L63.3 754.4 L65.8 754.4 L68.3 754.4 L70.7 754.4 L73.2 754.4 L75.7 754.4 L78.1 754.4 L80.6 754.4 L83.1 754.4 L85.5 754.4 L88 754.4 L90.5 754.4 L92.9 754.4 L95.4 754.4 L97.9 754.4 L100.3 754.4 L102.8 754.3 L105.3 754.3 L107.7 754.3 L110.2 754.3 L112.7 754.3 L115.1 754.3 L117.6 754.3 L120.1 754.2 L122.5 754.2 L125 754.2 L127.5 754.2 L129.9 754.2 L132.4 754.1 L134.9 754.1 L137.4 754.1 L139.8 754 L142.3 754 L144.8 754 L147.2 754 L149.7 753.9 L152.2 753.9 L154.6 753.8 L157.1 753.8 L159.6 753.8 L162 753.7 L164.5 753.7 L167 753.6 L169.4 753.6 L171.9 753.6 L174.4 753.5 L176.8 753.5 L179.3 753.4 L181.8 753.4 L184.2 753.3 L186.7 753.2 L189.2 753.2 L191.6 753.1 L194.1 753.1 L196.6 753 L199 752.9 L201.5 752.9 L204 752.8 L206.4 752.7 L208.9 752.7 L211.4 752.6 L213.8 752.5 L216.3 752.4 L218.8 752.4 L221.2 752.3 L223.7 752.2 L226.2 752.1 L228.6 752 L231.1 751.9 L233.6 751.8 L236 751.8 L238.5 751.7 L241 751.6 L243.4 751.5 L245.9 751.4 L248.4 751.3 L250.8 751.2 L253.3 751.1 L255.8 750.9" stroke="#8fd0e8" stroke-width="2.2" fill="none"/>
<path d="M58.4 754.3 L60.9 754.3 L63.3 754.3 L65.8 754.3 L68.3 754.3 L70.7 754.3 L73.2 754.3 L75.7 754.3 L78.1 754.3 L80.6 754.3 L83.1 754.3 L85.5 754.3 L88 754.3 L90.5 754.3 L92.9 754.3 L95.4 754.3 L97.9 754.3 L100.3 754.3 L102.8 754.3 L105.3 754.3 L107.7 754.3 L110.2 754.3 L112.7 754.3 L115.1 754.3 L117.6 754.3 L120.1 754.3 L122.5 754.3 L125 754.3 L127.5 754.3 L129.9 754.3 L132.4 754.3 L134.9 754.3 L137.4 754.3 L139.8 754.3 L142.3 754.3 L144.8 754.3 L147.2 754.3 L149.7 754.3 L152.2 754.3 L154.6 754.3 L157.1 754.2 L159.6 754.2 L162 754.2 L164.5 754.2 L167 754.1 L169.4 754.1 L171.9 754 L174.4 754 L176.8 753.9 L179.3 753.9 L181.8 753.8 L184.2 753.7 L186.7 753.6 L189.2 753.5 L191.6 753.4 L194.1 753.3 L196.6 753.2 L199 753.1 L201.5 752.9 L204 752.8 L206.4 752.7 L208.9 752.5 L211.4 752.4 L213.8 752.2 L216.3 752.1 L218.8 751.9 L221.2 751.7 L223.7 751.5 L226.2 751.3 L228.6 751.1 L231.1 750.9 L233.6 750.7 L236 750.5 L238.5 750.3 L241 750.1 L243.4 749.8 L245.9 749.6 L248.4 749.4 L250.8 749.1 L253.3 748.8 L255.8 748.6" stroke="#3aa3b8" stroke-width="2.3" fill="none"/>
<path d="M58.4 753 L60.9 753 L63.3 753 L65.8 753 L68.3 753 L70.7 753 L73.2 753 L75.7 753 L78.1 753 L80.6 753 L83.1 753 L85.5 753 L88 753 L90.5 753 L92.9 753 L95.4 753 L97.9 753 L100.3 753 L102.8 753 L105.3 753 L107.7 753 L110.2 753 L112.7 753 L115.1 753 L117.6 753 L120.1 753 L122.5 753 L125 753 L127.5 753 L129.9 753 L132.4 753 L134.9 753 L137.4 752.8 L139.8 752.3 L142.3 751.8 L144.8 751.1 L147.2 750.3 L149.7 749.5 L152.2 748.7 L154.6 747.7 L157.1 746.7 L159.6 745.7 L162 744.7 L164.5 743.5 L167 742.4 L169.4 741.2 L171.9 740 L174.4 738.8 L176.8 737.5 L179.3 736.2 L181.8 734.8 L184.2 733.4 L186.7 732 L189.2 730.6 L191.6 729.2 L194.1 727.7 L196.6 726.2 L199 724.6 L201.5 723.1 L204 721.5 L206.4 719.9 L208.9 718.3 L211.4 716.6 L213.8 715 L216.3 713.3 L218.8 711.6 L221.2 709.9 L223.7 708.1 L226.2 706.3 L228.6 704.5 L231.1 702.7 L233.6 700.9 L236 699.1 L238.5 697.2 L241 695.3 L243.4 693.4 L245.9 691.5 L248.4 689.6 L250.8 687.6 L253.3 685.7 L255.8 683.7" stroke="#eab234" stroke-width="2.3" fill="none"/>
<path d="M58.4 751.7 L60.9 751.8 L63.3 751.9 L65.8 752 L68.3 752.1 L70.7 752.2 L73.2 752.3 L75.7 752.4 L78.1 752.5 L80.6 752.7 L83.1 752.8 L85.5 752.9 L88 753 L90.5 753 L92.9 752.9 L95.4 752.8 L97.9 752.7 L100.3 752.5 L102.8 752.4 L105.3 752.2 L107.7 752 L110.2 751.8 L112.7 751.5 L115.1 751.3 L117.6 751 L120.1 750.8 L122.5 750.5 L125 750.2 L127.5 749.9 L129.9 749.6 L132.4 749.3 L134.9 749 L137.4 748.7 L139.8 748.3 L142.3 748 L144.8 747.6 L147.2 747.3 L149.7 746.9 L152.2 746.5 L154.6 746.1 L157.1 745.8 L159.6 745.4 L162 744.9 L164.5 744.5 L167 744.1 L169.4 743.7 L171.9 743.3 L174.4 742.8 L176.8 742.4 L179.3 741.9 L181.8 741.5 L184.2 741 L186.7 740.5 L189.2 740 L191.6 739.6 L194.1 739.1 L196.6 738.6 L199 738.1 L201.5 737.6 L204 737.1 L206.4 736.5 L208.9 736 L211.4 735.5 L213.8 735 L216.3 734.4 L218.8 733.9 L221.2 733.3 L223.7 732.8 L226.2 732.2 L228.6 731.7 L231.1 731.1 L233.6 730.5 L236 729.9 L238.5 729.3 L241 728.8 L243.4 728.2 L245.9 727.6 L248.4 727 L250.8 726.4 L253.3 725.7 L255.8 725.1" stroke="#ec8a35" stroke-width="2.3" fill="none"/>
<path d="M58.4 682.2 L60.9 682.3 L63.3 682.6 L65.8 683 L68.3 683.6 L70.7 684.3 L73.2 685.2 L75.7 686.3 L78.1 687.5 L80.6 688.8 L83.1 690.3 L85.5 691.9 L88 693.6 L90.5 695.5 L92.9 697.5 L95.4 699.5 L97.9 701.7 L100.3 703.9 L102.8 706.2 L105.3 708.5 L107.7 710.9 L110.2 713.3 L112.7 715.8 L115.1 718.3 L117.6 720.7 L120.1 723.2 L122.5 725.6 L125 728 L127.5 730.4 L129.9 732.7 L132.4 734.9 L134.9 737.1 L137.4 739.2 L139.8 741.1 L142.3 743 L144.8 744.8 L147.2 746.4 L149.7 748 L152.2 749.3 L154.6 750.6 L157.1 751.7 L159.6 752.6 L162 753.4 L164.5 754 L167 754.5 L169.4 754.8 L171.9 754.9 L174.4 755.1 L176.8 755.4 L179.3 755.7 L181.8 755.9 L184.2 756.1 L186.7 756.3 L189.2 756.5 L191.6 756.6 L194.1 756.6 L196.6 756.6 L199 756.6 L201.5 756.5 L204 756.4 L206.4 756.2 L208.9 756 L211.4 755.8 L213.8 755.5 L216.3 755.3 L218.8 755 L221.2 754.9 L223.7 754.7 L226.2 754.6 L228.6 754.3 L231.1 754.1 L233.6 753.8 L236 753.5 L238.5 753.2 L241 752.9 L243.4 752.5 L245.9 752.2 L248.4 751.8 L250.8 751.4 L253.3 750.9 L255.8 750.5" stroke="#8fd0e8" stroke-width="2.2" fill="none"/>
<rect x="49" y="678.7" width="216.4" height="81.6" fill="none" stroke="#111" stroke-width="1.6"/>
<line x1="46" y1="754.9" x2="49" y2="754.9" stroke="#111" stroke-width="1"/>
<text x="45" y="758.1" font-size="9" text-anchor="end">0.0</text>
<line x1="46" y1="739.1" x2="49" y2="739.1" stroke="#111" stroke-width="1"/>
<text x="45" y="742.3" font-size="9" text-anchor="end">0.1</text>
<line x1="46" y1="723.3" x2="49" y2="723.3" stroke="#111" stroke-width="1"/>
<text x="45" y="726.5" font-size="9" text-anchor="end">0.2</text>
<line x1="46" y1="707.5" x2="49" y2="707.5" stroke="#111" stroke-width="1"/>
<text x="45" y="710.7" font-size="9" text-anchor="end">0.3</text>
<line x1="46" y1="691.7" x2="49" y2="691.7" stroke="#111" stroke-width="1"/>
<text x="45" y="694.9" font-size="9" text-anchor="end">0.4</text>
<line x1="58.4" y1="760.3" x2="58.4" y2="763.3" stroke="#111" stroke-width="1"/>
<text x="58.4" y="769.8" font-size="9" text-anchor="middle">0</text>
<line x1="135.5" y1="760.3" x2="135.5" y2="763.3" stroke="#111" stroke-width="1"/>
<text x="135.5" y="769.8" font-size="9" text-anchor="middle">5</text>
<line x1="212.6" y1="760.3" x2="212.6" y2="763.3" stroke="#111" stroke-width="1"/>
<text x="212.6" y="769.8" font-size="9" text-anchor="middle">10</text>
<text x="164.8" y="785.2" font-size="12" text-anchor="middle">Pseudotime</text>
<text x="13.8" y="723" font-size="12" text-anchor="middle" transform="rotate(-90 13.8 723)">Normalized</text>
<text x="28.6" y="723.5" font-size="12" text-anchor="middle" transform="rotate(-90 28.6 723.5)">expression</text>
<text x="268.2" y="687.8" font-size="11.8" font-weight="bold" fill="#eab234">MME</text>
<text x="266.8" y="727.5" font-size="12" font-weight="bold" fill="#ec8a35">TLR2</text>
<text x="268.2" y="747.3" font-size="13.3" font-weight="bold" fill="#3aa3b8">FCGR2B</text>
<text x="267.8" y="759.7" font-size="11.6" font-weight="bold" fill="#8fd0e8">OLR1</text>
<text x="308.5" y="511" font-size="14" font-weight="bold" fill="#000">H</text>
<text x="406" y="527.7" font-size="11.3" text-anchor="middle">HP</text>
<text x="406" y="659.2" font-size="11.3" text-anchor="middle">GDM</text>
<path d="M386.5 573.9h1.0M370.8 599.6h1.0M372.1 617h1.0M389.7 603.1h1.0M370.4 587.3h1.0M362.2 600.6h1.0M380.6 606.3h1.0M377.5 609.4h1.0M367 583.4h1.0M377.3 591.7h1.0M386.2 574.3h1.0M366 588.7h1.0M385.9 583.5h1.0M360 599.7h1.0M367.3 580.7h1.0M379.6 569.9h1.0M378.3 583.3h1.0M385.8 599.1h1.0M383.1 571h1.0M363.3 602.9h1.0M389.6 576.7h1.0M370 603.4h1.0M373.7 612.2h1.0M372.4 595.5h1.0M369 612.2h1.0M371.5 584h1.0M371.4 589.9h1.0M367.3 582.2h1.0M370.5 598.1h1.0M376.3 577.1h1.0M381.4 604.3h1.0M384.6 592.3h1.0M372.3 618.6h1.0M366.2 608.2h1.0M358.1 595.1h1.0M373.8 591.6h1.0M363.9 606h1.0M369.6 582.5h1.0M379.3 593.2h1.0M375.4 607h1.0M367.4 601.6h1.0M372.4 582.3h1.0M370.2 613.2h1.0M371.2 597.4h1.0M387.2 589h1.0M384.3 571.5h1.0M387.7 572.2h1.0M362.6 588.8h1.0M365.4 602.1h1.0M385.3 589h1.0M384.1 579.2h1.0M374.9 613h1.0M387.2 594h1.0M360.8 604.2h1.0M384.7 596.1h1.0M379 600.1h1.0M363.3 598.4h1.0M356.3 597.5h1.0M373.1 618h1.0M387.3 610.5h1.0M357.3 600.2h1.0M369.9 615.6h1.0M369.6 583.5h1.0M366 608.3h1.0M369.5 603.7h1.0M377.2 620.4h1.0M369.3 581.1h1.0M357.9 601.8h1.0M382.8 603.6h1.0M359 593.1h1.0M383.9 574.7h1.0M384.2 578.1h1.0M384.3 578.5h1.0M381.5 568.3h1.0M389.7 581.7h1.0M387.2 590.1h1.0M385.3 589h1.0M366.6 587.2h1.0M378.6 590.2h1.0M374.8 577.4h1.0M373 579.2h1.0M382 585.5h1.0M375.3 595.5h1.0M382.2 570.6h1.0M387.5 573.2h1.0M378.3 611.2h1.0M377.5 606.3h1.0M380.9 580.5h1.0M364.1 609.4h1.0M380.1 605.5h1.0M374.5 611.7h1.0M371.8 594.4h1.0M382 609.6h1.0M385.8 584.8h1.0M356.8 592.1h1.0M360.6 585.9h1.0M370.8 600.1h1.0M383.9 587.9h1.0M384.4 589.9h1.0M372.5 598.2h1.0M382.2 571.4h1.0M370.9 589.5h1.0M369.1 612.8h1.0M374.8 580.5h1.0M378.4 607.5h1.0M378.8 585.2h1.0M387.9 578.5h1.0M366.9 592.3h1.0M385.3 604.1h1.0M369.2 600h1.0M367.6 610.2h1.0M383.2 598.4h1.0M370.1 598h1.0M375.4 592.7h1.0M366 589.2h1.0M383.1 574.2h1.0M372.5 602.5h1.0M373.6 599.6h1.0M380.8 568.5h1.0M380.5 572.5h1.0M384.2 592.9h1.0M389.2 596.8h1.0M378.4 584.4h1.0M374.4 585.8h1.0M377.9 609h1.0M385.2 588.2h1.0M374.5 618.9h1.0M386.8 604.5h1.0M378.6 581.5h1.0M384 607.2h1.0M375.8 577.5h1.0M382.5 573.6h1.0M367.7 595.4h1.0M387.4 579.2h1.0M382.8 571h1.0M384.2 607h1.0M383 609.5h1.0M377.8 583.5h1.0M362.5 604.2h1.0M356.6 594.9h1.0M364.3 588.8h1.0M361.7 594.2h1.0M381.6 580.2h1.0M368.7 579.6h1.0M373 579.1h1.0M387.6 599.1h1.0M372.1 595.5h1.0M380.8 578.9h1.0M359.5 599.9h1.0M367.8 607.6h1.0M373.8 589.4h1.0M386.4 581.4h1.0M371 619.2h1.0M371.1 587.3h1.0M376.4 591.5h1.0M380.6 579.5h1.0M360.2 597h1.0M372.2 609.2h1.0M379.9 617.1h1.0M372.4 619.1h1.0M369.9 599.1h1.0M382 582.1h1.0M370.5 618.8h1.0M374.2 589.6h1.0M382.9 599.1h1.0M385.4 583.4h1.0M370.5 587.3h1.0M363.1 594.6h1.0M363.4 608.2h1.0M358 603h1.0M385.1 576.4h1.0M386.7 571h1.0M378.8 620.6h1.0M390.4 601.2h1.0M383.2 585.5h1.0M379.9 603.8h1.0M367.7 587.7h1.0M376.8 613.4h1.0M387.4 604h1.0M369.5 602.3h1.0M369.5 594.9h1.0M377.3 613.7h1.0M386 582.5h1.0M370.1 599.4h1.0M377.5 580.9h1.0M367.1 589.4h1.0M388.7 574.5h1.0M362.5 597.5h1.0M373.8 614h1.0M376.1 619.8h1.0M356.4 594.5h1.0M373.8 597.9h1.0M377.1 574.5h1.0M388 591.7h1.0M390 582.5h1.0M386.6 597.4h1.0M379.1 582.3h1.0M375.2 583.1h1.0M378.3 574.9h1.0M382.4 570.4h1.0M375.2 608.2h1.0M374.3 588.2h1.0M376.8 607h1.0M363.9 590.3h1.0M365.3 597.2h1.0M360.6 593h1.0M379.8 616.9h1.0M385.9 601h1.0M375.9 579.6h1.0M371.9 579.6h1.0M386.6 574.1h1.0M373.3 621.4h1.0M381.4 581.9h1.0M365.7 609.3h1.0M373 583.6h1.0M385.6 580.9h1.0M359.3 598.4h1.0M367 583.4h1.0M383.3 591.7h1.0M376.1 594.3h1.0M362.5 602h1.0M361.9 592.8h1.0M361 607.5h1.0M372.8 618.7h1.0M372.3 591.8h1.0M381.6 618.2h1.0M376.2 598.6h1.0M385.6 574.9h1.0M373.6 591.9h1.0M380.7 613.6h1.0M360.6 589.4h1.0M375.9 595.7h1.0M386.5 597h1.0M359.4 587.9h1.0M383.9 590.5h1.0M388 606.1h1.0M390.9 602.8h1.0M360.6 596.7h1.0M384.9 605.3h1.0M370.7 592.2h1.0M373.3 582.8h1.0M371.7 619.1h1.0M388 597.1h1.0M380.2 573.8h1.0M373.6 585.9h1.0M387.8 578.3h1.0M380.4 602.5h1.0M361.3 605.6h1.0M371.6 579.8h1.0M371 604.2h1.0M361.5 597.8h1.0M370.8 596.4h1.0M383.5 571.6h1.0M381 581.6h1.0M372.8 614.7h1.0M377.9 608.6h1.0M384.4 597.3h1.0M379.4 608.5h1.0M370.3 605.1h1.0M365.5 607.9h1.0M379.3 584.5h1.0M365.8 594.8h1.0M377.3 586.1h1.0M369.1 595.3h1.0M362.1 599.2h1.0M390.1 585.2h1.0M369.6 617h1.0M381.6 589.8h1.0M378 572.7h1.0M378.3 577.4h1.0M374.3 590.1h1.0M370 615.6h1.0M389.2 598h1.0M384 579.7h1.0M360 604.3h1.0M368.6 589.4h1.0M379.4 580h1.0M384.5 571.5h1.0M386.4 581.4h1.0M363.7 582.6h1.0M374.2 613.6h1.0M369.4 594h1.0M382.1 593.4h1.0M383.6 610h1.0M370.1 618.3h1.0M366.8 583.5h1.0M377.4 594.3h1.0M367.1 589.6h1.0M365.6 600.5h1.0M383.5 581.1h1.0M385.7 588.8h1.0M374 585.4h1.0M386.5 603.5h1.0M371.8 606h1.0M378.6 612.3h1.0M362.4 584.8h1.0M383.3 571.2h1.0M377.5 583.2h1.0M368.3 607.9h1.0M373.5 587.5h1.0M381.2 610.8h1.0M375.6 610.1h1.0M374.3 619.7h1.0M378.1 593.6h1.0M387.7 593.7h1.0M387 595.4h1.0M390.1 605h1.0M375.3 588.7h1.0M386.7 582.8h1.0M385.6 580.9h1.0M372.3 593.2h1.0M373.1 601.9h1.0M371.1 603.7h1.0M363.4 607.8h1.0M367.5 612h1.0M383.6 611.4h1.0M362.5 607.8h1.0M371.3 609.3h1.0M385.5 587h1.0M379.4 616.7h1.0M379.4 567.9h1.0M366.5 584.6h1.0M382.1 602.1h1.0M363.3 584.9h1.0M380.2 607.4h1.0M367.3 584h1.0M376.9 598.3h1.0M373.5 614h1.0M382.6 592.2h1.0M388.3 581.9h1.0M378.8 609.8h1.0M361.9 584.2h1.0M371.9 605.6h1.0M377.8 592.1h1.0M371.7 615.1h1.0M360.2 605.1h1.0M386.2 591h1.0M361.1 586.4h1.0M376.8 608.4h1.0M373.1 621.1h1.0M389.1 580.5h1.0M388.2 585.7h1.0M385.9 600.7h1.0M373.2 614.6h1.0M376 590.5h1.0M390.8 587.3h1.0M383.3 597.2h1.0M361.7 592.2h1.0M376.2 599.3h1.0M385.1 570.6h1.0M374.2 594.9h1.0M360.9 601.8h1.0M388.9 601.7h1.0M389.5 588.9h1.0M386.4 581.7h1.0M383.8 587h1.0M384.8 567.9h1.0M373 580.8h1.0M388.3 597.9h1.0M387.2 575.9h1.0M367.2 591.9h1.0M387.7 601h1.0M379.1 573.1h1.0M375.1 578.3h1.0M374.1 618.3h1.0M381.3 595.5h1.0M372.2 578.5h1.0M367.7 599.5h1.0M377.6 589.9h1.0M388.9 585h1.0M360.5 602.9h1.0M367.1 582.7h1.0M381.6 582.4h1.0M384.7 588.3h1.0M369.6 585.1h1.0M368.5 598.3h1.0M376.3 593h1.0M368.3 593.5h1.0M390.7 595.4h1.0M375.5 596.4h1.0M381.9 595.8h1.0M368.8 598h1.0M385.3 593.7h1.0M378.9 601.1h1.0M363.7 587.7h1.0M384.8 598.7h1.0M361.3 588.4h1.0M364.1 585.1h1.0M376.3 605.6h1.0M367.8 582.8h1.0M371.5 606.6h1.0M381.3 581.5h1.0M377 616.9h1.0M375.7 613.4h1.0M369.2 586.2h1.0M363.5 608.8h1.0M367 606.1h1.0M368.5 602.7h1.0M380.3 598.1h1.0M381.3 577.6h1.0M387.3 592.4h1.0M375.2 604.9h1.0M362.9 588.8h1.0M388.1 573.8h1.0M379.4 616h1.0M369.2 614.7h1.0M369.2 589.5h1.0M383 576h1.0M360.9 591.2h1.0M381.2 601.3h1.0M374.7 602.4h1.0M382.2 595.8h1.0M370.4 604.1h1.0M382.4 578.4h1.0M368.5 608.4h1.0M383.8 597.6h1.0M377.8 605.2h1.0M372 584.9h1.0M375.4 599h1.0M380.1 585.5h1.0M387.5 604.6h1.0M372.9 597.6h1.0M378.4 582.1h1.0M367.7 582.8h1.0M357.5 588.8h1.0M375.4 602h1.0M373.8 582.7h1.0M371.4 584.5h1.0M357.5 594.7h1.0M378.6 617.1h1.0M362.4 600h1.0M374.3 577.5h1.0M364.3 603.1h1.0M373.9 616.6h1.0M370.1 593.2h1.0M371.8 613.9h1.0M383.3 577.5h1.0M364.3 592.8h1.0M374.5 608.5h1.0M366 587.2h1.0M369.6 587h1.0M367.2 583.4h1.0M384.7 601h1.0M374.8 608.6h1.0M368.6 601.7h1.0M371.6 600.5h1.0M374.4 587.9h1.0M373.8 590.7h1.0M383.9 596.8h1.0M371.6 590h1.0M371.4 585.9h1.0M383.4 587.4h1.0M387.7 601.5h1.0M363.3 590.9h1.0M389.7 595h1.0M361.1 584.1h1.0M363.2 606.4h1.0M360.7 604.3h1.0M385.4 599.1h1.0M380.5 569.8h1.0M366.2 583.6h1.0M387.1 575.9h1.0M365.6 591.1h1.0M387 602.6h1.0M380.9 585.8h1.0M359 589.9h1.0M364.3 605.2h1.0M386.2 573.2h1.0M370.4 581.7h1.0M375.9 600.4h1.0M367.8 589.1h1.0M386.4 587.1h1.0M382 588.3h1.0M380 615.3h1.0M389.7 602.4h1.0M387.3 586.7h1.0M361.1 602.9h1.0M375.1 612.5h1.0M388.2 587.6h1.0M380.9 600.7h1.0M390.1 605.5h1.0M372.4 597.2h1.0M378.5 585.2h1.0M368.9 604.8h1.0M371.3 614.7h1.0M374.2 596.5h1.0M357.2 598.4h1.0M385.9 572.2h1.0M374.1 589.4h1.0M383.9 589.8h1.0M387.3 574.9h1.0M379.1 577.3h1.0M382.7 585.5h1.0M383.2 587.1h1.0M375.9 597.5h1.0M381.6 590h1.0M384.8 599.3h1.0M371 609.5h1.0M382 595.6h1.0M360.1 599h1.0M371.3 602.8h1.0M362.6 600.7h1.0M369.2 606h1.0M373.6 615.6h1.0M385.5 574.6h1.0M364.3 587.8h1.0M381.6 591.8h1.0M376.8 599.8h1.0M379.5 616.5h1.0M370.8 580.3h1.0M377.7 615.2h1.0M371.6 581.3h1.0M363.4 606h1.0M366.8 606.6h1.0M369.2 594.2h1.0M382.6 588.9h1.0M390.6 608.8h1.0M388 596.3h1.0M365.4 602h1.0M382.1 611.1h1.0M369.8 593.4h1.0M358.1 589.3h1.0M372 601.5h1.0M381.7 617.4h1.0M359.1 600.8h1.0M369.8 613.9h1.0M382 578.4h1.0M366.7 607.7h1.0M381.1 593.9h1.0M387.7 595.7h1.0M381.2 574.7h1.0M376.2 620.3h1.0M371.8 607.3h1.0M365.3 610.5h1.0M380 586.6h1.0M373.5 578.1h1.0M369.2 611.7h1.0M377.1 586h1.0M387.4 598h1.0M359 597.5h1.0M378.6 572.9h1.0M369.8 586.9h1.0M363 588h1.0M359.5 591.4h1.0M372.9 601.2h1.0M387 584.9h1.0M357.4 593.8h1.0M386.6 588.4h1.0M361.4 596h1.0M387.6 602.3h1.0M365 589.4h1.0M357.8 592.4h1.0M365.7 592.5h1.0M370.6 581h1.0M372.2 602.4h1.0M361.3 602.1h1.0M384.2 582.9h1.0M362.4 588.8h1.0M376.1 604.5h1.0M386.1 595.1h1.0M359.9 588.6h1.0M374.5 579.1h1.0M380.8 584h1.0M361.8 589h1.0M377 587.1h1.0M385.6 582.7h1.0M358 604.8h1.0M384.2 570.8h1.0M370.9 591.1h1.0M383.2 592h1.0M386.2 599.7h1.0M373.9 608.7h1.0M389.2 579.3h1.0M361.2 588h1.0M377.8 588.7h1.0M371.7 601.4h1.0M383.7 603.4h1.0M362.2 594.6h1.0M378 600.1h1.0M359.7 599.9h1.0M356 597.6h1.0M383.7 576.3h1.0M378.4 621.4h1.0M388.3 609.1h1.0M370.5 597.1h1.0M384.6 599.5h1.0M359.2 587.3h1.0M376.5 575.6h1.0M369.2 580.4h1.0M367.7 589.2h1.0M375.9 596.4h1.0M356.3 594.5h1.0M374 611.6h1.0M371.8 599.5h1.0M367.4 593.1h1.0M382.7 579.2h1.0M376.5 582.7h1.0M368.2 613.2h1.0M357.9 604.1h1.0M373.1 592.5h1.0M366 594.5h1.0M390.1 593.3h1.0M373 581.2h1.0M388.2 598.4h1.0M373.4 604.8h1.0M370.2 609.1h1.0M367.9 600.9h1.0M383.3 583.1h1.0M373.2 619.2h1.0M366.4 585.1h1.0M366.5 603.5h1.0M369.3 602.7h1.0M360.9 604.9h1.0M389.7 587.6h1.0M372.9 607.6h1.0M380.3 586.9h1.0M360 591.5h1.0M360.7 591.1h1.0M376.8 621.6h1.0M384.9 572h1.0M383.4 593.7h1.0M375.5 580.4h1.0M366.1 592.8h1.0M388.5 594h1.0M384.5 598.1h1.0M368.5 589.1h1.0M369.6 610.3h1.0M385.8 592.4h1.0M378.8 618.6h1.0M384.3 609.7h1.0M389.9 602.4h1.0M384.3 605h1.0M385.9 575.3h1.0M377.2 613.2h1.0M359.7 601.7h1.0M363.4 604.2h1.0M390 586.4h1.0M376.4 579.3h1.0M374.2 597h1.0M373.7 605.1h1.0M386.8 578.7h1.0M376.6 600.8h1.0M365.1 589.2h1.0M362 604.7h1.0M376.6 581.3h1.0M390.2 607.2h1.0M361.1 606h1.0M364.3 582.6h1.0M355.7 594h1.0M381 595.7h1.0M375.2 585.7h1.0M360.1 591.7h1.0M380.6 576.1h1.0M379.1 602.7h1.0M367.6 580.6h1.0M384.2 576.8h1.0M381.3 612.5h1.0M386.6 592.8h1.0M387.2 586.6h1.0M377.3 612.2h1.0M387.6 570.8h1.0M356.9 601.1h1.0M381.9 596h1.0M384.3 569h1.0M373.2 578.1h1.0M383.8 608.8h1.0M367.6 591h1.0M371.3 619.7h1.0M370.6 581.5h1.0M359.8 605.2h1.0M377 597.6h1.0M372.8 592.8h1.0M380.3 581.2h1.0M365.1 606.6h1.0M370 601.4h1.0M375.4 604.5h1.0M377.1 612.6h1.0M377.9 576.6h1.0M368.3 590.6h1.0M366.7 587.6h1.0M388 578.6h1.0M386.5 583.1h1.0M383.1 572.2h1.0M365.8 601.1h1.0M375.6 595.2h1.0M368.5 602.5h1.0M388.1 586.8h1.0M376.6 599.7h1.0M366.1 601.5h1.0M384.5 596.5h1.0M357.3 597.1h1.0M360.9 605.5h1.0M365.6 588.6h1.0M374.6 589.5h1.0M374.2 616.1h1.0M374.1 605.5h1.0M376.3 586.3h1.0M378.2 616.3h1.0M381.3 610.2h1.0M386.8 569.5h1.0M383.5 609.9h1.0M364 605.7h1.0M385.9 604.7h1.0M373.4 613.3h1.0M363 590.9h1.0M389.5 576.9h1.0M364.8 595.8h1.0M386.2 595.8h1.0M385.8 608h1.0M377.6 590.1h1.0M375 620.2h1.0M374.9 579.7h1.0M377.3 601.9h1.0M379.4 570.8h1.0M381.6 617.4h1.0M380 599.4h1.0M359.2 601.6h1.0M379.9 580.1h1.0M389.7 600.5h1.0M376.6 606.8h1.0M380.3 613.4h1.0M362.5 602.7h1.0M373.2 620.6h1.0M371.2 601.2h1.0M382.2 591h1.0M382.6 599.7h1.0M371.3 605.1h1.0M378.2 607.4h1.0M369.7 617h1.0M361 595.5h1.0M370.7 612.7h1.0M367.7 611.7h1.0M369.3 607h1.0M367.6 586.7h1.0M361.3 593h1.0M387.2 608.4h1.0M375.2 590.5h1.0M374 620.3h1.0M379.6 610.7h1.0M376.9 592h1.0M381.2 617.7h1.0M369.6 597.2h1.0M357.3 590.3h1.0M368 612.1h1.0M384.6 583.1h1.0M375.4 608h1.0M379 586.4h1.0M374.8 595.6h1.0M366 582.1h1.0M363.9 604.5h1.0M381.7 593.7h1.0M377.4 586.9h1.0M369.3 596.3h1.0M381.4 601.9h1.0M386.6 599.5h1.0M366.1 601.5h1.0M386.1 612h1.0M381.6 601.5h1.0M368.4 586.4h1.0M382.4 593.2h1.0M380.2 591.5h1.0M371.2 593.3h1.0M372.5 601.9h1.0M378.7 575.5h1.0M387.6 587.7h1.0M377.5 608.9h1.0M388.2 575.6h1.0M375.9 620.9h1.0M360.1 584.7h1.0M366.5 593.7h1.0M379.2 569.6h1.0M373.1 586.9h1.0M359.4 586.8h1.0M379.1 600.7h1.0M367.5 601.9h1.0M362.6 593.7h1.0M390 602.4h1.0M384.4 574.9h1.0M381.8 582.4h1.0M374.1 619.4h1.0M373.5 607.2h1.0M373.8 608.8h1.0M387.8 574.6h1.0M377.1 607.3h1.0M375.3 618.4h1.0M383.4 602.1h1.0M386.3 584.1h1.0M367.1 611.1h1.0M386.9 583.6h1.0M371.2 618.4h1.0M372.2 604.9h1.0M375 584.8h1.0M369.6 581.8h1.0M366.3 596.4h1.0M360.4 604.3h1.0M390.2 602.1h1.0M385.3 571.9h1.0M385.4 612.6h1.0M377.4 607.8h1.0M367.6 611.4h1.0M389.4 604.8h1.0M375.7 607.4h1.0M379.6 586.3h1.0M378.3 587.1h1.0M389.9 598.8h1.0M372.2 595.6h1.0M385.4 571.3h1.0M373.9 604.8h1.0M381.4 617.1h1.0M372.7 613.3h1.0M366.5 594h1.0M388.6 605.5h1.0M359.8 606.4h1.0M375.4 579.6h1.0M378.3 602.1h1.0M389 590.4h1.0M363.9 599h1.0M367.6 604.3h1.0M388.9 590.4h1.0M377.5 580.1h1.0M366 591.1h1.0M375.3 589.2h1.0M364.6 602.2h1.0M378.2 612.4h1.0M379.5 586.9h1.0M383.7 611.1h1.0M375.8 581.2h1.0M371.4 586h1.0M370.5 611.6h1.0M377.4 618h1.0M360.4 601.2h1.0M366.1 588.1h1.0M376.2 621h1.0M386.5 600h1.0M364.4 587.5h1.0M368.2 585.5h1.0M366.5 600.2h1.0M389.7 604.1h1.0M380.9 593.6h1.0M373.9 588.6h1.0M379.5 577.7h1.0M372.1 588.2h1.0M361.6 605h1.0M387.8 604.7h1.0M364.6 590.2h1.0M390.4 594.8h1.0M381.7 617.5h1.0M390.1 596.8h1.0M383.4 580.9h1.0M374.8 618.2h1.0M375.2 618.9h1.0M376 588h1.0M374.8 610.6h1.0M385.4 573.3h1.0M360 604.1h1.0M388.6 597.2h1.0M365.7 589.7h1.0M368.6 580h1.0M366.7 584.4h1.0M389.6 603.8h1.0M382.2 610.4h1.0M378.1 610.8h1.0M381.3 611.3h1.0M384.8 568.5h1.0M368.7 601.6h1.0M372.9 594.4h1.0M384.6 576.6h1.0M379 599h1.0M375.8 611.1h1.0M378.6 617.9h1.0M389.8 585.5h1.0M373.8 616.2h1.0M382.9 603.4h1.0M381.4 581.6h1.0M383.4 576.5h1.0M373.8 604h1.0M365.4 605.5h1.0M390.9 588.2h1.0M370.3 596.1h1.0M384.2 593.9h1.0M389.5 585.9h1.0M378.1 603.4h1.0M362.3 606.1h1.0M375.8 610.7h1.0M359.7 586.2h1.0M369.7 587h1.0M372.2 584.5h1.0M384.7 592.9h1.0M368.6 591.5h1.0M370.9 587.8h1.0M369.6 581.2h1.0M369.3 580.7h1.0M364 598.4h1.0M358.6 601.3h1.0M380.9 572.3h1.0M379.9 584.2h1.0M360.6 585.8h1.0M379.3 609.5h1.0M374.2 619.4h1.0M360.1 594.2h1.0M369.5 591h1.0M369.3 606h1.0M388.5 575.4h1.0M385 598.7h1.0M385.4 581.8h1.0M361.8 584.5h1.0M370.9 597.2h1.0M367.7 593.3h1.0M385.5 583.1h1.0M386.1 587.7h1.0M382.1 581.8h1.0M388.2 594.5h1.0M356.4 598.3h1.0M363.1 603.5h1.0M386.5 586.3h1.0M379.1 591.9h1.0M377.4 572h1.0M374.9 595.6h1.0M376.4 616.9h1.0M376.7 605.3h1.0M358.5 600.9h1.0M359.3 592.9h1.0M386 604.1h1.0M374 600.7h1.0M375.6 618.4h1.0M383.9 599h1.0M362.7 591.9h1.0M364.8 595.9h1.0M372.6 602.7h1.0M375.3 589.9h1.0M369.3 606h1.0M366.3 580.6h1.0M386.1 569.2h1.0M356.6 596.1h1.0M360.7 586.9h1.0M373.9 592h1.0M388.2 593.5h1.0M365.8 608.8h1.0M368.6 590.2h1.0M366.2 611.5h1.0M360.5 592.5h1.0M379.6 601.6h1.0M385.7 573.7h1.0M387.4 590.6h1.0M381.3 603.1h1.0M379.8 574.7h1.0M373.4 591.9h1.0M378.2 578.1h1.0M361.7 604.5h1.0M370.1 605.5h1.0" stroke="#6a6a6a" stroke-width="0.6" fill="none"/>
<path d="M377.4 730.6h1.0M381.8 737.1h1.0M387.1 735.3h1.0M382.7 728.6h1.0M367.7 710.8h1.0M360.9 721.3h1.0M386.7 718.8h1.0M389.3 726.2h1.0M378.4 695.6h1.0M365.9 719.6h1.0M381.3 725.4h1.0M379.5 737.5h1.0M379 717.7h1.0M373.9 694.7h1.0M382 718.2h1.0M372.1 691.2h1.0M382.5 708h1.0M364.4 701.5h1.0M362.5 725.3h1.0M368.4 704.7h1.0M383.2 715.3h1.0M366.8 712.6h1.0M376.3 730.4h1.0M382.5 712.3h1.0M364.6 719.3h1.0M374.9 738.2h1.0M362.7 729.9h1.0M366.7 706.2h1.0M370.2 706.9h1.0M367.9 724h1.0M367.1 711.4h1.0M373.3 720.1h1.0M376.4 711h1.0M374 709.1h1.0M360.9 721.4h1.0M362.8 702.8h1.0M365.9 692.7h1.0M363.1 712.9h1.0M388.9 717.2h1.0M377.1 698.7h1.0M380.5 697.1h1.0M360.7 724.6h1.0M370.7 738.4h1.0M366.1 720.9h1.0M370.6 726.7h1.0M365.7 701.3h1.0M372.1 715.9h1.0M372.4 706.1h1.0M358.7 715.8h1.0M389.9 710.7h1.0M374.2 702.6h1.0M376.2 731.1h1.0M371.4 703.2h1.0M386.3 728.6h1.0M357.2 717h1.0M372.9 730h1.0M383.7 710.5h1.0M383.7 706.8h1.0M379.5 721.9h1.0M362.2 706.7h1.0M380 737.1h1.0M363.1 695.2h1.0M383.2 698.8h1.0M375.6 711.7h1.0M384.1 727.7h1.0M359.7 724.9h1.0M357.9 707.9h1.0M372.3 705.9h1.0M369.5 733.3h1.0M365 716.1h1.0M365.7 718h1.0M364.1 731.1h1.0M369.2 693h1.0M380.8 707.6h1.0M378 719.6h1.0M383.4 724.8h1.0M368.4 694.7h1.0M375.1 710.6h1.0M378.5 706h1.0M376.8 732.5h1.0M362.7 696.8h1.0M377.3 739.3h1.0M367.7 736.3h1.0M365.4 709.2h1.0M374.7 723.5h1.0M381.8 730h1.0M384 705.8h1.0M364.8 700.7h1.0M382.7 725.2h1.0M376.7 737.9h1.0M387.9 713.8h1.0M371.8 713.3h1.0M387.1 718.8h1.0M377.3 737.2h1.0M372.5 736.9h1.0M372.8 722.1h1.0M381.6 719.4h1.0M368.6 697.2h1.0M373.5 711.1h1.0M378 728.1h1.0M365.8 706.4h1.0M383.6 706.6h1.0M367.4 711.7h1.0M370.8 709.6h1.0M370.6 720.4h1.0M365.5 725h1.0M387.3 734.1h1.0M385.7 711.9h1.0M371.6 723.5h1.0M377.5 699.8h1.0M372.7 717.6h1.0M373.9 707.7h1.0M378 725h1.0M369.4 734.2h1.0M383.7 707.9h1.0M362.6 711.4h1.0M385.2 715h1.0M364.5 710.1h1.0M385.2 708.6h1.0M367.3 727.8h1.0M372.3 737h1.0M374.4 733.9h1.0M382.5 711.1h1.0M387.8 707.7h1.0M368.6 712.4h1.0M368.3 715.8h1.0M368 693.8h1.0M388 729.3h1.0M380.4 707.6h1.0M384.9 703.6h1.0M360 723.3h1.0M363.5 725.1h1.0M365.8 707h1.0M387.1 715.3h1.0M376.2 732.3h1.0M382.2 704h1.0M368.7 726.1h1.0M385 725.6h1.0M379 698.1h1.0M386.2 735.4h1.0M384 709.1h1.0M377.3 724.7h1.0M365.3 696.1h1.0M388.2 730.1h1.0M373.8 730.8h1.0M376.6 738.2h1.0M373.8 739.2h1.0M389 714h1.0M359.8 708.6h1.0M357.5 717.1h1.0M372.5 713.2h1.0M370.3 714.6h1.0M386.9 725.8h1.0M377.1 710.8h1.0M374.2 692.6h1.0M359 712.9h1.0M376 693.6h1.0M388.9 726.6h1.0M360.2 704.6h1.0M368.4 713.3h1.0M370 727.5h1.0M372.4 709.7h1.0M361.8 724.8h1.0M364 708.1h1.0M382.8 717h1.0M377.4 721.9h1.0M371.1 711.4h1.0M358.6 724.4h1.0M372.1 733.6h1.0M369.4 689.9h1.0M373.4 732.6h1.0M370.2 694.3h1.0M370.7 702.5h1.0M360.8 726.1h1.0M363.1 696.9h1.0M380.6 698h1.0M383.9 730.1h1.0M380.7 722h1.0M372.5 689.2h1.0M373.1 707.3h1.0M375 727.2h1.0M368.9 711.8h1.0M377.6 731.5h1.0M385.5 709.2h1.0M380.4 714.7h1.0M372.9 730.5h1.0M383.2 699.3h1.0M373.8 707.1h1.0M376.7 726.6h1.0M365.7 716.6h1.0M377.8 730.8h1.0M362.3 718.2h1.0M366.7 734.3h1.0M361.1 719.9h1.0M380.3 717.2h1.0M369.3 700.6h1.0M374.5 724.9h1.0M373.9 699.9h1.0M367 727.9h1.0M369.2 699h1.0M377.2 706h1.0M365.2 716.7h1.0M371.5 717.4h1.0M360.1 708.9h1.0M378.3 706.4h1.0M359.1 714.6h1.0M378.2 725.8h1.0M369.4 718.9h1.0M370.7 714.2h1.0M386.1 728.6h1.0M382.7 705.1h1.0M381 727.6h1.0M378 694h1.0M374.1 739.4h1.0M374.4 701.8h1.0M367.1 700.9h1.0M382.1 735.5h1.0M373.7 731.5h1.0M370.9 699.5h1.0M382 723.3h1.0M369.4 733.3h1.0M374 731.7h1.0M375.3 705h1.0M376.7 720.2h1.0M367.9 720.5h1.0M366.3 698h1.0M373.6 719.8h1.0M379 733.8h1.0M378.2 699.2h1.0M365.3 723.6h1.0M387.8 714.3h1.0M387.7 730.4h1.0M384 701h1.0M362.7 711.8h1.0M361.2 706.7h1.0M363.1 719.7h1.0M378.2 711.9h1.0M371.6 734h1.0M368.6 688.6h1.0M381 736.5h1.0M378.4 698.8h1.0M370.4 691.9h1.0M381.7 701.5h1.0M366.5 721.3h1.0M384.3 717.3h1.0M368.7 726.1h1.0M380.5 722.7h1.0M373.1 698h1.0M378.7 732.4h1.0M367.5 696.2h1.0M367.3 708.8h1.0M376.9 738.6h1.0M376.8 705.3h1.0M389.7 723.6h1.0M379.2 704.1h1.0M365 694.7h1.0M365.4 693.2h1.0M380.8 705.1h1.0M373.1 715.6h1.0M388.7 716.2h1.0M386.6 709.3h1.0M375.6 722.7h1.0M389.8 724.6h1.0M389 708.3h1.0M370.7 690.4h1.0M372.2 701.7h1.0M364.4 732.6h1.0M357.8 712.5h1.0M373.8 694.6h1.0M374.6 704.2h1.0M372.8 736.8h1.0M385.1 718.8h1.0M386.8 716h1.0M380.1 710h1.0M375.2 711.7h1.0M375.7 703.2h1.0M381.8 703.1h1.0M372.4 716h1.0M378.5 736.3h1.0M374.8 712.4h1.0M370.2 695.8h1.0M376.4 709.6h1.0M377.7 711.9h1.0M380.3 700.5h1.0M371.3 702.2h1.0M379.6 721.1h1.0M375.9 702.6h1.0M376 700.3h1.0M365.7 721.8h1.0M373.7 710.7h1.0M376.2 724.3h1.0M374.8 695.7h1.0M380.1 695.3h1.0M370.8 712.2h1.0M380.7 716h1.0M364.8 725h1.0M379.7 714.7h1.0M379.1 719.5h1.0M360.9 718.8h1.0M376.3 707.1h1.0M389.3 709.6h1.0M378.1 698.2h1.0M381.3 736.5h1.0M369.2 703.1h1.0M365.8 732.7h1.0M368.1 710.1h1.0M364.7 711.8h1.0M364.3 698.6h1.0M366.2 721h1.0M368.7 697.9h1.0M356.5 714.5h1.0M388.8 712h1.0M367.1 735.6h1.0M380.1 735.4h1.0M369.2 726.4h1.0M369.6 723.5h1.0M363.4 694.9h1.0M366.9 693.4h1.0M362.2 705.1h1.0M387.8 709.8h1.0M377 732.3h1.0M380.9 735.9h1.0M364.7 709h1.0M382.7 710.5h1.0M360.8 722.7h1.0M374.8 731.7h1.0M370.1 711.4h1.0M381.6 716.5h1.0M386.9 734.9h1.0M371.7 730.2h1.0M365.9 690.7h1.0M388.6 732.6h1.0M379.8 711h1.0M376.8 716.1h1.0M373.1 704.3h1.0M380.9 699.4h1.0M386 720.1h1.0M359.9 709.8h1.0M381.7 731.5h1.0M361.1 709h1.0M380.8 701.5h1.0M384.6 734h1.0M366.4 707.1h1.0M375.4 702.2h1.0M374.3 726.1h1.0M360.4 719.1h1.0M375 707.9h1.0M363.6 706.5h1.0M380.7 711.6h1.0M360.5 724.5h1.0M383.2 712.1h1.0M359.8 716.2h1.0M385.4 724.8h1.0M383.1 730.6h1.0M365.5 713.3h1.0M374.2 693.1h1.0M386.8 730.5h1.0M385.9 728.6h1.0M387.6 715.5h1.0M370.8 723.5h1.0M366.2 698.3h1.0M357.1 713.8h1.0M374.1 725.5h1.0M385.4 720.9h1.0M382.6 722.7h1.0M387.7 707.2h1.0M375.2 697.6h1.0M374.8 736.4h1.0M380.1 717h1.0M385.2 718.1h1.0M378.5 724.4h1.0M369.4 697.9h1.0M361.3 730.3h1.0M364 703.5h1.0M382.6 703.4h1.0M381.7 737.7h1.0M370.7 701.4h1.0M380.2 733.1h1.0M387.6 730.4h1.0M362.1 699.4h1.0M370.2 701.4h1.0M379.6 738h1.0M378.7 729.1h1.0M385.3 713.9h1.0M370.3 727.6h1.0M369.2 711.2h1.0M378.8 712.2h1.0M383.8 736.8h1.0M368.3 688.8h1.0M367.1 719.2h1.0M386.6 725.3h1.0M366.8 719.6h1.0M383.2 711.9h1.0M374.6 708.3h1.0M374.1 704h1.0M373.1 692h1.0M361.2 712.1h1.0M378.6 714.5h1.0M376.7 727.5h1.0M385.4 715.6h1.0M376.8 714.5h1.0M366.9 728.4h1.0M375.5 699.1h1.0M380.3 723.6h1.0M368.5 686.8h1.0M384.7 708h1.0M369.4 710.6h1.0M367.5 701.9h1.0M380.4 725.5h1.0M368.7 731.7h1.0M385.8 736.2h1.0M364 722.6h1.0M371.6 714.5h1.0M380.3 724.8h1.0M379.7 730.9h1.0M381.7 718h1.0M383.2 710.7h1.0M369.4 718.2h1.0M389 733h1.0M381.6 708.1h1.0M383.3 728.1h1.0M364.6 720.1h1.0M366.8 734.2h1.0M369.2 732.4h1.0M375.5 721.7h1.0M361.6 711.4h1.0M381.1 716.9h1.0M383.2 727.2h1.0M371.9 699.2h1.0M365.9 723.7h1.0M385.6 730.2h1.0M366.6 706.6h1.0M386.4 707.4h1.0M389.4 713h1.0M375.2 738.5h1.0M373 735.3h1.0M368 721.9h1.0M383.5 714.1h1.0M380 697.4h1.0M374 739.2h1.0M374.8 693.2h1.0M373.8 694.8h1.0M381 724.3h1.0M387.9 729.2h1.0M371.6 710h1.0M376.6 714h1.0M366.3 710.6h1.0M373.2 710.5h1.0M362.5 711.1h1.0M372.7 727.8h1.0M373.9 726.7h1.0M373.6 730.4h1.0M370.8 725.8h1.0M361.8 724.3h1.0M387.4 727.5h1.0M362.6 727.3h1.0M376.2 726.1h1.0M368.1 698.7h1.0M365.5 726.6h1.0M371.6 698.4h1.0M385.3 715.1h1.0M363.5 697h1.0M370.4 723.7h1.0M377.5 731.8h1.0M367.2 731.7h1.0M381.4 710.8h1.0M384.2 728.5h1.0M374.7 712.2h1.0M381.7 718h1.0M370.6 723.3h1.0M366.7 735.9h1.0M359.5 724h1.0M376.9 713.1h1.0M370.1 715.9h1.0M384.9 701.1h1.0M362.6 716h1.0M357.8 712.2h1.0M377.1 708.3h1.0M383.2 704.8h1.0M372.8 699.7h1.0M373.1 698.7h1.0M373.5 693.5h1.0M386.2 713.6h1.0M384.8 717.6h1.0M360.4 709.5h1.0M371 705.7h1.0M358.7 725.2h1.0M383.9 715.9h1.0M359.9 716.2h1.0M375.5 713.9h1.0M373.6 706.9h1.0M370 690.1h1.0M382.1 700.6h1.0M361.3 723.6h1.0M365.2 727.2h1.0M363.5 718.4h1.0M378.4 723.6h1.0M380.5 728.9h1.0M382.7 719.1h1.0M365.7 697.8h1.0M381.3 731.6h1.0M387.6 720.6h1.0M370.6 733.9h1.0M373.6 699.6h1.0M384.1 709.9h1.0M385 721.7h1.0M370 722.8h1.0M385.9 705.4h1.0M366.7 702.2h1.0M362.3 725.1h1.0M372.3 701.8h1.0M388.4 733.7h1.0M370.7 691h1.0M373.9 693.5h1.0M370 699.1h1.0M363.6 719.6h1.0M380.2 730.3h1.0M363.7 718.8h1.0M381.4 698.5h1.0M363.6 729.1h1.0M370 706.3h1.0M388.3 707.2h1.0M375 702.2h1.0M364.7 730.6h1.0M388.1 713.1h1.0M388.3 717.6h1.0M366.7 725.3h1.0M364.9 719.8h1.0M373.9 713.4h1.0M376 699.7h1.0M369.1 716.1h1.0M380.5 718.7h1.0M363.1 718.5h1.0M376 711.9h1.0M383.7 714.3h1.0M368.2 727.3h1.0M382.6 716h1.0M380.9 718.3h1.0M383.2 723h1.0M368 709.8h1.0M366.5 726.7h1.0M377.8 717h1.0M363.4 703.3h1.0M384.7 719.1h1.0M372.1 713.2h1.0M382.2 737.8h1.0M369.6 697.4h1.0M378.2 719.2h1.0M363.1 708.4h1.0M390 718.5h1.0M367 697.6h1.0M364.4 718.3h1.0M381.6 725.7h1.0M375.6 702.7h1.0M383.1 733.9h1.0M374.7 728.6h1.0M374.6 715.6h1.0M380.3 706.3h1.0M370.6 687.9h1.0M374.3 705.7h1.0M360.2 706h1.0M372.8 710.4h1.0M364.7 701.6h1.0M379 724h1.0M381.3 710.5h1.0M377.3 718.1h1.0M366.4 700.5h1.0M371.8 718.2h1.0M378.7 723.4h1.0M366.3 719h1.0M376.3 705.1h1.0M363.3 700.6h1.0M383.8 709.4h1.0M367.7 725.6h1.0M382.7 734.3h1.0M377.3 737.7h1.0M359.4 706.1h1.0M387.2 735.9h1.0M364.1 716.3h1.0M385 714.5h1.0M390.3 727.5h1.0M376.8 691.3h1.0M359.7 721.8h1.0M376.8 709.6h1.0M374.1 729.3h1.0M378.7 696.4h1.0M388.2 729.8h1.0M381.9 737.5h1.0M385 732.4h1.0M365.3 694.8h1.0M370.1 731.9h1.0M385.1 726.6h1.0M381.6 721.9h1.0M383.5 705.4h1.0M378.8 720.2h1.0M380.3 715.1h1.0M389.7 730.9h1.0M372.8 732h1.0M381.1 702.4h1.0M373 700h1.0M365.7 706.3h1.0M368.4 722.6h1.0M390 731.8h1.0M372.6 737.1h1.0M369.9 722.9h1.0M368.6 713.6h1.0M377 696.4h1.0M365.5 708.8h1.0M372.8 703.2h1.0M368.1 705.3h1.0M375.9 729.1h1.0M383.8 705.8h1.0M365.7 729h1.0M370.2 700.8h1.0M379.2 701h1.0M363.5 721.5h1.0M362 723.5h1.0M380.9 702.1h1.0M359.9 722.8h1.0M388.1 718.9h1.0M369.2 730.3h1.0M369.2 737.7h1.0M363.3 703.7h1.0M382 722.7h1.0M373.4 735.2h1.0M390 730.4h1.0M364.4 718.2h1.0M370.3 699.4h1.0M385.7 703.8h1.0M363.6 693.8h1.0M385 705.6h1.0M364.1 706.8h1.0M385.4 727.6h1.0M363.8 696.2h1.0M378.2 731.3h1.0M377 730.2h1.0M363.4 723.8h1.0M369.9 715.2h1.0M376.8 695.1h1.0M363.1 716.8h1.0M369.3 723.7h1.0M377.8 695.7h1.0M382.9 732.9h1.0M364.7 707.5h1.0M376.1 693.7h1.0M375.1 691.8h1.0M373.7 733.8h1.0M371.5 709.1h1.0M370.9 712.6h1.0M374.8 720.5h1.0M381.3 720.9h1.0M376.2 735h1.0M376.6 739.7h1.0M381.9 737.3h1.0M369.2 688.8h1.0M382.4 717.2h1.0M363.1 712.9h1.0M371.9 712.4h1.0M363.6 718.8h1.0M388.5 719.7h1.0M383.8 719.6h1.0M366.2 698.4h1.0M376.8 711.6h1.0M362.2 709.6h1.0M387.2 718.2h1.0M378.2 736.9h1.0M379.7 735.4h1.0M389.6 717.6h1.0M379.9 726h1.0M381.6 726.8h1.0M383.9 699.6h1.0M387.6 710.5h1.0M381.3 733.1h1.0M368.3 707.8h1.0M365.6 705.5h1.0M362.9 708.6h1.0M374.9 716.5h1.0M364.7 712.5h1.0M377.6 736.4h1.0M375.6 723.1h1.0M367.1 733.7h1.0M373.6 728.1h1.0M384.6 705h1.0M367 708.9h1.0M370.6 707.6h1.0M367.5 692.7h1.0M364.6 728.1h1.0M362.1 722.4h1.0M383.5 704.5h1.0M366.2 698.4h1.0M368.2 694.3h1.0M369.7 734.3h1.0M381.8 714.9h1.0M380.3 697.2h1.0M378.6 726.6h1.0M382.9 720.3h1.0M376.1 738.6h1.0M383.5 732.5h1.0M374.8 731h1.0M363.4 726.6h1.0M378.2 721.7h1.0M362.5 715.3h1.0M381.3 721.1h1.0M376.7 697.8h1.0M381.5 737.9h1.0M371.2 691.3h1.0M386.7 707.8h1.0M364.6 697.6h1.0M364.8 714h1.0M371.5 692.5h1.0M381.3 735.5h1.0M362 726.4h1.0M363.8 714.8h1.0M384.6 715.9h1.0M375.4 720.3h1.0M371.6 691.3h1.0M382.1 697.1h1.0M376.9 724.2h1.0M378.9 698.7h1.0M366.2 696h1.0M369.1 730h1.0M389.1 709.4h1.0M379.2 702.7h1.0M383.4 734.3h1.0M376.2 723.6h1.0M365.3 733.5h1.0M374.5 723.2h1.0M364.8 698.8h1.0M375.8 702.9h1.0M361.9 714h1.0M378.2 737.4h1.0M373 694.9h1.0M377.4 702.4h1.0M357.7 713.7h1.0M362.8 699.9h1.0M361.2 714h1.0M385.3 703.9h1.0M375.5 707.9h1.0M383.6 718.1h1.0M380.1 736.6h1.0M376.8 724.4h1.0M375.9 702.5h1.0M378.3 703.3h1.0M369.3 706.6h1.0M366.7 708.5h1.0M372.1 709.2h1.0M382.9 722.9h1.0M384.5 704.7h1.0M372.2 705.6h1.0M365.7 731.5h1.0M383.6 733.8h1.0M379.7 695.5h1.0M382.6 720h1.0M373.6 738.4h1.0M363.2 718.5h1.0M370.6 716h1.0M370.5 696.3h1.0M373.3 694.3h1.0M373.9 695.3h1.0M383.9 716.5h1.0M381.3 701.4h1.0M364.8 704.3h1.0M383.1 736.2h1.0M387.6 733.8h1.0M362.2 702.4h1.0M368.9 725.4h1.0M370.7 710.7h1.0M367.9 726.3h1.0M373 730.2h1.0M361.3 701.5h1.0M365.4 695.3h1.0M375.7 719.3h1.0M371.9 696.2h1.0M376.2 693.2h1.0M380.9 725.2h1.0M382.5 728.4h1.0M382.8 710.6h1.0M378.2 706h1.0M374.8 689.8h1.0M373.3 729.1h1.0M370.5 712.2h1.0M384.3 698.6h1.0M384.5 700.9h1.0M376.1 690.6h1.0M369.8 725.6h1.0M359 725.9h1.0M367 704.1h1.0M366.1 709.8h1.0M370.5 732.2h1.0M367.6 734.7h1.0M363 712.9h1.0M389.1 716.6h1.0M388.5 724.3h1.0M365.1 703.9h1.0M365.6 734.6h1.0M377.6 726.8h1.0M376.8 738.4h1.0M381.9 737.4h1.0M361.1 722.4h1.0M379.7 704.9h1.0" stroke="#6a6a6a" stroke-width="0.6" fill="none"/>
<path d="M416.5 574.5h1M419.9 566.1h1M422.4 560.2h1M425.7 555.2h1M426.6 561.9h1M428.3 564.4h1M427.4 570.3h1M431.6 553.5h1M434.1 551h1M440 551.8h1M440.8 556.9h1M436.6 609.7h1M406.4 608.9h1M409.5 620.6h1M408.4 625.7h1M435 675.3h1M440 680.3h1M442.5 681.1h1M423.2 690.4h1M420.7 695.4h1M419.9 703h1M419.9 710.5h1M419.9 713h1M404.8 738.2h1M408.1 743.3h1M410.6 744.9h1M413.1 743.3h1M418.2 748.3h1M415.7 754.2h1M412.3 716.4h1" stroke="#777" stroke-width="0.7" fill="none"/>
<path d="M393.8 593h0M394.5 591h0M393 598.8h0M396.4 601.3h0M403.9 597.1h0M407.3 589.6h0M409.5 586.2h0M409 595.5h0M395 592.5h0M394 596h0" stroke="#f08a2a" stroke-width="1.2" stroke-linecap="round" fill="none"/>
<path d="M397.7 716.8h0M393.7 722.4h0M393.2 717.8h0M401 731.4h0M393.9 719h0M401.1 731.1h0M392.2 722.3h0M401.6 715.9h0M393.8 722h0M397.3 723.6h0M405.6 731.4h0M393.1 720.6h0M401.7 713.6h0M392.4 712.5h0M392.8 719.2h0M410 729h0M401.6 716.3h0M392.5 719.5h0M395.2 721.4h0M393.7 734.7h0M404.6 712.3h0M392.1 717.5h0M398 726.3h0M409 729h0M395.7 722.6h0M405.9 711.6h0M399.2 727.2h0M395 724.3h0M394.1 717.3h0M393.1 714.9h0M394.3 718.9h0M399.7 731.7h0M402.9 722.7h0M392.5 717.6h0M397.1 717.6h0M393.5 727.5h0M393.7 720.4h0M394.9 715h0M406.3 715h0M398.8 722h0M393.8 710.3h0M393.5 714.4h0M396.8 710.8h0M397.6 732.9h0M409.9 729.1h0M400.6 729h0M401.5 723.1h0M394.1 715.7h0M402.2 728h0M396.8 724.3h0M395.9 728.1h0M396 715.8h0M392.1 718.2h0M392.5 712.2h0M407.1 717.5h0M392.9 719.6h0M392 717.7h0M397.2 712h0M391.5 716.6h0M399.2 718.6h0M392.5 720h0M392.2 729.8h0M407 733.5h0M407.2 724h0M392.8 724.2h0M398.9 728.2h0M396.5 720.9h0M397.6 722.3h0M399.9 713.4h0M394.3 713.6h0M392.4 716.1h0M410.4 718.4h0M398 726.5h0M398.5 720h0M393.2 723.4h0M395.1 710.1h0M394.7 721.7h0M395.8 717.6h0M396.8 715.2h0M392.7 726h0M396.1 713.8h0M406.7 727.5h0M401.8 722.3h0M408.5 720.3h0M399.7 729h0M399.5 711.9h0M395.7 713.4h0M394.7 722.5h0M404 725.3h0M398.2 714.5h0M393.5 718h0M392.5 725.4h0M394.1 717.5h0M394.8 721.2h0M395.6 716.2h0" stroke="#f08a2a" stroke-width="1.2" stroke-linecap="round" fill="none"/>
<rect x="391.3" y="582" width="19.8" height="24.4" fill="none" stroke="#111" stroke-width="1.1"/>
<text x="401.4" y="577" font-size="8.8" text-anchor="middle">0.86</text>
<rect x="346.6" y="530.2" width="114" height="113.6" fill="none" stroke="#111" stroke-width="1.5"/>
<line x1="344.8" y1="540.8" x2="346.6" y2="540.8" stroke="#111" stroke-width="0.8"/>
<line x1="343.6" y1="553.3" x2="346.6" y2="553.3" stroke="#111" stroke-width="0.8"/>
<line x1="344.8" y1="565.8" x2="346.6" y2="565.8" stroke="#111" stroke-width="0.8"/>
<line x1="344.8" y1="578.3" x2="346.6" y2="578.3" stroke="#111" stroke-width="0.8"/>
<line x1="343.6" y1="590.8" x2="346.6" y2="590.8" stroke="#111" stroke-width="0.8"/>
<line x1="344.8" y1="603.3" x2="346.6" y2="603.3" stroke="#111" stroke-width="0.8"/>
<line x1="344.8" y1="615.8" x2="346.6" y2="615.8" stroke="#111" stroke-width="0.8"/>
<line x1="343.6" y1="628.3" x2="346.6" y2="628.3" stroke="#111" stroke-width="0.8"/>
<line x1="344.8" y1="640.8" x2="346.6" y2="640.8" stroke="#111" stroke-width="0.8"/>
<line x1="358.8" y1="643.8" x2="358.8" y2="646.8" stroke="#111" stroke-width="0.8"/>
<line x1="368.4" y1="643.8" x2="368.4" y2="645.6" stroke="#111" stroke-width="0.8"/>
<line x1="378" y1="643.8" x2="378" y2="645.6" stroke="#111" stroke-width="0.8"/>
<line x1="387.6" y1="643.8" x2="387.6" y2="646.8" stroke="#111" stroke-width="0.8"/>
<line x1="397.2" y1="643.8" x2="397.2" y2="645.6" stroke="#111" stroke-width="0.8"/>
<line x1="406.8" y1="643.8" x2="406.8" y2="645.6" stroke="#111" stroke-width="0.8"/>
<line x1="416.4" y1="643.8" x2="416.4" y2="646.8" stroke="#111" stroke-width="0.8"/>
<line x1="426" y1="643.8" x2="426" y2="645.6" stroke="#111" stroke-width="0.8"/>
<line x1="435.6" y1="643.8" x2="435.6" y2="645.6" stroke="#111" stroke-width="0.8"/>
<rect x="390.5" y="709.3" width="20.6" height="27.2" fill="none" stroke="#111" stroke-width="1.1"/>
<text x="401" y="705.5" font-size="8.8" text-anchor="middle">7.58</text>
<rect x="346.6" y="661.7" width="114" height="113.6" fill="none" stroke="#111" stroke-width="1.5"/>
<line x1="344.8" y1="672.3" x2="346.6" y2="672.3" stroke="#111" stroke-width="0.8"/>
<line x1="343.6" y1="684.8" x2="346.6" y2="684.8" stroke="#111" stroke-width="0.8"/>
<line x1="344.8" y1="697.3" x2="346.6" y2="697.3" stroke="#111" stroke-width="0.8"/>
<line x1="344.8" y1="709.8" x2="346.6" y2="709.8" stroke="#111" stroke-width="0.8"/>
<line x1="343.6" y1="722.3" x2="346.6" y2="722.3" stroke="#111" stroke-width="0.8"/>
<line x1="344.8" y1="734.8" x2="346.6" y2="734.8" stroke="#111" stroke-width="0.8"/>
<line x1="344.8" y1="747.3" x2="346.6" y2="747.3" stroke="#111" stroke-width="0.8"/>
<line x1="343.6" y1="759.8" x2="346.6" y2="759.8" stroke="#111" stroke-width="0.8"/>
<line x1="344.8" y1="772.3" x2="346.6" y2="772.3" stroke="#111" stroke-width="0.8"/>
<line x1="358.8" y1="775.3" x2="358.8" y2="778.3" stroke="#111" stroke-width="0.8"/>
<line x1="368.4" y1="775.3" x2="368.4" y2="777.1" stroke="#111" stroke-width="0.8"/>
<line x1="378" y1="775.3" x2="378" y2="777.1" stroke="#111" stroke-width="0.8"/>
<line x1="387.6" y1="775.3" x2="387.6" y2="778.3" stroke="#111" stroke-width="0.8"/>
<line x1="397.2" y1="775.3" x2="397.2" y2="777.1" stroke="#111" stroke-width="0.8"/>
<line x1="406.8" y1="775.3" x2="406.8" y2="777.1" stroke="#111" stroke-width="0.8"/>
<line x1="416.4" y1="775.3" x2="416.4" y2="778.3" stroke="#111" stroke-width="0.8"/>
<line x1="426" y1="775.3" x2="426" y2="777.1" stroke="#111" stroke-width="0.8"/>
<line x1="435.6" y1="775.3" x2="435.6" y2="777.1" stroke="#111" stroke-width="0.8"/>
<circle cx="414.8" cy="766.4" r="2.8" fill="#f08a2a"/>
<text x="420.7" y="769.8" font-size="9">Transient</text>
<text x="340.7" y="753.5" font-size="12" text-anchor="middle" transform="rotate(-90 340.7 753.5)">UMAP2</text>
<text x="347" y="788.7" font-size="12">UMAP1</text>
<text x="492" y="510.4" font-size="14" font-weight="bold" fill="#000">I</text>
<path d="M555.6 554.2C556.7 553.6 560 552.1 562 553.2C564 554.3 568.8 560.1 570.5 562.8C572.2 565.5 574.2 566 574.8 573.4C575.4 580.8 576.2 611.5 574.8 618.2C573.4 624.9 567.5 623.5 564.1 623.5C560.7 623.5 552.2 621.5 549.2 618.2C546.2 614.9 542.8 603.8 541.7 599C540.6 594.2 540 586.3 540.7 582C541.4 577.7 545.3 570.3 547 567C548.7 563.7 552.3 559.1 553.4 557.4C554.5 555.7 554.5 554.8 555.6 554.2Z" fill="#dedede"/>
<path d="M647.2 528.7C649.2 528.4 652 528.5 653.6 530.8C655.2 533.1 657.7 540 659 545.7C660.3 551.4 662.6 566.3 663.2 573.4C663.8 580.5 664.2 593 663.2 599C662.2 605 658.7 613.1 655.7 618.2C652.7 623.3 643.6 633.1 640.8 637.4C638 641.7 636.7 649 634.4 650.1C632.1 651.2 626.9 647.9 623.8 645.9C620.7 643.9 614.1 638.3 611 635.2C607.9 632.1 600 625.5 600.3 622.4C600.6 619.3 611.2 618.1 613.1 611.8C615 605.5 613.6 582.3 614.2 575.5C614.8 568.7 615.6 564.9 617.4 560.6C619.2 556.3 625.2 547.3 628 543.6C630.8 539.9 636.1 535 638.7 533C641.3 531 645.2 529 647.2 528.7Z" fill="#dedede"/>
<path d="M543.9 587.7h1M546.8 600.4h1M571.1 610.7h1M543.4 577.5h1M569.9 600.6h1M546.1 593.4h1M570.1 561.9h1M568.5 571.1h1M559.2 558.8h1M557.5 575.3h1M561.2 561.9h1M563.7 573.5h1M564.5 572.9h1M554.3 569.8h1M549.8 611.3h1M552.2 572.8h1M552.6 592.1h1M553.2 588.7h1M552.9 619.5h1M552.3 599.5h1M553.2 590.4h1M562.8 563.5h1M572.9 599h1M556.9 583.1h1M569.3 619.4h1M559 598.3h1M571.6 606.3h1M567 590.9h1M561.4 571h1M560.9 612.1h1M546 578.5h1M559.5 584.4h1M553.6 575.9h1M561.5 592.6h1M559.3 610h1M568.4 604.8h1M558.6 555.9h1M564.8 582.8h1M570 590.8h1M552.7 598.5h1M563.9 578.7h1M553.9 594.4h1M548.3 584.3h1M557.7 566.7h1M558.8 563.5h1M556.9 583.6h1M557.7 601.1h1M544.8 597.1h1M554.7 568.5h1M570.9 577.9h1M547.4 592.3h1M562.3 602.9h1M571.2 615.8h1M557.1 556.1h1M552.2 610.1h1M541.5 592h1M553.2 592.8h1M565.2 580.4h1M551.2 611.9h1M551.6 572.4h1M570.6 591.2h1M554.5 563.7h1M561.3 567.9h1M574 582.2h1M568.7 605h1M554.9 573.4h1M556.7 570.9h1M540.5 595h1M566 580.1h1M564.5 560.6h1M566.8 619.9h1M561.2 554.5h1M572.8 577.4h1M573 616.1h1M573.5 603.6h1M553.4 577.4h1M570.2 563.2h1M548.6 579.9h1M547.9 602.6h1M564.6 570.8h1M572.1 613.9h1M554.1 572.3h1M545.1 595.8h1M561.6 573h1M556.5 580.9h1M552.6 581.6h1M543.4 594.3h1M565.9 586.2h1M557.6 617.4h1M556.9 608.6h1M555.8 575.8h1M557 618.1h1M569.4 566.9h1M541.9 578.8h1M558 609.7h1M567 576h1M548.7 590.5h1M566.7 597.1h1M565 618.2h1M549.8 610.3h1M555 574.4h1M568.7 618.4h1M560 590.3h1M567.5 587.5h1M569.5 576.7h1M559.7 567.5h1M546.4 606.6h1M567.1 603.9h1M554.9 618.6h1M569.4 613.6h1M568.4 590.5h1M557.1 575.6h1M552.7 591.7h1M545.5 579.2h1M554.6 569.9h1M543.7 582.7h1M569.4 562.2h1M558.9 604.1h1M556.6 561.5h1M554.8 583.6h1M574.1 581.7h1M555.7 613.6h1M567.4 616.7h1M567.3 619.3h1M566.7 586.2h1M570.7 581.3h1M567.8 569.7h1M549.7 595.5h1M574 591.1h1M569.6 608.9h1M557.4 600h1M562.3 615.8h1M558.2 554.7h1M557.1 607.2h1M552.5 568.1h1M565.6 615.6h1M552.1 597.1h1M569.8 605.1h1M570.2 586.3h1M569.3 576.6h1M562.7 596.1h1M573.8 589.9h1M542.1 579.8h1M543.6 577.7h1M554.6 603.1h1M560.8 595.1h1M548.4 577h1M555.6 569.3h1M548.9 568.7h1M551 573.9h1M554.5 607.7h1M549.5 599.9h1M558.6 567.6h1M551.9 580h1M568.2 594.6h1M557.7 576.4h1M571.4 588.9h1M562.9 571.5h1M569.1 599.5h1M558.8 603.4h1M561.2 558.7h1M570.1 570.6h1M563 581.2h1M554.8 576.2h1M555.3 570.5h1M568.6 592.4h1M564.5 564.2h1M543.3 584.6h1M546.7 571.1h1M542.8 584.8h1M549.9 595.1h1M561.6 588.1h1M544.5 588.7h1M552.3 615.3h1M546 576.6h1M558.3 615.6h1M544 590.2h1M562.9 575.2h1M547.6 572.8h1M547.8 599.5h1M553.5 574.1h1M567.4 565.9h1M545.1 594.3h1M564.5 618.8h1M569.5 563.6h1M557 562.7h1M546.1 582.1h1M564.3 611.4h1M567.1 587.3h1M570.4 610.6h1M551.3 586.5h1M568.5 609h1M563.4 578h1M572.9 616.2h1M559 574.8h1M549.1 601.9h1M557.9 587h1M561.9 577.6h1M572.7 601.9h1M567.8 600.7h1M569.3 588.3h1M569.5 575.6h1M554.4 564.3h1M558.9 574h1M553.7 594.8h1M556.9 562.9h1M571.2 597.1h1M561.7 622.4h1M557.4 597h1M557.5 591h1M569.3 602.9h1M572.4 586.7h1M548.3 588.4h1M560.2 592h1M546.5 576.3h1M554.8 575.5h1M546.8 605.2h1M558.7 574.7h1M546.9 601.9h1M551.9 575.9h1M569.1 598.9h1M563.5 575.5h1M572 568.6h1M552.2 590.9h1M548 610.7h1M570.4 617.6h1M549.4 583.1h1M550.1 584.7h1M564.7 597h1M550.9 617.3h1M545.3 584.1h1M564.3 592.9h1M561.2 558.6h1M564.6 593.8h1M547.2 609.6h1M570.4 581.9h1M569.4 588.3h1M554.9 578.4h1M559.5 613.3h1M551 592h1M555.4 564.5h1M544.7 583.2h1M546.6 596.7h1M566.3 558.2h1M546.8 598.3h1M569.4 598.5h1M570.7 568.4h1M561.7 557.5h1M549.8 602.8h1M552.7 601.1h1M573.9 583.3h1M552.6 579.9h1M545.8 571.5h1M567.7 560.7h1M573.4 614.6h1M571.5 618.2h1M545.2 604.1h1M555.6 612.9h1M554 601.4h1M571.8 580.4h1M571.8 577.8h1M564.7 586.1h1M559.1 561.1h1M556.2 558.2h1M569.4 617.7h1M549.1 582.7h1M555 562.8h1M551 566.5h1M566.7 578.9h1M542.3 592.7h1M571.7 601h1M567.7 590.5h1M542.5 579.2h1M547.5 591.2h1M549.8 617.5h1M551.2 573.2h1M544.1 601.9h1M548.9 616.9h1M564.4 583.4h1M569 595.1h1M549.9 617.5h1M572 595.9h1M563.1 605.9h1M567.1 571.2h1M554.4 584h1M571.2 599.3h1M546.1 608.2h1M561.8 595.6h1M569.1 592.5h1M547.7 575.9h1M563.3 576.6h1M563.4 603.3h1M564.5 622.2h1M565.3 595.4h1M548.5 599.6h1M565.7 559.5h1M554.1 609.6h1M544.7 587.8h1M545.7 607.6h1M545.1 593.9h1M550.4 586h1M552.2 576.6h1M568.7 606.3h1M558.2 563.3h1M569.5 610.4h1M572.7 614.2h1M556.8 621h1M545 579.6h1M566.9 589.5h1M563.8 572.2h1M568.7 610.9h1M559.9 560.5h1M556.5 604h1M550.2 568.8h1M554.3 602.7h1M571 576.5h1M565.3 589.3h1M569.5 566.9h1M553.9 580.2h1M548.5 572.3h1M557.3 557.9h1M543.6 597.2h1M561 565.8h1M549.8 578.6h1M565.9 574.9h1M565.2 575.5h1M547.3 609.3h1M562.2 553h1M555.2 587.5h1M551.8 598.3h1M572.3 607.7h1M566.3 611h1M558.4 566.1h1M557 614.3h1M548.2 590.5h1M548.1 600.9h1M553.9 560h1M565.3 579.8h1M555.7 596.9h1M556.7 579.2h1M541.8 583.2h1M554.5 608.7h1M560.7 611.6h1M567.3 559.4h1M545.3 586.6h1M571.1 586.8h1M565.4 583.8h1M543.6 592.4h1M554.6 564.4h1M569.2 594.4h1M570 583.8h1M563.7 614.9h1M563.3 559.2h1M562.7 596.6h1M551.2 595h1M552.2 590.3h1M569.9 595.1h1M554.6 559.5h1M559.3 559.5h1M556.1 553.6h1M570 616.3h1M554.8 606.3h1M565.7 596h1M557.3 612.8h1M555.1 567.4h1M558.6 599.4h1M547.9 578.6h1M567 577.8h1M545.6 576.3h1M554.3 608.3h1M542.2 599.8h1M570.7 591.5h1M566.5 604.9h1M558.9 552.9h1M556.7 568.2h1M567.8 582.1h1M547.7 566.8h1M547.2 575.9h1M559.5 555.9h1M557.6 616.6h1M568.5 596.3h1M558 567.8h1M563.7 621.6h1M555.7 570.1h1M544.9 594.5h1M546.1 573.6h1M563.8 589.4h1M550 563.9h1M554.6 592.1h1M564.3 568.6h1M549.1 582.6h1M565.2 565.2h1M566.8 570h1M546.8 567.1h1M555 573h1M566.4 560.4h1M574.5 589.9h1M552.1 610.6h1M568.2 607.4h1M567.2 605.5h1M573.3 579.9h1M571.8 594.9h1M561.5 614.9h1M550.5 576h1M551.2 582.5h1M563.3 619.1h1M546.1 582.2h1M544.4 590.3h1M560.4 565h1M559.9 556.9h1M542 594.3h1M552.9 566h1M549.3 590.9h1M551.5 619.2h1M550 576.1h1M557.7 618h1M546.2 604.3h1M564.1 577.6h1M560.5 588.3h1M568.6 569.2h1M572.6 586.4h1M561.5 588.6h1M563.1 612.9h1M572.7 574.8h1M560.9 587.2h1M561.2 565.8h1M544.7 592.2h1M569.6 608.9h1M547.8 599.4h1M571 566.7h1M546.8 595.7h1M569.5 602.5h1M549.3 604.2h1M544.5 582.2h1M569 621.8h1M565.5 570.7h1M567.6 615.8h1M548 578.1h1M561.3 608.8h1M543.9 593.6h1M553.6 558.7h1M549.9 591h1M572.4 617.6h1M557.8 574.1h1M560.8 571.9h1M569.5 601.5h1M574.2 592.1h1M554.5 591.8h1M553.7 598.4h1M564.9 601h1M551.8 605.5h1M544.5 604.5h1M561.2 575.1h1M567 560.5h1M555.9 556.5h1M560.7 612.1h1M552.2 603.6h1M566 567.9h1M559.8 580.6h1M562.9 576.7h1M554.7 567.3h1M548.7 588.9h1M559.8 615.8h1M548.4 614.3h1M561 560.7h1M565.4 586h1M550.4 605.9h1M570.3 564.2h1M570.9 567.6h1M555.1 596.1h1M557.3 616.8h1M572.3 580.6h1M551.6 597.1h1M563.2 590.9h1M559.8 619.7h1M551.1 570.3h1M548.9 602.2h1M567.1 610.8h1M551.3 560.5h1M557 620.7h1M570.5 581.7h1M570.3 567.5h1M571 603.6h1M548.9 600.3h1M552.5 566.4h1M554.3 567.8h1M560.1 572.6h1M557.2 578.5h1M556.8 589.1h1M559.5 566.1h1M555.5 566.4h1M561.2 608.3h1M552.2 607.1h1M550.1 581.4h1M550.3 576.3h1M558.7 610.5h1M564.5 619h1M561.5 617.1h1M548.9 563.7h1M559.4 567.4h1M573.2 575.7h1M546.3 586.8h1M565.5 598.3h1M562.3 568.4h1M558.8 586.1h1M550 592.2h1M551 607.1h1M567.7 584.2h1M548 595.6h1M555 583.3h1M547.5 600.8h1M564.7 582.6h1M564.9 591.2h1M559.4 576.3h1M556 615.2h1M549.3 568.2h1M566.3 609.5h1M561.7 556.7h1M565 603h1M559.8 600.5h1M568.1 610.7h1M547.7 591.3h1M565 597.1h1M567.7 601h1M556.1 581.3h1M561.1 564.9h1M565.1 577.3h1M560.5 605h1M554.3 617.7h1M561.7 586.7h1M558.5 595h1M562.4 555.1h1M561.2 573.4h1M567.9 605.9h1M541.6 590.1h1M550.1 587.4h1M560.3 586.7h1M554.7 580.4h1M573.3 615h1M562.6 608.3h1M548.5 575.5h1M552.5 581h1M560.4 614.6h1M573.2 591h1M571.9 568.4h1M564 564.3h1M564.2 569.1h1M570.6 590.3h1M562.4 575.4h1M575.8 597.6h1M559.6 583.5h1M562.2 555.6h1M564.4 565.9h1M545.9 572.7h1M565 585.8h1M556.6 589.5h1M566.8 583.8h1M555.3 601.7h1M570.5 614.9h1M567.1 561.4h1M567.8 614.1h1M562 570.1h1M566.9 619.1h1M551.3 615h1M564.5 605.5h1M572.7 616.5h1M570.5 585.9h1M572.4 581.9h1M553.2 593.8h1M545.3 572.9h1M552.6 616.7h1M549.2 614.9h1M567.6 593.8h1M563.8 611.9h1M553.4 598.6h1M562.8 613.6h1M545.1 606.4h1M561.5 617.8h1M549.8 604.1h1M552.1 619.2h1M569.7 619.8h1M571.7 597h1M559.3 603.2h1M566.7 609.1h1M560.2 592.3h1M574.5 601.6h1M568.5 570h1M558.3 575.2h1M545.9 587.5h1M566.9 560.9h1M553.4 612.3h1M571.2 611.9h1M567.9 575.8h1M568.3 569.5h1M566.1 564.2h1M549.8 612h1M573.8 604.7h1M555.4 616.1h1M551.4 570.7h1M542.7 577.9h1M561.7 606.8h1M542.7 595.4h1M569.2 619.3h1M561.6 594.3h1M558.7 567.1h1M554.3 570.1h1M572.8 596h1M560.3 617.6h1M556.4 563.4h1M568.2 594.8h1M571.7 603.6h1M574.2 588.8h1M559.6 615.9h1M553.9 619.1h1M559.7 609.2h1M568.8 564.8h1M540.8 587.1h1M572.5 597.1h1M558.8 565.5h1M567.9 608.2h1M557.9 599h1M559.2 587.2h1M566.5 613.6h1M568.2 583.7h1M562.1 595.3h1M571 566.7h1M570.7 581.3h1M549 579.2h1M571.6 573.5h1M573 614.9h1M566.6 578.1h1M556.2 620.4h1M558.3 585.3h1M556.8 566.8h1M546.6 601.7h1M563.7 566.2h1M568.6 585.8h1M567 612.4h1M561.3 617.6h1M557.6 590.8h1M564.7 619.8h1M557.4 599.8h1M563.3 569.4h1M562 554.3h1M557.7 556.1h1M554.8 584.2h1M562.6 613.1h1M564.8 597.2h1M570.9 610.6h1M548.5 608h1M565.4 617.7h1M569.3 615.1h1M570 562.8h1M547.9 607.6h1M566.2 605.8h1M550.7 610.5h1M558.4 569.6h1M543.9 587.2h1M560.8 557.9h1M543.3 597.6h1M553.9 596h1M552 593.5h1M569.4 577h1M564.7 568.7h1M550.8 576.1h1M549.3 570.2h1M560 580.9h1M572.5 584.5h1M570.3 574.9h1M570.3 599.5h1M566 612.4h1M556 605h1M570.6 579.6h1M548.8 610.5h1M560.2 613.4h1M550.6 604.7h1M562 552.9h1M573.2 590.4h1M546.7 575.5h1M574.4 577.4h1M543.2 584.7h1M572.3 572.1h1M563.8 599h1M548.5 587.6h1M563.6 605.7h1M548.5 574.5h1M561.4 565.2h1M558.3 556.8h1M544.6 598.9h1M573.9 615.7h1M562 564h1M557.1 555.2h1M547.6 575.9h1M557.6 611h1M552.3 604.1h1M566.6 599.8h1M544.2 607h1M543.9 577.7h1M548 566.4h1M553.6 613.2h1M544.2 578.9h1M543.9 579.1h1M566.2 603.7h1M566.1 615.9h1M553.8 591.9h1M558.9 620.2h1M549.3 616.6h1M551.9 606.2h1M565.9 619.3h1M561.7 569.3h1M568.2 581.7h1M563 557.6h1M571.1 579.7h1M558.4 594.9h1M552.2 609.7h1M561.4 584h1M553.6 610.5h1M559.2 602.2h1M560.3 593h1M571.4 592.4h1M558.3 600.2h1M568.1 586h1M543.6 594.2h1M557.2 576.8h1M549.1 609.1h1M568.3 599.3h1M548.3 575.9h1M557.1 569.9h1M560.1 586.8h1M571.2 565h1M564.1 577.6h1M553.4 618.6h1M563.3 602h1M559 573.9h1M564 601.9h1M544 590.5h1M547.4 566.8h1M552.7 614.1h1M547.7 598.9h1M571.8 590h1M550.2 613.5h1M551.9 580.2h1M569.5 567.8h1M573 575.4h1M553.6 566.3h1M559.5 559.8h1M558.4 566.2h1M562 616.9h1M566.5 603.9h1M564.1 586.7h1M645.6 627.1h1M639.2 640.6h1M620.8 574.5h1M649.1 608.2h1M650.6 570h1M634.2 649h1M621.5 596.9h1M648.9 607.2h1M639.4 613.2h1M649 572.2h1M659.5 577.9h1M632.6 622.8h1M647.4 578.1h1M624.4 615.4h1M650.2 554h1M625.9 564.1h1M623.2 591.6h1M648.3 594h1M635.9 537.4h1M628.1 596.8h1M656.3 610.5h1M661.1 583.1h1M658.9 547.1h1M622.7 568.3h1M636.4 626.7h1M636.6 603.6h1M620.6 630.7h1M607.7 621.9h1M662 574.5h1M639.3 608h1M629.2 598.5h1M647.8 591.6h1M657.3 547h1M624.9 631.7h1M645.1 604.8h1M629.8 594.6h1M634.4 542.7h1M625.5 614.5h1M639.5 583.5h1M632.4 613.1h1M616.2 579h1M658.7 567.8h1M627.6 624.7h1M646.5 530.8h1M620.3 627h1M651.5 574h1M642.6 563h1M623.5 619.3h1M621.7 616.2h1M649.3 530h1M624.2 551.3h1M651.4 566.4h1M630.3 628.8h1M661.8 588.3h1M643.3 542.2h1M618.6 615.5h1M636.1 586.2h1M634.3 605h1M634.6 601.6h1M638.3 547.8h1M653.1 563.4h1M655.2 555.6h1M625.2 597.9h1M637.4 555.1h1M642.3 544.6h1M661.1 592.9h1M642.9 592h1M627.2 559.4h1M636.2 546h1M631.3 549.6h1M643.5 625.2h1M641.4 602.8h1M652.5 611.9h1M641.4 565.5h1M621.6 628.7h1M623.4 626.9h1M620.3 591h1M630.9 585h1M642.2 576.6h1M631.5 587.9h1M633.8 560.4h1M636 561.7h1M622.2 594.4h1M621.1 580.8h1M618.1 581.9h1M654 586.1h1M637.5 570.6h1M653.3 604.8h1M641.4 562.6h1M638.4 624.2h1M641.4 539.6h1M640 542.9h1M629.2 621.4h1M661.3 603.5h1M616.1 585.3h1M657.5 605.6h1M634.1 608.1h1M634.5 616.4h1M658.9 552.1h1M618.6 608.1h1M661.3 593.9h1M640 604.4h1M633.2 545.7h1M616.8 589.4h1M637.2 553.7h1M631.9 586.5h1M630.7 557.4h1M625.1 619.2h1M655.3 561.8h1M620.3 625.8h1M645.5 624.5h1M613.4 634.6h1M634 647.1h1M636.3 580.6h1M651.6 610h1M642.1 595.4h1M647.7 575.1h1M644.9 612.8h1M661.6 557.3h1M646.5 626.8h1M648.4 581.6h1M631.8 542.3h1M651.7 538.2h1M652.1 562.2h1M625.8 557.5h1M629.3 595.7h1M628.8 627.4h1M617.6 639.8h1M609.7 622.8h1M618.7 577.7h1M634.9 604.1h1M636.1 567.5h1M632.4 631.1h1M648.1 567.2h1M632.3 632.3h1M646.1 550.7h1M631 564.3h1M652.6 617.1h1M614 620.6h1M635.3 601.6h1M657.8 554.8h1M637.9 602.7h1M634.6 552.5h1M630.3 640h1M626.7 638h1M652.2 560.2h1M658.3 581.9h1M663.5 585.4h1M628.2 551.3h1M642.7 634.3h1M652.5 597.8h1M630.1 620h1M619.7 632.5h1M656.4 611.8h1M627.3 572.8h1M626.3 581.4h1M656.6 580.1h1M643.1 598.5h1M649 557.3h1M659.4 594.2h1M646.5 579.4h1M652.7 570h1M634 568.6h1M658.3 551.8h1M643.2 630.5h1M623.8 603.4h1M629.6 628.2h1M661.2 584.9h1M663.9 594.7h1M634.9 549.2h1M631.8 558.1h1M630.1 560h1M642.3 568.1h1M649.6 610.8h1M645.6 547h1M651 568.2h1M652.4 578.1h1M644.1 534.4h1M607.6 626.5h1M637.9 536.3h1M610.3 622.7h1M623.1 571.7h1M626 576.7h1M636.7 557.2h1M628.1 622.2h1M656.1 566.9h1M629.3 554h1M647.3 580.4h1M616.6 629.7h1M634.7 633.5h1M657.1 577.4h1M632.4 606.1h1M648.7 611.3h1M657.9 588.4h1M609 620.4h1M624.9 566.9h1M661.2 576.7h1M620.5 604.1h1M657.8 543.1h1M636.6 635.3h1M648.3 531.2h1M624.5 593.6h1M631 600.1h1M646 579h1M648.4 535.6h1M612.2 634.6h1M657.9 571.5h1M625.9 554.4h1M655.9 540.7h1M628.1 562h1M624 592h1M659.5 600.4h1M621.8 591.6h1M646.3 590h1M631.4 569.9h1M639.2 613.3h1M640.5 563.1h1M633.2 632.5h1M623.9 606.3h1M661.4 566.9h1M628.9 611.6h1M637.9 582.3h1M628.9 632.8h1M642.1 561.9h1M655.2 617h1M646.4 609.5h1M659.4 569.1h1M656.7 560.8h1M626.8 544.6h1M615.9 638.3h1M624.8 563.6h1M616.9 593.7h1M627.1 614.7h1M630.6 581.2h1M624.4 611h1M628.1 569.2h1M651.8 565.5h1M612.9 637h1M655.7 549.2h1M635.4 603.2h1M652.3 572.5h1M643.5 564.4h1M632.5 557.7h1M630.5 554.5h1M629.8 571h1M614.1 634.8h1M628.4 627.5h1M629.6 637.8h1M620 576h1M626.3 619.1h1M640.3 577.1h1M627 645.7h1M650.6 532.4h1M619.8 558.6h1M652.9 584.3h1M617.3 580.1h1M638.3 553h1M620.3 566h1M644.6 583.8h1M602 623.2h1M632.3 569.8h1M625 600.2h1M648.4 608.5h1M640.5 560h1M647.3 613.9h1M615.7 601.7h1M632.5 572h1M644.3 607.3h1M617.5 633.1h1M651.3 555.3h1M627.3 577.4h1M638.3 617.6h1M643.6 556.7h1M648.8 537.8h1M633.6 555.7h1M646.5 542.1h1M635.9 554.1h1M657.8 601.7h1M647.4 579.5h1M614.4 609.4h1M620.3 609.2h1M632.9 566.1h1M635.1 541.1h1M644.2 625.2h1M642.1 557.7h1M618.3 580.2h1M620.6 572.6h1M635 561.1h1M617.1 589.1h1M632.3 617h1M627.2 545.5h1M659 574.5h1M623.1 591.2h1M634.8 571.5h1M642.4 612.9h1M657.6 604.4h1M638 640.6h1M617.3 588.7h1M656.8 607h1M628.4 639.8h1M661 583.5h1M628.5 552.1h1M613 624.1h1M635.9 633.7h1M623.4 629.3h1M625 626h1M619.6 579.8h1M629.6 564.2h1M628 587.4h1M652.4 575.3h1M649.3 560.5h1M649.7 533.9h1M651.8 585.3h1M638.9 619.4h1M654.2 597.8h1M636.5 535.4h1M620.7 602.8h1M653.3 545.3h1M652.3 577.1h1M640.4 636.9h1M628.5 603.9h1M640.3 553h1M618.2 585h1M644.6 613.8h1M627 638.4h1M622.1 621h1M607.1 616.1h1M650.9 531.6h1M618.4 566.5h1M628.8 635.9h1M614.5 585.6h1M609.5 632.7h1M626.8 569.2h1M656.1 557.6h1M627.3 609.9h1M653.2 556.1h1M622.4 562.3h1M646 600.6h1M650.9 564h1M646.5 625.7h1M633.5 548.2h1M618.8 624.1h1M651.8 599.8h1M661.4 564.4h1M648.9 597.5h1M626.7 573.7h1M636.4 583h1M646 545.9h1M642.6 600.4h1M652.3 530.8h1M638.8 614.9h1M656.8 541.9h1M630.5 556.3h1M623.2 624.3h1M651.4 540.4h1M607.2 619.3h1M614.1 576.2h1M634 593.7h1M643.2 560.5h1M628.8 640.7h1M627.4 589.4h1M645 611.1h1M643.9 630.8h1M656.4 559.8h1M636.3 583.9h1M620.9 642.2h1M636.5 571.1h1M640.7 546.3h1M650.1 599.9h1M645.5 593.1h1M642.4 571.9h1M635.5 585h1M615.5 588.5h1M612.8 602.3h1M663.9 571.1h1M649.2 616.8h1M613.8 630.4h1M637.4 559.8h1M620.9 555h1M648.5 552.7h1M621.3 597.4h1M617.6 590.1h1M648.3 618.4h1M623.9 569.3h1M626.1 636.6h1M654.5 578.7h1M635.8 626.4h1M657.3 593.5h1M662.6 584.8h1M651.4 580.3h1M626.1 605.8h1M621.8 599.2h1M617.6 597h1M625.4 572.3h1M633.7 603.4h1M655.4 543.1h1M628.2 558.2h1M620.1 616.7h1M632.5 608.1h1M643.1 570.4h1M653.3 600.9h1M624.3 600h1M645.2 567.4h1M631 596.1h1M632.2 558h1M629.6 582.2h1M622.8 561.7h1M629.5 586.6h1M626.2 645.1h1M629.1 639.2h1M644.2 626.3h1M613.7 577.3h1M618.9 617.3h1M642.1 622.1h1M620 620.4h1M641 564h1M630.7 567h1M636.7 555.4h1M649.9 583.6h1M653.1 620.6h1M641.9 633h1M630.2 570h1M607 623.4h1M622.6 623.4h1M658 548h1M621.9 624.2h1M638.1 600.6h1M635.3 624.3h1M633.7 633.3h1M620 568.3h1M639 549.8h1M649.3 596.2h1M622.5 594.7h1M645.7 621.3h1M646.2 536.3h1M633.7 598h1M619.7 622.9h1M633.1 626.4h1M651.2 558.1h1M633.7 559h1M639.3 625.8h1M650.7 614h1M640.3 570h1M647 617.4h1M652.3 586.2h1M653.1 612.1h1M619 598.9h1M620.6 610.7h1M639.5 560.6h1M608.4 618.4h1M629.5 591.5h1M647.6 604.4h1M628.9 599.4h1M659.4 604h1M626.4 588.5h1M631.2 578.1h1M613.3 600.3h1M636.7 566h1M621 632.6h1M638.5 540.1h1M612.5 627.3h1M650.1 549.8h1M650.6 588.8h1M633 585.2h1M652.5 541.9h1M640.4 541.4h1M647.6 594h1M659.6 565.2h1M644.4 571.5h1M659.1 574.7h1M635.9 578h1M634.5 545.1h1M618 569.5h1M606.3 619.8h1M646.6 580.3h1M644.3 609.7h1M653 554.8h1M632.2 619.9h1M628 546.5h1M614.5 574.1h1M640.8 634.5h1M648.5 619.3h1M643.3 613.3h1M657.4 565.7h1M632 548.8h1M645.6 609.8h1M614.5 587.9h1M636.4 634.1h1M652.2 570.4h1M625.6 601.7h1M656.3 589.7h1M639.1 616.4h1M616.1 601.6h1M654.9 540.5h1M636.8 551h1M633 597.3h1M606.6 617.3h1M624.2 585.3h1M655.7 579.4h1M652.9 600.4h1M652.9 606.7h1M637.2 548.5h1M656.5 546.8h1M619.9 573.8h1M635.1 574.5h1M614.5 622.1h1M622.4 606.3h1M646.7 540.6h1M621.9 588.4h1M652.8 565.4h1M620.4 636.1h1M610.5 620.8h1M652.5 546.2h1M637.7 552.5h1M636.9 605.8h1M607.4 622.7h1M627.3 586.3h1M653.2 588.3h1M652.9 553.8h1M630.6 575.4h1M628.1 613.6h1M641.4 601.8h1M639.2 553h1M638.6 535.5h1M606.2 627.3h1M625.4 560.2h1M635.5 589.2h1M639.8 550.8h1M624.4 617.7h1M660.5 600.6h1M652.7 568.2h1M615.8 617.5h1M643.9 549h1M625 551h1M623.1 623.5h1M650.5 613h1M639.6 593.5h1M633.8 602.1h1M663.3 599.8h1M625.5 611.4h1M613.4 632.7h1M646 549.9h1M612.2 634.6h1M634.9 587.8h1M632 633h1M638 626.2h1M643.7 632.8h1M654.5 562.5h1M628.1 555h1M628 543.1h1M639 614.4h1M612.2 617.6h1M642.7 557.2h1M643.3 554.9h1M610.2 617.9h1M644.1 629.7h1M641.9 619.5h1M612.4 617.8h1M625.4 639.1h1M647.1 626h1M635 615.9h1M644.8 587.4h1M627.8 621.2h1M644.7 603.1h1M634 615.7h1M638.8 539.8h1M625 622h1M657.1 549.8h1M654 541.6h1M641.6 590.5h1M638.8 604.5h1M660.6 586.3h1M613.5 592.9h1M639.4 598.8h1M630 573.3h1M630.5 587.9h1M653.1 608.1h1M648 620.1h1M638.1 602.4h1M631.7 607.3h1M647.9 536.4h1M648.4 619.8h1M632.5 641h1M659.9 565.2h1M616.3 580.6h1M624.4 558.9h1M630.2 605.2h1M620.5 641.7h1M630.6 635.1h1M659.1 546.1h1M647 561.4h1M652.4 584.3h1M648.3 600.6h1M650.2 541.7h1M621.3 586.9h1M645.7 628.5h1M656.4 613.3h1M612.5 626.9h1M653.3 559.5h1M634.6 553.7h1M643.3 548.3h1M634.2 545.8h1M623.1 629.6h1M633.4 633.1h1M621.1 586.2h1M642.4 540.2h1M624.3 575.3h1M643.4 537h1M624 605.2h1M653.2 541.8h1M622.1 571.3h1M657.7 575.4h1M619.4 576.9h1M620.9 643h1M637.4 632.8h1M629.2 543.9h1M646.3 596.8h1M620.3 562.4h1M649.1 537.9h1M652.7 612h1M605.3 620.7h1M618.1 634.9h1M628.2 544.9h1M623 640.8h1M637.8 610.5h1M653.8 596.1h1M639.5 543.8h1M611.3 619.3h1M629.1 621.3h1M656.7 560.8h1M657 547.6h1M628.5 579.3h1M632.8 568.3h1M645.7 529.7h1M628.8 549.5h1M650.4 552.9h1M640.8 624.2h1M649.5 538.2h1M626.2 644.1h1M641.9 598h1M650.7 585.4h1M632.9 612.3h1M641.6 573.4h1M655 564.7h1M629.9 601.3h1M623.3 593.1h1M622.3 564.4h1M630 571.2h1M625.2 593h1M648 609.1h1M638.5 588.7h1M640.9 551.4h1M625.8 623.1h1M628.9 559.4h1M630.5 575.5h1M650.1 588.2h1M643.1 538.2h1M658.6 576h1M629.6 566.8h1M619.2 611.1h1M618.5 589.7h1M634.5 563.3h1M660.5 580.7h1M629.9 557.8h1M642.1 559.5h1M614.1 608.8h1M626.3 599.8h1M629.7 549.6h1M648.7 575.1h1M641 604.1h1M617.6 591.6h1M622.5 566.6h1M632.2 612.2h1M654.1 533.9h1M641.1 536.6h1M629.1 559.4h1M638.5 573.1h1M639.6 581.4h1M645.3 629.8h1M625.3 603.6h1M647.5 583h1M660 580.1h1M639.3 590.4h1M644.2 536.7h1M643.2 565.7h1M655.1 559.4h1M648.4 539.5h1M616.4 576.7h1M652.7 566h1M651.7 598h1M633.3 576.8h1M654.6 607h1M636.3 540.7h1M647.9 572.1h1M615.8 619.2h1M659 588.7h1M646.8 617.6h1M616 608.9h1M648 611.2h1M634.4 598.5h1M654.6 604.6h1M615.9 616h1M616.4 629.1h1M616.8 599.4h1M639.2 600.4h1M659.1 607.2h1M617.9 623.1h1M656.5 546.1h1M646.8 613.3h1M638.7 616.2h1M649.7 606.9h1M624.8 613.3h1M628.1 571.9h1M651.3 558h1M637.3 547h1M645 546.8h1M645.1 554.2h1M620.3 590.1h1M649.4 534.9h1M625.5 567.2h1M646.9 573.5h1M635.2 565.9h1M612 619.5h1M643.9 616.9h1M655 577h1M625.1 614.7h1M628.6 613h1M625.3 644.6h1M622 625.6h1M622 627.3h1M632.6 543.8h1M619 587.8h1M662 582.5h1M625.4 563.8h1M630.9 621.3h1M634.7 556.6h1M623.6 559h1M606.9 630.3h1M624.8 631.8h1M627.1 639.9h1M652.1 584.3h1M661.2 587.2h1M637.4 560.5h1M608.1 623.1h1M620 627h1M618.9 634.2h1M616.6 628.7h1M635.8 551.4h1M653.5 596.5h1M632.2 584.9h1M625.4 592h1M617.4 609.7h1M613.5 588.5h1M642.9 573.1h1M615.6 582.2h1M641.1 602.4h1M616.2 616.9h1M622.8 606.2h1M650.9 530.5h1M609.8 618.3h1M638.9 565.6h1M643 536.2h1M628.7 603.1h1M615.6 618.6h1M618.8 608.9h1M644.7 612.4h1M638.7 589.7h1M638.3 636.9h1M644.3 550.5h1M631.7 587.5h1M646.3 572.9h1M620.9 565.9h1M656.9 574.6h1M625.6 566.9h1M647.5 592h1M651 562.3h1M645.3 592.4h1M634.1 540.1h1M656.1 577.4h1M627.2 596h1M659.9 553.6h1M641.9 611.8h1M658.7 588.9h1M634.4 634.9h1M659.1 574.3h1M650.5 624.8h1M625.9 554.8h1M625.2 556.6h1M629.2 644.8h1M643.2 593.8h1M630.2 582.5h1M663.2 580.5h1M617.8 585.7h1M620.4 641.1h1M616.4 638.8h1M625.9 567.2h1M625.2 548.7h1M635.3 555.1h1M623.4 581.5h1M630.6 582.5h1M635.7 562.2h1M621.1 609.3h1M613.6 611.7h1M655.9 584.9h1M625.8 560.9h1M628.8 612.1h1M627.8 627.2h1M618.4 633.4h1M634.7 647.8h1M653 571h1M636.4 611.8h1M645.3 546.4h1M630.2 606h1M653.8 579.9h1M622.6 599.3h1M630.6 580h1M624.2 602.7h1M648.5 568.5h1M618.8 607.5h1M610.5 619.8h1M654.4 614.1h1M634.1 570.3h1M626.6 564h1M639.9 629.5h1M653.3 557.8h1M641.8 550.9h1M633.6 564.4h1M633.1 634.5h1M639.6 620h1M613.6 592.3h1M620.5 594.5h1M649.5 545.3h1M633.6 623.6h1M619.9 609.8h1M641.4 551.4h1M643.2 557.1h1M624.3 552.7h1M656.3 548.6h1M642.3 569.8h1M652.4 563.2h1M633.8 628.4h1M648.8 596.8h1M635.5 640.9h1M650.5 589.2h1M634 639.2h1M623.5 560.4h1M616.4 595.5h1M617.6 583h1M632.8 612.6h1M641.6 539.1h1M633.2 574.4h1M657.8 607.4h1M651.6 542.3h1M609.8 627.4h1M638.8 589.6h1M656.6 570.5h1M612.6 615.9h1M640.3 575.6h1M622.3 554.7h1M622.3 606.2h1M641.9 558.8h1M641.5 560.2h1M638.8 551.1h1M624.1 612.9h1M647.3 541.6h1M641.7 578h1M649.4 621.4h1M636.9 573.7h1M624 631.5h1M633.4 618.7h1M630.1 615.6h1M646.6 572.2h1M645.1 605.6h1M655.1 577.6h1M651.9 547.7h1M623.7 634.5h1M645.9 548.8h1M623.1 639h1M655.2 579.8h1M621.5 599.6h1M626.1 562.1h1M643.3 613.6h1M635.7 623.1h1M628.6 571.9h1M647.5 616.3h1M640.1 629.2h1M632.2 615.8h1M656.2 576.6h1M632.5 624.6h1M639.1 612.5h1M643.1 538.7h1M631.2 630.6h1M614.7 599.4h1M652.7 531.2h1M618.1 573.8h1M614.6 581h1M623.6 619.9h1M649 532.3h1M634.6 606.9h1M637.1 576.1h1M644.7 576.3h1M650.5 596.9h1M660.5 600.3h1M616.6 633.9h1M615 586.5h1M659.6 575.5h1M639.4 598.3h1M615.3 620.9h1M643.1 560.7h1M624.6 572.5h1M650.5 566.3h1M620.7 594.9h1M655 583.5h1M654 551h1M627.1 545.8h1M637.4 588.5h1M628.9 580.8h1M638.6 542.4h1M632 544.5h1M609.2 618.9h1M621.9 584.1h1M619.7 625h1M644.4 592.3h1M626.1 625.3h1M633.3 626.3h1M632.1 621.1h1M644.9 562.5h1M658.3 609h1M610.8 632.4h1M635.9 606.8h1M644.4 598.5h1M616 611.2h1M647.2 563.1h1M657.5 579.3h1M621.8 589h1M622.3 622.9h1M629.9 614.1h1M649.8 596.2h1M619.8 612.1h1M642.7 605.5h1M616.2 624h1M626.4 596.6h1M652.4 550.3h1M643.2 568h1M652.1 556.7h1M652.8 559.4h1M644.2 632.2h1M632.9 627.4h1M634.9 646.7h1M627 558.2h1M622 555.4h1M629.1 545.6h1M643.4 582.3h1M658.9 563.3h1M636.6 619.2h1M624.7 595.6h1M615.6 590.2h1M626.8 562.2h1M638.9 624.7h1M628.7 570.1h1M640.1 593.8h1M650.6 561.3h1M644.7 534.1h1M624.3 573.8h1M623.6 596.7h1M623.1 611h1M638.2 574h1M654.8 608.9h1M623.3 572h1M650.6 573.5h1M655.5 572.6h1M647.6 627.7h1M634.1 601.2h1M653.4 564.1h1M623 591.2h1M619 579.5h1M616.9 598.3h1M627.7 565h1M648 609.9h1M625.3 615.2h1M652.3 594.9h1M620.7 563.9h1M627.2 626.2h1M648.1 599.9h1M637.7 587.9h1M638.9 581.6h1M653.3 587.4h1M657.5 578.6h1M642.6 627.4h1M626.4 611.8h1M628.5 628h1M620.2 557.8h1M639.6 551.1h1M616.1 565.6h1M650.5 594.8h1M647.4 537.6h1M636.2 537.3h1M627.7 551.7h1M639.2 604.7h1M652 619.2h1M654.4 586.4h1M633.7 637.7h1M643.6 567.2h1M627.4 611.3h1M656.7 551.4h1M638.7 613.4h1M616.6 639.7h1M651 593.2h1M625.5 564.3h1M628.7 578.5h1M653.4 566.4h1M644.7 610.1h1M636.1 605.8h1M652.3 623h1M656.5 561.8h1M642.1 556.4h1M618.3 627.6h1M646.3 563.3h1M643.8 585.2h1M628.4 583.5h1M606.8 620.6h1M622.3 572.6h1M629.6 621.7h1M629.2 606.7h1M602.5 623h1M617.2 600.6h1M640 625.2h1M652 551.5h1M660.9 589.5h1M619.3 578.9h1M629.4 559.1h1M642.7 606.3h1M639.4 578.3h1M619.5 598.4h1M642.4 553.2h1M658.9 601.2h1M640.5 557.1h1M635.2 544.1h1M638.5 641.1h1M660.2 595.8h1M648.3 532.6h1M609.5 617.6h1M645.8 610.3h1M618.2 566.9h1M612.9 619.3h1M626.9 639.4h1M630 584.5h1M616.8 578.9h1M654.3 548.5h1M657.4 561.3h1M626.3 613.5h1M626.1 612.8h1M653.4 568.8h1M639.9 612.8h1M643.2 559h1M634.9 624.4h1M621.4 583.7h1M614.6 605.8h1M647.5 576.3h1M635.4 539.8h1M646.4 597h1M615.1 613.9h1M641.6 620.5h1M622.4 573.1h1M617.5 631.6h1M649.7 533.1h1M612 630.3h1M618.6 602.6h1M631 620.6h1M638.2 588.6h1M658.9 597.4h1M641.1 617.9h1M628.8 562.4h1M618.2 560.7h1M644.8 577.6h1M650.2 601.3h1M621.2 587h1M621.6 601.9h1M632.6 602.3h1M614.2 602.7h1M607.6 623.6h1M634 551.3h1M623.5 581.7h1M631.4 620.4h1M618.5 580.9h1M615 625.1h1M616.5 629.8h1M618.5 597.8h1M648.2 600.5h1M628.7 641.4h1M643.1 530.9h1M635.4 569.9h1M620 573.4h1M652.3 537.9h1M652.9 580h1M616 596.1h1M654 581.7h1M653.7 594h1M651.2 536.2h1M622.4 607.8h1M626.5 614.3h1M618.6 569.4h1M651.2 535.5h1M655.8 539.7h1M620.5 635.3h1M631 617.4h1M646.4 613.5h1M625.8 629.1h1M613.9 600.4h1M654.7 615.4h1M623 601.9h1M639.7 553.5h1M625.8 549.2h1M621.1 610.9h1M636.2 580.3h1M619.4 633.8h1M635.2 583.6h1M637.1 564.9h1M617.8 627.6h1M621.8 624.5h1M649 619.1h1M624.9 608.4h1M632.7 597.1h1M623.7 553.7h1M628.9 550.9h1M640.8 595.8h1M613.7 628.1h1M627.2 575.9h1M624.2 601.6h1M654.2 568.5h1M651.5 599.7h1M650.6 576.2h1M619.4 632.2h1M615.2 631.4h1M632.1 631h1M637.6 553.3h1M622.7 592.1h1M643.1 532.5h1M645.6 604.4h1M622 573.2h1M626 551.5h1M633.3 602.7h1M633.7 631h1M638.3 573.5h1M643.7 574.4h1M652.3 563.8h1M640.9 596.4h1M632.9 583.8h1M634.5 582.1h1M643.7 568.5h1M641.9 553.7h1M627.8 620.7h1M633.5 555.7h1M610.4 629.3h1M633 553.8h1M622.5 616.8h1M622.4 599.4h1M615.5 623.8h1M651.8 614.1h1M631.7 598.7h1M624.7 622.5h1M640.2 618.7h1M643.3 581.6h1M616.8 635.5h1M621.1 615.9h1M653.8 593.7h1M607.1 624.6h1M635 544.9h1M647.8 617.9h1M644.5 607.6h1M642 590.4h1M644.9 545.7h1M647.8 530.1h1M655.1 547.4h1M655.7 607.7h1M625.8 586.2h1M646.2 570.6h1M659.7 553.7h1M635.4 634h1M629.7 595.5h1M637.5 567h1M632.6 582.7h1M599.4 622.7h1M645.8 547.3h1M613.6 591.1h1M654.2 597h1M632.5 620.9h1M620.4 599.9h1M645.2 547.7h1M654.4 591.5h1M607.8 625.9h1M609.8 624h1M647.8 597.1h1M640.2 615.9h1M640.9 586.3h1M650.4 582h1M621.7 574.9h1M644.5 595.6h1M632 548.1h1M625.6 612.8h1M653 596.7h1M647.7 624.9h1M631.6 621.4h1M646.4 627.4h1M641.1 629.4h1M620.5 596.7h1M615.3 584.3h1M626.6 606h1M617.9 608h1M642 615.6h1M654.4 588.8h1M633.4 546.6h1M625.4 552.3h1M634.1 546.4h1M655.3 601.1h1M616.7 603.6h1M633.8 588.3h1M645.8 587.1h1M626.2 642.9h1M631.8 598.6h1M650.4 622.9h1M645.4 548h1M626.1 609.6h1M659.5 557.7h1M605.7 625.8h1M617.8 562.7h1M656.4 575.3h1M624.4 617.3h1M646.5 535.9h1M620.6 643.1h1M630 565.3h1M636.8 622.5h1M618 619.9h1M656.2 580.3h1M623.2 610.9h1M617.7 593.8h1M658.9 569.1h1M634.1 585.3h1M641 603.8h1M632 624h1M622.6 630.3h1M619 585.9h1M645.9 613.3h1M620.3 610.8h1M630.3 587.8h1M626.8 600.4h1M643.5 531.1h1M634.6 632.3h1M620.9 559.7h1M625.8 601.1h1M656.7 585.4h1M635.7 623h1M634.9 559.1h1M623 602.8h1M649.5 585.4h1M655.3 616.5h1M637.8 612.5h1M623.5 604h1M649.5 602.3h1M622 644.8h1M648 567.2h1M661.5 568.3h1M626.4 635.7h1M627.3 613.6h1M633 589.7h1M633.6 585.8h1M647.2 599.5h1M640.1 612.9h1M627.2 643h1M629.2 643.4h1M636.6 606h1M627.7 622.9h1M624.3 630.3h1M635.8 615.2h1M630.9 576.1h1M644.1 592.3h1M654.2 617.4h1M635.5 604.7h1M632.5 598.2h1M659.4 561.8h1M614.4 586.4h1M613.8 603h1M658.2 548.5h1M632.4 569.4h1M602.9 624.1h1M625 639.2h1M642.5 608.1h1M633.2 634.8h1M602.3 624.1h1M629.4 547h1M628.2 612.6h1M615.2 612.4h1M610.7 620.7h1M649.7 560.9h1M618.3 576h1M627.9 604.1h1M638.9 576.5h1M649.8 626.5h1M640.6 545h1M651.6 560.2h1M641.6 631h1M620 563.7h1M654.8 579.2h1M628.6 573.7h1M617.3 628.8h1M616.5 587.5h1M657.2 583.5h1M620 636.2h1M635.5 556.2h1M653.6 554.8h1M652.4 579h1M647.4 605.5h1M652.2 598h1M642 552h1M656.9 606.5h1M643 580.7h1M638.5 625.8h1M621 582.1h1M650 574.7h1M662.4 582h1M645.7 594.1h1M630.8 602.8h1M615.5 638.3h1M636.4 590.9h1M620.9 633.5h1M641.7 565.9h1M660.4 601.9h1M656 539.4h1M628.9 626.3h1M655.5 593.9h1M624 609.5h1M634 540.4h1M662.2 581.6h1M624.2 607.5h1M642.9 538h1M649.2 537.2h1M617.3 623.4h1M614.5 613h1M656.1 542.4h1M625.6 605.6h1M631.4 543.4h1M616.4 623.6h1M643.3 537.7h1M645.9 616.3h1M644.3 613.5h1M618.7 599.6h1M660.9 558.2h1M661 567.5h1M637.4 572.3h1M629 560.1h1M651.9 607.1h1M620.9 614.1h1M640.9 578.9h1M646.1 537.8h1M622.3 643.9h1M634.4 581h1M631 566.9h1M612.7 614.4h1M632.8 574.1h1M644.3 625.3h1M627.2 576.3h1M613.2 619.8h1M616.4 594.3h1M626.6 560.9h1M614.9 580.3h1M648.2 561.3h1M636.2 576.7h1M651.7 540.9h1M631.8 552.5h1M618.4 636.3h1M628.6 613.2h1M626.8 602.4h1M654.9 604.8h1M655.5 546.9h1M632.3 603.3h1M617.9 573.3h1M616.7 575.1h1M652.4 597.4h1M657.8 607.1h1M649.7 596.8h1M642 627.4h1M660 594h1M619.8 620.4h1M635.1 585.5h1M649.4 606.2h1M615.7 614.1h1M603.3 621.5h1M658.5 609.6h1M629.2 575.9h1M613.9 601.9h1M630.3 586.2h1M623.8 637.4h1M627 548.5h1M624.5 598.7h1M643.2 602.8h1M633.6 636.3h1M626.8 646.1h1M647.1 595.9h1M645.7 558h1M653.7 568.1h1M614.9 614.2h1M644.2 628.7h1M644.4 559.2h1M628.7 610.8h1M651.6 603.4h1M636 578.7h1M606.1 622.2h1M662.7 583.1h1M624.4 631.9h1M630.6 593.1h1M644 589h1M658.5 596.2h1M647.5 534.5h1M609.1 622.5h1M643.7 623.9h1M660 579.1h1M633.5 638.4h1M630.4 546.1h1M626.5 576.6h1M646.9 593.5h1M652.4 568h1M652.3 573.2h1M613.6 626.9h1M658 586.8h1M629.2 628.3h1M648.2 590.2h1M648.2 622.1h1M635 575.2h1M657.3 555.5h1M638.3 546.8h1M656.4 537.2h1M619.5 573h1M644.7 605.8h1M659.2 595.5h1M630.2 593.8h1M643 629.1h1M655.3 561.4h1M642.2 559h1M631 601.2h1M631.9 559h1M619.5 628h1M647.3 627h1M632.7 639.7h1M629.4 562h1M632.1 587.3h1M654.1 558.4h1M627.8 588.7h1M604 618.4h1M647.6 567.9h1M610.2 623h1" stroke="#8e8e8e" stroke-width="0.8" fill="none"/>
<rect x="574.8" y="575.1" width="38.7" height="44.8" fill="#fff"/>
<path d="M581.7 578.5h0M578.5 579.2h0M581.9 602.4h0M610.8 588.1h0M612.5 588.3h0M611 594.3h0M579.8 598.2h0M612.3 595.8h0M581.3 602.9h0M597.8 594.5h0M608.6 614.2h0M606 600.7h0M580.1 611.8h0M576.7 592.9h0M580.2 598.3h0M603 597.3h0M577.4 595.4h0M583.8 612.4h0M609.6 611.3h0M602.2 598.1h0M607.5 610.4h0M609 593.9h0M611.1 602.3h0M611.9 601.2h0M587.4 598.5h0M611.2 597.2h0M610.5 591.2h0M609.7 589.1h0M605.9 590h0M603.3 603.3h0M594.2 577.2h0M578.5 613.2h0M576.7 600.8h0M609.6 597h0M596.5 597.9h0M579.2 584.6h0M611.5 613.6h0M606.3 598.3h0M598.4 600h0M609.4 606.8h0M601.7 592.9h0M581.5 600.3h0M604.1 616h0M576 590.1h0M606.4 584.4h0M580.7 587h0M584.6 599.9h0M588.6 578.1h0M612.4 605.3h0M602 604.3h0M582.6 595.7h0M575.9 580.4h0M611.4 595.3h0M605.6 582.3h0M582.4 589.8h0M612.1 594h0M576.3 577.2h0M599.3 597h0M609.7 611.4h0M579 589.6h0M605.1 594.8h0M602.4 600.2h0M606.1 598.7h0M600.8 595.6h0M582.5 589.6h0M577.7 601.5h0M576 592.8h0M601.4 579.9h0M611.9 588.4h0M580.2 604.9h0M612.1 577.3h0M578.5 585.2h0M582.3 591.2h0M605.7 579.4h0M589.1 604.7h0M603.8 589.7h0M580 589.6h0M599.8 594.5h0M579.7 608.4h0M610 603.2h0M580.4 594.4h0M606.1 600.8h0M600.5 588.1h0M609.5 599.2h0M612.2 584.9h0M610.2 605.9h0M612.2 618h0M579.2 589.2h0M578.6 582.4h0M611.2 598.9h0M576.3 592.3h0M606.9 590.1h0M611.4 587h0M606 605.7h0M610 590.9h0M582.3 606.7h0M575.7 591.7h0M584.6 595.1h0M582.8 605.8h0M608.4 594.9h0M607.8 595.5h0M579.4 593.5h0M611.3 597.8h0M608.7 585.5h0M594.6 599.2h0M607.6 601.3h0M586.6 577.9h0M576.3 595.7h0M579.9 596.3h0M604.2 614.8h0M604.6 595.3h0M581.4 585.7h0M579.2 606.2h0M606.9 580.2h0M586.4 587h0M585.9 592.8h0M610 607.2h0M612.8 581.3h0M599.4 594.5h0M585.8 596.6h0M610.1 602.7h0M609.1 589h0M592.1 594.7h0M607.8 600.1h0M584.2 587.1h0M604.9 610.1h0M606.4 579.3h0M580.8 598.5h0M585.2 609h0M579.7 583.6h0M596.6 603h0M577.5 605.6h0M587.7 593h0M575.9 579.5h0M580.2 592.8h0M591.4 592.2h0M612.2 584.2h0M606.1 601.9h0M609 589.7h0M607.8 590.1h0M577.2 599.1h0M589 594.5h0M602.4 598.2h0M597.8 596.1h0M604.6 591.3h0M606.1 619.2h0M608.5 601.8h0M581.1 588.8h0M576.9 595.8h0M580.7 589.1h0M606.3 599.2h0M612.4 607.5h0M604.5 600.2h0M580.8 602.2h0M579.6 607.7h0M582.7 584.2h0M576.5 608.8h0M610 587.9h0M609.2 602.8h0M582.6 596.1h0M608.3 595.2h0M605 597.1h0M584.9 606.5h0M588.8 598.9h0M611.7 607h0M581.1 584.1h0M600 585.5h0M606.3 615.6h0M605.4 598h0M606.3 582.3h0M609.8 589.9h0M608.2 589.1h0M606.9 601.5h0M582.8 589.2h0M604.2 597.7h0M584.9 614.5h0M588.5 604.3h0M575.9 595.8h0M609.7 613.7h0M609.6 596.6h0M582 597.1h0M605.9 584.7h0M583.9 593.1h0M577.5 605h0M612.3 607.9h0M611.8 602.8h0M604.9 608.7h0M612.4 596h0M593.2 594h0M582.7 594h0M576.7 596h0M586.1 601.4h0M595.1 604.4h0M609 591.1h0M606.5 608.8h0M583.8 590.4h0M582.5 603.7h0M612.5 602.5h0M609.4 605.6h0M609.4 607.3h0M612.8 607h0M593.1 605.2h0M607.9 589h0M576.5 602.4h0M583.8 598h0M576.5 597.2h0M608 586.8h0M607.8 597h0M598.1 603.8h0M580.8 591.3h0M578.7 598.2h0M610 604.9h0M605.5 584.4h0M588.3 595.2h0M610.5 594.6h0M610.5 601.1h0M578.8 578.3h0M576.2 608.7h0M604.6 590.5h0M579.6 586.9h0M592.4 595.5h0M579 580.5h0M601 597.3h0M589.1 599.7h0M611.5 584h0M577.8 593.4h0M592.7 593.3h0M603 600.6h0M592.7 596.6h0M578.8 593.2h0M607.1 613.2h0M602.5 584h0M608.8 611.6h0M604.1 611h0M588 590.2h0M576.5 591.8h0M610.9 602.1h0M575.6 582.1h0M576.6 602.7h0M612 591.1h0M582.4 604.2h0M606.1 585.2h0M606.1 616h0M602 585.8h0M607.6 592.8h0M608.4 612h0M580.6 598.4h0M584.6 597.7h0M580.1 600.9h0M607.8 594.8h0M576.5 596.5h0M589.4 596.4h0M578.3 599.1h0M602.3 592.2h0M583.4 594.7h0M576.8 606.8h0M577.7 605.2h0M606.5 596.9h0M578.5 596.7h0M605.8 604h0M581.3 599.4h0M612.7 586h0M578.6 577.8h0M602 587.4h0M582.1 608.5h0M610.2 609.9h0M576.9 590h0M611.5 603.7h0M589.5 597.1h0M607.1 593.7h0M580.8 604.8h0M582.7 595.1h0M602.9 600.4h0M611 595h0M581.6 599h0M583.5 591.9h0M581.4 600.8h0M580.6 593.2h0M612.5 598.9h0M598.9 599h0M611.3 611.8h0M588.4 611.3h0M608.3 591.3h0M578.7 599.2h0M596.6 599.4h0M605.8 596.7h0M576.6 592.4h0M594.2 583.9h0M610.8 577.4h0M606.1 598h0M609 592.1h0M609.2 606.3h0M605.9 597.9h0M582.7 592.9h0M578.5 590.9h0M575.5 608.5h0M609.8 589.9h0M585.4 597.2h0M610.2 582.3h0M575.9 579.8h0M608.4 597.8h0M597.6 598.9h0M606.2 597.8h0M579 592.7h0M606.3 613h0M609.9 583.9h0M576.9 592.2h0M580.3 590.2h0M580.3 597.4h0M611.6 585.9h0M589.9 586.5h0M609 578h0M605.4 584.6h0M606.9 603h0M612.1 601.5h0M611.5 588.6h0M600.1 600.2h0M612 593.9h0M586.8 601.2h0M605.8 603.9h0M608.5 581h0M579.9 593.1h0M609.4 590.7h0M611.9 617.1h0M600.4 596.9h0M608.6 584.3h0M587.9 595.8h0M578.8 599h0M598 599h0M579.2 610.3h0M592.9 597.9h0M576.8 600.2h0M607.8 591.6h0M579.5 588.6h0M579.1 595.1h0M599.9 601.5h0M593.5 586.2h0M612.7 582h0M606.5 605h0M609.5 594h0M604.9 597.7h0M611.5 599.3h0M596.8 599.8h0M585.8 590.4h0M607.2 605.6h0M607.3 583.3h0M589.5 607.1h0M593.5 601.8h0M583.7 596.7h0M606.4 592.2h0M606.2 596h0M609.4 588.1h0M594.3 595.1h0M585.6 582.3h0M590.3 591.3h0M609.7 597.6h0M606.3 597.8h0M609.9 603.2h0M578.8 607.4h0M576.8 586.9h0" stroke="#b01c22" stroke-width="1.2" stroke-linecap="round" fill="none"/>
<rect x="574.8" y="575.1" width="38.7" height="44.8" fill="none" stroke="#111" stroke-width="1.1"/>
<path d="M613.5 611.8 H635.2 V692" stroke="#111" stroke-width="1" fill="none"/>
<path d="M635.4 696.5 L632.6 690.5 L638.2 690.5Z" fill="#111"/>
<rect x="529" y="517.6" width="147.2" height="146.6" fill="none" stroke="#111" stroke-width="1.5"/>
<line x1="525.5" y1="530.8" x2="529" y2="530.8" stroke="#111" stroke-width="0.9"/>
<text x="524" y="534" font-size="8.7" text-anchor="end">6</text>
<line x1="525.5" y1="561.4" x2="529" y2="561.4" stroke="#111" stroke-width="0.9"/>
<text x="524" y="564.6" font-size="8.7" text-anchor="end">3</text>
<line x1="525.5" y1="592" x2="529" y2="592" stroke="#111" stroke-width="0.9"/>
<text x="524" y="595.2" font-size="8.7" text-anchor="end">0</text>
<line x1="525.5" y1="622.6" x2="529" y2="622.6" stroke="#111" stroke-width="0.9"/>
<text x="524" y="625.8" font-size="8.7" text-anchor="end">-3</text>
<line x1="525.5" y1="653.2" x2="529" y2="653.2" stroke="#111" stroke-width="0.9"/>
<line x1="527" y1="663.4" x2="529" y2="663.4" stroke="#111" stroke-width="0.7"/>
<line x1="527" y1="643" x2="529" y2="643" stroke="#111" stroke-width="0.7"/>
<line x1="527" y1="632.8" x2="529" y2="632.8" stroke="#111" stroke-width="0.7"/>
<line x1="527" y1="612.4" x2="529" y2="612.4" stroke="#111" stroke-width="0.7"/>
<line x1="527" y1="602.2" x2="529" y2="602.2" stroke="#111" stroke-width="0.7"/>
<line x1="527" y1="581.8" x2="529" y2="581.8" stroke="#111" stroke-width="0.7"/>
<line x1="527" y1="571.6" x2="529" y2="571.6" stroke="#111" stroke-width="0.7"/>
<line x1="527" y1="551.2" x2="529" y2="551.2" stroke="#111" stroke-width="0.7"/>
<line x1="527" y1="541" x2="529" y2="541" stroke="#111" stroke-width="0.7"/>
<line x1="579.5" y1="664.2" x2="579.5" y2="667.5" stroke="#111" stroke-width="0.9"/>
<text x="579.5" y="675.8" font-size="8.7" text-anchor="middle">-5</text>
<line x1="616" y1="664.2" x2="616" y2="667.5" stroke="#111" stroke-width="0.9"/>
<text x="616" y="675.8" font-size="8.7" text-anchor="middle">0</text>
<line x1="652.5" y1="664.2" x2="652.5" y2="667.5" stroke="#111" stroke-width="0.9"/>
<text x="652.5" y="675.8" font-size="8.7" text-anchor="middle">5</text>
<line x1="535.7" y1="664.2" x2="535.7" y2="666" stroke="#111" stroke-width="0.7"/>
<line x1="550.3" y1="664.2" x2="550.3" y2="666" stroke="#111" stroke-width="0.7"/>
<line x1="557.6" y1="664.2" x2="557.6" y2="666" stroke="#111" stroke-width="0.7"/>
<line x1="564.9" y1="664.2" x2="564.9" y2="666" stroke="#111" stroke-width="0.7"/>
<line x1="572.2" y1="664.2" x2="572.2" y2="666" stroke="#111" stroke-width="0.7"/>
<line x1="586.8" y1="664.2" x2="586.8" y2="666" stroke="#111" stroke-width="0.7"/>
<line x1="594.1" y1="664.2" x2="594.1" y2="666" stroke="#111" stroke-width="0.7"/>
<line x1="601.4" y1="664.2" x2="601.4" y2="666" stroke="#111" stroke-width="0.7"/>
<line x1="608.7" y1="664.2" x2="608.7" y2="666" stroke="#111" stroke-width="0.7"/>
<line x1="623.3" y1="664.2" x2="623.3" y2="666" stroke="#111" stroke-width="0.7"/>
<line x1="630.6" y1="664.2" x2="630.6" y2="666" stroke="#111" stroke-width="0.7"/>
<line x1="637.9" y1="664.2" x2="637.9" y2="666" stroke="#111" stroke-width="0.7"/>
<line x1="645.2" y1="664.2" x2="645.2" y2="666" stroke="#111" stroke-width="0.7"/>
<line x1="659.8" y1="664.2" x2="659.8" y2="666" stroke="#111" stroke-width="0.7"/>
<line x1="667.1" y1="664.2" x2="667.1" y2="666" stroke="#111" stroke-width="0.7"/>
<line x1="674.4" y1="664.2" x2="674.4" y2="666" stroke="#111" stroke-width="0.7"/>
<text x="529" y="675.8" font-size="8.7">UMAP1</text>
<text x="525" y="648.4" font-size="8.7" text-anchor="middle" transform="rotate(-90 525 648.4)">UMAP2</text>
<text x="536.5" y="533.3" font-size="8.7">LDN</text>
<text x="647.3" y="654.8" font-size="8.7">HDN</text>
<text x="528" y="698.3" font-size="12">Surface markers</text>
<path d="M527.5 710C529.4 709.3 533.3 707.3 537 706.5C540.7 705.7 542.2 705.1 546 706C549.8 706.9 551.6 707.4 556 711C560.4 714.6 562.8 717.6 568 724C573.2 730.4 576.4 735.8 582 743C587.6 750.2 590.4 755.2 596 760C601.6 764.8 603.2 765.4 610 767C616.8 768.6 622 768 630 768C638 768 643 767.2 650 767C657 766.8 659.9 767.4 665 767C670.1 766.6 673.4 765.4 675.5 765" stroke="#8fd0e8" stroke-width="2.3" fill="none"/>
<path d="M527.5 760C530 760.6 535.1 761.4 540 763C544.9 764.6 547 766.5 552 768C557 769.5 559.4 770.7 565 770.5C570.6 770.3 573 770.7 580 767C587 763.3 592 758.8 600 752C608 745.2 612 739.8 620 733C628 726.2 632 723 640 718C648 713 652.9 710.8 660 708C667.1 705.2 672.4 704.8 675.5 704" stroke="#eab234" stroke-width="2.3" fill="none"/>
<path d="M527.5 771C531 768 537.5 761.2 545 756C552.5 750.8 557 750.2 565 745C573 739.8 577 735.8 585 730C593 724.2 597 720.2 605 716C613 711.8 617 710.8 625 709C633 707.2 638 707.6 645 707C652 706.4 653.9 706.4 660 706C666.1 705.6 672.4 705.2 675.5 705" stroke="#3aa3b8" stroke-width="2.3" fill="none"/>
<path d="M527.5 771C531 768.8 536.5 764.6 545 760C553.5 755.4 560 752.6 570 748C580 743.4 586 741.6 595 737C604 732.4 607 729.8 615 725C623 720.2 627 716.6 635 713C643 709.4 646.9 708.8 655 707C663.1 705.2 671.4 704.6 675.5 704" stroke="#ec8a35" stroke-width="2.3" fill="none"/>
<rect x="527.1" y="703" width="148.5" height="69.3" fill="none" stroke="#b52a2a" stroke-width="1.8"/>
<text x="523.6" y="714.4" font-size="12" font-weight="bold" text-anchor="end" fill="#8fd0e8">LOX-1</text>
<text x="523.6" y="754.4" font-size="12.2" font-weight="bold" text-anchor="end" fill="#eab234">CD10</text>
<text x="523.6" y="765.5" font-size="12.2" font-weight="bold" text-anchor="end" fill="#3aa3b8">CD32</text>
<text x="523.6" y="777" font-size="12.2" font-weight="bold" text-anchor="end" fill="#ec8a35">CD282</text>
<text x="528" y="785" font-size="8.7">UMAP1</text>
<line x1="560" y1="782.4" x2="670" y2="782.4" stroke="#111" stroke-width="1"/>
<path d="M675.5 782.4 L669 779.6 L669 785.2Z" fill="#111"/>
<text x="2" y="807" font-size="14.5" font-weight="bold" fill="#000">J</text>
<text x="14" y="814.5" font-size="12.15">Putative markers identified through InfinityFlow</text>
<text x="105.6" y="836.6" font-size="12" text-anchor="middle">CD10</text>
<line x1="59.3" y1="842.7" x2="59.3" y2="938.5" stroke="#888" stroke-width="0.8" stroke-dasharray="3 2.6"/>
<line x1="88.6" y1="842.7" x2="88.6" y2="938.5" stroke="#888" stroke-width="0.8" stroke-dasharray="3 2.6"/>
<line x1="118" y1="842.7" x2="118" y2="938.5" stroke="#888" stroke-width="0.8" stroke-dasharray="3 2.6"/>
<line x1="147.3" y1="842.7" x2="147.3" y2="938.5" stroke="#888" stroke-width="0.8" stroke-dasharray="3 2.6"/>
<g class="jc" fill="#e9b82e" stroke="#2a2a20" stroke-width="0.6"><circle cx="126.8" cy="886.9"/><circle cx="96.7" cy="918.7"/><circle cx="53" cy="916.4"/><circle cx="59.1" cy="906.3"/><circle cx="52.8" cy="905.7"/><circle cx="84.7" cy="912.6"/><circle cx="95.1" cy="919.6"/><circle cx="74.1" cy="914.7"/><circle cx="57.9" cy="918.5"/><circle cx="135.9" cy="908.8"/><circle cx="81.6" cy="925.2"/><circle cx="55" cy="909.5"/><circle cx="133.7" cy="888.6"/><circle cx="55.8" cy="913.3"/><circle cx="51.5" cy="913.1"/><circle cx="56.8" cy="912.7"/><circle cx="134.4" cy="904.4"/><circle cx="110.1" cy="916.4"/><circle cx="109.8" cy="914.4"/><circle cx="51.9" cy="922.4"/><circle cx="54" cy="903"/><circle cx="123.4" cy="909.8"/><circle cx="153.2" cy="888.8"/><circle cx="52.7" cy="923.9"/><circle cx="151.5" cy="887.6"/><circle cx="124.3" cy="909.3"/><circle cx="158.2" cy="894.2"/><circle cx="149.3" cy="892"/><circle cx="58.5" cy="916.9"/><circle cx="58.8" cy="904.2"/><circle cx="67.8" cy="903.6"/><circle cx="132.5" cy="887.1"/><circle cx="56.5" cy="914"/><circle cx="156.9" cy="893.7"/><circle cx="90.8" cy="915.7"/><circle cx="96.6" cy="920"/><circle cx="142.3" cy="905.2"/><circle cx="97.7" cy="903.7"/><circle cx="136.2" cy="894"/><circle cx="52.5" cy="912.7"/><circle cx="54" cy="918.7"/><circle cx="148.7" cy="888.7"/><circle cx="134.5" cy="904.4"/><circle cx="55.7" cy="920.9"/><circle cx="97.5" cy="916"/><circle cx="83.6" cy="922.3"/><circle cx="57.5" cy="897.3"/><circle cx="137.9" cy="891.1"/><circle cx="130.2" cy="906"/><circle cx="139.1" cy="915.1"/><circle cx="159.9" cy="885.6"/><circle cx="72.2" cy="914.6"/><circle cx="124.5" cy="904.5"/><circle cx="56.8" cy="926.3"/><circle cx="95.2" cy="922"/><circle cx="133.4" cy="918.8"/><circle cx="124.6" cy="905.9"/><circle cx="70" cy="922.4"/><circle cx="57.7" cy="911.3"/><circle cx="52.5" cy="911.7"/><circle cx="144.7" cy="903.7"/><circle cx="57.3" cy="925.6"/><circle cx="55.4" cy="917.4"/><circle cx="128.3" cy="918.5"/><circle cx="160.4" cy="901.1"/><circle cx="144.2" cy="881.1"/><circle cx="63" cy="914.2"/><circle cx="150.3" cy="892.8"/><circle cx="145.3" cy="888"/><circle cx="51.7" cy="914.3"/><circle cx="88.4" cy="912.6"/><circle cx="57.1" cy="915.2"/><circle cx="90.1" cy="910.6"/><circle cx="152.3" cy="882"/><circle cx="133.1" cy="894.1"/><circle cx="139.3" cy="896.3"/><circle cx="52.5" cy="910.9"/><circle cx="158.1" cy="886"/><circle cx="152.3" cy="889.1"/><circle cx="55.5" cy="905.1"/><circle cx="58.5" cy="909.5"/><circle cx="147.2" cy="887.8"/><circle cx="134.7" cy="894.9"/><circle cx="162.5" cy="909.3"/><circle cx="120.5" cy="907.7"/><circle cx="134.8" cy="902.3"/><circle cx="120" cy="904.4"/><circle cx="51.3" cy="914.6"/><circle cx="59.2" cy="908.4"/><circle cx="56.8" cy="926"/><circle cx="151" cy="896.4"/><circle cx="149.1" cy="875.1"/><circle cx="80" cy="917.5"/><circle cx="112.9" cy="918.6"/><circle cx="109.1" cy="904.6"/><circle cx="118.4" cy="904.6"/><circle cx="131" cy="908.4"/><circle cx="58.9" cy="920.8"/><circle cx="52.4" cy="916.1"/><circle cx="57.4" cy="914"/><circle cx="55.6" cy="909.7"/><circle cx="155.7" cy="898.4"/><circle cx="51.9" cy="911.5"/><circle cx="150.4" cy="908.5"/><circle cx="161.5" cy="893.4"/><circle cx="120.4" cy="918.6"/><circle cx="144.5" cy="890.1"/><circle cx="142" cy="896.1"/><circle cx="131" cy="914.9"/><circle cx="143.1" cy="902.4"/><circle cx="121.9" cy="899.5"/><circle cx="123.4" cy="897.5"/><circle cx="55.3" cy="915.6"/><circle cx="54.7" cy="911.4"/><circle cx="125.7" cy="902.6"/><circle cx="97.1" cy="917.9"/><circle cx="53.9" cy="911.9"/><circle cx="125.2" cy="899.5"/><circle cx="159.3" cy="892.3"/><circle cx="103.6" cy="901.9"/><circle cx="133.9" cy="891.3"/><circle cx="91.1" cy="923"/><circle cx="72.9" cy="902.1"/><circle cx="58.6" cy="921"/><circle cx="118.5" cy="901.1"/><circle cx="157.7" cy="887.9"/><circle cx="83" cy="914.4"/><circle cx="54.6" cy="916.2"/><circle cx="157.6" cy="892.1"/><circle cx="52.3" cy="914.7"/><circle cx="136.4" cy="889.8"/><circle cx="149.2" cy="899.1"/><circle cx="58.5" cy="907.9"/><circle cx="125.8" cy="914"/><circle cx="54.2" cy="915.2"/><circle cx="156.9" cy="897.7"/><circle cx="140" cy="889.5"/><circle cx="55.3" cy="905.8"/><circle cx="146.8" cy="893.7"/><circle cx="81.4" cy="906"/><circle cx="99.1" cy="907"/><circle cx="105.4" cy="910.9"/><circle cx="90.9" cy="915.1"/><circle cx="139.2" cy="898.1"/><circle cx="72.2" cy="914.5"/><circle cx="59" cy="903.9"/><circle cx="130.9" cy="899.2"/><circle cx="124.5" cy="913.7"/><circle cx="119.2" cy="903.7"/><circle cx="72.7" cy="911.3"/><circle cx="151.9" cy="901.3"/><circle cx="128.2" cy="898"/><circle cx="119" cy="916.3"/><circle cx="53.9" cy="906.4"/><circle cx="59.1" cy="913.3"/><circle cx="124.9" cy="906.2"/><circle cx="53" cy="916.3"/><circle cx="91.5" cy="923.9"/><circle cx="54" cy="905.4"/><circle cx="100" cy="908.5"/><circle cx="81.1" cy="922"/><circle cx="153.1" cy="896.1"/><circle cx="52.9" cy="907.4"/><circle cx="55.5" cy="913.7"/><circle cx="55.5" cy="916.5"/><circle cx="161.6" cy="880.6"/><circle cx="111" cy="906.3"/><circle cx="161.5" cy="897.7"/><circle cx="57.3" cy="917.9"/><circle cx="130.6" cy="910.7"/><circle cx="150.8" cy="886.3"/><circle cx="120.5" cy="888.8"/><circle cx="52.6" cy="919.1"/><circle cx="158.1" cy="902.8"/><circle cx="52.8" cy="909.2"/><circle cx="78.9" cy="914.7"/><circle cx="145.8" cy="890.5"/><circle cx="141.3" cy="910.6"/><circle cx="88.7" cy="925.9"/><circle cx="148.7" cy="891.8"/><circle cx="90.5" cy="920.1"/><circle cx="54.9" cy="913.6"/><circle cx="149.9" cy="878.9"/><circle cx="145.4" cy="889.8"/><circle cx="53.8" cy="917.7"/><circle cx="56.3" cy="908.8"/><circle cx="147.1" cy="904.3"/><circle cx="57.9" cy="914.6"/><circle cx="156.7" cy="892.4"/><circle cx="58.1" cy="919.2"/><circle cx="157" cy="883.8"/><circle cx="156.4" cy="896.9"/><circle cx="51.8" cy="902.9"/><circle cx="146.1" cy="908.9"/><circle cx="109" cy="911.9"/><circle cx="120.7" cy="903.7"/><circle cx="147.5" cy="888.8"/><circle cx="105.8" cy="908.8"/><circle cx="132.9" cy="896.5"/><circle cx="93.1" cy="912.3"/><circle cx="132.5" cy="894.3"/><circle cx="101.6" cy="907.7"/><circle cx="142.8" cy="894.4"/><circle cx="126.3" cy="907.8"/><circle cx="90" cy="920"/><circle cx="72.6" cy="917.6"/><circle cx="81.5" cy="921.4"/><circle cx="160.3" cy="890.1"/><circle cx="126.2" cy="902.6"/><circle cx="149.5" cy="886.9"/><circle cx="140.4" cy="878.5"/><circle cx="129.4" cy="902"/><circle cx="119.6" cy="895.8"/><circle cx="137.2" cy="902.1"/><circle cx="129.3" cy="897.8"/><circle cx="53.5" cy="915.9"/><circle cx="142.4" cy="892.5"/><circle cx="160.8" cy="903"/><circle cx="52.1" cy="914.8"/><circle cx="150.7" cy="890.2"/><circle cx="55.3" cy="914.5"/><circle cx="71.6" cy="915.6"/><circle cx="162" cy="884.8"/><circle cx="94.5" cy="913.6"/><circle cx="59" cy="916.2"/><circle cx="90.4" cy="909.6"/><circle cx="146" cy="905.1"/><circle cx="59" cy="902.8"/><circle cx="129.1" cy="887.4"/><circle cx="154.7" cy="894.6"/><circle cx="53.5" cy="928.2"/><circle cx="117.5" cy="905.3"/><circle cx="150.6" cy="893.3"/><circle cx="144.9" cy="899.4"/><circle cx="52.5" cy="911.8"/><circle cx="157.1" cy="901.9"/><circle cx="137" cy="897"/><circle cx="87.7" cy="933.8"/><circle cx="51.6" cy="908.8"/><circle cx="157.2" cy="890.2"/><circle cx="161.8" cy="893"/><circle cx="78.6" cy="906.1"/><circle cx="163.2" cy="895"/><circle cx="90.7" cy="916.7"/><circle cx="124.9" cy="905"/><circle cx="135.8" cy="894.7"/><circle cx="87" cy="917.5"/><circle cx="136.3" cy="908.9"/><circle cx="123.3" cy="901.9"/><circle cx="75.4" cy="916"/><circle cx="51.3" cy="913.5"/><circle cx="161.9" cy="895"/><circle cx="92" cy="912.2"/><circle cx="119.5" cy="911.9"/><circle cx="153.3" cy="907.3"/><circle cx="156" cy="892.5"/><circle cx="98.5" cy="909.7"/><circle cx="52.9" cy="920.1"/><circle cx="123.2" cy="894.2"/><circle cx="162.9" cy="876.1"/><circle cx="153.5" cy="898.1"/><circle cx="53" cy="912.1"/><circle cx="93.3" cy="912.9"/><circle cx="110.3" cy="905.7"/><circle cx="107.7" cy="920.5"/><circle cx="72.1" cy="927.6"/><circle cx="71.4" cy="928.3"/><circle cx="126.7" cy="914"/><circle cx="56.3" cy="915.4"/><circle cx="105.2" cy="912.8"/><circle cx="133.2" cy="880"/><circle cx="53.1" cy="918.3"/><circle cx="133.4" cy="897"/><circle cx="140.3" cy="884.3"/><circle cx="144.1" cy="901.9"/><circle cx="158.9" cy="899.2"/><circle cx="139.7" cy="893.7"/><circle cx="125.2" cy="917.4"/><circle cx="54.2" cy="909.1"/><circle cx="62.8" cy="914"/><circle cx="56.4" cy="911.5"/><circle cx="136.7" cy="901.9"/><circle cx="58.8" cy="909.8"/><circle cx="53.5" cy="910"/><circle cx="78.8" cy="932.9"/><circle cx="138.4" cy="900.5"/><circle cx="138.6" cy="900.3"/><circle cx="122.3" cy="912.9"/><circle cx="56.9" cy="915.1"/><circle cx="56.2" cy="920.2"/><circle cx="54.4" cy="910.6"/><circle cx="122.7" cy="917.4"/><circle cx="119.3" cy="894.7"/><circle cx="157" cy="894.2"/><circle cx="152.6" cy="891.2"/><circle cx="56.9" cy="915.6"/><circle cx="57.7" cy="923.3"/><circle cx="55.7" cy="909.6"/><circle cx="151.5" cy="891.5"/><circle cx="153.8" cy="888.5"/><circle cx="118.8" cy="909.4"/><circle cx="162.2" cy="904.6"/><circle cx="155" cy="893.1"/><circle cx="163.4" cy="886.5"/><circle cx="56.3" cy="917.8"/><circle cx="77.2" cy="924.8"/><circle cx="124.3" cy="894"/><circle cx="54.4" cy="909.2"/><circle cx="148.8" cy="894.9"/><circle cx="155.2" cy="882.7"/><circle cx="113.7" cy="925"/><circle cx="100.8" cy="910.7"/><circle cx="94.5" cy="916.4"/><circle cx="121.8" cy="908.2"/><circle cx="124.5" cy="903.8"/><circle cx="93.2" cy="911.6"/><circle cx="106.8" cy="919.8"/><circle cx="88.4" cy="910.6"/><circle cx="133.9" cy="897.5"/><circle cx="148.1" cy="904.7"/><circle cx="53.8" cy="907.9"/><circle cx="117.8" cy="915.4"/><circle cx="150.2" cy="888.8"/><circle cx="90.2" cy="913.3"/><circle cx="84.2" cy="915.8"/><circle cx="55.5" cy="916.4"/><circle cx="54.2" cy="914.3"/><circle cx="55.5" cy="904.5"/><circle cx="148.6" cy="898.2"/><circle cx="152.9" cy="890.6"/><circle cx="129.6" cy="900.9"/><circle cx="155.8" cy="878.2"/><circle cx="100" cy="909.9"/><circle cx="120.9" cy="920.3"/><circle cx="53.5" cy="912.7"/><circle cx="55" cy="919.6"/><circle cx="54.6" cy="916.3"/><circle cx="141.2" cy="905.2"/><circle cx="160.1" cy="896.3"/><circle cx="124.6" cy="904.5"/><circle cx="52" cy="924.8"/><circle cx="104.1" cy="909.2"/><circle cx="150.8" cy="905.8"/><circle cx="71.9" cy="917.9"/><circle cx="153.7" cy="890.6"/><circle cx="144.1" cy="906.5"/><circle cx="149.4" cy="896"/><circle cx="158.1" cy="891.6"/><circle cx="82.1" cy="907.6"/><circle cx="54.7" cy="905.6"/><circle cx="58.2" cy="918.2"/><circle cx="149.2" cy="906.3"/><circle cx="122" cy="905.9"/><circle cx="59.5" cy="912.2"/><circle cx="145.5" cy="898"/><circle cx="51.6" cy="924.8"/><circle cx="87.7" cy="918.9"/><circle cx="142.2" cy="903"/><circle cx="97.6" cy="907.4"/><circle cx="126.3" cy="909.8"/><circle cx="51.4" cy="921.6"/><circle cx="56.1" cy="920.2"/><circle cx="56" cy="902.8"/><circle cx="58.8" cy="916.4"/><circle cx="55.6" cy="918"/><circle cx="159.4" cy="886"/><circle cx="80.6" cy="921.1"/><circle cx="55.4" cy="907.8"/><circle cx="154.3" cy="909"/><circle cx="84.9" cy="921.9"/><circle cx="55.1" cy="916"/><circle cx="120.3" cy="917.5"/><circle cx="153" cy="890.3"/><circle cx="101.3" cy="916.4"/><circle cx="122.5" cy="886.6"/><circle cx="135" cy="894.9"/><circle cx="65.3" cy="919.5"/><circle cx="58.8" cy="900.5"/><circle cx="134.8" cy="898.9"/><circle cx="143.9" cy="905.1"/><circle cx="114.7" cy="908.3"/><circle cx="130.7" cy="908.7"/><circle cx="53.5" cy="911.7"/><circle cx="57.3" cy="918.1"/><circle cx="129.8" cy="897.4"/><circle cx="57.7" cy="906.2"/><circle cx="119.7" cy="905.3"/><circle cx="57.3" cy="918.8"/><circle cx="134.4" cy="901.8"/><circle cx="162.2" cy="884.2"/><circle cx="135.4" cy="913.6"/><circle cx="78.6" cy="915.2"/><circle cx="59.2" cy="914"/><circle cx="161" cy="897.9"/><circle cx="75.7" cy="919.5"/><circle cx="108.8" cy="900.3"/><circle cx="102.1" cy="907.7"/><circle cx="58.4" cy="916.8"/><circle cx="136.4" cy="881.3"/><circle cx="158.4" cy="908.9"/><circle cx="75.5" cy="916.8"/><circle cx="65.1" cy="911.3"/><circle cx="53.8" cy="907"/><circle cx="116.9" cy="899.7"/><circle cx="129.1" cy="905.7"/><circle cx="150.3" cy="903.3"/><circle cx="66" cy="920.5"/><circle cx="57.7" cy="912.4"/><circle cx="87.6" cy="923.1"/><circle cx="54.2" cy="908"/><circle cx="91.5" cy="927.5"/><circle cx="118.1" cy="913.8"/><circle cx="156.4" cy="888.3"/><circle cx="126.3" cy="905.7"/><circle cx="151.1" cy="888"/><circle cx="131.4" cy="907.6"/><circle cx="54.7" cy="910.7"/><circle cx="54.3" cy="906.3"/><circle cx="53.7" cy="912.7"/><circle cx="151.6" cy="896.8"/><circle cx="147.2" cy="883.1"/><circle cx="156.3" cy="889.4"/><circle cx="150.5" cy="894"/><circle cx="53" cy="920.5"/><circle cx="86.7" cy="912.1"/><circle cx="102.8" cy="914.1"/><circle cx="78.8" cy="914.6"/><circle cx="56.2" cy="908.6"/><circle cx="67" cy="916.7"/><circle cx="116.5" cy="898.4"/><circle cx="135.8" cy="901"/><circle cx="57.6" cy="919"/><circle cx="129" cy="905.6"/><circle cx="52.9" cy="906.4"/><circle cx="82.5" cy="918.9"/><circle cx="80.5" cy="911.1"/><circle cx="144.7" cy="903.2"/><circle cx="162" cy="889.5"/><circle cx="152.2" cy="901.7"/><circle cx="58.9" cy="912"/><circle cx="51.8" cy="916"/><circle cx="131.8" cy="903.2"/><circle cx="142.9" cy="890.4"/><circle cx="118.1" cy="900.8"/><circle cx="54.3" cy="919.4"/><circle cx="96.9" cy="919"/><circle cx="53.7" cy="927.7"/><circle cx="59.5" cy="912.4"/><circle cx="55.5" cy="906.2"/><circle cx="128.7" cy="903.8"/><circle cx="110.1" cy="905.4"/><circle cx="149.6" cy="895.1"/><circle cx="130.9" cy="900.6"/><circle cx="69.1" cy="910.7"/><circle cx="58.7" cy="919.2"/><circle cx="114.5" cy="902.3"/><circle cx="157.1" cy="891.5"/><circle cx="70.5" cy="906.7"/><circle cx="122.6" cy="901.2"/><circle cx="137.9" cy="899.3"/><circle cx="57.5" cy="905.2"/><circle cx="53.5" cy="909"/><circle cx="51.9" cy="907.2"/><circle cx="107.2" cy="920.2"/><circle cx="81.9" cy="922.5"/><circle cx="139.9" cy="893.3"/><circle cx="152.7" cy="899.1"/><circle cx="124.9" cy="898.5"/><circle cx="51.6" cy="913.8"/><circle cx="57.3" cy="918.2"/><circle cx="138" cy="887.6"/><circle cx="52.3" cy="904.6"/><circle cx="128.4" cy="887.1"/><circle cx="103.3" cy="916"/><circle cx="56.7" cy="916.4"/><circle cx="160.6" cy="888.4"/><circle cx="153.6" cy="898.5"/><circle cx="148.4" cy="890"/><circle cx="53" cy="917.2"/><circle cx="54.1" cy="920.6"/><circle cx="123.6" cy="902"/><circle cx="161.5" cy="892.5"/><circle cx="143.6" cy="893.9"/><circle cx="153.3" cy="890.5"/><circle cx="161.3" cy="904"/><circle cx="54.9" cy="917.3"/><circle cx="138.9" cy="885.2"/><circle cx="53.4" cy="910.6"/><circle cx="149.1" cy="880.8"/><circle cx="78.6" cy="922.2"/><circle cx="57.7" cy="911"/><circle cx="163.2" cy="898.7"/><circle cx="140.4" cy="901.4"/><circle cx="86.5" cy="924.3"/><circle cx="130.3" cy="885.7"/><circle cx="52.8" cy="906.4"/><circle cx="115.8" cy="921.3"/><circle cx="155" cy="897.8"/><circle cx="52.1" cy="920.3"/><circle cx="135.3" cy="909"/><circle cx="112.2" cy="908.8"/><circle cx="121.5" cy="912.2"/><circle cx="130.9" cy="894.9"/><circle cx="144.6" cy="888"/><circle cx="58.1" cy="915.6"/><circle cx="129.3" cy="903.3"/><circle cx="56.6" cy="917.3"/><circle cx="54.3" cy="915.8"/><circle cx="125.9" cy="903.2"/><circle cx="59.9" cy="914"/><circle cx="83.5" cy="916.8"/><circle cx="149.9" cy="887.4"/><circle cx="123.6" cy="898.6"/><circle cx="53.9" cy="918.2"/><circle cx="58.2" cy="910.8"/><circle cx="127.9" cy="902.3"/><circle cx="122.2" cy="895.8"/><circle cx="140.5" cy="902.2"/><circle cx="57.8" cy="920.5"/><circle cx="123.9" cy="898.2"/><circle cx="53.8" cy="908.4"/><circle cx="132.8" cy="887.6"/><circle cx="152.6" cy="898.4"/><circle cx="153.7" cy="882"/><circle cx="119.2" cy="913.2"/><circle cx="116.5" cy="903.8"/><circle cx="158.7" cy="899"/><circle cx="95.5" cy="912.7"/><circle cx="150.4" cy="887.5"/><circle cx="53.6" cy="913.6"/><circle cx="53" cy="911.8"/><circle cx="120.4" cy="902.5"/><circle cx="156" cy="891.9"/><circle cx="162.4" cy="896.4"/><circle cx="160.2" cy="897.6"/><circle cx="56.2" cy="905"/><circle cx="123.1" cy="896.3"/><circle cx="157.1" cy="901"/><circle cx="130.3" cy="912.7"/><circle cx="53.1" cy="918.9"/><circle cx="138.7" cy="889.9"/><circle cx="159.4" cy="896.6"/><circle cx="156" cy="886.9"/><circle cx="103.2" cy="919.3"/><circle cx="156.1" cy="898"/><circle cx="124.1" cy="908.2"/><circle cx="57" cy="915.8"/><circle cx="131.8" cy="888.2"/><circle cx="128.2" cy="913"/><circle cx="55" cy="911"/><circle cx="159.3" cy="888.6"/><circle cx="53.9" cy="916.3"/><circle cx="51.8" cy="921.1"/><circle cx="58.6" cy="920.8"/><circle cx="149.2" cy="906.2"/><circle cx="136.1" cy="890.3"/><circle cx="158.4" cy="894.9"/><circle cx="58.1" cy="916.2"/><circle cx="139.4" cy="904.9"/><circle cx="56.7" cy="917.5"/><circle cx="53.1" cy="920.2"/><circle cx="154.8" cy="892.1"/><circle cx="87.6" cy="925.6"/><circle cx="54" cy="918.3"/><circle cx="134.3" cy="913.8"/><circle cx="159.5" cy="895.7"/><circle cx="74.2" cy="923.3"/><circle cx="160" cy="892.1"/><circle cx="137.5" cy="899.6"/><circle cx="57.9" cy="912.7"/><circle cx="98" cy="907.9"/><circle cx="138.6" cy="898.8"/><circle cx="57.3" cy="917.8"/><circle cx="159.4" cy="890.5"/><circle cx="56.9" cy="915.7"/><circle cx="111.9" cy="917.4"/><circle cx="53.4" cy="918.4"/><circle cx="161.8" cy="893.6"/><circle cx="84.6" cy="909.7"/><circle cx="137.7" cy="900.2"/><circle cx="136.9" cy="898.3"/><circle cx="145.4" cy="899.1"/><circle cx="140.5" cy="896.3"/><circle cx="125.4" cy="911"/><circle cx="114.4" cy="906.6"/><circle cx="156.7" cy="889.7"/><circle cx="129.2" cy="901.3"/><circle cx="123.8" cy="893.3"/><circle cx="57.1" cy="912.5"/><circle cx="148.7" cy="895.1"/><circle cx="54.8" cy="913.2"/><circle cx="57.7" cy="921"/><circle cx="60.3" cy="907.9"/><circle cx="131.6" cy="900.1"/><circle cx="147.9" cy="899.6"/><circle cx="157.4" cy="897.4"/><circle cx="130.8" cy="899.6"/><circle cx="57.7" cy="923.8"/><circle cx="56.1" cy="924.6"/><circle cx="156.9" cy="884.4"/><circle cx="136.7" cy="902.6"/><circle cx="128.4" cy="904.6"/><circle cx="123.4" cy="892.6"/><circle cx="60.3" cy="909"/><circle cx="57.2" cy="909.4"/><circle cx="159.1" cy="895.5"/><circle cx="55.8" cy="906.2"/><circle cx="54.6" cy="921.6"/><circle cx="93.1" cy="921.1"/><circle cx="119.2" cy="891"/><circle cx="146.6" cy="897.4"/><circle cx="136.9" cy="906.2"/><circle cx="56.1" cy="907.7"/><circle cx="143.2" cy="895.6"/><circle cx="122.6" cy="910.5"/><circle cx="143.3" cy="891.3"/><circle cx="56.8" cy="914.2"/><circle cx="129.2" cy="898.4"/><circle cx="58" cy="918.9"/><circle cx="151.6" cy="887.1"/><circle cx="160.3" cy="889"/><circle cx="121" cy="909.8"/><circle cx="54.3" cy="914.3"/><circle cx="58.2" cy="916"/><circle cx="56.9" cy="908"/><circle cx="154.2" cy="880.7"/><circle cx="55.9" cy="910.3"/><circle cx="158.4" cy="895.8"/><circle cx="59.1" cy="917.8"/><circle cx="133.5" cy="903.4"/><circle cx="140.6" cy="898.8"/><circle cx="98.2" cy="910.3"/><circle cx="134.3" cy="899.6"/><circle cx="126.9" cy="896.6"/><circle cx="58.3" cy="918.2"/><circle cx="125.4" cy="913.7"/><circle cx="65.5" cy="907.7"/><circle cx="158.9" cy="895.9"/><circle cx="57.8" cy="915.4"/><circle cx="160.5" cy="890.5"/><circle cx="58.4" cy="912.7"/><circle cx="88.9" cy="919.2"/><circle cx="128.5" cy="902.6"/><circle cx="129.7" cy="901.3"/><circle cx="104.1" cy="915.5"/><circle cx="54.4" cy="912.6"/><circle cx="96.3" cy="917"/><circle cx="104.4" cy="913"/><circle cx="141.6" cy="895.2"/><circle cx="56.8" cy="916.1"/><circle cx="129.4" cy="897.5"/><circle cx="53.5" cy="911.3"/><circle cx="127.4" cy="910.2"/><circle cx="119.4" cy="902.4"/><circle cx="56.8" cy="919"/><circle cx="52.6" cy="921"/><circle cx="53.5" cy="912.5"/><circle cx="100.9" cy="914.9"/><circle cx="69.2" cy="915.5"/><circle cx="147" cy="888"/><circle cx="155.1" cy="892.7"/><circle cx="159.8" cy="893.1"/><circle cx="52" cy="917.1"/><circle cx="58.8" cy="912.8"/><circle cx="123.1" cy="907.3"/><circle cx="88.3" cy="910"/><circle cx="121.9" cy="899.1"/><circle cx="120.5" cy="904.7"/><circle cx="154.3" cy="893.9"/><circle cx="71.5" cy="916.9"/><circle cx="62.6" cy="919"/><circle cx="77" cy="921.2"/><circle cx="138" cy="898.8"/><circle cx="57.5" cy="919.1"/><circle cx="140.8" cy="890.5"/><circle cx="153.7" cy="896.5"/><circle cx="154.6" cy="900.1"/><circle cx="107.1" cy="904.4"/><circle cx="127.1" cy="892.1"/><circle cx="129.6" cy="914.4"/><circle cx="60.4" cy="920.8"/><circle cx="55.6" cy="916.5"/><circle cx="93.3" cy="923.2"/><circle cx="137.6" cy="905.2"/><circle cx="135.2" cy="913.4"/><circle cx="53.3" cy="909.9"/><circle cx="126.3" cy="890.3"/><circle cx="150.5" cy="899.6"/><circle cx="121.7" cy="909.4"/><circle cx="67.2" cy="920.9"/><circle cx="105.8" cy="905.3"/><circle cx="82.5" cy="917.3"/><circle cx="161.5" cy="897.4"/><circle cx="110.4" cy="911.1"/><circle cx="145.7" cy="894.3"/><circle cx="75.3" cy="916.6"/><circle cx="105.7" cy="916.6"/><circle cx="106.9" cy="920.3"/><circle cx="104.6" cy="901.9"/><circle cx="105.4" cy="900.5"/><circle cx="129.7" cy="907"/><circle cx="103" cy="919.8"/><circle cx="113.3" cy="911.8"/><circle cx="146.6" cy="904.9"/><circle cx="57.2" cy="911.3"/><circle cx="140.4" cy="901.2"/><circle cx="58.7" cy="906.7"/><circle cx="112.3" cy="916.2"/><circle cx="80.6" cy="919"/><circle cx="152.2" cy="897.1"/><circle cx="159.5" cy="888.7"/><circle cx="79" cy="921.5"/><circle cx="137.1" cy="898.9"/><circle cx="118" cy="910.1"/><circle cx="101.4" cy="909.2"/><circle cx="129.4" cy="907.7"/><circle cx="126" cy="888.3"/><circle cx="138.5" cy="892.6"/><circle cx="117" cy="910.5"/><circle cx="67.8" cy="913.1"/><circle cx="97.5" cy="915.8"/><circle cx="100.2" cy="917.9"/><circle cx="122.8" cy="901.7"/><circle cx="133.5" cy="902.1"/><circle cx="157.3" cy="892.1"/><circle cx="70" cy="915.7"/><circle cx="150.8" cy="892.3"/><circle cx="125.7" cy="901.1"/><circle cx="102.1" cy="921"/><circle cx="53.9" cy="913.2"/><circle cx="158.1" cy="884"/><circle cx="55.6" cy="922"/><circle cx="159.1" cy="892.2"/><circle cx="57.2" cy="910"/><circle cx="54.4" cy="920.3"/><circle cx="162.9" cy="885.3"/><circle cx="157.8" cy="882.5"/><circle cx="135.3" cy="907.9"/><circle cx="110.9" cy="907.3"/><circle cx="53.8" cy="909.5"/><circle cx="120.7" cy="910.8"/><circle cx="145.4" cy="906"/><circle cx="121.2" cy="911.5"/><circle cx="71.6" cy="920.3"/><circle cx="161.7" cy="889.9"/><circle cx="68" cy="923"/><circle cx="74.1" cy="921.7"/><circle cx="145.4" cy="902.6"/><circle cx="53.8" cy="917.6"/><circle cx="52.7" cy="919.9"/><circle cx="59.3" cy="875"/><circle cx="66.7" cy="886.7"/><circle cx="138.5" cy="870.1"/><circle cx="147.3" cy="864.2"/><circle cx="161.9" cy="870.1"/><circle cx="161.9" cy="920.9"/><circle cx="113.6" cy="924.8"/><circle cx="110.6" cy="922.9"/><circle cx="138.5" cy="923.9"/></g>
<path d="M52 914.1 L53.8 914.3 L55.7 914.6 L57.6 914.8 L59.4 915.1 L61.3 915.3 L63.1 915.6 L65 915.8 L66.8 916.1 L68.7 916.3 L70.6 916.5 L72.4 916.8 L74.3 917 L76.1 917.3 L78 917.5 L79.8 917.8 L81.7 918 L83.6 917.9 L85.4 917.8 L87.3 917.7 L89.1 917.4 L91 917.1 L92.8 916.8 L94.7 916.4 L96.6 915.9 L98.4 915.4 L100.3 914.8 L102.1 914.2 L104 913.5 L105.8 912.8 L107.7 912 L109.6 911.3 L111.4 910.4 L113.3 909.6 L115.1 908.7 L117 907.9 L118.8 907 L120.7 906.1 L122.6 905.2 L124.4 904.3 L126.3 903.4 L128.1 902.5 L130 901.6 L131.8 900.8 L133.7 899.9 L135.6 899.1 L137.4 898.3 L139.3 897.6 L141.1 896.9 L143 896.2 L144.8 895.6 L146.7 895.1 L148.6 894.6 L150.4 894.1 L152.3 893.7 L154.1 893.4 L156 893.1 L157.8 892.8 L159.7 892.7 L161.5 892.6 L163.4 892.6" stroke="#111" stroke-width="1.3" fill="none"/>
<rect x="30" y="841.7" width="146.6" height="97.8" fill="none" stroke="#111" stroke-width="1.5"/>
<line x1="26.5" y1="939.5" x2="30" y2="939.5" stroke="#111" stroke-width="1"/>
<text x="24.8" y="942.3" font-size="8" text-anchor="end">0</text>
<line x1="26.5" y1="919.9" x2="30" y2="919.9" stroke="#111" stroke-width="1"/>
<text x="24.8" y="922.7" font-size="8" text-anchor="end">20</text>
<line x1="26.5" y1="900.4" x2="30" y2="900.4" stroke="#111" stroke-width="1"/>
<text x="24.8" y="903.2" font-size="8" text-anchor="end">40</text>
<line x1="26.5" y1="880.8" x2="30" y2="880.8" stroke="#111" stroke-width="1"/>
<text x="24.8" y="883.6" font-size="8" text-anchor="end">60</text>
<line x1="26.5" y1="861.3" x2="30" y2="861.3" stroke="#111" stroke-width="1"/>
<text x="24.8" y="864.1" font-size="8" text-anchor="end">80</text>
<line x1="26.5" y1="841.7" x2="30" y2="841.7" stroke="#111" stroke-width="1"/>
<text x="24.8" y="844.5" font-size="8" text-anchor="end">100</text>
<line x1="30" y1="939.5" x2="30" y2="943" stroke="#111" stroke-width="1"/>
<text x="30" y="952" font-size="9.2" text-anchor="middle">-8</text>
<line x1="59.3" y1="939.5" x2="59.3" y2="943" stroke="#111" stroke-width="1"/>
<text x="59.3" y="952" font-size="9.2" text-anchor="middle">-6</text>
<line x1="88.6" y1="939.5" x2="88.6" y2="943" stroke="#111" stroke-width="1"/>
<text x="88.6" y="952" font-size="9.2" text-anchor="middle">-4</text>
<line x1="118" y1="939.5" x2="118" y2="943" stroke="#111" stroke-width="1"/>
<text x="118" y="952" font-size="9.2" text-anchor="middle">-2</text>
<line x1="147.3" y1="939.5" x2="147.3" y2="943" stroke="#111" stroke-width="1"/>
<text x="147.3" y="952" font-size="9.2" text-anchor="middle">0</text>
<line x1="176.6" y1="939.5" x2="176.6" y2="943" stroke="#111" stroke-width="1"/>
<text x="176.6" y="952" font-size="9.2" text-anchor="middle">2</text>
<text x="272.6" y="836.6" font-size="12" text-anchor="middle">CD282</text>
<line x1="228.5" y1="842.5" x2="228.5" y2="937.5" stroke="#888" stroke-width="0.8" stroke-dasharray="3 2.6"/>
<line x1="257.8" y1="842.5" x2="257.8" y2="937.5" stroke="#888" stroke-width="0.8" stroke-dasharray="3 2.6"/>
<line x1="287.2" y1="842.5" x2="287.2" y2="937.5" stroke="#888" stroke-width="0.8" stroke-dasharray="3 2.6"/>
<line x1="316.5" y1="842.5" x2="316.5" y2="937.5" stroke="#888" stroke-width="0.8" stroke-dasharray="3 2.6"/>
<g class="jc" fill="#ec8a2e" stroke="#2a2a20" stroke-width="0.6"><circle cx="225.4" cy="917.7"/><circle cx="304.6" cy="876"/><circle cx="312.9" cy="875.1"/><circle cx="310.8" cy="882.3"/><circle cx="320.6" cy="886.3"/><circle cx="227" cy="918.5"/><circle cx="314.9" cy="892.3"/><circle cx="224.7" cy="920.2"/><circle cx="225.5" cy="929.1"/><circle cx="221.2" cy="931.9"/><circle cx="267.5" cy="911.9"/><circle cx="249.2" cy="910.7"/><circle cx="294.7" cy="887.4"/><circle cx="306.8" cy="876.1"/><circle cx="307.2" cy="893.9"/><circle cx="316.2" cy="897.5"/><circle cx="283.9" cy="902.8"/><circle cx="318.2" cy="879.3"/><circle cx="271" cy="911.3"/><circle cx="311.4" cy="894.8"/><circle cx="311.1" cy="899.4"/><circle cx="295" cy="879.2"/><circle cx="227.4" cy="916.8"/><circle cx="267.3" cy="905.7"/><circle cx="296.8" cy="900.2"/><circle cx="223.8" cy="920.4"/><circle cx="224.3" cy="922.8"/><circle cx="233.6" cy="915.5"/><circle cx="221.7" cy="929.5"/><circle cx="306" cy="883"/><circle cx="222" cy="927.6"/><circle cx="224.2" cy="913.1"/><circle cx="324.9" cy="895.9"/><circle cx="297.5" cy="885.7"/><circle cx="221.8" cy="923"/><circle cx="331.1" cy="887.9"/><circle cx="308.5" cy="879.3"/><circle cx="225.7" cy="922.2"/><circle cx="329" cy="886.1"/><circle cx="308.7" cy="904.3"/><circle cx="299.6" cy="886.2"/><circle cx="289.9" cy="904.3"/><circle cx="228.1" cy="916.7"/><circle cx="309.1" cy="878.7"/><circle cx="330.6" cy="882.7"/><circle cx="307.8" cy="882.3"/><circle cx="221.6" cy="916.3"/><circle cx="259.2" cy="904.7"/><circle cx="309.2" cy="882.6"/><circle cx="321.5" cy="882.9"/><circle cx="288.6" cy="902.4"/><circle cx="308.6" cy="885.9"/><circle cx="281" cy="888.3"/><circle cx="312.3" cy="892.8"/><circle cx="226.1" cy="913.8"/><circle cx="296.6" cy="881.6"/><circle cx="221" cy="917.2"/><circle cx="227.6" cy="905.5"/><circle cx="223.2" cy="929.7"/><circle cx="298.1" cy="887.7"/><circle cx="237.1" cy="908.7"/><circle cx="254.8" cy="901.1"/><circle cx="291.2" cy="880.3"/><circle cx="288" cy="888.7"/><circle cx="286.8" cy="883.5"/><circle cx="331.3" cy="900.7"/><circle cx="224.3" cy="919.5"/><circle cx="252.4" cy="913.7"/><circle cx="275.4" cy="893.3"/><circle cx="274.8" cy="898.9"/><circle cx="324.2" cy="888.7"/><circle cx="316" cy="899.1"/><circle cx="229.5" cy="912.3"/><circle cx="299.2" cy="900.4"/><circle cx="329.4" cy="880.1"/><circle cx="222.2" cy="923"/><circle cx="324.5" cy="876.5"/><circle cx="331.3" cy="891.2"/><circle cx="282.2" cy="895.9"/><circle cx="294.9" cy="895.8"/><circle cx="275.4" cy="889.9"/><circle cx="242" cy="913.2"/><circle cx="224.7" cy="924.4"/><circle cx="266.9" cy="899.1"/><circle cx="226.8" cy="915.6"/><circle cx="278.2" cy="893.1"/><circle cx="320.7" cy="884.1"/><circle cx="310.3" cy="878.4"/><circle cx="320.1" cy="879.7"/><circle cx="302.3" cy="880.4"/><circle cx="294.2" cy="881.2"/><circle cx="261.7" cy="903.3"/><circle cx="288.9" cy="899.8"/><circle cx="325.5" cy="881.2"/><circle cx="320.9" cy="888.4"/><circle cx="303.9" cy="878.1"/><circle cx="265" cy="898.7"/><circle cx="234.1" cy="920.7"/><circle cx="248.6" cy="902.7"/><circle cx="275" cy="892.9"/><circle cx="226.4" cy="918.2"/><circle cx="285.4" cy="894.2"/><circle cx="244.8" cy="905.4"/><circle cx="279.6" cy="886.2"/><circle cx="295.3" cy="873.3"/><circle cx="314.5" cy="884.6"/><circle cx="330.2" cy="878.6"/><circle cx="306.1" cy="880.8"/><circle cx="325.1" cy="885.9"/><circle cx="314.5" cy="884.4"/><circle cx="322.6" cy="898.1"/><circle cx="294.5" cy="887.9"/><circle cx="294.8" cy="875.4"/><circle cx="222.1" cy="932.6"/><circle cx="307.9" cy="894.8"/><circle cx="232.4" cy="911.2"/><circle cx="327" cy="877.4"/><circle cx="301.9" cy="888.6"/><circle cx="304.9" cy="881.1"/><circle cx="295.1" cy="885.8"/><circle cx="302.1" cy="887.8"/><circle cx="265.7" cy="906.8"/><circle cx="222.8" cy="920.6"/><circle cx="263.1" cy="908.8"/><circle cx="326.4" cy="895.1"/><circle cx="329.3" cy="886.7"/><circle cx="318.7" cy="885.3"/><circle cx="227.9" cy="927.2"/><circle cx="245.4" cy="922.2"/><circle cx="292.3" cy="895"/><circle cx="329.9" cy="862.2"/><circle cx="327.6" cy="883.4"/><circle cx="325.7" cy="873.7"/><circle cx="226.5" cy="922.4"/><circle cx="328.3" cy="889"/><circle cx="227.3" cy="919.9"/><circle cx="231.8" cy="907.2"/><circle cx="274.1" cy="889.6"/><circle cx="224.3" cy="923.5"/><circle cx="224.3" cy="927.3"/><circle cx="291.4" cy="905.3"/><circle cx="322.8" cy="890.3"/><circle cx="255.2" cy="895.7"/><circle cx="295.4" cy="888.7"/><circle cx="296.8" cy="877.2"/><circle cx="225.8" cy="920.2"/><circle cx="220.6" cy="926"/><circle cx="319.4" cy="893.2"/><circle cx="295.2" cy="899.2"/><circle cx="316.5" cy="878.5"/><circle cx="275.8" cy="895"/><circle cx="220.5" cy="929.3"/><circle cx="296.8" cy="897.8"/><circle cx="329.8" cy="885"/><circle cx="295" cy="894.6"/><circle cx="270.8" cy="898.1"/><circle cx="315.7" cy="865.7"/><circle cx="268.4" cy="918"/><circle cx="288.4" cy="884.7"/><circle cx="297.6" cy="889.5"/><circle cx="231.5" cy="917.4"/><circle cx="226.3" cy="922.4"/><circle cx="301.8" cy="876.5"/><circle cx="269" cy="904.3"/><circle cx="326.8" cy="889.8"/><circle cx="223.6" cy="915.3"/><circle cx="320.6" cy="890.2"/><circle cx="268.7" cy="896.1"/><circle cx="307.7" cy="899.7"/><circle cx="298.2" cy="881.2"/><circle cx="280.9" cy="896.6"/><circle cx="296.3" cy="900"/><circle cx="321.1" cy="889.6"/><circle cx="261.9" cy="901.5"/><circle cx="227.1" cy="911.5"/><circle cx="298.6" cy="883.5"/><circle cx="241.1" cy="903.6"/><circle cx="229.4" cy="903.2"/><circle cx="331.5" cy="881.7"/><circle cx="302" cy="882.1"/><circle cx="260.2" cy="898.5"/><circle cx="268.7" cy="900.8"/><circle cx="327" cy="891.1"/><circle cx="314.6" cy="879.4"/><circle cx="234.4" cy="913.1"/><circle cx="310.3" cy="879.5"/><circle cx="252.4" cy="907.5"/><circle cx="245.3" cy="917.9"/><circle cx="308.9" cy="899.9"/><circle cx="263.5" cy="912.2"/><circle cx="320.9" cy="874.3"/><circle cx="225.6" cy="932.2"/><circle cx="246.5" cy="903.6"/><circle cx="326.3" cy="871.4"/><circle cx="282" cy="892.1"/><circle cx="322.5" cy="892"/><circle cx="225.5" cy="926.1"/><circle cx="320.7" cy="888.2"/><circle cx="223.6" cy="917.4"/><circle cx="220.5" cy="925"/><circle cx="269.3" cy="892.8"/><circle cx="227.1" cy="906.5"/><circle cx="279.3" cy="908.4"/><circle cx="241.8" cy="914.4"/><circle cx="288.1" cy="889.7"/><circle cx="321.7" cy="879"/><circle cx="225.1" cy="922.3"/><circle cx="293.4" cy="891.3"/><circle cx="224.4" cy="928"/><circle cx="287.8" cy="887.7"/><circle cx="293.8" cy="882.3"/><circle cx="224.7" cy="925.5"/><circle cx="228.6" cy="920.3"/><circle cx="321.6" cy="890.3"/><circle cx="330.4" cy="883.3"/><circle cx="315.2" cy="874"/><circle cx="321.9" cy="888.1"/><circle cx="293.6" cy="899.1"/><circle cx="231.7" cy="926.3"/><circle cx="223.5" cy="928.6"/><circle cx="294.2" cy="899.4"/><circle cx="242.1" cy="915.4"/><circle cx="312.7" cy="887.4"/><circle cx="224.2" cy="923.3"/><circle cx="267.3" cy="902"/><circle cx="243.7" cy="915"/><circle cx="312.9" cy="882.8"/><circle cx="270" cy="901.6"/><circle cx="220.8" cy="929.6"/><circle cx="227.3" cy="920"/><circle cx="317.6" cy="874.2"/><circle cx="272.3" cy="906.7"/><circle cx="330.1" cy="870.9"/><circle cx="330.1" cy="890.3"/><circle cx="306.2" cy="893.7"/><circle cx="224" cy="932.6"/><circle cx="225.1" cy="921.6"/><circle cx="312.4" cy="881.1"/><circle cx="225.7" cy="917.1"/><circle cx="221.3" cy="918.9"/><circle cx="283.7" cy="893.1"/><circle cx="291.8" cy="907.4"/><circle cx="317.6" cy="880.6"/><circle cx="221.5" cy="925.8"/><circle cx="245.5" cy="913.5"/><circle cx="329.8" cy="867.3"/><circle cx="221.8" cy="927.7"/><circle cx="292.8" cy="886.5"/><circle cx="289.5" cy="897.6"/><circle cx="248.1" cy="921.7"/><circle cx="227.5" cy="924.2"/><circle cx="234.1" cy="913.5"/><circle cx="329.7" cy="888.1"/><circle cx="283.1" cy="896.4"/><circle cx="222.2" cy="926.9"/><circle cx="230.2" cy="924.9"/><circle cx="282.9" cy="897.6"/><circle cx="295.1" cy="899.9"/><circle cx="331" cy="881.4"/><circle cx="328.7" cy="879.7"/><circle cx="222.7" cy="926.3"/><circle cx="312.2" cy="893.6"/><circle cx="246.7" cy="922.5"/><circle cx="307.1" cy="885.2"/><circle cx="262.8" cy="900.5"/><circle cx="225.3" cy="915.9"/><circle cx="291.2" cy="894.5"/><circle cx="316.3" cy="873.2"/><circle cx="288.2" cy="888.4"/><circle cx="330.8" cy="892.5"/><circle cx="221.1" cy="912.1"/><circle cx="224.2" cy="927.1"/><circle cx="314.1" cy="878.6"/><circle cx="294.2" cy="889.3"/><circle cx="275.9" cy="894.2"/><circle cx="221.8" cy="916.8"/><circle cx="322.7" cy="886.3"/><circle cx="320" cy="878.7"/><circle cx="225.9" cy="929"/><circle cx="290.6" cy="894.9"/><circle cx="227.3" cy="917.9"/><circle cx="331.1" cy="872.3"/><circle cx="309.8" cy="896.5"/><circle cx="225.5" cy="919.4"/><circle cx="330.2" cy="872.1"/><circle cx="296.2" cy="896.8"/><circle cx="227.5" cy="926"/><circle cx="320" cy="882.9"/><circle cx="292.8" cy="893.8"/><circle cx="332" cy="871.5"/><circle cx="223.1" cy="928.6"/><circle cx="260.6" cy="897"/><circle cx="227.4" cy="928.7"/><circle cx="310.5" cy="880.1"/><circle cx="223.3" cy="917"/><circle cx="321.9" cy="881.4"/><circle cx="293.8" cy="896"/><circle cx="275.8" cy="907.9"/><circle cx="227.7" cy="917.1"/><circle cx="227.5" cy="922.5"/><circle cx="331.9" cy="885.7"/><circle cx="266" cy="903.5"/><circle cx="286" cy="892.1"/><circle cx="323.5" cy="891.7"/><circle cx="262.4" cy="905.4"/><circle cx="222.6" cy="923.3"/><circle cx="227.5" cy="926.3"/><circle cx="225.9" cy="922.4"/><circle cx="278.5" cy="898.6"/><circle cx="327.3" cy="883.4"/><circle cx="274.3" cy="900.3"/><circle cx="223" cy="926.1"/><circle cx="310" cy="886.8"/><circle cx="232.4" cy="919.4"/><circle cx="286.9" cy="892.3"/><circle cx="248.1" cy="910"/><circle cx="227.4" cy="917.7"/><circle cx="310.3" cy="898.7"/><circle cx="295.3" cy="870.5"/><circle cx="299.8" cy="885.5"/><circle cx="292.5" cy="883.5"/><circle cx="291.4" cy="906.3"/><circle cx="291.9" cy="890.5"/><circle cx="225.3" cy="927.4"/><circle cx="324.5" cy="886"/><circle cx="321.8" cy="890"/><circle cx="317.4" cy="878.8"/><circle cx="249.3" cy="913.7"/><circle cx="269" cy="885.4"/><circle cx="225.7" cy="921"/><circle cx="299.7" cy="866.3"/><circle cx="309.9" cy="880.3"/><circle cx="224.4" cy="925.6"/><circle cx="318.9" cy="885.2"/><circle cx="223.3" cy="927.6"/><circle cx="232.2" cy="915.4"/><circle cx="278.9" cy="899.7"/><circle cx="223.2" cy="930"/><circle cx="308.8" cy="884.6"/><circle cx="267.9" cy="911"/><circle cx="302.7" cy="874.8"/><circle cx="224.7" cy="923.8"/><circle cx="245.2" cy="900.4"/><circle cx="288.5" cy="906.4"/><circle cx="296.1" cy="903"/><circle cx="228.3" cy="925.5"/><circle cx="306.3" cy="893.2"/><circle cx="331" cy="881.8"/><circle cx="273.6" cy="895.8"/><circle cx="295" cy="887.5"/><circle cx="320.4" cy="868.6"/><circle cx="309.9" cy="879.1"/><circle cx="305.6" cy="879.6"/><circle cx="306.6" cy="893.6"/><circle cx="245.5" cy="907"/><circle cx="329.3" cy="866.2"/><circle cx="321.8" cy="890.2"/><circle cx="292.8" cy="894.9"/><circle cx="287.6" cy="877.8"/><circle cx="227" cy="909"/><circle cx="318.9" cy="878.3"/><circle cx="315.1" cy="884.3"/><circle cx="290.6" cy="878.8"/><circle cx="226" cy="917.8"/><circle cx="225.6" cy="906.5"/><circle cx="297.5" cy="882.1"/><circle cx="294.4" cy="900.5"/><circle cx="226" cy="921.1"/><circle cx="274.7" cy="883.6"/><circle cx="224.4" cy="925.8"/><circle cx="288.8" cy="879"/><circle cx="296" cy="888.2"/><circle cx="323.9" cy="883.8"/><circle cx="289.9" cy="882.4"/><circle cx="331" cy="856.4"/><circle cx="329.8" cy="883.2"/><circle cx="242.7" cy="912.4"/><circle cx="262.6" cy="908.1"/><circle cx="282.6" cy="891"/><circle cx="300.9" cy="882.4"/><circle cx="310.7" cy="880.7"/><circle cx="301.8" cy="889.1"/><circle cx="330" cy="888.2"/><circle cx="308.2" cy="904.3"/><circle cx="227.4" cy="925.6"/><circle cx="331.4" cy="875.5"/><circle cx="296.1" cy="885.8"/><circle cx="317.6" cy="889.3"/><circle cx="291.6" cy="881"/><circle cx="265.2" cy="896.3"/><circle cx="302.1" cy="896.8"/><circle cx="224.6" cy="916.1"/><circle cx="226.6" cy="922.6"/><circle cx="273.2" cy="894.4"/><circle cx="305.9" cy="879.8"/><circle cx="224.3" cy="919"/><circle cx="225.9" cy="918.1"/><circle cx="314.4" cy="889.1"/><circle cx="258.9" cy="902.1"/><circle cx="329.3" cy="892.8"/><circle cx="227.7" cy="916.2"/><circle cx="307.5" cy="889.9"/><circle cx="252.6" cy="902.5"/><circle cx="227" cy="922.6"/><circle cx="220.6" cy="924.3"/><circle cx="291.7" cy="886.2"/><circle cx="319.5" cy="866"/><circle cx="330.1" cy="884.7"/><circle cx="277.9" cy="909"/><circle cx="225.6" cy="914"/><circle cx="278.3" cy="894.2"/><circle cx="286.3" cy="883.6"/><circle cx="305.1" cy="879.7"/><circle cx="317.2" cy="892.1"/><circle cx="320.6" cy="882.6"/><circle cx="225.8" cy="932.5"/><circle cx="319.3" cy="886.1"/><circle cx="307.1" cy="887.6"/><circle cx="222.9" cy="924.3"/><circle cx="274.5" cy="896.8"/><circle cx="329.6" cy="871.1"/><circle cx="220.7" cy="929.9"/><circle cx="290.8" cy="899.5"/><circle cx="240.5" cy="925.3"/><circle cx="228.4" cy="926.4"/><circle cx="318" cy="880"/><circle cx="262.1" cy="901.1"/><circle cx="262.2" cy="901"/><circle cx="243.4" cy="914.1"/><circle cx="326.2" cy="879.2"/><circle cx="321.3" cy="882.7"/><circle cx="233.8" cy="912.4"/><circle cx="227" cy="927.9"/><circle cx="234.9" cy="918.6"/><circle cx="255.7" cy="909.9"/><circle cx="239.8" cy="919.4"/><circle cx="246.3" cy="913.4"/><circle cx="322.6" cy="881.7"/><circle cx="321.9" cy="890.1"/><circle cx="329.5" cy="884.7"/><circle cx="331.9" cy="883.7"/><circle cx="303.5" cy="880.7"/><circle cx="248.8" cy="908.7"/><circle cx="227.8" cy="925.9"/><circle cx="329" cy="880.8"/><circle cx="224.3" cy="921.8"/><circle cx="233.9" cy="902.7"/><circle cx="227.1" cy="928.5"/><circle cx="315.5" cy="883.1"/><circle cx="227.5" cy="918.8"/><circle cx="316.6" cy="895"/><circle cx="234.9" cy="928"/><circle cx="297.8" cy="904.5"/><circle cx="303.3" cy="878.9"/><circle cx="255" cy="907.8"/><circle cx="224" cy="922.2"/><circle cx="283.1" cy="892"/><circle cx="222.8" cy="921.5"/><circle cx="225.1" cy="930"/><circle cx="253.1" cy="895.2"/><circle cx="270.8" cy="899.7"/><circle cx="297.4" cy="886.9"/><circle cx="318.9" cy="893"/><circle cx="278.7" cy="900"/><circle cx="228" cy="925.4"/><circle cx="242.3" cy="905.4"/><circle cx="224.6" cy="915.9"/><circle cx="328" cy="881.6"/><circle cx="258.4" cy="895.7"/><circle cx="296.2" cy="877.8"/><circle cx="320.4" cy="891.3"/><circle cx="323.6" cy="886.7"/><circle cx="246.7" cy="913.2"/><circle cx="299" cy="885.7"/><circle cx="223.8" cy="924.5"/><circle cx="226.7" cy="909.1"/><circle cx="289.2" cy="896.3"/><circle cx="308.9" cy="871.9"/><circle cx="331" cy="873.5"/><circle cx="226.2" cy="923.7"/><circle cx="328" cy="869"/><circle cx="222.9" cy="931.5"/><circle cx="329" cy="880.1"/><circle cx="291.5" cy="890.9"/><circle cx="325.9" cy="883.6"/><circle cx="236.2" cy="922.8"/><circle cx="220.7" cy="913.6"/><circle cx="227.6" cy="912"/><circle cx="266.2" cy="903.9"/><circle cx="222" cy="928.1"/><circle cx="307.9" cy="883.7"/><circle cx="286.1" cy="887.6"/><circle cx="270.4" cy="886.5"/><circle cx="301.9" cy="885.7"/><circle cx="294.2" cy="875.6"/><circle cx="299" cy="882.6"/><circle cx="266.8" cy="903.1"/><circle cx="227.6" cy="913.8"/><circle cx="224.5" cy="916.1"/><circle cx="298.4" cy="901.6"/><circle cx="225.1" cy="932.2"/><circle cx="261" cy="908.4"/><circle cx="327" cy="879.1"/><circle cx="303.7" cy="889.1"/><circle cx="221" cy="925.1"/><circle cx="261.5" cy="897.3"/><circle cx="326.6" cy="879.5"/><circle cx="320" cy="880.2"/><circle cx="300.2" cy="901"/><circle cx="247.7" cy="902.1"/><circle cx="323.4" cy="883.8"/><circle cx="317.2" cy="874.8"/><circle cx="225.4" cy="929.4"/><circle cx="291.9" cy="890.4"/><circle cx="288.2" cy="892.2"/><circle cx="224.2" cy="915.7"/><circle cx="225" cy="920.8"/><circle cx="317.9" cy="883.1"/><circle cx="292.8" cy="887.6"/><circle cx="290.9" cy="882.3"/><circle cx="228" cy="920.4"/><circle cx="221.4" cy="929"/><circle cx="297.4" cy="889.6"/><circle cx="313.9" cy="896.3"/><circle cx="259" cy="909.6"/><circle cx="327" cy="885.3"/><circle cx="221.8" cy="916.4"/><circle cx="222.2" cy="932.1"/><circle cx="296.9" cy="885.3"/><circle cx="228.5" cy="920.1"/><circle cx="307.4" cy="904.8"/><circle cx="223" cy="932.2"/><circle cx="279.2" cy="890.9"/><circle cx="290.3" cy="906.1"/><circle cx="246.3" cy="893.9"/><circle cx="234.5" cy="916.9"/><circle cx="288.8" cy="901.3"/><circle cx="303.6" cy="889.8"/><circle cx="224.4" cy="917"/><circle cx="308" cy="894.2"/><circle cx="250.8" cy="916.2"/><circle cx="269.7" cy="905.4"/><circle cx="278.7" cy="891.2"/><circle cx="259.2" cy="910.2"/><circle cx="262.4" cy="906.5"/><circle cx="222.1" cy="921.1"/><circle cx="223.4" cy="924.5"/><circle cx="309.9" cy="889.7"/><circle cx="331.7" cy="876.7"/><circle cx="224.7" cy="931.5"/><circle cx="320" cy="876.1"/><circle cx="282.5" cy="896.8"/><circle cx="292.7" cy="891.1"/><circle cx="315.7" cy="873"/><circle cx="328.1" cy="870"/><circle cx="316.9" cy="897.2"/><circle cx="302.7" cy="890.7"/><circle cx="321.1" cy="880.9"/><circle cx="224.9" cy="926.5"/><circle cx="220.9" cy="928.2"/><circle cx="228.3" cy="928.4"/><circle cx="325.9" cy="869.2"/><circle cx="307.3" cy="900"/><circle cx="262.1" cy="895.5"/><circle cx="225" cy="913.3"/><circle cx="311.2" cy="880.6"/><circle cx="304.1" cy="889.8"/><circle cx="329" cy="878"/><circle cx="270.9" cy="907.4"/><circle cx="305.6" cy="887.8"/><circle cx="284.4" cy="897.7"/><circle cx="249.2" cy="904.8"/><circle cx="263.5" cy="893.9"/><circle cx="331.7" cy="891.1"/><circle cx="300.1" cy="891.7"/><circle cx="294.8" cy="899"/><circle cx="248.3" cy="919.2"/><circle cx="243.7" cy="908.1"/><circle cx="266.3" cy="897.7"/><circle cx="295.2" cy="889.9"/><circle cx="257.2" cy="915.7"/><circle cx="254" cy="909.1"/><circle cx="240.6" cy="911.9"/><circle cx="220.5" cy="925.1"/><circle cx="320" cy="889.4"/><circle cx="221.8" cy="929.3"/><circle cx="321.6" cy="896.4"/><circle cx="224.7" cy="921.9"/><circle cx="226.4" cy="927.6"/><circle cx="221.3" cy="929.1"/><circle cx="245.2" cy="911.1"/><circle cx="320.2" cy="876.1"/><circle cx="320.8" cy="877.8"/><circle cx="223.2" cy="922.9"/><circle cx="306.8" cy="874.8"/><circle cx="322.3" cy="883.8"/><circle cx="227.2" cy="915.2"/><circle cx="331.6" cy="882.2"/><circle cx="311.1" cy="897"/><circle cx="222.3" cy="921.6"/><circle cx="224" cy="910.8"/><circle cx="287.5" cy="890.4"/><circle cx="241.2" cy="917.7"/><circle cx="247.9" cy="915.4"/><circle cx="288.4" cy="894.9"/><circle cx="328.3" cy="876"/><circle cx="252.3" cy="906.3"/><circle cx="302.8" cy="898.9"/><circle cx="225.2" cy="920.9"/><circle cx="297.7" cy="872.1"/><circle cx="224.3" cy="914.4"/><circle cx="265.7" cy="907.7"/><circle cx="311.9" cy="876.6"/><circle cx="234.5" cy="927.1"/><circle cx="223.9" cy="927.7"/><circle cx="269.6" cy="904.7"/><circle cx="241.7" cy="911.2"/><circle cx="263.5" cy="903.7"/><circle cx="281.8" cy="896"/><circle cx="251.6" cy="904.3"/><circle cx="225" cy="923.7"/><circle cx="294.7" cy="878.4"/><circle cx="276.5" cy="899.2"/><circle cx="248" cy="903.5"/><circle cx="305.3" cy="883"/><circle cx="225.6" cy="915.6"/><circle cx="288.1" cy="893.7"/><circle cx="220.9" cy="922.4"/><circle cx="222.2" cy="925.4"/><circle cx="247.1" cy="907.6"/><circle cx="330.7" cy="879.8"/><circle cx="225.2" cy="922.7"/><circle cx="331.6" cy="876.8"/><circle cx="222.6" cy="926"/><circle cx="323.6" cy="887.9"/><circle cx="230.3" cy="925.8"/><circle cx="313.4" cy="884.6"/><circle cx="288.4" cy="896.4"/><circle cx="304.2" cy="895.3"/><circle cx="320.6" cy="895.7"/><circle cx="306.1" cy="892.2"/><circle cx="227.1" cy="912.6"/><circle cx="224.5" cy="921.1"/><circle cx="311.6" cy="890.8"/><circle cx="223.3" cy="923.5"/><circle cx="277.2" cy="898.7"/><circle cx="225.2" cy="910.1"/><circle cx="302.8" cy="877.6"/><circle cx="225.1" cy="918.5"/><circle cx="222.7" cy="930.8"/><circle cx="297.4" cy="885.5"/><circle cx="223.1" cy="918.4"/><circle cx="251.9" cy="909.5"/><circle cx="287.6" cy="893.5"/><circle cx="267.4" cy="904.1"/><circle cx="226.9" cy="924.9"/><circle cx="293" cy="897.1"/><circle cx="323.4" cy="878.9"/><circle cx="251.5" cy="897.7"/><circle cx="223.2" cy="923.8"/><circle cx="223.1" cy="925"/><circle cx="235.6" cy="927.7"/><circle cx="297.4" cy="880.4"/><circle cx="228.6" cy="912.2"/><circle cx="276.2" cy="885.4"/><circle cx="331.4" cy="880.5"/><circle cx="315.7" cy="877.2"/><circle cx="297.9" cy="887"/><circle cx="225.8" cy="930.6"/><circle cx="290.8" cy="887.2"/><circle cx="221.4" cy="928.1"/><circle cx="267.8" cy="893.5"/><circle cx="222.8" cy="933.6"/><circle cx="244.5" cy="903.6"/><circle cx="307.5" cy="882.8"/><circle cx="294.9" cy="886.8"/><circle cx="300.7" cy="886.4"/><circle cx="308.2" cy="890.3"/><circle cx="268.9" cy="890.3"/><circle cx="309.2" cy="867.3"/><circle cx="332.1" cy="881.2"/><circle cx="301.7" cy="877.4"/><circle cx="298.6" cy="877"/><circle cx="226.2" cy="923.9"/><circle cx="317" cy="888.7"/><circle cx="223.3" cy="915.2"/><circle cx="284.2" cy="891.1"/><circle cx="286" cy="890"/><circle cx="323.4" cy="895.1"/><circle cx="241.2" cy="906"/><circle cx="223.3" cy="912"/><circle cx="320.8" cy="875.1"/><circle cx="247.2" cy="910.4"/><circle cx="295.4" cy="875.2"/><circle cx="302.4" cy="875.7"/><circle cx="289.9" cy="899.7"/><circle cx="267.7" cy="910.4"/><circle cx="298.5" cy="898.9"/><circle cx="230.5" cy="912.7"/><circle cx="318.2" cy="879.8"/><circle cx="325.9" cy="886.7"/><circle cx="312.4" cy="877.3"/><circle cx="230.1" cy="922.7"/><circle cx="309.4" cy="890.2"/><circle cx="240" cy="913.9"/><circle cx="227.7" cy="924.3"/><circle cx="327.8" cy="863.9"/><circle cx="224.3" cy="931.7"/><circle cx="226.5" cy="916.2"/><circle cx="225" cy="923.1"/><circle cx="307.6" cy="872"/><circle cx="304.6" cy="895.2"/><circle cx="226.8" cy="922.2"/><circle cx="258" cy="897.6"/><circle cx="298.3" cy="887"/><circle cx="279.7" cy="900.4"/><circle cx="320.4" cy="880.3"/><circle cx="324" cy="887.6"/><circle cx="295.8" cy="885.3"/><circle cx="305.2" cy="888.2"/><circle cx="229.2" cy="929"/><circle cx="224.4" cy="915.1"/><circle cx="259.8" cy="910.3"/><circle cx="325.2" cy="893.3"/><circle cx="227.8" cy="928"/><circle cx="316.4" cy="865.4"/><circle cx="299.5" cy="874"/><circle cx="251.4" cy="911.4"/><circle cx="318.2" cy="891.4"/><circle cx="223.6" cy="913.1"/><circle cx="327.1" cy="866.7"/><circle cx="290.4" cy="881.7"/><circle cx="291.1" cy="887.8"/><circle cx="320.5" cy="883.4"/><circle cx="276.5" cy="905.4"/><circle cx="227.3" cy="929.9"/><circle cx="289.9" cy="900.5"/><circle cx="293.4" cy="899.3"/><circle cx="259.7" cy="900.4"/><circle cx="313.2" cy="880.5"/><circle cx="311.7" cy="884"/><circle cx="312" cy="886.5"/><circle cx="309.8" cy="892.7"/><circle cx="306.1" cy="877.4"/><circle cx="251.9" cy="909.4"/><circle cx="308.4" cy="886.6"/><circle cx="319.7" cy="881.2"/><circle cx="223.7" cy="925.8"/><circle cx="295.8" cy="881.2"/><circle cx="297.6" cy="898.2"/><circle cx="267.2" cy="911.3"/><circle cx="328.8" cy="886.5"/><circle cx="310" cy="884.7"/><circle cx="227.7" cy="915.5"/><circle cx="311.9" cy="873.1"/><circle cx="297.2" cy="882"/><circle cx="228.4" cy="915.5"/><circle cx="321.1" cy="870.6"/><circle cx="227.5" cy="929.5"/><circle cx="266.9" cy="907.4"/><circle cx="289.1" cy="878.1"/><circle cx="312.1" cy="882.1"/><circle cx="284.4" cy="899.2"/><circle cx="332.5" cy="881.4"/><circle cx="303.9" cy="894.2"/><circle cx="289.4" cy="887.2"/><circle cx="289.5" cy="885.1"/><circle cx="302.9" cy="883.7"/><circle cx="299.2" cy="878.2"/><circle cx="227.7" cy="920.6"/><circle cx="298.1" cy="882"/><circle cx="268.5" cy="913.3"/><circle cx="229.3" cy="930.4"/><circle cx="237.3" cy="919.9"/><circle cx="262.1" cy="903"/><circle cx="284.9" cy="885.9"/><circle cx="323.5" cy="880.3"/><circle cx="284.3" cy="902.8"/><circle cx="320.6" cy="883.8"/><circle cx="244.5" cy="915.7"/><circle cx="308.4" cy="885.9"/><circle cx="225.2" cy="919.4"/><circle cx="228" cy="915.8"/><circle cx="296.4" cy="899.2"/><circle cx="313.1" cy="890.4"/><circle cx="224.9" cy="925.9"/><circle cx="299.6" cy="881.9"/><circle cx="222.3" cy="926.6"/><circle cx="254.9" cy="911.4"/><circle cx="222.9" cy="922.9"/><circle cx="222.1" cy="921.2"/><circle cx="222.5" cy="928.3"/><circle cx="221" cy="931.5"/><circle cx="295" cy="884.9"/><circle cx="269.9" cy="898.8"/><circle cx="223.1" cy="928.4"/><circle cx="310.7" cy="882.9"/><circle cx="311.7" cy="884.7"/><circle cx="284.7" cy="896.6"/><circle cx="220.6" cy="922.1"/><circle cx="272.5" cy="919.1"/><circle cx="279.8" cy="923"/><circle cx="298.9" cy="925.9"/><circle cx="313.5" cy="857"/><circle cx="323.8" cy="857"/><circle cx="297.4" cy="864.8"/></g>
<path d="M221.2 924.9 L223 923.9 L224.9 922.9 L226.8 921.8 L228.6 920.8 L230.5 919.8 L232.3 918.8 L234.2 917.8 L236 916.8 L237.9 915.8 L239.8 914.9 L241.6 913.9 L243.5 912.9 L245.3 912 L247.2 911.1 L249 910.1 L250.9 909.2 L252.8 908.3 L254.6 907.4 L256.5 906.5 L258.3 905.6 L260.2 904.7 L262 903.8 L263.9 903 L265.8 902.1 L267.6 901.3 L269.5 900.4 L271.3 899.6 L273.2 898.8 L275 898 L276.9 897.2 L278.8 896.4 L280.6 895.7 L282.5 894.9 L284.3 894.1 L286.2 893.4 L288 892.7 L289.9 892 L291.8 891.3 L293.6 890.6 L295.5 889.9 L297.3 889.2 L299.2 888.6 L301 887.9 L302.9 887.3 L304.8 886.7 L306.6 886.1 L308.5 885.5 L310.3 885 L312.2 884.5 L314 883.9 L315.9 883.4 L317.8 883 L319.6 882.5 L321.5 882.1 L323.3 881.7 L325.2 881.3 L327 881 L328.9 880.7 L330.7 880.4 L332.6 880.3" stroke="#111" stroke-width="1.3" fill="none"/>
<rect x="199.2" y="841.5" width="146.6" height="97" fill="none" stroke="#111" stroke-width="1.5"/>
<line x1="195.7" y1="938.5" x2="199.2" y2="938.5" stroke="#111" stroke-width="1"/>
<text x="193.4" y="941.3" font-size="8" text-anchor="end">0</text>
<line x1="195.7" y1="919.1" x2="199.2" y2="919.1" stroke="#111" stroke-width="1"/>
<text x="193.4" y="921.9" font-size="8" text-anchor="end">10</text>
<line x1="195.7" y1="899.7" x2="199.2" y2="899.7" stroke="#111" stroke-width="1"/>
<text x="193.4" y="902.5" font-size="8" text-anchor="end">20</text>
<line x1="195.7" y1="880.3" x2="199.2" y2="880.3" stroke="#111" stroke-width="1"/>
<text x="193.4" y="883.1" font-size="8" text-anchor="end">30</text>
<line x1="195.7" y1="860.9" x2="199.2" y2="860.9" stroke="#111" stroke-width="1"/>
<text x="193.4" y="863.7" font-size="8" text-anchor="end">40</text>
<line x1="195.7" y1="841.5" x2="199.2" y2="841.5" stroke="#111" stroke-width="1"/>
<text x="193.4" y="844.3" font-size="8" text-anchor="end">50</text>
<line x1="199.2" y1="938.5" x2="199.2" y2="942" stroke="#111" stroke-width="1"/>
<text x="199.2" y="952" font-size="9.2" text-anchor="middle">-8</text>
<line x1="228.5" y1="938.5" x2="228.5" y2="942" stroke="#111" stroke-width="1"/>
<text x="228.5" y="952" font-size="9.2" text-anchor="middle">-6</text>
<line x1="257.8" y1="938.5" x2="257.8" y2="942" stroke="#111" stroke-width="1"/>
<text x="257.8" y="952" font-size="9.2" text-anchor="middle">-4</text>
<line x1="287.2" y1="938.5" x2="287.2" y2="942" stroke="#111" stroke-width="1"/>
<text x="287.2" y="952" font-size="9.2" text-anchor="middle">-2</text>
<line x1="316.5" y1="938.5" x2="316.5" y2="942" stroke="#111" stroke-width="1"/>
<text x="316.5" y="952" font-size="9.2" text-anchor="middle">0</text>
<line x1="345.8" y1="938.5" x2="345.8" y2="942" stroke="#111" stroke-width="1"/>
<text x="345.8" y="952" font-size="9.2" text-anchor="middle">2</text>
<text x="440.9" y="836.6" font-size="12" text-anchor="middle">CD32</text>
<line x1="395.7" y1="841.7" x2="395.7" y2="937" stroke="#888" stroke-width="0.8" stroke-dasharray="3 2.6"/>
<line x1="425.1" y1="841.7" x2="425.1" y2="937" stroke="#888" stroke-width="0.8" stroke-dasharray="3 2.6"/>
<line x1="454.6" y1="841.7" x2="454.6" y2="937" stroke="#888" stroke-width="0.8" stroke-dasharray="3 2.6"/>
<line x1="484" y1="841.7" x2="484" y2="937" stroke="#888" stroke-width="0.8" stroke-dasharray="3 2.6"/>
<g class="jc" fill="#4fb8c4" stroke="#2a2a20" stroke-width="0.6"><circle cx="475.4" cy="897.7"/><circle cx="388.3" cy="932.2"/><circle cx="460.1" cy="906.7"/><circle cx="460" cy="885.1"/><circle cx="389.4" cy="922.8"/><circle cx="388.5" cy="924.5"/><circle cx="391.9" cy="921"/><circle cx="487.5" cy="888.6"/><circle cx="441" cy="908.9"/><circle cx="390.6" cy="927.8"/><circle cx="497.7" cy="901.5"/><circle cx="409.1" cy="922.1"/><circle cx="395.6" cy="913.9"/><circle cx="486.9" cy="905.6"/><circle cx="421.8" cy="907.1"/><circle cx="397.6" cy="917.7"/><circle cx="459" cy="891.1"/><circle cx="391.6" cy="931.1"/><circle cx="499.6" cy="907"/><circle cx="467.9" cy="900.3"/><circle cx="481.8" cy="906"/><circle cx="438.7" cy="894.5"/><circle cx="391.2" cy="915.7"/><circle cx="479.3" cy="892.5"/><circle cx="482.9" cy="894.5"/><circle cx="484" cy="888.3"/><circle cx="421.5" cy="914.1"/><circle cx="469.5" cy="887.3"/><circle cx="493.3" cy="915.4"/><circle cx="449.5" cy="900.1"/><circle cx="390.6" cy="922.8"/><circle cx="494.3" cy="897.1"/><circle cx="485.7" cy="899.1"/><circle cx="457.6" cy="890"/><circle cx="394.8" cy="925.1"/><circle cx="409.6" cy="920"/><circle cx="467.6" cy="897.4"/><circle cx="407.3" cy="927.7"/><circle cx="472.8" cy="900.8"/><circle cx="473.7" cy="899.1"/><circle cx="393.9" cy="916.4"/><circle cx="494.3" cy="902.2"/><circle cx="455" cy="897.1"/><circle cx="406.6" cy="919"/><circle cx="434.1" cy="900.4"/><circle cx="395.7" cy="925.9"/><circle cx="479.7" cy="893.6"/><circle cx="478.7" cy="893.9"/><circle cx="490.3" cy="895.3"/><circle cx="406.9" cy="928.8"/><circle cx="439.9" cy="897.7"/><circle cx="476.3" cy="907.2"/><circle cx="393" cy="926.9"/><circle cx="499.2" cy="902.6"/><circle cx="459.4" cy="897.8"/><circle cx="467.5" cy="885.7"/><circle cx="475.6" cy="895.2"/><circle cx="392.7" cy="924.9"/><circle cx="478.4" cy="885.9"/><circle cx="413.9" cy="917.5"/><circle cx="403.8" cy="914"/><circle cx="420" cy="906.7"/><circle cx="467.1" cy="901.4"/><circle cx="433.5" cy="901.7"/><circle cx="390.9" cy="917"/><circle cx="452.3" cy="890.8"/><circle cx="433.2" cy="913.7"/><circle cx="483.8" cy="897.4"/><circle cx="388.8" cy="923.4"/><circle cx="483.5" cy="903"/><circle cx="488.5" cy="885"/><circle cx="474" cy="897.9"/><circle cx="398.3" cy="922.3"/><circle cx="456.5" cy="880"/><circle cx="391.4" cy="928.3"/><circle cx="389.7" cy="924.8"/><circle cx="487.6" cy="893"/><circle cx="463.6" cy="900.7"/><circle cx="451.8" cy="895.1"/><circle cx="394.7" cy="918.4"/><circle cx="481.5" cy="890.6"/><circle cx="490" cy="902"/><circle cx="406.2" cy="925"/><circle cx="484.3" cy="897.3"/><circle cx="482.1" cy="896.5"/><circle cx="483.6" cy="883.4"/><circle cx="465.2" cy="889.6"/><circle cx="487.7" cy="890.1"/><circle cx="425.7" cy="906.7"/><circle cx="390.2" cy="922.5"/><circle cx="388.8" cy="926"/><circle cx="497.2" cy="889.8"/><circle cx="488.2" cy="890.1"/><circle cx="486.3" cy="895.1"/><circle cx="463.7" cy="895.2"/><circle cx="471.2" cy="892.1"/><circle cx="400.1" cy="916.2"/><circle cx="484.3" cy="894.3"/><circle cx="457.4" cy="901.9"/><circle cx="472.9" cy="892.6"/><circle cx="467.1" cy="895.5"/><circle cx="394.1" cy="923.5"/><circle cx="468.4" cy="889.5"/><circle cx="458.6" cy="877.8"/><circle cx="480.4" cy="898.1"/><circle cx="427.8" cy="900.7"/><circle cx="415.1" cy="915.2"/><circle cx="488.6" cy="901.6"/><circle cx="461.6" cy="888"/><circle cx="395" cy="929.4"/><circle cx="462.7" cy="888.6"/><circle cx="465.2" cy="869.1"/><circle cx="456.3" cy="898.9"/><circle cx="496" cy="905.2"/><circle cx="493" cy="912"/><circle cx="437.3" cy="898.5"/><circle cx="473" cy="890.5"/><circle cx="392.4" cy="931.1"/><circle cx="429" cy="897.8"/><circle cx="437.9" cy="899.6"/><circle cx="387.8" cy="931"/><circle cx="479.2" cy="893.2"/><circle cx="462" cy="890.1"/><circle cx="489.5" cy="890.2"/><circle cx="392.5" cy="927.1"/><circle cx="388.9" cy="918"/><circle cx="470.1" cy="886.9"/><circle cx="403.2" cy="921.5"/><circle cx="477.9" cy="896.2"/><circle cx="489.8" cy="876.2"/><circle cx="492.5" cy="880.5"/><circle cx="462.1" cy="884.1"/><circle cx="457.2" cy="898.4"/><circle cx="391.3" cy="922.1"/><circle cx="489.2" cy="883.8"/><circle cx="482" cy="900.4"/><circle cx="460.5" cy="904.5"/><circle cx="394.7" cy="923.7"/><circle cx="470.1" cy="893.1"/><circle cx="479.6" cy="903.4"/><circle cx="477.6" cy="885"/><circle cx="392.3" cy="918.2"/><circle cx="487.6" cy="882.8"/><circle cx="475.7" cy="889.6"/><circle cx="420.6" cy="913"/><circle cx="483.9" cy="895.9"/><circle cx="442.8" cy="893.6"/><circle cx="476.2" cy="881.9"/><circle cx="391.3" cy="917.9"/><circle cx="391.8" cy="919"/><circle cx="411.7" cy="922.4"/><circle cx="474.9" cy="899.9"/><circle cx="487.7" cy="890.8"/><circle cx="391.6" cy="917.4"/><circle cx="495.9" cy="889.4"/><circle cx="471.5" cy="896.9"/><circle cx="429" cy="910.4"/><circle cx="456" cy="878.9"/><circle cx="495.1" cy="888.5"/><circle cx="461.8" cy="887.3"/><circle cx="455" cy="900.5"/><circle cx="473.1" cy="888.3"/><circle cx="421" cy="916.4"/><circle cx="394.4" cy="924.3"/><circle cx="389.1" cy="920.5"/><circle cx="392.7" cy="909.3"/><circle cx="464.9" cy="894.5"/><circle cx="387.8" cy="926.8"/><circle cx="457" cy="903.5"/><circle cx="395.5" cy="928"/><circle cx="390.3" cy="922"/><circle cx="486.3" cy="900.9"/><circle cx="471.7" cy="896.7"/><circle cx="455.6" cy="887.5"/><circle cx="389.8" cy="914.7"/><circle cx="478.1" cy="891.6"/><circle cx="418.2" cy="906.5"/><circle cx="483.6" cy="903.7"/><circle cx="482.8" cy="891.7"/><circle cx="388.8" cy="912.3"/><circle cx="390.7" cy="932.4"/><circle cx="446.7" cy="902.2"/><circle cx="494.4" cy="891.8"/><circle cx="401.2" cy="927.7"/><circle cx="405.5" cy="920.9"/><circle cx="473.7" cy="893.3"/><circle cx="388.7" cy="925.5"/><circle cx="468.6" cy="894.5"/><circle cx="470.1" cy="907"/><circle cx="449" cy="889.5"/><circle cx="488.7" cy="896.4"/><circle cx="434.4" cy="910"/><circle cx="389.6" cy="919.8"/><circle cx="394" cy="932.9"/><circle cx="404.7" cy="913.6"/><circle cx="395.1" cy="926.3"/><circle cx="393.3" cy="924.4"/><circle cx="410.3" cy="926.1"/><circle cx="393.8" cy="924.3"/><circle cx="487.8" cy="895.4"/><circle cx="476.3" cy="899.6"/><circle cx="466.8" cy="904.5"/><circle cx="394.4" cy="923"/><circle cx="490.3" cy="894"/><circle cx="499.4" cy="879.8"/><circle cx="399.9" cy="915.6"/><circle cx="397" cy="919.3"/><circle cx="457.5" cy="895.3"/><circle cx="454.7" cy="894.8"/><circle cx="387.6" cy="920.2"/><circle cx="457.7" cy="895.2"/><circle cx="461.8" cy="895.2"/><circle cx="440.3" cy="896.8"/><circle cx="483.4" cy="890"/><circle cx="391.8" cy="919.7"/><circle cx="404.7" cy="925.7"/><circle cx="472.4" cy="893.5"/><circle cx="493.6" cy="889.9"/><circle cx="482.3" cy="898.6"/><circle cx="470.9" cy="891.1"/><circle cx="438.3" cy="891.7"/><circle cx="393.8" cy="928.2"/><circle cx="457.6" cy="892.2"/><circle cx="395.6" cy="929.1"/><circle cx="476.5" cy="888.1"/><circle cx="395" cy="930.1"/><circle cx="393.7" cy="919.4"/><circle cx="393.6" cy="932"/><circle cx="498" cy="904.5"/><circle cx="394.8" cy="914.8"/><circle cx="484.7" cy="895"/><circle cx="388.1" cy="927.6"/><circle cx="456.1" cy="885"/><circle cx="454.1" cy="894.7"/><circle cx="391.9" cy="919.8"/><circle cx="498.5" cy="883.1"/><circle cx="393.5" cy="925.4"/><circle cx="437.2" cy="902.3"/><circle cx="475.4" cy="889.3"/><circle cx="413.4" cy="912.8"/><circle cx="482.7" cy="895.8"/><circle cx="440.1" cy="900.3"/><circle cx="387.8" cy="924.1"/><circle cx="469.4" cy="891.6"/><circle cx="490.2" cy="907"/><circle cx="497.4" cy="884.1"/><circle cx="495.4" cy="887.9"/><circle cx="466.9" cy="898.4"/><circle cx="455.4" cy="884.6"/><circle cx="395.4" cy="923"/><circle cx="472.8" cy="914.1"/><circle cx="460.3" cy="894.8"/><circle cx="389.1" cy="920.4"/><circle cx="484.2" cy="894.6"/><circle cx="492.5" cy="900.5"/><circle cx="395.5" cy="929.7"/><circle cx="481.8" cy="894.2"/><circle cx="392" cy="931.3"/><circle cx="394.7" cy="923.1"/><circle cx="412.1" cy="920.9"/><circle cx="392" cy="924.7"/><circle cx="446" cy="902.5"/><circle cx="461.2" cy="893"/><circle cx="461.4" cy="879.9"/><circle cx="414.8" cy="923.2"/><circle cx="468.3" cy="904.4"/><circle cx="388.4" cy="924.4"/><circle cx="478.1" cy="884.9"/><circle cx="459.2" cy="893.3"/><circle cx="484.3" cy="891.6"/><circle cx="445.9" cy="900"/><circle cx="462.6" cy="879.2"/><circle cx="483.5" cy="895.6"/><circle cx="390.9" cy="919.1"/><circle cx="470.2" cy="893.8"/><circle cx="469.9" cy="902.2"/><circle cx="484" cy="901.4"/><circle cx="389" cy="923.2"/><circle cx="478.1" cy="885"/><circle cx="388.8" cy="920.1"/><circle cx="473.7" cy="904.3"/><circle cx="411.7" cy="912.3"/><circle cx="484.3" cy="903.2"/><circle cx="491.9" cy="895.4"/><circle cx="405.8" cy="910.1"/><circle cx="491.2" cy="886"/><circle cx="484.3" cy="897"/><circle cx="415" cy="916.2"/><circle cx="391.9" cy="914.8"/><circle cx="419.5" cy="916.2"/><circle cx="480.4" cy="897.9"/><circle cx="394.1" cy="915.6"/><circle cx="414.9" cy="913.7"/><circle cx="399.4" cy="924.8"/><circle cx="413.4" cy="906.5"/><circle cx="388.8" cy="924.7"/><circle cx="391.2" cy="929.8"/><circle cx="401" cy="931.3"/><circle cx="392.4" cy="926.4"/><circle cx="388.3" cy="932.3"/><circle cx="490.8" cy="898.5"/><circle cx="391.6" cy="919.9"/><circle cx="432.5" cy="911.7"/><circle cx="392.2" cy="921.5"/><circle cx="485.4" cy="896"/><circle cx="392.8" cy="920"/><circle cx="479.4" cy="903.8"/><circle cx="469.6" cy="897.5"/><circle cx="390.5" cy="924.3"/><circle cx="435.7" cy="898.7"/><circle cx="454.7" cy="892.5"/><circle cx="468" cy="891.2"/><circle cx="426.5" cy="904.9"/><circle cx="389.9" cy="917.5"/><circle cx="477.9" cy="899.3"/><circle cx="394.3" cy="926.2"/><circle cx="412.1" cy="924.5"/><circle cx="465.5" cy="901.9"/><circle cx="472.9" cy="897.2"/><circle cx="479.7" cy="892.4"/><circle cx="496.6" cy="890.1"/><circle cx="391.5" cy="921.2"/><circle cx="395.1" cy="932.9"/><circle cx="496.5" cy="896.2"/><circle cx="431.5" cy="912"/><circle cx="432.7" cy="914.4"/><circle cx="479.3" cy="883.6"/><circle cx="391.1" cy="919.1"/><circle cx="418.9" cy="901.9"/><circle cx="492.8" cy="907.2"/><circle cx="392.4" cy="931"/><circle cx="441.2" cy="901.8"/><circle cx="394.2" cy="918.3"/><circle cx="457.3" cy="901"/><circle cx="492" cy="888.6"/><circle cx="395.5" cy="918.8"/><circle cx="493.7" cy="908.1"/><circle cx="391.5" cy="925.4"/><circle cx="493.8" cy="896.1"/><circle cx="405.6" cy="918.7"/><circle cx="389.3" cy="919.5"/><circle cx="411" cy="921.1"/><circle cx="477.3" cy="902.4"/><circle cx="471" cy="906"/><circle cx="492.1" cy="895.6"/><circle cx="472.3" cy="899.5"/><circle cx="466.4" cy="901.9"/><circle cx="485.5" cy="902"/><circle cx="407.8" cy="911.6"/><circle cx="464.3" cy="890.1"/><circle cx="400.6" cy="915.8"/><circle cx="476.7" cy="903.5"/><circle cx="423.6" cy="911.9"/><circle cx="478.9" cy="889.2"/><circle cx="390.3" cy="920.5"/><circle cx="490.5" cy="904.7"/><circle cx="390.2" cy="925.1"/><circle cx="437.2" cy="906.5"/><circle cx="395" cy="921.1"/><circle cx="456.3" cy="888.6"/><circle cx="393.2" cy="923.2"/><circle cx="472.8" cy="905.4"/><circle cx="460.8" cy="892"/><circle cx="498.8" cy="906.5"/><circle cx="413.2" cy="919.3"/><circle cx="422.8" cy="909.4"/><circle cx="443.4" cy="897.1"/><circle cx="472" cy="884.1"/><circle cx="494.1" cy="890.3"/><circle cx="492.6" cy="892.3"/><circle cx="485.3" cy="897.3"/><circle cx="458.1" cy="904"/><circle cx="479.1" cy="897.1"/><circle cx="393.3" cy="923.2"/><circle cx="478.3" cy="896.3"/><circle cx="498.9" cy="895.7"/><circle cx="496.5" cy="879.3"/><circle cx="427" cy="907"/><circle cx="466.5" cy="902.8"/><circle cx="479.8" cy="905.7"/><circle cx="404.9" cy="916"/><circle cx="395.1" cy="922.3"/><circle cx="499.8" cy="898.4"/><circle cx="394.3" cy="926.2"/><circle cx="460" cy="898.2"/><circle cx="389.4" cy="927.9"/><circle cx="398.1" cy="915.1"/><circle cx="462.9" cy="905.2"/><circle cx="480.6" cy="894.6"/><circle cx="491.4" cy="912.5"/><circle cx="491.8" cy="891.4"/><circle cx="401.6" cy="914.4"/><circle cx="491.9" cy="896.4"/><circle cx="449.5" cy="899.2"/><circle cx="391.2" cy="923.1"/><circle cx="459.5" cy="891"/><circle cx="471.7" cy="899.5"/><circle cx="476.4" cy="899.6"/><circle cx="481.6" cy="889.7"/><circle cx="388" cy="927.2"/><circle cx="484.9" cy="895.9"/><circle cx="496.6" cy="895.8"/><circle cx="415.8" cy="900.5"/><circle cx="392" cy="919.1"/><circle cx="388.8" cy="913.5"/><circle cx="465" cy="899.7"/><circle cx="389.6" cy="925.2"/><circle cx="431.5" cy="908.3"/><circle cx="398.7" cy="923"/><circle cx="457.8" cy="890.2"/><circle cx="389" cy="923.4"/><circle cx="389.7" cy="918.2"/><circle cx="478.2" cy="885"/><circle cx="409.9" cy="927.1"/><circle cx="465.3" cy="882.8"/><circle cx="388.7" cy="916.9"/><circle cx="486.7" cy="897.6"/><circle cx="486.8" cy="903.6"/><circle cx="453.3" cy="893.9"/><circle cx="477.9" cy="900.6"/><circle cx="428.2" cy="897.7"/><circle cx="424.6" cy="909.7"/><circle cx="442.2" cy="904.1"/><circle cx="452.8" cy="887.1"/><circle cx="461.6" cy="897.9"/><circle cx="425.3" cy="902.9"/><circle cx="490.6" cy="898.8"/><circle cx="455.1" cy="894.1"/><circle cx="391.9" cy="915.9"/><circle cx="421.5" cy="912.9"/><circle cx="388.2" cy="922"/><circle cx="420.3" cy="910.1"/><circle cx="474.1" cy="890.8"/><circle cx="392.3" cy="924.8"/><circle cx="470.1" cy="890.1"/><circle cx="390" cy="913.3"/><circle cx="499.2" cy="905.7"/><circle cx="401.4" cy="923.3"/><circle cx="487.8" cy="915.1"/><circle cx="473.1" cy="896.7"/><circle cx="389" cy="921.6"/><circle cx="388.7" cy="926.8"/><circle cx="392.5" cy="920.9"/><circle cx="394.1" cy="923.4"/><circle cx="390.9" cy="919.8"/><circle cx="395.6" cy="927.8"/><circle cx="454.8" cy="890.4"/><circle cx="448.9" cy="897.9"/><circle cx="498.2" cy="908.7"/><circle cx="392.7" cy="929.1"/><circle cx="492.4" cy="892.6"/><circle cx="469.6" cy="897.5"/><circle cx="391.1" cy="922.9"/><circle cx="495.5" cy="878.8"/><circle cx="420.9" cy="916.1"/><circle cx="438.3" cy="893.5"/><circle cx="473.5" cy="885.2"/><circle cx="487.2" cy="902.1"/><circle cx="464.3" cy="888.8"/><circle cx="467.7" cy="895.7"/><circle cx="471.1" cy="881.6"/><circle cx="395.4" cy="925.8"/><circle cx="465.9" cy="890"/><circle cx="482.6" cy="883.1"/><circle cx="466.7" cy="895.6"/><circle cx="396.5" cy="929.3"/><circle cx="497.6" cy="916.6"/><circle cx="391.3" cy="917.6"/><circle cx="477.1" cy="893"/><circle cx="475.9" cy="887.6"/><circle cx="469.3" cy="895.3"/><circle cx="476.2" cy="875"/><circle cx="394.7" cy="909.9"/><circle cx="389.9" cy="917.2"/><circle cx="460" cy="893.3"/><circle cx="477.3" cy="890.6"/><circle cx="467.7" cy="894.7"/><circle cx="429.6" cy="915.4"/><circle cx="478" cy="896.8"/><circle cx="491.4" cy="898.2"/><circle cx="394.9" cy="922.6"/><circle cx="388" cy="922.7"/><circle cx="479.2" cy="907"/><circle cx="391" cy="929.5"/><circle cx="420.2" cy="912.4"/><circle cx="388.9" cy="922.3"/><circle cx="460.3" cy="904"/><circle cx="458.5" cy="895"/><circle cx="450.6" cy="902"/><circle cx="471.6" cy="890.8"/><circle cx="392.2" cy="912.7"/><circle cx="422.4" cy="914.1"/><circle cx="392.1" cy="922.5"/><circle cx="390.3" cy="930.4"/><circle cx="390.7" cy="923.8"/><circle cx="479.7" cy="893.4"/><circle cx="411.9" cy="910.8"/><circle cx="472.9" cy="889.8"/><circle cx="427.1" cy="914.7"/><circle cx="395.1" cy="917.8"/><circle cx="500.1" cy="887.2"/><circle cx="414.1" cy="912.4"/><circle cx="494.4" cy="906.8"/><circle cx="469.9" cy="901.4"/><circle cx="390.4" cy="925.8"/><circle cx="478.5" cy="895.9"/><circle cx="459" cy="893.8"/><circle cx="394.6" cy="922.9"/><circle cx="492" cy="893.9"/><circle cx="494.9" cy="897"/><circle cx="490.1" cy="895.5"/><circle cx="428.7" cy="899"/><circle cx="450.9" cy="900.5"/><circle cx="489.8" cy="891.7"/><circle cx="391.7" cy="919.2"/><circle cx="498.4" cy="895.8"/><circle cx="480.6" cy="898.4"/><circle cx="395.7" cy="923.7"/><circle cx="407.7" cy="925.7"/><circle cx="437.6" cy="892"/><circle cx="394.1" cy="929.4"/><circle cx="459.8" cy="889.5"/><circle cx="473.5" cy="901.2"/><circle cx="454.8" cy="892.1"/><circle cx="396.6" cy="925.8"/><circle cx="497.6" cy="896"/><circle cx="461.1" cy="898.2"/><circle cx="393.8" cy="921.9"/><circle cx="464.1" cy="910.2"/><circle cx="391.8" cy="925.1"/><circle cx="392.2" cy="920.4"/><circle cx="388.9" cy="924.4"/><circle cx="483.7" cy="894.1"/><circle cx="463.2" cy="893.1"/><circle cx="455.8" cy="892.1"/><circle cx="494.8" cy="890.2"/><circle cx="479" cy="901.2"/><circle cx="393" cy="918"/><circle cx="417.2" cy="921.1"/><circle cx="393.2" cy="929.7"/><circle cx="492.2" cy="894"/><circle cx="473.5" cy="887.1"/><circle cx="498.4" cy="896"/><circle cx="498.8" cy="898.1"/><circle cx="490.2" cy="888.2"/><circle cx="489.8" cy="886.4"/><circle cx="390.9" cy="914.6"/><circle cx="475.8" cy="897.9"/><circle cx="469.7" cy="893.1"/><circle cx="475.5" cy="901.3"/><circle cx="472.9" cy="895.4"/><circle cx="461.2" cy="892.2"/><circle cx="497.6" cy="901.1"/><circle cx="460.7" cy="910.4"/><circle cx="448.2" cy="892.9"/><circle cx="477.6" cy="891.8"/><circle cx="481.6" cy="887.7"/><circle cx="464.8" cy="912.8"/><circle cx="401.6" cy="927"/><circle cx="491.3" cy="906.9"/><circle cx="392.4" cy="916.3"/><circle cx="393.7" cy="918.6"/><circle cx="429.1" cy="911"/><circle cx="470.6" cy="903.1"/><circle cx="473.7" cy="897.3"/><circle cx="467.6" cy="887.5"/><circle cx="401.2" cy="919.4"/><circle cx="390.9" cy="921.8"/><circle cx="466.6" cy="900.2"/><circle cx="389.6" cy="927.4"/><circle cx="489.9" cy="902.7"/><circle cx="390.4" cy="920.8"/><circle cx="476.5" cy="893.9"/><circle cx="392.9" cy="924.7"/><circle cx="395.4" cy="917.4"/><circle cx="483.7" cy="902.9"/><circle cx="468.8" cy="897.1"/><circle cx="463.1" cy="897.1"/><circle cx="471.3" cy="900.5"/><circle cx="426.3" cy="911.5"/><circle cx="434" cy="893.5"/><circle cx="461.6" cy="897.2"/><circle cx="405.9" cy="915.4"/><circle cx="426.3" cy="905.6"/><circle cx="470" cy="910"/><circle cx="433.8" cy="904.4"/><circle cx="480.5" cy="892"/><circle cx="430.6" cy="906"/><circle cx="465.6" cy="876.2"/><circle cx="390.1" cy="929.8"/><circle cx="463.8" cy="895.7"/><circle cx="413" cy="925.5"/><circle cx="470.1" cy="903.1"/><circle cx="461" cy="911.4"/><circle cx="457.5" cy="889.5"/><circle cx="389.3" cy="926.5"/><circle cx="418.1" cy="921.4"/><circle cx="394.8" cy="911.5"/><circle cx="461.1" cy="905.5"/><circle cx="459.6" cy="889.3"/><circle cx="392.4" cy="920.3"/><circle cx="493.8" cy="904.2"/><circle cx="395.3" cy="916.4"/><circle cx="417.3" cy="911.2"/><circle cx="477.1" cy="909.9"/><circle cx="498.5" cy="893.1"/><circle cx="482.1" cy="894.7"/><circle cx="468.3" cy="903.9"/><circle cx="394.6" cy="924.9"/><circle cx="394.1" cy="923.4"/><circle cx="431.7" cy="903.4"/><circle cx="412.5" cy="918"/><circle cx="387.6" cy="913.3"/><circle cx="392.8" cy="913.7"/><circle cx="444.7" cy="897.6"/><circle cx="430.2" cy="900.6"/><circle cx="389.4" cy="923.5"/><circle cx="391.6" cy="922.3"/><circle cx="404.5" cy="915.3"/><circle cx="478.8" cy="895"/><circle cx="474.5" cy="891.2"/><circle cx="457" cy="905.6"/><circle cx="431.9" cy="906.5"/><circle cx="389.7" cy="924.1"/><circle cx="411.3" cy="908.9"/><circle cx="395.3" cy="930.4"/><circle cx="473.3" cy="905.2"/><circle cx="474.9" cy="894.2"/><circle cx="413.7" cy="912.7"/><circle cx="412.9" cy="919.3"/><circle cx="492.3" cy="895.9"/><circle cx="393.4" cy="920.3"/><circle cx="452.1" cy="892.5"/><circle cx="389" cy="924.3"/><circle cx="404" cy="925"/><circle cx="392.3" cy="922.1"/><circle cx="436" cy="893.8"/><circle cx="392" cy="920.3"/><circle cx="390.4" cy="925.4"/><circle cx="488" cy="899.9"/><circle cx="449.8" cy="894.8"/><circle cx="396.3" cy="923.1"/><circle cx="484.4" cy="893.6"/><circle cx="430.8" cy="914.1"/><circle cx="487.1" cy="911.3"/><circle cx="494.2" cy="886"/><circle cx="422.7" cy="913.5"/><circle cx="498.8" cy="899.4"/><circle cx="483.8" cy="889.9"/><circle cx="483" cy="895.2"/><circle cx="481.3" cy="893.1"/><circle cx="498" cy="887.4"/><circle cx="457.6" cy="901.1"/><circle cx="464.4" cy="886.1"/><circle cx="476.8" cy="893"/><circle cx="461.4" cy="902.3"/><circle cx="390.8" cy="927"/><circle cx="433.4" cy="912.6"/><circle cx="482.5" cy="884.9"/><circle cx="394.6" cy="927.9"/><circle cx="463.7" cy="883.7"/><circle cx="394.6" cy="916.9"/><circle cx="392.6" cy="921.7"/><circle cx="477.6" cy="899"/><circle cx="489.3" cy="873.5"/><circle cx="395.1" cy="925.9"/><circle cx="455.9" cy="912.5"/><circle cx="476.7" cy="908.9"/><circle cx="466.4" cy="890.4"/><circle cx="413.2" cy="915.6"/><circle cx="489.8" cy="891.1"/><circle cx="392.6" cy="921.8"/><circle cx="458.4" cy="886.3"/><circle cx="464.5" cy="884.5"/><circle cx="392.1" cy="927.5"/><circle cx="394.1" cy="924.3"/><circle cx="478.3" cy="896.8"/><circle cx="465.9" cy="890.4"/><circle cx="451.1" cy="902.3"/><circle cx="418.3" cy="906.6"/><circle cx="417.7" cy="921.4"/><circle cx="498.9" cy="909.6"/><circle cx="393.5" cy="932.8"/><circle cx="467.8" cy="900.9"/><circle cx="439.5" cy="898.4"/><circle cx="395.6" cy="924.3"/><circle cx="459.1" cy="896"/><circle cx="454.9" cy="893.1"/><circle cx="409.3" cy="915.9"/><circle cx="433.6" cy="908.7"/><circle cx="463.3" cy="897.3"/><circle cx="454.6" cy="899.1"/><circle cx="475.1" cy="888"/><circle cx="456.1" cy="890.2"/><circle cx="393.6" cy="915.5"/><circle cx="434.2" cy="906"/><circle cx="499.5" cy="901.5"/><circle cx="496.4" cy="899.3"/><circle cx="475.2" cy="916.1"/><circle cx="449.5" cy="897.2"/><circle cx="483.6" cy="892.4"/><circle cx="475.5" cy="899"/><circle cx="390.3" cy="913.9"/><circle cx="404" cy="923.3"/><circle cx="405.3" cy="916.4"/><circle cx="389.7" cy="925.6"/><circle cx="462.2" cy="899.2"/><circle cx="442.1" cy="900.6"/><circle cx="468.5" cy="890.4"/><circle cx="497.6" cy="898.5"/><circle cx="461.6" cy="901.7"/><circle cx="494.2" cy="894.6"/><circle cx="447.8" cy="879.5"/><circle cx="471.1" cy="894"/><circle cx="466" cy="885.6"/><circle cx="461.9" cy="896.1"/><circle cx="392.6" cy="926.3"/><circle cx="407" cy="919.7"/><circle cx="400.8" cy="925.4"/><circle cx="404.4" cy="921"/><circle cx="476.2" cy="906.3"/><circle cx="491.2" cy="886"/><circle cx="481.7" cy="898.4"/><circle cx="454.7" cy="892.2"/><circle cx="396.5" cy="927.3"/><circle cx="494.5" cy="889"/><circle cx="390.9" cy="921.6"/><circle cx="394.2" cy="917.6"/><circle cx="422.7" cy="909.6"/><circle cx="464" cy="894.9"/><circle cx="473.3" cy="907.7"/><circle cx="394" cy="920.4"/><circle cx="467" cy="899.7"/><circle cx="455.1" cy="897.2"/><circle cx="493.3" cy="902.2"/><circle cx="414.7" cy="918.4"/><circle cx="460.7" cy="901.4"/><circle cx="456.7" cy="893.5"/><circle cx="458.6" cy="900.1"/><circle cx="476.9" cy="879.3"/><circle cx="463.4" cy="896.9"/><circle cx="496.8" cy="898.5"/><circle cx="395.2" cy="922.9"/><circle cx="491" cy="889.6"/><circle cx="394.8" cy="926.9"/><circle cx="391.8" cy="915.9"/><circle cx="487.5" cy="895.3"/><circle cx="403.4" cy="920.7"/><circle cx="455.2" cy="908.1"/><circle cx="484.7" cy="912.1"/><circle cx="476.8" cy="894.5"/><circle cx="499.7" cy="911.8"/><circle cx="394.1" cy="922.5"/><circle cx="394.8" cy="915.9"/><circle cx="487.1" cy="914.9"/><circle cx="424.6" cy="903.9"/><circle cx="441.8" cy="904.1"/><circle cx="476.2" cy="885.8"/><circle cx="499.4" cy="896.7"/><circle cx="496.5" cy="885.8"/><circle cx="489.2" cy="894"/><circle cx="458.9" cy="901.9"/><circle cx="458.5" cy="895.7"/><circle cx="461.9" cy="887.2"/><circle cx="388.4" cy="922.5"/><circle cx="395" cy="918.7"/><circle cx="460.2" cy="906.7"/><circle cx="476.7" cy="897.8"/><circle cx="393.6" cy="918.5"/><circle cx="483.5" cy="903.2"/><circle cx="404.6" cy="924.5"/><circle cx="458.5" cy="896"/><circle cx="464.3" cy="888.8"/><circle cx="408.2" cy="923.1"/><circle cx="491.8" cy="896.5"/><circle cx="389.5" cy="930.9"/><circle cx="393.9" cy="924.4"/><circle cx="437.4" cy="899.2"/><circle cx="399.9" cy="922.1"/><circle cx="393.1" cy="923"/><circle cx="479.9" cy="891.5"/><circle cx="410.2" cy="919.3"/><circle cx="393.6" cy="929"/><circle cx="498.3" cy="905.1"/><circle cx="391.9" cy="921.1"/><circle cx="455.5" cy="898"/><circle cx="464" cy="901.5"/><circle cx="493.5" cy="892.2"/><circle cx="479.4" cy="888.3"/><circle cx="438.6" cy="908.5"/><circle cx="489.3" cy="898.3"/><circle cx="393.6" cy="932.9"/><circle cx="446.3" cy="892.8"/><circle cx="442.2" cy="901.2"/><circle cx="394.8" cy="921"/><circle cx="467.9" cy="885.9"/><circle cx="418.2" cy="913"/><circle cx="465.3" cy="900.1"/><circle cx="488.1" cy="905.7"/><circle cx="472.2" cy="899"/><circle cx="454.6" cy="855.3"/><circle cx="414.8" cy="890.6"/><circle cx="484" cy="872.3"/><circle cx="498.7" cy="874.8"/><circle cx="464.9" cy="921"/></g>
<path d="M388.4 923.4 L390.2 923.4 L392.1 923.2 L394 923 L395.8 922.6 L397.7 922.2 L399.5 921.7 L401.4 921.1 L403.3 920.4 L405.1 919.7 L407 918.9 L408.9 918 L410.7 917 L412.6 916 L414.5 915 L416.3 913.9 L418.2 912.8 L420 911.7 L421.9 910.5 L423.8 909.4 L425.6 908.2 L427.5 907 L429.4 905.9 L431.2 904.8 L433.1 903.7 L434.9 902.7 L436.8 901.7 L438.7 900.8 L440.5 899.9 L442.4 899.1 L444.3 898.3 L446.1 897.7 L448 897.1 L449.9 896.6 L451.7 896.2 L453.6 895.8 L455.4 895.6 L457.3 895.5 L459.2 895.4 L461 895.4 L462.9 895.4 L464.8 895.4 L466.6 895.4 L468.5 895.4 L470.3 895.4 L472.2 895.4 L474.1 895.4 L475.9 895.4 L477.8 895.4 L479.7 895.4 L481.5 895.4 L483.4 895.4 L485.3 895.4 L487.1 895.4 L489 895.4 L490.8 895.4 L492.7 895.4 L494.6 895.4 L496.4 895.4 L498.3 895.4 L500.2 895.4" stroke="#111" stroke-width="1.3" fill="none"/>
<rect x="366.3" y="840.7" width="147.1" height="97.3" fill="none" stroke="#111" stroke-width="1.5"/>
<line x1="362.8" y1="938" x2="366.3" y2="938" stroke="#111" stroke-width="1"/>
<text x="360.5" y="940.8" font-size="8" text-anchor="end">0</text>
<line x1="362.8" y1="913.7" x2="366.3" y2="913.7" stroke="#111" stroke-width="1"/>
<text x="360.5" y="916.5" font-size="8" text-anchor="end">20</text>
<line x1="362.8" y1="889.4" x2="366.3" y2="889.4" stroke="#111" stroke-width="1"/>
<text x="360.5" y="892.1" font-size="8" text-anchor="end">40</text>
<line x1="362.8" y1="865" x2="366.3" y2="865" stroke="#111" stroke-width="1"/>
<text x="360.5" y="867.8" font-size="8" text-anchor="end">60</text>
<line x1="362.8" y1="840.7" x2="366.3" y2="840.7" stroke="#111" stroke-width="1"/>
<text x="360.5" y="843.5" font-size="8" text-anchor="end">80</text>
<line x1="366.3" y1="938" x2="366.3" y2="941.5" stroke="#111" stroke-width="1"/>
<text x="366.3" y="952" font-size="9.2" text-anchor="middle">-8</text>
<line x1="395.7" y1="938" x2="395.7" y2="941.5" stroke="#111" stroke-width="1"/>
<text x="395.7" y="952" font-size="9.2" text-anchor="middle">-6</text>
<line x1="425.1" y1="938" x2="425.1" y2="941.5" stroke="#111" stroke-width="1"/>
<text x="425.1" y="952" font-size="9.2" text-anchor="middle">-4</text>
<line x1="454.6" y1="938" x2="454.6" y2="941.5" stroke="#111" stroke-width="1"/>
<text x="454.6" y="952" font-size="9.2" text-anchor="middle">-2</text>
<line x1="484" y1="938" x2="484" y2="941.5" stroke="#111" stroke-width="1"/>
<text x="484" y="952" font-size="9.2" text-anchor="middle">0</text>
<line x1="513.4" y1="938" x2="513.4" y2="941.5" stroke="#111" stroke-width="1"/>
<text x="513.4" y="952" font-size="9.2" text-anchor="middle">2</text>
<text x="611.2" y="836.6" font-size="12" text-anchor="middle">LOX-1</text>
<line x1="565.9" y1="841.7" x2="565.9" y2="937" stroke="#888" stroke-width="0.8" stroke-dasharray="3 2.6"/>
<line x1="595.4" y1="841.7" x2="595.4" y2="937" stroke="#888" stroke-width="0.8" stroke-dasharray="3 2.6"/>
<line x1="624.8" y1="841.7" x2="624.8" y2="937" stroke="#888" stroke-width="0.8" stroke-dasharray="3 2.6"/>
<line x1="654.3" y1="841.7" x2="654.3" y2="937" stroke="#888" stroke-width="0.8" stroke-dasharray="3 2.6"/>
<g class="jc" fill="#8fd3e6" stroke="#2a2a20" stroke-width="0.6"><circle cx="664.6" cy="923.1"/><circle cx="606.7" cy="925.8"/><circle cx="625.6" cy="920.2"/><circle cx="563.1" cy="895.3"/><circle cx="602.4" cy="910.4"/><circle cx="581.9" cy="922.3"/><circle cx="653.5" cy="925.1"/><circle cx="636.6" cy="921.4"/><circle cx="562.4" cy="902.2"/><circle cx="662.6" cy="921"/><circle cx="587.8" cy="906.9"/><circle cx="633.9" cy="923.9"/><circle cx="626.7" cy="924.9"/><circle cx="653.7" cy="926.6"/><circle cx="670.3" cy="921.6"/><circle cx="560.9" cy="902.1"/><circle cx="559.1" cy="914.8"/><circle cx="557.9" cy="914.7"/><circle cx="635.9" cy="919.9"/><circle cx="653.6" cy="921.4"/><circle cx="649.2" cy="923.3"/><circle cx="656.5" cy="924.9"/><circle cx="665.5" cy="921.3"/><circle cx="658.3" cy="925.3"/><circle cx="626.1" cy="921.3"/><circle cx="590.2" cy="917.9"/><circle cx="562.5" cy="926.1"/><circle cx="638.8" cy="925.2"/><circle cx="668.6" cy="925.9"/><circle cx="563.4" cy="925.3"/><circle cx="559.2" cy="914.8"/><circle cx="559.6" cy="907.1"/><circle cx="559.9" cy="910.9"/><circle cx="558.3" cy="915.7"/><circle cx="635.3" cy="924.6"/><circle cx="561.8" cy="913.3"/><circle cx="565" cy="920.5"/><circle cx="668" cy="923.8"/><circle cx="586.5" cy="912.2"/><circle cx="652.8" cy="920.6"/><circle cx="618.4" cy="920.3"/><circle cx="666.6" cy="921.2"/><circle cx="562.2" cy="920.9"/><circle cx="560.7" cy="915.6"/><circle cx="626.5" cy="922.1"/><circle cx="638.9" cy="921.6"/><circle cx="655.6" cy="920.3"/><circle cx="564.3" cy="911.3"/><circle cx="584.8" cy="907.3"/><circle cx="558.6" cy="927.7"/><circle cx="581.3" cy="922"/><circle cx="655.5" cy="922"/><circle cx="653" cy="922.5"/><circle cx="562.6" cy="900.4"/><circle cx="565.4" cy="918.4"/><circle cx="559.5" cy="893.9"/><circle cx="564.5" cy="905"/><circle cx="631.5" cy="926.3"/><circle cx="558.1" cy="907.7"/><circle cx="624.9" cy="923.2"/><circle cx="599.7" cy="916"/><circle cx="637.9" cy="922"/><circle cx="563.5" cy="900.7"/><circle cx="561.2" cy="912.8"/><circle cx="636" cy="926.3"/><circle cx="662.8" cy="920.9"/><circle cx="648.5" cy="921.7"/><circle cx="655.6" cy="923"/><circle cx="646.3" cy="927.5"/><circle cx="565.2" cy="904.6"/><circle cx="578.6" cy="922"/><circle cx="560.4" cy="925.9"/><circle cx="661.7" cy="922.4"/><circle cx="663.5" cy="925.2"/><circle cx="649.6" cy="923.7"/><circle cx="558" cy="915.8"/><circle cx="562" cy="900.9"/><circle cx="659.2" cy="923.9"/><circle cx="637.4" cy="928.3"/><circle cx="605.7" cy="918.7"/><circle cx="571.2" cy="909.6"/><circle cx="565" cy="903.8"/><circle cx="576.8" cy="912.2"/><circle cx="645.4" cy="923.1"/><circle cx="561.1" cy="909.5"/><circle cx="572.8" cy="912.4"/><circle cx="633.9" cy="921.6"/><circle cx="630.4" cy="924.7"/><circle cx="558.1" cy="906.5"/><circle cx="649.9" cy="922.4"/><circle cx="635.5" cy="928.4"/><circle cx="576.4" cy="927.7"/><circle cx="565.7" cy="919"/><circle cx="566.6" cy="920.1"/><circle cx="563.5" cy="912.2"/><circle cx="633.2" cy="920"/><circle cx="609.8" cy="920.7"/><circle cx="651.2" cy="927.3"/><circle cx="562" cy="906.6"/><circle cx="574" cy="914.9"/><circle cx="629.3" cy="921"/><circle cx="644.1" cy="920.2"/><circle cx="657.1" cy="923.6"/><circle cx="653.1" cy="922.3"/><circle cx="656.8" cy="921.4"/><circle cx="607.5" cy="917.2"/><circle cx="576.4" cy="909.6"/><circle cx="606.4" cy="912.6"/><circle cx="629.4" cy="928.9"/><circle cx="569.4" cy="919.9"/><circle cx="662.4" cy="921.9"/><circle cx="584.6" cy="912.7"/><circle cx="558.5" cy="932"/><circle cx="637.5" cy="920"/><circle cx="637.7" cy="922.1"/><circle cx="565.3" cy="908.4"/><circle cx="669.6" cy="923.7"/><circle cx="583.3" cy="914.3"/><circle cx="558.5" cy="918.8"/><circle cx="635.7" cy="927.3"/><circle cx="636.4" cy="919.9"/><circle cx="559.4" cy="928.7"/><circle cx="669.6" cy="922.4"/><circle cx="660" cy="923.6"/><circle cx="649.6" cy="922.7"/><circle cx="669.2" cy="923.7"/><circle cx="641.3" cy="919.6"/><circle cx="668.4" cy="919.1"/><circle cx="656.4" cy="920.2"/><circle cx="643.8" cy="926.3"/><circle cx="660.6" cy="923.3"/><circle cx="642.1" cy="918.7"/><circle cx="619.7" cy="921.4"/><circle cx="568.3" cy="910.9"/><circle cx="666.8" cy="924.2"/><circle cx="665.1" cy="921.1"/><circle cx="665.6" cy="924.3"/><circle cx="658.7" cy="920.6"/><circle cx="583.9" cy="905.9"/><circle cx="636.3" cy="925.8"/><circle cx="566.9" cy="911.9"/><circle cx="562.9" cy="908.1"/><circle cx="663.6" cy="924.9"/><circle cx="614.1" cy="921.9"/><circle cx="559.2" cy="916.9"/><circle cx="571.6" cy="910.4"/><circle cx="664.4" cy="926"/><circle cx="558.7" cy="902.2"/><circle cx="564.2" cy="914"/><circle cx="650.6" cy="919.8"/><circle cx="596.2" cy="923.1"/><circle cx="631" cy="925.5"/><circle cx="658" cy="919.8"/><circle cx="561.4" cy="923.1"/><circle cx="632.8" cy="921.7"/><circle cx="666.7" cy="925.4"/><circle cx="583" cy="916.9"/><circle cx="574.7" cy="914.7"/><circle cx="654" cy="921.9"/><circle cx="584.9" cy="926.1"/><circle cx="652.8" cy="924.8"/><circle cx="635.2" cy="924.4"/><circle cx="656.7" cy="923.8"/><circle cx="595.2" cy="932.2"/><circle cx="663.7" cy="922.7"/><circle cx="626.3" cy="924.4"/><circle cx="632.8" cy="924.2"/><circle cx="563.7" cy="901.4"/><circle cx="660.3" cy="927.4"/><circle cx="649.7" cy="922.3"/><circle cx="636.5" cy="924.5"/><circle cx="562.7" cy="916.2"/><circle cx="646.2" cy="921.1"/><circle cx="563.1" cy="900.9"/><circle cx="634.4" cy="923.6"/><circle cx="656.5" cy="920.4"/><circle cx="652.2" cy="921.4"/><circle cx="622.9" cy="923.1"/><circle cx="642.7" cy="921.2"/><circle cx="562.8" cy="909.4"/><circle cx="666.5" cy="924"/><circle cx="586.8" cy="907"/><circle cx="638.3" cy="922"/><circle cx="654.9" cy="922.6"/><circle cx="561.2" cy="912"/><circle cx="670.4" cy="925.2"/><circle cx="590.2" cy="906.6"/><circle cx="595.5" cy="904.9"/><circle cx="600.9" cy="934.1"/><circle cx="628.5" cy="925.9"/><circle cx="561" cy="910"/><circle cx="564.7" cy="906.7"/><circle cx="564.2" cy="926.6"/><circle cx="575.9" cy="909.6"/><circle cx="619.1" cy="921.5"/><circle cx="608.6" cy="932.9"/><circle cx="561.6" cy="918.1"/><circle cx="632.2" cy="920.9"/><circle cx="597.2" cy="922.5"/><circle cx="561.8" cy="893.3"/><circle cx="579.1" cy="912.9"/><circle cx="644.1" cy="922.8"/><circle cx="645.8" cy="924.8"/><circle cx="631.6" cy="922.4"/><circle cx="637.4" cy="923.3"/><circle cx="639" cy="921.8"/><circle cx="658.8" cy="920.6"/><circle cx="613.8" cy="922.3"/><circle cx="635.5" cy="926.2"/><circle cx="599.7" cy="902.2"/><circle cx="661.4" cy="925.8"/><circle cx="647" cy="925.7"/><circle cx="586.7" cy="914.3"/><circle cx="636.8" cy="924.4"/><circle cx="563.7" cy="918.5"/><circle cx="560" cy="898.2"/><circle cx="606.7" cy="928.6"/><circle cx="564.6" cy="918.3"/><circle cx="638" cy="925.5"/><circle cx="636.4" cy="921.3"/><circle cx="616.4" cy="922.9"/><circle cx="624.5" cy="917.3"/><circle cx="584" cy="912.2"/><circle cx="636.8" cy="927.1"/><circle cx="658.3" cy="923.2"/><circle cx="655.4" cy="929"/><circle cx="654.9" cy="921.6"/><circle cx="649.5" cy="925.1"/><circle cx="561.3" cy="914.4"/><circle cx="564.7" cy="903.9"/><circle cx="595" cy="912.4"/><circle cx="654" cy="920.3"/><circle cx="654.8" cy="919.8"/><circle cx="558.5" cy="914.4"/><circle cx="651.3" cy="925.5"/><circle cx="640.6" cy="925.6"/><circle cx="562.2" cy="918.2"/><circle cx="623.2" cy="920"/><circle cx="656.1" cy="920.4"/><circle cx="582.1" cy="920.9"/><circle cx="597.2" cy="913.4"/><circle cx="632.6" cy="922.5"/><circle cx="563.4" cy="926.9"/><circle cx="558" cy="910.5"/><circle cx="611.4" cy="920"/><circle cx="658.4" cy="920.3"/><circle cx="568.8" cy="908.9"/><circle cx="623.4" cy="921.3"/><circle cx="563.5" cy="912.1"/><circle cx="631.2" cy="925.3"/><circle cx="628.3" cy="923.3"/><circle cx="558.2" cy="909.8"/><circle cx="638" cy="920"/><circle cx="565.1" cy="912.9"/><circle cx="562.4" cy="915.2"/><circle cx="629.2" cy="921.2"/><circle cx="596.6" cy="926.3"/><circle cx="564.4" cy="923.7"/><circle cx="590.8" cy="906.9"/><circle cx="611.3" cy="919.7"/><circle cx="664.3" cy="923.1"/><circle cx="564.9" cy="905.9"/><circle cx="561" cy="895.5"/><circle cx="557.9" cy="913.4"/><circle cx="558.6" cy="905"/><circle cx="617.7" cy="922.5"/><circle cx="651.5" cy="922.2"/><circle cx="560.4" cy="911.3"/><circle cx="600.3" cy="924.8"/><circle cx="559.3" cy="916.6"/><circle cx="638" cy="922.2"/><circle cx="629.3" cy="925"/><circle cx="641.4" cy="921.4"/><circle cx="606.6" cy="928.2"/><circle cx="565.9" cy="919.3"/><circle cx="565.9" cy="913.9"/><circle cx="559.7" cy="917.7"/><circle cx="560.1" cy="908.6"/><circle cx="656.6" cy="920.5"/><circle cx="564.9" cy="913.9"/><circle cx="668.7" cy="922.6"/><circle cx="642.1" cy="923.5"/><circle cx="628.3" cy="920.1"/><circle cx="619.6" cy="921.4"/><circle cx="562.6" cy="921.4"/><circle cx="655.7" cy="923.7"/><circle cx="640.9" cy="922.3"/><circle cx="645.7" cy="922.3"/><circle cx="609.9" cy="924.4"/><circle cx="620.2" cy="920.3"/><circle cx="570.8" cy="921"/><circle cx="652" cy="927.5"/><circle cx="651.6" cy="922.8"/><circle cx="636" cy="923.9"/><circle cx="587.6" cy="918.2"/><circle cx="567.5" cy="912.2"/><circle cx="632.6" cy="918.9"/><circle cx="573.3" cy="900.5"/><circle cx="619.6" cy="921.2"/><circle cx="560.2" cy="926.6"/><circle cx="590.9" cy="922.8"/><circle cx="639" cy="925.1"/><circle cx="618.5" cy="923.3"/><circle cx="589.4" cy="926"/><circle cx="616.9" cy="919.7"/><circle cx="651.8" cy="920.5"/><circle cx="563.2" cy="899.4"/><circle cx="563.2" cy="920.2"/><circle cx="600.7" cy="934.2"/><circle cx="647.5" cy="922.1"/><circle cx="655.5" cy="921.6"/><circle cx="559.6" cy="912.8"/><circle cx="654.8" cy="920.4"/><circle cx="658.3" cy="920.6"/><circle cx="559.9" cy="915.6"/><circle cx="558.8" cy="913.1"/><circle cx="668.3" cy="924.4"/><circle cx="638.7" cy="927"/><circle cx="647.8" cy="921.5"/><circle cx="564" cy="923.6"/><circle cx="664.9" cy="919.9"/><circle cx="629.1" cy="920.6"/><circle cx="655.2" cy="925"/><circle cx="630.3" cy="920.4"/><circle cx="662.6" cy="925.4"/><circle cx="560" cy="916.5"/><circle cx="562.3" cy="910.4"/><circle cx="560.9" cy="899.9"/><circle cx="578.4" cy="897.5"/><circle cx="557.9" cy="917.1"/><circle cx="653.4" cy="923.3"/><circle cx="629.3" cy="925.3"/><circle cx="561.3" cy="906.3"/><circle cx="664.2" cy="917.4"/><circle cx="557.9" cy="911.1"/><circle cx="566.9" cy="907.8"/><circle cx="651.4" cy="922.2"/><circle cx="564.6" cy="905.1"/><circle cx="564.7" cy="919.8"/><circle cx="633.4" cy="924.8"/><circle cx="649.1" cy="927.4"/><circle cx="648.4" cy="922.9"/><circle cx="619" cy="921.9"/><circle cx="583.4" cy="908.8"/><circle cx="654" cy="921.9"/><circle cx="608.3" cy="924.1"/><circle cx="564.9" cy="916.9"/><circle cx="623.7" cy="918.7"/><circle cx="609.6" cy="916.8"/><circle cx="637.7" cy="923.6"/><circle cx="662" cy="922.3"/><circle cx="632.9" cy="922.5"/><circle cx="634.4" cy="922.6"/><circle cx="669.5" cy="921.9"/><circle cx="644.8" cy="927.2"/><circle cx="660.1" cy="926.9"/><circle cx="571.1" cy="904.6"/><circle cx="649.8" cy="925.2"/><circle cx="584.1" cy="922.7"/><circle cx="644.2" cy="921.4"/><circle cx="565.6" cy="902.9"/><circle cx="664.9" cy="921.6"/><circle cx="559.9" cy="920.2"/><circle cx="598.4" cy="915.2"/><circle cx="565.7" cy="896.7"/><circle cx="618.4" cy="921.1"/><circle cx="560.4" cy="933"/><circle cx="640.9" cy="919.8"/><circle cx="596.6" cy="923.7"/><circle cx="558.6" cy="898.5"/><circle cx="631.7" cy="920"/><circle cx="650.6" cy="922.9"/><circle cx="640.7" cy="922.2"/><circle cx="625.4" cy="925.5"/><circle cx="635.4" cy="924.3"/><circle cx="595.8" cy="930.2"/><circle cx="580.7" cy="896.1"/><circle cx="562.7" cy="905.7"/><circle cx="659.6" cy="920.8"/><circle cx="646.6" cy="923.6"/><circle cx="668.4" cy="920.8"/><circle cx="648.2" cy="918.3"/><circle cx="665.2" cy="926.2"/><circle cx="650.8" cy="922.8"/><circle cx="571.5" cy="911.4"/><circle cx="595.7" cy="909.8"/><circle cx="649.2" cy="923.2"/><circle cx="565.7" cy="919.4"/><circle cx="563.5" cy="894.4"/><circle cx="639.8" cy="921"/><circle cx="663.2" cy="919.9"/><circle cx="646.3" cy="924.2"/><circle cx="567.4" cy="919.4"/><circle cx="625.5" cy="925"/><circle cx="560" cy="915.3"/><circle cx="649" cy="923.7"/><circle cx="562" cy="909.6"/><circle cx="585.9" cy="913"/><circle cx="622.9" cy="923.1"/><circle cx="604" cy="919.9"/><circle cx="670.1" cy="921.9"/><circle cx="563" cy="933.4"/><circle cx="559" cy="913.1"/><circle cx="648.8" cy="921.9"/><circle cx="645.3" cy="922"/><circle cx="636.2" cy="927.5"/><circle cx="654.7" cy="924.4"/><circle cx="613.7" cy="924"/><circle cx="560.3" cy="888.4"/><circle cx="568.3" cy="914.7"/><circle cx="565.2" cy="912.5"/><circle cx="564.6" cy="914.1"/><circle cx="569.6" cy="898.1"/><circle cx="654.2" cy="917.3"/><circle cx="587.5" cy="931.2"/><circle cx="569.1" cy="904.2"/><circle cx="659.7" cy="922.7"/><circle cx="657.3" cy="928.6"/><circle cx="598.2" cy="926.7"/><circle cx="659.6" cy="924.8"/><circle cx="649.9" cy="920.5"/><circle cx="645.7" cy="923.2"/><circle cx="565.3" cy="913.2"/><circle cx="599.8" cy="912.7"/><circle cx="636" cy="924.5"/><circle cx="615.1" cy="922.5"/><circle cx="648.1" cy="927.2"/><circle cx="626.8" cy="923.1"/><circle cx="562.4" cy="917.2"/><circle cx="633.6" cy="920.1"/><circle cx="558.1" cy="898.6"/><circle cx="667.2" cy="922.4"/><circle cx="565.5" cy="909.6"/><circle cx="568.5" cy="914.9"/><circle cx="566.5" cy="922.7"/><circle cx="646.3" cy="918"/><circle cx="629.1" cy="919.8"/><circle cx="592.2" cy="908.6"/><circle cx="564.4" cy="897.5"/><circle cx="605.1" cy="913.8"/><circle cx="594.3" cy="917"/><circle cx="649.6" cy="920.8"/><circle cx="655.2" cy="923.5"/><circle cx="563.9" cy="925.9"/><circle cx="641.8" cy="923.2"/><circle cx="565" cy="917.2"/><circle cx="650.6" cy="916.7"/><circle cx="565" cy="898.9"/><circle cx="632.4" cy="925"/><circle cx="663.1" cy="923.3"/><circle cx="660.2" cy="920.9"/><circle cx="563.7" cy="911"/><circle cx="636.2" cy="921.7"/><circle cx="595.1" cy="916.5"/><circle cx="639.3" cy="921.6"/><circle cx="650.6" cy="922.6"/><circle cx="562.9" cy="901"/><circle cx="562.6" cy="915.6"/><circle cx="625.4" cy="919.1"/><circle cx="642.5" cy="920.2"/><circle cx="631.8" cy="925"/><circle cx="645.8" cy="924.2"/><circle cx="665.2" cy="922.8"/><circle cx="648" cy="921.2"/><circle cx="561.5" cy="923.8"/><circle cx="562.6" cy="908.4"/><circle cx="645.4" cy="923.3"/><circle cx="630" cy="921.8"/><circle cx="641.4" cy="922.4"/><circle cx="634.7" cy="926.9"/><circle cx="566.7" cy="922.5"/><circle cx="644.3" cy="923.3"/><circle cx="560.3" cy="910.4"/><circle cx="611.8" cy="915.7"/><circle cx="561.5" cy="921.8"/><circle cx="622.6" cy="921.3"/><circle cx="618.9" cy="917.3"/><circle cx="662.5" cy="923.2"/><circle cx="665.5" cy="923.1"/><circle cx="562.7" cy="930.1"/><circle cx="599.8" cy="919.4"/><circle cx="577" cy="904.7"/><circle cx="624.8" cy="922.6"/><circle cx="655.4" cy="920"/><circle cx="611.1" cy="921.3"/><circle cx="650.7" cy="917.7"/><circle cx="628.2" cy="925.1"/><circle cx="562" cy="898.6"/><circle cx="636.2" cy="924.3"/><circle cx="655.7" cy="922.8"/><circle cx="669.4" cy="920.3"/><circle cx="557.8" cy="920.3"/><circle cx="627.7" cy="921.1"/><circle cx="647.8" cy="924.2"/><circle cx="627.9" cy="921.5"/><circle cx="640.8" cy="917.1"/><circle cx="643.1" cy="922.3"/><circle cx="630.9" cy="922.9"/><circle cx="628.6" cy="918.4"/><circle cx="650.2" cy="920"/><circle cx="629.2" cy="926.1"/><circle cx="657.9" cy="918.5"/><circle cx="618.8" cy="926.4"/><circle cx="559.9" cy="903.3"/><circle cx="652" cy="922.5"/><circle cx="619" cy="922.2"/><circle cx="565.1" cy="905.7"/><circle cx="557.9" cy="904.3"/><circle cx="632.1" cy="923.9"/><circle cx="667.4" cy="923.3"/><circle cx="653.8" cy="920.3"/><circle cx="628.6" cy="926.3"/><circle cx="564.4" cy="909.2"/><circle cx="667.3" cy="928.5"/><circle cx="579.4" cy="920.8"/><circle cx="666.5" cy="921.4"/><circle cx="561.3" cy="908.4"/><circle cx="561.1" cy="906.5"/><circle cx="630.4" cy="921"/><circle cx="669.5" cy="923.4"/><circle cx="665.2" cy="922"/><circle cx="640.6" cy="925.3"/><circle cx="668.6" cy="922.5"/><circle cx="626.1" cy="921.5"/><circle cx="665" cy="921.1"/><circle cx="605.7" cy="901.3"/><circle cx="562.1" cy="910.3"/><circle cx="600.9" cy="918.4"/><circle cx="559.9" cy="904.1"/><circle cx="639.9" cy="927.8"/><circle cx="571" cy="908.1"/><circle cx="661.6" cy="922.7"/><circle cx="663.7" cy="923.7"/><circle cx="587.8" cy="907.2"/><circle cx="600.1" cy="910.4"/><circle cx="667.8" cy="921.7"/><circle cx="661" cy="924.5"/><circle cx="559.6" cy="929.3"/><circle cx="606.1" cy="907.8"/><circle cx="558.4" cy="907.4"/><circle cx="561.5" cy="905.5"/><circle cx="656.1" cy="919.7"/><circle cx="571.8" cy="913.7"/><circle cx="652.7" cy="920.3"/><circle cx="561.7" cy="918.9"/><circle cx="663.1" cy="921.7"/><circle cx="597.9" cy="920.6"/><circle cx="668.1" cy="923.6"/><circle cx="625.8" cy="920.7"/><circle cx="651.6" cy="921.2"/><circle cx="562.4" cy="911.8"/><circle cx="585.3" cy="911.4"/><circle cx="639.1" cy="923.1"/><circle cx="668.2" cy="921.1"/><circle cx="651.7" cy="924.7"/><circle cx="643.8" cy="921.2"/><circle cx="655" cy="922.3"/><circle cx="643" cy="922"/><circle cx="638.7" cy="921.6"/><circle cx="642.1" cy="922.9"/><circle cx="615.1" cy="920.3"/><circle cx="600.6" cy="910.2"/><circle cx="616" cy="921.1"/><circle cx="563.3" cy="909.5"/><circle cx="638.5" cy="916.7"/><circle cx="637.8" cy="921.5"/><circle cx="615.7" cy="926.9"/><circle cx="649.3" cy="924.1"/><circle cx="589.7" cy="913.8"/><circle cx="662.2" cy="918.5"/><circle cx="662.9" cy="919.5"/><circle cx="633.4" cy="922.1"/><circle cx="559.4" cy="902.6"/><circle cx="563.5" cy="920.1"/><circle cx="564.5" cy="884.8"/><circle cx="659.9" cy="920.6"/><circle cx="573.7" cy="932.4"/><circle cx="564.3" cy="917.4"/><circle cx="596.7" cy="914.2"/><circle cx="617" cy="919.8"/><circle cx="656.2" cy="923.8"/><circle cx="659.3" cy="924.7"/><circle cx="559.9" cy="923.8"/><circle cx="604.3" cy="919.4"/><circle cx="639.1" cy="921.8"/><circle cx="613.4" cy="917.7"/><circle cx="661.6" cy="923.1"/><circle cx="607.1" cy="926.9"/><circle cx="564.9" cy="902.4"/><circle cx="558" cy="909.7"/><circle cx="563.7" cy="923.4"/><circle cx="619.8" cy="921.4"/><circle cx="626.4" cy="918.5"/><circle cx="641.2" cy="923.6"/><circle cx="564" cy="912.1"/><circle cx="639" cy="922.7"/><circle cx="562.1" cy="910.6"/><circle cx="559.8" cy="920.5"/><circle cx="640.3" cy="924.2"/><circle cx="660.3" cy="923.9"/><circle cx="564.5" cy="904.3"/><circle cx="654.9" cy="921.3"/><circle cx="633.3" cy="920.3"/><circle cx="668.8" cy="923.6"/><circle cx="655.1" cy="925.1"/><circle cx="631.4" cy="926"/><circle cx="648.7" cy="922.2"/><circle cx="564.6" cy="917.4"/><circle cx="669" cy="923.1"/><circle cx="564.4" cy="894.9"/><circle cx="661.4" cy="927.8"/><circle cx="558.4" cy="921.8"/><circle cx="564.4" cy="897"/><circle cx="559.4" cy="916.1"/><circle cx="558.9" cy="913.5"/><circle cx="666.6" cy="925"/><circle cx="581.7" cy="909.3"/><circle cx="664.5" cy="919.3"/><circle cx="564.3" cy="904.3"/><circle cx="642.2" cy="923.8"/><circle cx="561.6" cy="925.1"/><circle cx="558.1" cy="917"/><circle cx="663.8" cy="922.5"/><circle cx="569.7" cy="909.1"/><circle cx="654.7" cy="926.1"/><circle cx="563.3" cy="892.4"/><circle cx="632.3" cy="923.1"/><circle cx="649.8" cy="918"/><circle cx="633.1" cy="920.1"/><circle cx="595.8" cy="921.1"/><circle cx="559.1" cy="911.9"/><circle cx="650.1" cy="924.2"/><circle cx="641.4" cy="919.8"/><circle cx="626.2" cy="928.3"/><circle cx="563.2" cy="925.8"/><circle cx="648.3" cy="922.2"/><circle cx="564.9" cy="918.7"/><circle cx="562.6" cy="914.2"/><circle cx="563.8" cy="914.1"/><circle cx="559.8" cy="907.3"/><circle cx="565.8" cy="914.8"/><circle cx="635.7" cy="921.3"/><circle cx="640" cy="925.4"/><circle cx="666.8" cy="924.1"/><circle cx="594.9" cy="898.4"/><circle cx="565.4" cy="909.7"/><circle cx="670.4" cy="926.6"/><circle cx="648.9" cy="924.4"/><circle cx="629.1" cy="922.3"/><circle cx="642.8" cy="924.7"/><circle cx="579.8" cy="917.4"/><circle cx="650.7" cy="922.8"/><circle cx="626.5" cy="922.5"/><circle cx="635.8" cy="919.8"/><circle cx="628" cy="922.3"/><circle cx="659.8" cy="920.5"/><circle cx="625.1" cy="922.3"/><circle cx="563.2" cy="915.6"/><circle cx="558.9" cy="905.7"/><circle cx="622.4" cy="921.8"/><circle cx="558.9" cy="927.7"/><circle cx="564.4" cy="911.2"/><circle cx="563" cy="926.1"/><circle cx="636.1" cy="925.7"/><circle cx="633.5" cy="926.5"/><circle cx="564.8" cy="919.2"/><circle cx="641.3" cy="920.9"/><circle cx="627" cy="920.5"/><circle cx="661.4" cy="922.5"/><circle cx="670" cy="924.4"/><circle cx="652.1" cy="920.6"/><circle cx="633.9" cy="921.8"/><circle cx="558.8" cy="910.3"/><circle cx="610.4" cy="921.8"/><circle cx="638" cy="922.2"/><circle cx="563.8" cy="927.4"/><circle cx="649.9" cy="919"/><circle cx="600.9" cy="926.1"/><circle cx="606.5" cy="919.2"/><circle cx="640.6" cy="917"/><circle cx="564.7" cy="905.5"/><circle cx="653.6" cy="919.3"/><circle cx="648.1" cy="923.2"/><circle cx="560" cy="913.6"/><circle cx="598" cy="918"/><circle cx="651.3" cy="922.4"/><circle cx="649" cy="923.3"/><circle cx="646.4" cy="924.8"/><circle cx="653.3" cy="926.6"/><circle cx="607.7" cy="916"/><circle cx="563" cy="911.3"/><circle cx="563.3" cy="901"/><circle cx="634.4" cy="922.9"/><circle cx="649.4" cy="922.2"/><circle cx="635.6" cy="925.3"/><circle cx="561.4" cy="910.6"/><circle cx="568.2" cy="911.6"/><circle cx="561" cy="918.8"/><circle cx="652.3" cy="925.2"/><circle cx="640.1" cy="924.2"/><circle cx="564.2" cy="914.5"/><circle cx="667.6" cy="927.4"/><circle cx="586.6" cy="911.4"/><circle cx="565.2" cy="919.8"/><circle cx="562.6" cy="901.7"/><circle cx="565.1" cy="912.6"/><circle cx="649.3" cy="921.3"/><circle cx="639.2" cy="920.6"/><circle cx="639.3" cy="920.2"/><circle cx="630.9" cy="920.6"/><circle cx="558.2" cy="907.9"/><circle cx="670.4" cy="921.9"/><circle cx="621.6" cy="924.1"/><circle cx="664" cy="922"/><circle cx="638.6" cy="920.4"/><circle cx="562.3" cy="909.3"/><circle cx="636.8" cy="918.5"/><circle cx="619.5" cy="922.7"/><circle cx="617" cy="921.3"/><circle cx="655.8" cy="928.8"/><circle cx="651.2" cy="918.9"/><circle cx="624.9" cy="919"/><circle cx="594.5" cy="915.5"/><circle cx="654" cy="921.3"/><circle cx="560.8" cy="916"/><circle cx="563" cy="930.1"/><circle cx="613.5" cy="924.2"/><circle cx="560.9" cy="892.9"/><circle cx="668.1" cy="922.4"/><circle cx="636.3" cy="920.8"/><circle cx="635.1" cy="927.6"/><circle cx="614.5" cy="918.9"/><circle cx="640.7" cy="922.3"/><circle cx="653.3" cy="922.3"/><circle cx="668.5" cy="925.7"/><circle cx="562.2" cy="931.2"/><circle cx="636.2" cy="923.7"/><circle cx="588.9" cy="926"/><circle cx="603.1" cy="920.7"/><circle cx="627.5" cy="924.1"/><circle cx="561.9" cy="916.8"/><circle cx="657.1" cy="923.3"/><circle cx="651.4" cy="923.8"/><circle cx="664" cy="918.7"/><circle cx="564.8" cy="919.5"/><circle cx="632.5" cy="924.4"/><circle cx="624.1" cy="925.7"/><circle cx="639.3" cy="922.8"/><circle cx="560.5" cy="911.1"/><circle cx="659.1" cy="921.6"/><circle cx="589.5" cy="864.5"/><circle cx="591" cy="865.6"/><circle cx="571.8" cy="872.1"/><circle cx="565.9" cy="872.1"/><circle cx="589.5" cy="880.7"/><circle cx="608.6" cy="899.1"/><circle cx="629.2" cy="908.8"/><circle cx="632.2" cy="914.2"/><circle cx="654.3" cy="891.5"/><circle cx="669" cy="912.5"/><circle cx="563" cy="881.8"/></g>
<path d="M558.6 912.1 L560.4 912.1 L562.3 912.1 L564.2 912.1 L566 912.1 L567.9 912.1 L569.8 912.1 L571.6 912.1 L573.5 912.2 L575.4 912.3 L577.2 912.5 L579.1 912.8 L581 913 L582.8 913.4 L584.7 913.7 L586.5 914.1 L588.4 914.5 L590.3 914.9 L592.1 915.4 L594 915.9 L595.9 916.4 L597.7 916.9 L599.6 917.4 L601.5 917.9 L603.3 918.4 L605.2 918.9 L607.1 919.4 L608.9 919.9 L610.8 920.3 L612.7 920.7 L614.5 921.1 L616.4 921.5 L618.2 921.8 L620.1 922.1 L622 922.3 L623.8 922.5 L625.7 922.7 L627.6 922.8 L629.4 922.9 L631.3 922.9 L633.2 922.9 L635 922.9 L636.9 922.9 L638.8 922.9 L640.6 922.9 L642.5 922.9 L644.3 922.9 L646.2 922.9 L648.1 922.9 L649.9 922.9 L651.8 922.9 L653.7 922.9 L655.5 922.9 L657.4 922.9 L659.3 922.9 L661.1 922.9 L663 922.9 L664.9 922.9 L666.7 922.9 L668.6 922.9 L670.5 922.9" stroke="#111" stroke-width="1.3" fill="none"/>
<rect x="536.5" y="840.7" width="147.2" height="97.3" fill="none" stroke="#111" stroke-width="1.5"/>
<line x1="533" y1="927.2" x2="536.5" y2="927.2" stroke="#111" stroke-width="1"/>
<text x="533.9" y="930" font-size="8" text-anchor="end">0</text>
<line x1="533" y1="905.6" x2="536.5" y2="905.6" stroke="#111" stroke-width="1"/>
<text x="533.9" y="908.4" font-size="8" text-anchor="end">1e4</text>
<line x1="533" y1="883.9" x2="536.5" y2="883.9" stroke="#111" stroke-width="1"/>
<text x="533.9" y="886.7" font-size="8" text-anchor="end">2e4</text>
<line x1="533" y1="862.3" x2="536.5" y2="862.3" stroke="#111" stroke-width="1"/>
<text x="533.9" y="865.1" font-size="8" text-anchor="end">3e4</text>
<line x1="533" y1="840.7" x2="536.5" y2="840.7" stroke="#111" stroke-width="1"/>
<text x="533.9" y="843.5" font-size="8" text-anchor="end">4e4</text>
<line x1="536.5" y1="938" x2="536.5" y2="941.5" stroke="#111" stroke-width="1"/>
<text x="536.5" y="952" font-size="9.2" text-anchor="middle">-8</text>
<line x1="565.9" y1="938" x2="565.9" y2="941.5" stroke="#111" stroke-width="1"/>
<text x="565.9" y="952" font-size="9.2" text-anchor="middle">-6</text>
<line x1="595.4" y1="938" x2="595.4" y2="941.5" stroke="#111" stroke-width="1"/>
<text x="595.4" y="952" font-size="9.2" text-anchor="middle">-4</text>
<line x1="624.8" y1="938" x2="624.8" y2="941.5" stroke="#111" stroke-width="1"/>
<text x="624.8" y="952" font-size="9.2" text-anchor="middle">-2</text>
<line x1="654.3" y1="938" x2="654.3" y2="941.5" stroke="#111" stroke-width="1"/>
<text x="654.3" y="952" font-size="9.2" text-anchor="middle">0</text>
<line x1="683.7" y1="938" x2="683.7" y2="941.5" stroke="#111" stroke-width="1"/>
<text x="683.7" y="952" font-size="9.2" text-anchor="middle">2</text>
<text x="339" y="967" font-size="12">UMAP1</text>
<text x="10.5" y="890" font-size="12" text-anchor="middle" transform="rotate(-90 10.5 890)">Intensity</text>
</svg></body></html>
